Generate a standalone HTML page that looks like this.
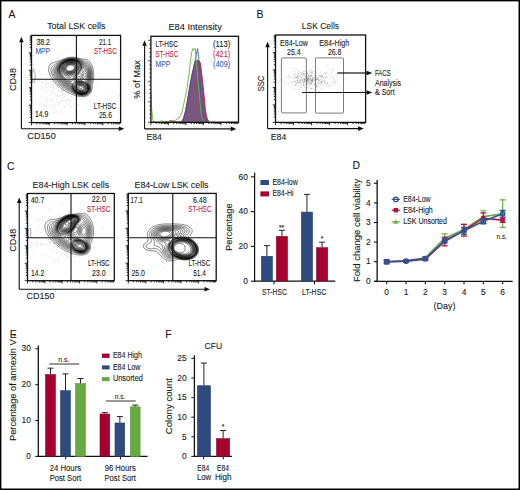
<!DOCTYPE html><html><head><meta charset="utf-8"><style>html,body{margin:0;padding:0;background:#fff;}svg{display:block;font-family:"Liberation Sans",sans-serif;}</style></head><body>
<svg width="520" height="490" viewBox="0 0 520 490" font-family="Liberation Sans, sans-serif">
<defs><clipPath id="cA"><rect x="31.5" y="35.5" width="89" height="87"/></clipPath><clipPath id="cB"><rect x="275.5" y="35.2" width="90" height="87"/></clipPath><clipPath id="cC1"><rect x="27.5" y="193.7" width="86.8" height="87"/></clipPath><clipPath id="cC2"><rect x="128.3" y="193.5" width="87.9" height="87.2"/></clipPath><clipPath id="cH"><rect x="151" y="36.5" width="87.5" height="86"/></clipPath></defs>
<rect x="0" y="0" width="520" height="490" fill="#fff"/>
<text x="8.6" y="17.7" font-size="10.4" fill="#1a1a1a" stroke="#1a1a1a" stroke-width="0.1" text-anchor="start">A</text>
<text x="256.6" y="18.0" font-size="10.4" fill="#1a1a1a" stroke="#1a1a1a" stroke-width="0.1" text-anchor="start">B</text>
<text x="7.0" y="169.6" font-size="10.4" fill="#1a1a1a" stroke="#1a1a1a" stroke-width="0.1" text-anchor="start">C</text>
<text x="352.4" y="169.4" font-size="10.4" fill="#1a1a1a" stroke="#1a1a1a" stroke-width="0.1" text-anchor="start">D</text>
<text x="165.2" y="337.6" font-size="10.4" fill="#1a1a1a" stroke="#1a1a1a" stroke-width="0.1" text-anchor="start">F</text>
<path d="M83.6,96.7 L83.1,96.7 L82.6,96.8 L82.1,96.8 L81.6,96.7 L81.1,96.7 L80.7,96.7 L80.4,96.6 L79.9,96.6 L79.4,96.5 L78.9,96.4 L78.6,96.4 L78.1,96.3 L77.7,96.2 L77.4,96.1 L76.9,96.0 L76.6,95.9 L76.1,95.8 L75.8,95.7 L75.4,95.5 L75.0,95.4 L74.6,95.3 L74.3,95.2 L73.9,95.0 L73.6,94.9 L73.1,94.8 L72.9,94.7 L72.4,94.5 L72.1,94.4 L71.6,94.2 L71.4,94.1 L71.0,93.9 L70.6,93.8 L70.4,93.6 L69.9,93.4 L69.6,93.3 L69.3,93.2 L68.9,93.0 L68.6,92.8 L68.3,92.7 L67.9,92.5 L67.6,92.3 L67.3,92.2 L66.8,91.9 L66.6,91.8 L66.3,91.6 L65.9,91.4 L65.6,91.2 L65.3,91.1 L65.1,90.9 L64.7,90.7 L64.3,90.4 L64.1,90.3 L63.8,90.1 L63.5,89.9 L63.2,89.7 L62.8,89.4 L62.6,89.3 L62.3,89.1 L62.1,88.9 L61.8,88.7 L61.4,88.4 L61.1,88.2 L60.8,87.9 L60.6,87.8 L60.3,87.6 L60.1,87.3 L59.8,87.1 L59.5,86.9 L59.2,86.6 L59.0,86.4 L58.7,86.1 L58.4,85.9 L58.1,85.6 L57.8,85.4 L57.6,85.1 L57.3,84.9 L57.1,84.7 L56.8,84.4 L56.6,84.2 L56.3,83.9 L56.1,83.6 L55.8,83.4 L55.6,83.1 L55.4,82.9 L55.1,82.6 L54.9,82.4 L54.7,82.1 L54.5,81.9 L54.3,81.6 L54.1,81.4 L53.8,81.1 L53.6,80.7 L53.3,80.4 L53.1,80.1 L52.9,79.9 L52.7,79.6 L52.6,79.4 L52.3,79.0 L52.1,78.6 L51.9,78.4 L51.7,78.1 L51.6,77.8 L51.3,77.4 L51.1,77.1 L51.0,76.9 L50.8,76.5 L50.6,76.1 L50.5,75.9 L50.3,75.6 L50.1,75.1 L50.0,74.9 L49.8,74.4 L49.7,74.1 L49.6,73.8 L49.4,73.4 L49.3,73.1 L49.2,72.6 L49.0,72.2 L49.0,71.9 L48.8,71.4 L48.8,71.1 L48.7,70.6 L48.7,70.1 L48.6,69.6 L48.6,69.1 L48.6,68.6 L48.7,68.1 L48.8,67.6 L48.8,67.3 L48.9,66.8 L49.0,66.5 L49.2,66.1 L49.4,65.8 L49.6,65.5 L49.8,65.1 L50.0,64.8 L50.2,64.6 L50.4,64.3 L50.7,64.1 L51.0,63.8 L51.3,63.6 L51.6,63.4 L51.8,63.3 L52.2,63.1 L52.6,62.9 L52.8,62.8 L53.3,62.6 L53.6,62.5 L54.1,62.4 L54.3,62.3 L54.8,62.2 L55.1,62.1 L55.6,62.0 L56.1,61.8 L56.3,61.8 L56.8,61.6 L57.1,61.5 L57.6,61.4 L57.8,61.3 L58.3,61.1 L58.6,61.0 L59.1,60.8 L59.3,60.7 L59.7,60.6 L60.1,60.4 L60.3,60.3 L60.8,60.1 L61.1,60.0 L61.4,59.8 L61.8,59.6 L62.1,59.5 L62.6,59.3 L62.8,59.2 L63.3,59.1 L63.6,58.9 L63.9,58.8 L64.3,58.7 L64.6,58.6 L65.1,58.4 L65.4,58.3 L65.8,58.2 L66.2,58.1 L66.6,58.0 L67.1,57.8 L67.4,57.8 L67.9,57.7 L68.4,57.6 L68.6,57.5 L69.1,57.4 L69.6,57.4 L70.1,57.3 L70.4,57.3 L70.9,57.3 L71.4,57.2 L71.9,57.2 L72.4,57.2 L72.9,57.2 L73.4,57.2 L73.9,57.3 L74.4,57.3 L74.6,57.3 L75.1,57.4 L75.6,57.5 L76.1,57.5 L76.4,57.6 L76.9,57.7 L77.4,57.8 L77.6,57.9 L78.1,58.0 L78.5,58.1 L78.9,58.2 L79.4,58.3 L79.6,58.4 L80.1,58.5 L80.4,58.6 L80.9,58.7 L81.4,58.8 L81.6,58.8 L82.1,58.9 L82.6,59.0 L83.1,59.1 L83.4,59.1 L83.9,59.1 L84.4,59.2 L84.9,59.2 L85.4,59.3 L85.7,59.3 L86.2,59.4 L86.6,59.6 L86.9,59.7 L87.2,59.8 L87.7,60.0 L87.9,60.2 L88.2,60.4 L88.5,60.6 L88.8,60.8 L89.1,61.1 L89.3,61.3 L89.6,61.6 L89.8,61.8 L90.0,62.1 L90.2,62.3 L90.4,62.6 L90.7,63.0 L90.9,63.3 L91.0,63.6 L91.2,63.8 L91.4,64.3 L91.6,64.6 L91.7,64.8 L91.9,65.3 L92.0,65.6 L92.2,66.0 L92.3,66.3 L92.4,66.7 L92.6,67.1 L92.7,67.5 L92.8,67.8 L92.9,68.3 L93.0,68.6 L93.1,69.1 L93.2,69.5 L93.3,69.8 L93.3,70.4 L93.4,70.9 L93.5,71.1 L93.5,71.6 L93.6,72.1 L93.6,72.6 L93.7,73.1 L93.7,73.4 L93.7,73.9 L93.7,74.4 L93.7,74.9 L93.7,75.4 L93.7,75.9 L93.7,76.4 L93.7,76.9 L93.7,77.1 L93.6,77.6 L93.6,78.1 L93.5,78.6 L93.5,79.1 L93.4,79.4 L93.4,79.9 L93.3,80.4 L93.2,80.9 L93.2,81.1 L93.1,81.6 L93.0,82.1 L92.9,82.4 L92.8,82.9 L92.7,83.4 L92.6,83.6 L92.5,84.1 L92.4,84.5 L92.3,84.9 L92.3,85.4 L92.2,85.9 L92.2,86.1 L92.1,86.6 L92.1,87.1 L92.1,87.6 L92.0,88.2 L92.0,88.7 L92.0,89.2 L91.9,89.4 L91.8,89.9 L91.7,90.4 L91.7,90.7 L91.5,91.2 L91.4,91.4 L91.2,91.9 L91.1,92.2 L90.9,92.4 L90.7,92.8 L90.4,93.2 L90.2,93.4 L90.0,93.7 L89.8,93.9 L89.6,94.2 L89.3,94.4 L89.0,94.7 L88.7,94.9 L88.4,95.1 L88.2,95.2 L87.8,95.4 L87.4,95.7 L87.2,95.8 L86.8,95.9 L86.4,96.1 L86.1,96.2 L85.7,96.3 L85.2,96.4 L84.9,96.5 L84.4,96.6 L83.9,96.7 L83.6,96.7Z M84.1,95.7 L83.6,95.8 L83.1,95.8 L82.6,95.8 L82.1,95.8 L81.6,95.8 L81.1,95.8 L80.6,95.7 L80.2,95.7 L79.9,95.6 L79.4,95.5 L78.9,95.4 L78.6,95.4 L78.1,95.3 L77.8,95.2 L77.4,95.0 L77.0,94.9 L76.6,94.8 L76.3,94.7 L75.9,94.5 L75.6,94.4 L75.1,94.2 L74.9,94.1 L74.5,93.9 L74.1,93.8 L73.9,93.6 L73.4,93.4 L73.1,93.3 L72.9,93.2 L72.4,92.9 L72.1,92.8 L71.9,92.7 L71.4,92.4 L71.1,92.3 L70.8,92.2 L70.4,91.9 L70.1,91.8 L69.8,91.7 L69.4,91.5 L69.1,91.3 L68.7,91.2 L68.4,91.0 L68.1,90.8 L67.8,90.7 L67.4,90.4 L67.1,90.3 L66.8,90.2 L66.4,89.9 L66.1,89.7 L65.8,89.6 L65.5,89.4 L65.1,89.2 L64.8,89.0 L64.6,88.8 L64.3,88.7 L64.0,88.4 L63.6,88.2 L63.3,88.0 L63.1,87.8 L62.8,87.6 L62.5,87.4 L62.2,87.1 L61.9,86.9 L61.6,86.7 L61.3,86.5 L61.1,86.3 L60.8,86.1 L60.6,85.9 L60.3,85.6 L60.0,85.4 L59.8,85.1 L59.5,84.9 L59.2,84.6 L58.9,84.4 L58.7,84.1 L58.4,83.9 L58.2,83.6 L57.9,83.4 L57.7,83.1 L57.4,82.9 L57.2,82.6 L57.0,82.4 L56.7,82.1 L56.5,81.9 L56.3,81.6 L56.1,81.3 L55.8,81.0 L55.6,80.7 L55.3,80.4 L55.1,80.1 L54.9,79.9 L54.7,79.6 L54.6,79.4 L54.3,79.0 L54.1,78.7 L53.9,78.4 L53.7,78.1 L53.6,77.9 L53.3,77.4 L53.1,77.1 L53.0,76.9 L52.8,76.5 L52.6,76.1 L52.5,75.9 L52.3,75.5 L52.2,75.1 L52.1,74.9 L51.9,74.4 L51.8,74.1 L51.6,73.6 L51.5,73.4 L51.4,72.9 L51.3,72.4 L51.2,72.1 L51.2,71.6 L51.1,71.1 L51.1,70.6 L51.1,70.1 L51.1,69.6 L51.2,69.1 L51.3,68.6 L51.4,68.3 L51.5,67.8 L51.6,67.6 L51.8,67.3 L52.1,66.8 L52.2,66.6 L52.4,66.3 L52.6,66.1 L52.9,65.8 L53.1,65.6 L53.4,65.3 L53.8,65.1 L54.1,64.9 L54.3,64.7 L54.6,64.6 L54.9,64.3 L55.3,64.1 L55.6,64.0 L55.8,63.8 L56.3,63.6 L56.6,63.4 L56.8,63.3 L57.2,63.1 L57.6,62.8 L57.8,62.7 L58.1,62.6 L58.5,62.3 L58.8,62.1 L59.1,62.0 L59.4,61.8 L59.8,61.6 L60.1,61.4 L60.3,61.3 L60.7,61.1 L61.1,60.9 L61.3,60.8 L61.7,60.6 L62.1,60.4 L62.3,60.3 L62.7,60.1 L63.1,59.9 L63.3,59.8 L63.8,59.6 L64.1,59.5 L64.5,59.3 L64.8,59.2 L65.2,59.1 L65.6,58.9 L66.0,58.8 L66.3,58.7 L66.8,58.6 L67.1,58.5 L67.6,58.4 L67.9,58.3 L68.4,58.2 L68.9,58.1 L69.3,58.1 L69.6,58.0 L70.1,58.0 L70.6,57.9 L71.1,57.9 L71.6,57.8 L72.1,57.8 L72.6,57.8 L73.1,57.9 L73.6,57.9 L74.1,57.9 L74.6,58.0 L75.1,58.1 L75.4,58.1 L75.9,58.2 L76.4,58.3 L76.6,58.3 L77.1,58.5 L77.5,58.6 L77.9,58.7 L78.3,58.8 L78.6,58.9 L79.1,59.1 L79.4,59.2 L79.8,59.3 L80.1,59.4 L80.5,59.6 L80.9,59.7 L81.2,59.8 L81.6,60.0 L81.9,60.1 L82.4,60.2 L82.7,60.3 L83.1,60.5 L83.6,60.6 L83.9,60.7 L84.4,60.8 L84.6,60.8 L85.2,61.0 L85.5,61.1 L85.9,61.2 L86.2,61.3 L86.7,61.5 L86.9,61.6 L87.2,61.8 L87.6,62.1 L87.9,62.3 L88.2,62.5 L88.4,62.7 L88.7,62.9 L88.9,63.2 L89.2,63.5 L89.4,63.8 L89.6,64.1 L89.8,64.3 L90.0,64.6 L90.2,64.9 L90.4,65.3 L90.6,65.6 L90.7,65.8 L90.9,66.3 L91.0,66.6 L91.2,66.9 L91.3,67.3 L91.4,67.6 L91.6,68.1 L91.7,68.3 L91.8,68.8 L91.9,69.2 L92.0,69.6 L92.1,70.1 L92.2,70.4 L92.3,70.9 L92.4,71.4 L92.4,71.8 L92.5,72.1 L92.5,72.6 L92.6,73.1 L92.6,73.6 L92.6,74.1 L92.6,74.6 L92.6,75.1 L92.6,75.6 L92.6,76.1 L92.6,76.6 L92.6,77.1 L92.5,77.6 L92.5,78.1 L92.4,78.4 L92.4,78.9 L92.3,79.4 L92.2,79.9 L92.2,80.1 L92.1,80.6 L92.0,81.1 L91.9,81.4 L91.8,81.9 L91.7,82.3 L91.6,82.6 L91.5,83.1 L91.4,83.4 L91.3,83.9 L91.2,84.4 L91.1,84.6 L91.1,85.1 L91.1,85.6 L91.1,86.1 L91.1,86.6 L91.1,87.1 L91.1,87.6 L91.1,88.2 L91.1,88.7 L91.1,89.2 L91.0,89.7 L90.9,90.1 L90.8,90.4 L90.7,90.9 L90.6,91.2 L90.4,91.5 L90.2,91.9 L90.1,92.2 L89.9,92.4 L89.7,92.7 L89.4,93.0 L89.2,93.3 L88.9,93.6 L88.7,93.8 L88.4,94.0 L88.1,94.2 L87.8,94.4 L87.4,94.6 L87.2,94.8 L86.8,94.9 L86.4,95.1 L86.2,95.2 L85.7,95.4 L85.4,95.4 L84.9,95.6 L84.4,95.7 L84.1,95.7Z M83.9,95.2 L83.4,95.3 L82.9,95.3 L82.4,95.3 L81.9,95.3 L81.4,95.3 L80.9,95.2 L80.4,95.2 L80.1,95.1 L79.6,95.1 L79.1,94.9 L78.9,94.9 L78.4,94.8 L78.1,94.7 L77.6,94.5 L77.3,94.4 L76.9,94.3 L76.6,94.2 L76.1,94.0 L75.9,93.8 L75.5,93.7 L75.1,93.5 L74.9,93.4 L74.5,93.2 L74.1,93.0 L73.9,92.8 L73.6,92.7 L73.2,92.4 L72.9,92.2 L72.6,92.1 L72.4,91.9 L71.9,91.7 L71.6,91.5 L71.4,91.3 L71.1,91.2 L70.7,90.9 L70.4,90.7 L70.1,90.6 L69.8,90.4 L69.4,90.2 L69.1,90.1 L68.8,89.9 L68.4,89.7 L68.1,89.6 L67.8,89.4 L67.4,89.2 L67.1,89.0 L66.8,88.9 L66.5,88.7 L66.1,88.4 L65.8,88.3 L65.6,88.1 L65.2,87.9 L64.8,87.7 L64.6,87.5 L64.3,87.3 L64.1,87.1 L63.7,86.9 L63.4,86.6 L63.1,86.5 L62.8,86.3 L62.6,86.1 L62.3,85.9 L62.0,85.6 L61.7,85.4 L61.4,85.1 L61.1,84.9 L60.8,84.6 L60.6,84.4 L60.3,84.2 L60.1,84.0 L59.8,83.7 L59.6,83.5 L59.3,83.2 L59.1,83.0 L58.8,82.7 L58.6,82.5 L58.3,82.2 L58.1,81.9 L57.8,81.7 L57.6,81.4 L57.4,81.1 L57.2,80.9 L57.0,80.6 L56.8,80.4 L56.6,80.1 L56.3,79.8 L56.1,79.5 L55.8,79.1 L55.7,78.9 L55.5,78.6 L55.3,78.3 L55.1,77.9 L54.9,77.6 L54.7,77.4 L54.6,77.0 L54.3,76.6 L54.2,76.4 L54.1,76.0 L53.9,75.6 L53.8,75.4 L53.6,74.9 L53.5,74.6 L53.3,74.1 L53.2,73.9 L53.1,73.4 L53.0,73.1 L52.9,72.6 L52.9,72.1 L52.8,71.6 L52.8,71.1 L52.8,70.6 L52.9,70.1 L53.0,69.6 L53.1,69.2 L53.2,68.8 L53.3,68.5 L53.5,68.1 L53.6,67.8 L53.8,67.6 L54.1,67.2 L54.3,66.9 L54.5,66.6 L54.8,66.3 L55.0,66.1 L55.3,65.8 L55.5,65.6 L55.8,65.3 L56.1,65.1 L56.3,64.9 L56.6,64.7 L56.8,64.5 L57.1,64.3 L57.4,64.1 L57.7,63.8 L58.1,63.6 L58.3,63.4 L58.6,63.2 L58.8,63.0 L59.1,62.8 L59.5,62.6 L59.8,62.3 L60.1,62.2 L60.3,62.0 L60.6,61.8 L61.0,61.6 L61.3,61.4 L61.6,61.3 L61.9,61.1 L62.3,60.8 L62.6,60.7 L62.9,60.6 L63.3,60.3 L63.6,60.2 L63.9,60.1 L64.3,59.9 L64.6,59.8 L65.1,59.6 L65.3,59.5 L65.8,59.3 L66.1,59.3 L66.6,59.1 L66.8,59.0 L67.4,58.9 L67.7,58.8 L68.1,58.7 L68.6,58.6 L68.9,58.6 L69.4,58.5 L69.9,58.4 L70.4,58.4 L70.9,58.3 L71.2,58.3 L71.6,58.3 L72.1,58.3 L72.6,58.3 L73.1,58.3 L73.4,58.3 L73.9,58.4 L74.4,58.4 L74.9,58.5 L75.3,58.6 L75.6,58.6 L76.1,58.7 L76.5,58.8 L76.9,58.9 L77.4,59.1 L77.6,59.1 L78.1,59.3 L78.4,59.4 L78.8,59.6 L79.1,59.7 L79.5,59.8 L79.9,60.0 L80.1,60.1 L80.6,60.3 L80.9,60.5 L81.1,60.6 L81.6,60.8 L81.9,60.9 L82.2,61.1 L82.6,61.3 L82.9,61.4 L83.4,61.6 L83.6,61.7 L84.0,61.8 L84.4,62.0 L84.7,62.1 L85.2,62.3 L85.4,62.4 L85.9,62.6 L86.2,62.7 L86.4,62.8 L86.8,63.1 L87.2,63.3 L87.4,63.5 L87.7,63.7 L87.9,63.9 L88.2,64.1 L88.4,64.4 L88.7,64.6 L88.9,64.9 L89.2,65.3 L89.4,65.6 L89.5,65.8 L89.7,66.1 L89.9,66.5 L90.1,66.8 L90.2,67.1 L90.4,67.5 L90.5,67.8 L90.7,68.2 L90.8,68.6 L90.9,68.9 L91.1,69.3 L91.2,69.8 L91.3,70.1 L91.4,70.6 L91.4,70.9 L91.5,71.4 L91.6,71.9 L91.7,72.4 L91.7,72.6 L91.7,73.1 L91.8,73.6 L91.8,74.1 L91.8,74.6 L91.8,75.1 L91.8,75.6 L91.8,76.1 L91.8,76.6 L91.7,77.1 L91.7,77.6 L91.7,77.9 L91.6,78.4 L91.5,78.9 L91.4,79.4 L91.4,79.6 L91.3,80.1 L91.2,80.6 L91.1,80.9 L91.0,81.4 L90.9,81.6 L90.8,82.1 L90.7,82.5 L90.6,82.9 L90.4,83.4 L90.4,83.6 L90.3,84.1 L90.3,84.6 L90.3,85.1 L90.3,85.6 L90.4,86.1 L90.4,86.5 L90.5,86.9 L90.5,87.4 L90.5,87.9 L90.5,88.4 L90.5,88.9 L90.5,89.4 L90.4,89.7 L90.3,90.2 L90.2,90.7 L90.1,90.9 L89.9,91.3 L89.7,91.7 L89.6,91.9 L89.4,92.2 L89.2,92.5 L88.9,92.8 L88.7,93.0 L88.4,93.3 L88.2,93.5 L87.9,93.7 L87.5,93.9 L87.2,94.1 L86.9,94.3 L86.6,94.4 L86.2,94.6 L85.9,94.7 L85.4,94.9 L85.2,94.9 L84.6,95.1 L84.1,95.2 L83.9,95.2Z M82.6,94.9 L82.1,94.9 L81.6,94.9 L81.4,94.9 L80.9,94.9 L80.4,94.8 L79.9,94.7 L79.6,94.7 L79.1,94.6 L78.6,94.4 L78.4,94.4 L77.9,94.2 L77.6,94.1 L77.1,93.9 L76.9,93.8 L76.5,93.7 L76.1,93.5 L75.9,93.4 L75.5,93.2 L75.1,93.0 L74.9,92.8 L74.6,92.7 L74.2,92.4 L73.9,92.2 L73.6,92.1 L73.4,91.9 L73.1,91.7 L72.7,91.4 L72.4,91.2 L72.1,91.0 L71.9,90.8 L71.6,90.6 L71.3,90.4 L71.0,90.2 L70.6,89.9 L70.4,89.8 L70.1,89.6 L69.8,89.4 L69.4,89.2 L69.1,89.0 L68.9,88.9 L68.4,88.7 L68.1,88.5 L67.9,88.4 L67.5,88.2 L67.1,88.0 L66.8,87.8 L66.6,87.6 L66.1,87.4 L65.8,87.2 L65.6,87.1 L65.3,86.9 L64.9,86.6 L64.6,86.4 L64.3,86.2 L64.1,86.1 L63.8,85.9 L63.5,85.6 L63.2,85.4 L62.8,85.1 L62.6,84.9 L62.3,84.7 L62.1,84.5 L61.8,84.3 L61.6,84.1 L61.3,83.9 L61.0,83.6 L60.8,83.4 L60.5,83.1 L60.2,82.9 L60.0,82.6 L59.7,82.4 L59.5,82.1 L59.3,81.9 L59.0,81.6 L58.8,81.4 L58.6,81.1 L58.3,80.8 L58.1,80.5 L57.8,80.2 L57.6,79.9 L57.4,79.6 L57.2,79.4 L57.0,79.1 L56.8,78.8 L56.6,78.4 L56.4,78.1 L56.2,77.9 L56.1,77.6 L55.8,77.1 L55.7,76.9 L55.5,76.6 L55.3,76.1 L55.2,75.9 L55.1,75.6 L54.9,75.1 L54.8,74.9 L54.6,74.4 L54.6,74.1 L54.4,73.6 L54.3,73.1 L54.3,72.9 L54.2,72.4 L54.2,71.9 L54.2,71.4 L54.2,70.9 L54.2,70.4 L54.3,70.0 L54.4,69.6 L54.6,69.1 L54.6,68.8 L54.8,68.5 L55.0,68.1 L55.1,67.8 L55.3,67.5 L55.6,67.2 L55.8,66.8 L56.0,66.6 L56.2,66.3 L56.4,66.1 L56.6,65.8 L56.9,65.6 L57.1,65.3 L57.4,65.1 L57.6,64.8 L57.9,64.6 L58.2,64.3 L58.4,64.1 L58.7,63.8 L59.0,63.6 L59.3,63.4 L59.6,63.2 L59.8,63.0 L60.1,62.8 L60.4,62.6 L60.7,62.3 L61.1,62.1 L61.3,61.9 L61.6,61.8 L61.9,61.6 L62.3,61.3 L62.6,61.2 L62.8,61.0 L63.3,60.8 L63.6,60.7 L63.8,60.5 L64.3,60.3 L64.6,60.2 L64.9,60.1 L65.3,59.9 L65.6,59.8 L66.1,59.6 L66.3,59.6 L66.8,59.4 L67.2,59.3 L67.6,59.2 L68.1,59.1 L68.4,59.0 L68.9,58.9 L69.4,58.9 L69.6,58.8 L70.1,58.8 L70.6,58.7 L71.1,58.7 L71.6,58.7 L72.1,58.6 L72.6,58.7 L73.1,58.7 L73.6,58.7 L74.1,58.8 L74.5,58.8 L74.9,58.9 L75.4,59.0 L75.9,59.1 L76.1,59.1 L76.6,59.3 L76.9,59.3 L77.4,59.5 L77.6,59.6 L78.1,59.8 L78.4,59.9 L78.9,60.1 L79.1,60.2 L79.4,60.3 L79.9,60.5 L80.1,60.7 L80.4,60.8 L80.9,61.1 L81.1,61.2 L81.4,61.4 L81.8,61.6 L82.1,61.8 L82.4,61.9 L82.6,62.1 L83.1,62.3 L83.4,62.5 L83.6,62.6 L84.1,62.8 L84.4,63.0 L84.6,63.1 L85.1,63.3 L85.4,63.5 L85.7,63.6 L86.1,63.8 L86.4,64.0 L86.7,64.2 L86.9,64.4 L87.2,64.6 L87.5,64.8 L87.8,65.1 L88.0,65.3 L88.2,65.6 L88.4,65.8 L88.7,66.1 L88.9,66.5 L89.1,66.8 L89.3,67.1 L89.4,67.3 L89.7,67.8 L89.8,68.1 L89.9,68.4 L90.1,68.8 L90.2,69.1 L90.4,69.6 L90.4,69.8 L90.6,70.4 L90.7,70.7 L90.7,71.1 L90.8,71.6 L90.9,72.1 L91.0,72.4 L91.0,72.9 L91.1,73.4 L91.1,73.9 L91.1,74.4 L91.1,74.9 L91.1,75.4 L91.1,75.9 L91.1,76.4 L91.1,76.9 L91.0,77.4 L91.0,77.9 L90.9,78.2 L90.8,78.6 L90.8,79.1 L90.7,79.5 L90.6,79.9 L90.5,80.4 L90.4,80.6 L90.3,81.1 L90.2,81.5 L90.0,81.9 L89.9,82.3 L89.8,82.6 L89.7,83.1 L89.7,83.4 L89.6,83.9 L89.6,84.4 L89.7,84.9 L89.7,85.1 L89.8,85.6 L89.9,86.1 L89.9,86.5 L90.0,86.9 L90.0,87.4 L90.1,87.9 L90.1,88.4 L90.1,88.9 L90.0,89.4 L89.9,89.9 L89.9,90.2 L89.7,90.7 L89.6,90.9 L89.4,91.3 L89.2,91.7 L89.0,91.9 L88.9,92.2 L88.7,92.4 L88.4,92.7 L88.2,92.9 L87.9,93.2 L87.5,93.4 L87.2,93.7 L86.9,93.8 L86.7,94.0 L86.2,94.2 L85.9,94.3 L85.5,94.4 L85.2,94.5 L84.7,94.7 L84.4,94.7 L83.9,94.8 L83.4,94.9 L82.9,94.9 L82.6,94.9Z M84.1,94.5 L83.6,94.5 L83.1,94.6 L82.6,94.6 L82.1,94.6 L81.6,94.6 L81.1,94.6 L80.6,94.5 L80.1,94.5 L79.9,94.4 L79.4,94.3 L78.9,94.2 L78.6,94.1 L78.1,94.0 L77.9,93.9 L77.4,93.7 L77.1,93.6 L76.7,93.4 L76.4,93.3 L76.1,93.1 L75.7,92.9 L75.4,92.7 L75.1,92.6 L74.9,92.4 L74.5,92.2 L74.1,91.9 L73.9,91.7 L73.6,91.5 L73.4,91.4 L73.1,91.2 L72.8,90.9 L72.5,90.7 L72.2,90.4 L71.9,90.2 L71.6,89.9 L71.4,89.7 L71.1,89.5 L70.9,89.3 L70.6,89.1 L70.4,88.9 L70.0,88.7 L69.6,88.4 L69.4,88.3 L69.1,88.1 L68.7,87.9 L68.4,87.7 L68.1,87.6 L67.8,87.4 L67.4,87.2 L67.1,87.0 L66.8,86.9 L66.5,86.6 L66.1,86.4 L65.8,86.3 L65.6,86.1 L65.2,85.9 L64.9,85.6 L64.6,85.5 L64.3,85.3 L64.1,85.1 L63.8,84.9 L63.5,84.6 L63.1,84.4 L62.8,84.1 L62.6,83.9 L62.3,83.7 L62.1,83.5 L61.8,83.3 L61.6,83.1 L61.3,82.8 L61.1,82.6 L60.8,82.4 L60.6,82.1 L60.3,81.8 L60.1,81.6 L59.8,81.3 L59.6,81.0 L59.3,80.7 L59.1,80.4 L58.8,80.1 L58.6,79.9 L58.4,79.6 L58.3,79.4 L58.1,79.1 L57.8,78.8 L57.6,78.4 L57.4,78.1 L57.3,77.9 L57.1,77.5 L56.8,77.1 L56.7,76.9 L56.6,76.6 L56.4,76.1 L56.2,75.9 L56.1,75.4 L55.9,75.1 L55.8,74.8 L55.7,74.4 L55.6,73.9 L55.5,73.6 L55.4,73.1 L55.3,72.6 L55.3,72.4 L55.3,71.9 L55.3,71.4 L55.3,70.9 L55.3,70.5 L55.4,70.1 L55.5,69.6 L55.6,69.3 L55.7,68.8 L55.8,68.6 L56.1,68.1 L56.2,67.8 L56.3,67.6 L56.6,67.2 L56.8,66.8 L56.9,66.6 L57.1,66.3 L57.3,66.1 L57.6,65.8 L57.8,65.5 L58.1,65.2 L58.3,64.9 L58.6,64.7 L58.8,64.4 L59.1,64.2 L59.3,64.0 L59.6,63.7 L59.8,63.5 L60.1,63.3 L60.4,63.1 L60.7,62.8 L61.0,62.6 L61.3,62.4 L61.6,62.2 L61.8,62.0 L62.2,61.8 L62.6,61.6 L62.8,61.4 L63.1,61.3 L63.5,61.1 L63.8,60.9 L64.1,60.8 L64.5,60.6 L64.8,60.4 L65.1,60.3 L65.6,60.1 L65.8,60.1 L66.3,59.9 L66.6,59.8 L67.1,59.6 L67.4,59.6 L67.9,59.4 L68.4,59.3 L68.6,59.3 L69.1,59.2 L69.6,59.1 L70.0,59.1 L70.4,59.0 L70.9,59.0 L71.4,59.0 L71.9,58.9 L72.4,58.9 L72.9,59.0 L73.4,59.0 L73.9,59.0 L74.1,59.1 L74.6,59.1 L75.1,59.2 L75.5,59.3 L75.9,59.4 L76.4,59.5 L76.6,59.6 L77.1,59.8 L77.4,59.9 L77.9,60.1 L78.1,60.2 L78.5,60.3 L78.9,60.5 L79.1,60.6 L79.5,60.8 L79.9,61.0 L80.1,61.2 L80.4,61.3 L80.8,61.6 L81.1,61.8 L81.4,62.0 L81.6,62.1 L81.9,62.3 L82.3,62.6 L82.6,62.8 L82.9,63.0 L83.1,63.2 L83.4,63.3 L83.8,63.6 L84.1,63.8 L84.4,63.9 L84.6,64.1 L85.1,64.3 L85.4,64.5 L85.7,64.7 L85.9,64.8 L86.3,65.1 L86.7,65.3 L86.9,65.5 L87.2,65.7 L87.4,66.0 L87.7,66.2 L87.9,66.5 L88.2,66.8 L88.4,67.1 L88.5,67.3 L88.7,67.6 L88.9,68.0 L89.1,68.3 L89.2,68.6 L89.4,69.0 L89.6,69.3 L89.7,69.6 L89.8,70.1 L89.9,70.4 L90.0,70.9 L90.2,71.4 L90.2,71.6 L90.3,72.1 L90.4,72.6 L90.4,72.9 L90.5,73.4 L90.5,73.9 L90.5,74.4 L90.5,74.9 L90.5,75.4 L90.5,75.9 L90.5,76.4 L90.5,76.9 L90.4,77.2 L90.4,77.6 L90.3,78.1 L90.2,78.6 L90.2,78.9 L90.0,79.4 L89.9,79.9 L89.9,80.1 L89.7,80.6 L89.6,80.9 L89.5,81.4 L89.4,81.6 L89.2,82.1 L89.2,82.4 L89.0,82.9 L89.0,83.4 L89.0,83.9 L89.1,84.4 L89.2,84.9 L89.2,85.1 L89.3,85.6 L89.4,86.0 L89.5,86.4 L89.6,86.9 L89.7,87.4 L89.7,87.6 L89.7,88.2 L89.7,88.7 L89.7,89.2 L89.7,89.4 L89.6,89.9 L89.4,90.4 L89.3,90.7 L89.2,91.0 L88.9,91.4 L88.8,91.7 L88.6,91.9 L88.4,92.2 L88.2,92.4 L87.9,92.7 L87.6,92.9 L87.3,93.2 L86.9,93.4 L86.7,93.6 L86.4,93.7 L86.0,93.9 L85.7,94.0 L85.3,94.2 L84.9,94.3 L84.4,94.4 L84.1,94.5Z M84.1,94.2 L83.6,94.3 L83.1,94.3 L82.6,94.4 L82.1,94.4 L81.6,94.4 L81.1,94.3 L80.6,94.3 L80.1,94.2 L79.9,94.2 L79.4,94.1 L78.9,93.9 L78.6,93.9 L78.1,93.7 L77.9,93.6 L77.4,93.4 L77.1,93.3 L76.8,93.2 L76.4,92.9 L76.1,92.8 L75.9,92.7 L75.4,92.4 L75.1,92.2 L74.9,92.1 L74.6,91.9 L74.3,91.7 L74.0,91.4 L73.7,91.2 L73.4,90.9 L73.1,90.7 L72.9,90.4 L72.6,90.2 L72.4,90.0 L72.1,89.7 L71.9,89.5 L71.6,89.2 L71.4,89.0 L71.1,88.7 L70.9,88.5 L70.6,88.3 L70.4,88.1 L70.1,87.9 L69.8,87.6 L69.4,87.4 L69.1,87.3 L68.9,87.1 L68.5,86.9 L68.1,86.7 L67.9,86.6 L67.5,86.4 L67.1,86.2 L66.8,86.0 L66.6,85.9 L66.2,85.6 L65.8,85.4 L65.6,85.3 L65.3,85.1 L65.0,84.9 L64.7,84.6 L64.3,84.4 L64.1,84.2 L63.8,84.0 L63.6,83.8 L63.3,83.6 L63.0,83.4 L62.7,83.1 L62.4,82.9 L62.2,82.6 L61.9,82.4 L61.6,82.1 L61.4,81.9 L61.1,81.6 L60.9,81.4 L60.7,81.1 L60.4,80.9 L60.2,80.6 L60.0,80.4 L59.8,80.1 L59.6,79.9 L59.3,79.5 L59.1,79.2 L58.8,78.9 L58.7,78.6 L58.5,78.4 L58.3,78.1 L58.1,77.7 L57.9,77.4 L57.8,77.1 L57.6,76.7 L57.4,76.4 L57.3,76.1 L57.1,75.6 L57.0,75.4 L56.8,75.0 L56.7,74.6 L56.6,74.2 L56.5,73.9 L56.4,73.4 L56.3,73.1 L56.2,72.6 L56.2,72.1 L56.2,71.6 L56.2,71.1 L56.2,70.6 L56.2,70.1 L56.3,69.7 L56.4,69.3 L56.6,68.8 L56.6,68.6 L56.8,68.1 L57.0,67.8 L57.1,67.6 L57.3,67.1 L57.5,66.8 L57.7,66.6 L57.8,66.3 L58.1,66.0 L58.3,65.7 L58.6,65.4 L58.8,65.1 L59.0,64.8 L59.3,64.6 L59.5,64.3 L59.8,64.1 L60.1,63.8 L60.3,63.6 L60.6,63.4 L60.8,63.2 L61.1,63.0 L61.3,62.8 L61.6,62.6 L62.0,62.3 L62.3,62.1 L62.6,61.9 L62.8,61.8 L63.2,61.6 L63.6,61.4 L63.8,61.2 L64.1,61.1 L64.6,60.9 L64.8,60.7 L65.3,60.6 L65.6,60.4 L65.9,60.3 L66.3,60.2 L66.6,60.1 L67.1,59.9 L67.5,59.8 L67.9,59.7 L68.4,59.6 L68.6,59.6 L69.1,59.5 L69.6,59.4 L70.1,59.3 L70.4,59.3 L70.9,59.3 L71.4,59.2 L71.9,59.2 L72.4,59.2 L72.9,59.2 L73.4,59.3 L73.8,59.3 L74.1,59.4 L74.6,59.4 L75.1,59.5 L75.4,59.6 L75.9,59.7 L76.3,59.8 L76.6,59.9 L77.1,60.1 L77.4,60.2 L77.7,60.3 L78.1,60.5 L78.4,60.6 L78.8,60.8 L79.1,61.0 L79.4,61.2 L79.7,61.3 L80.1,61.6 L80.4,61.8 L80.6,62.0 L80.9,62.1 L81.1,62.3 L81.5,62.6 L81.8,62.8 L82.1,63.1 L82.4,63.3 L82.6,63.5 L82.9,63.8 L83.1,64.0 L83.4,64.2 L83.6,64.3 L84.0,64.6 L84.3,64.8 L84.6,65.1 L84.9,65.2 L85.2,65.4 L85.5,65.6 L85.9,65.8 L86.2,66.0 L86.4,66.2 L86.7,66.4 L86.9,66.6 L87.2,66.9 L87.4,67.1 L87.7,67.4 L87.9,67.7 L88.2,68.1 L88.3,68.3 L88.5,68.6 L88.7,69.0 L88.9,69.3 L89.0,69.6 L89.2,70.1 L89.2,70.4 L89.4,70.9 L89.5,71.1 L89.6,71.6 L89.7,71.9 L89.8,72.4 L89.8,72.9 L89.9,73.4 L89.9,73.6 L90.0,74.1 L90.0,74.6 L90.0,75.1 L90.0,75.6 L89.9,76.1 L89.9,76.6 L89.9,76.9 L89.8,77.4 L89.7,77.9 L89.7,78.3 L89.6,78.6 L89.5,79.1 L89.4,79.4 L89.3,79.9 L89.2,80.3 L89.0,80.6 L88.9,81.0 L88.8,81.4 L88.7,81.7 L88.5,82.1 L88.4,82.6 L88.4,82.9 L88.4,83.4 L88.4,83.6 L88.5,84.1 L88.6,84.6 L88.7,84.9 L88.9,85.4 L88.9,85.6 L89.1,86.1 L89.2,86.5 L89.3,86.9 L89.3,87.4 L89.4,87.9 L89.4,88.3 L89.4,88.7 L89.4,88.9 L89.3,89.4 L89.2,89.9 L89.2,90.2 L89.0,90.7 L88.9,90.9 L88.7,91.3 L88.4,91.7 L88.2,91.9 L88.0,92.2 L87.8,92.4 L87.5,92.7 L87.2,92.9 L86.9,93.1 L86.7,93.3 L86.4,93.4 L85.9,93.6 L85.7,93.8 L85.2,93.9 L84.9,94.0 L84.4,94.1 L84.1,94.2Z M84.1,94.0 L83.6,94.1 L83.1,94.1 L82.6,94.2 L82.1,94.2 L81.6,94.2 L81.1,94.1 L80.6,94.1 L80.1,94.0 L79.8,93.9 L79.4,93.8 L78.9,93.7 L78.6,93.6 L78.1,93.5 L77.9,93.4 L77.4,93.2 L77.1,93.0 L76.9,92.9 L76.4,92.7 L76.1,92.5 L75.9,92.4 L75.5,92.2 L75.1,91.9 L74.9,91.7 L74.6,91.5 L74.4,91.3 L74.1,91.1 L73.9,90.9 L73.6,90.7 L73.3,90.4 L73.1,90.2 L72.8,89.9 L72.6,89.7 L72.4,89.4 L72.1,89.1 L71.9,88.9 L71.6,88.6 L71.4,88.3 L71.1,88.0 L70.9,87.8 L70.6,87.5 L70.4,87.3 L70.1,87.1 L69.8,86.9 L69.5,86.6 L69.1,86.4 L68.9,86.3 L68.6,86.1 L68.1,85.9 L67.9,85.8 L67.6,85.6 L67.2,85.4 L66.8,85.2 L66.6,85.1 L66.3,84.9 L65.9,84.6 L65.6,84.4 L65.3,84.3 L65.1,84.1 L64.8,83.9 L64.4,83.6 L64.1,83.4 L63.8,83.2 L63.6,83.0 L63.3,82.8 L63.1,82.6 L62.8,82.3 L62.6,82.1 L62.3,81.9 L62.1,81.6 L61.8,81.4 L61.6,81.1 L61.3,80.9 L61.1,80.6 L60.8,80.3 L60.6,80.0 L60.3,79.7 L60.1,79.4 L59.9,79.1 L59.7,78.9 L59.5,78.6 L59.3,78.3 L59.1,77.9 L58.9,77.6 L58.8,77.4 L58.6,77.0 L58.4,76.6 L58.2,76.4 L58.1,76.0 L57.9,75.6 L57.8,75.4 L57.6,74.9 L57.5,74.6 L57.4,74.1 L57.3,73.9 L57.2,73.4 L57.1,72.9 L57.0,72.6 L57.0,72.1 L56.9,71.6 L56.9,71.1 L56.9,70.6 L57.0,70.1 L57.0,69.6 L57.1,69.3 L57.2,68.8 L57.3,68.5 L57.5,68.1 L57.6,67.8 L57.8,67.3 L57.9,67.1 L58.1,66.8 L58.3,66.4 L58.5,66.1 L58.7,65.8 L58.9,65.6 L59.1,65.3 L59.3,65.1 L59.6,64.8 L59.8,64.5 L60.1,64.3 L60.3,64.0 L60.6,63.8 L60.8,63.6 L61.1,63.3 L61.4,63.1 L61.8,62.8 L62.1,62.6 L62.3,62.4 L62.6,62.3 L62.9,62.1 L63.3,61.8 L63.6,61.7 L63.8,61.5 L64.2,61.3 L64.6,61.1 L64.8,61.0 L65.3,60.8 L65.6,60.7 L65.9,60.6 L66.3,60.4 L66.6,60.3 L67.1,60.2 L67.5,60.1 L67.9,60.0 L68.4,59.8 L68.6,59.8 L69.1,59.7 L69.6,59.6 L70.0,59.6 L70.4,59.5 L70.9,59.5 L71.4,59.5 L71.9,59.5 L72.4,59.5 L72.9,59.5 L73.4,59.5 L73.8,59.6 L74.1,59.6 L74.6,59.7 L75.1,59.8 L75.4,59.8 L75.9,60.0 L76.2,60.1 L76.6,60.2 L76.9,60.3 L77.4,60.5 L77.6,60.6 L78.1,60.8 L78.4,61.0 L78.6,61.1 L79.1,61.3 L79.4,61.5 L79.6,61.7 L79.9,61.9 L80.2,62.1 L80.5,62.3 L80.8,62.6 L81.1,62.8 L81.4,63.1 L81.6,63.3 L81.9,63.5 L82.1,63.8 L82.4,64.0 L82.6,64.3 L82.9,64.5 L83.1,64.8 L83.4,65.0 L83.6,65.3 L83.9,65.5 L84.1,65.7 L84.4,65.9 L84.7,66.1 L85.1,66.3 L85.4,66.5 L85.7,66.7 L85.9,66.9 L86.2,67.1 L86.5,67.3 L86.8,67.6 L87.0,67.8 L87.2,68.1 L87.5,68.3 L87.7,68.6 L87.9,69.0 L88.1,69.3 L88.3,69.6 L88.4,69.9 L88.6,70.4 L88.7,70.6 L88.9,71.1 L88.9,71.4 L89.1,71.9 L89.2,72.2 L89.2,72.6 L89.3,73.1 L89.4,73.6 L89.4,74.1 L89.4,74.4 L89.4,74.9 L89.4,75.4 L89.4,75.9 L89.4,76.1 L89.4,76.6 L89.3,77.1 L89.2,77.6 L89.2,77.9 L89.1,78.4 L88.9,78.9 L88.9,79.1 L88.7,79.6 L88.6,79.9 L88.5,80.4 L88.4,80.6 L88.2,81.1 L88.1,81.4 L87.9,81.9 L87.8,82.1 L87.8,82.6 L87.8,83.1 L87.9,83.5 L88.0,83.9 L88.2,84.4 L88.3,84.6 L88.4,85.1 L88.5,85.4 L88.7,85.8 L88.8,86.1 L88.9,86.6 L89.0,86.9 L89.1,87.4 L89.1,87.9 L89.1,88.4 L89.1,88.9 L89.1,89.4 L89.0,89.9 L88.9,90.2 L88.7,90.7 L88.6,90.9 L88.4,91.2 L88.2,91.6 L87.9,91.9 L87.7,92.1 L87.4,92.4 L87.2,92.6 L86.9,92.8 L86.7,93.0 L86.3,93.2 L85.9,93.4 L85.7,93.5 L85.2,93.7 L84.9,93.8 L84.4,93.9 L84.1,94.0Z M82.9,93.9 L82.4,94.0 L81.9,94.0 L81.4,93.9 L81.1,93.9 L80.6,93.9 L80.1,93.8 L79.6,93.7 L79.4,93.6 L78.9,93.5 L78.6,93.4 L78.1,93.2 L77.9,93.1 L77.4,92.9 L77.1,92.8 L76.8,92.7 L76.4,92.4 L76.1,92.3 L75.9,92.1 L75.5,91.9 L75.2,91.7 L74.9,91.4 L74.6,91.2 L74.4,91.0 L74.1,90.8 L73.9,90.6 L73.6,90.3 L73.4,90.1 L73.1,89.8 L72.9,89.5 L72.6,89.2 L72.4,88.9 L72.2,88.7 L72.0,88.4 L71.8,88.2 L71.6,87.9 L71.4,87.6 L71.1,87.2 L70.9,87.0 L70.6,86.7 L70.4,86.5 L70.1,86.3 L69.9,86.1 L69.6,85.9 L69.1,85.6 L68.9,85.5 L68.6,85.4 L68.2,85.1 L67.9,85.0 L67.6,84.8 L67.2,84.6 L66.8,84.4 L66.6,84.3 L66.3,84.1 L65.9,83.9 L65.6,83.7 L65.3,83.5 L65.1,83.3 L64.8,83.1 L64.5,82.9 L64.2,82.6 L63.9,82.4 L63.6,82.1 L63.3,81.9 L63.1,81.7 L62.8,81.5 L62.6,81.2 L62.3,81.0 L62.1,80.7 L61.8,80.5 L61.6,80.2 L61.3,79.9 L61.1,79.6 L60.9,79.4 L60.7,79.1 L60.6,78.9 L60.3,78.6 L60.1,78.2 L59.9,77.9 L59.7,77.6 L59.6,77.4 L59.3,76.9 L59.2,76.6 L59.0,76.4 L58.8,75.9 L58.7,75.6 L58.6,75.3 L58.4,74.9 L58.3,74.6 L58.1,74.1 L58.0,73.9 L57.9,73.4 L57.8,73.1 L57.7,72.6 L57.6,72.1 L57.6,71.7 L57.5,71.4 L57.5,70.9 L57.5,70.4 L57.6,69.8 L57.6,69.6 L57.7,69.1 L57.8,68.6 L57.9,68.3 L58.1,67.9 L58.2,67.6 L58.3,67.3 L58.6,66.8 L58.7,66.6 L58.8,66.3 L59.1,66.0 L59.3,65.6 L59.6,65.3 L59.8,65.1 L60.0,64.8 L60.2,64.6 L60.5,64.3 L60.7,64.1 L61.0,63.8 L61.3,63.6 L61.6,63.3 L61.8,63.1 L62.1,62.9 L62.3,62.7 L62.6,62.6 L62.9,62.3 L63.3,62.1 L63.6,61.9 L63.8,61.8 L64.2,61.6 L64.6,61.4 L64.8,61.3 L65.3,61.1 L65.6,60.9 L65.9,60.8 L66.3,60.6 L66.6,60.6 L67.1,60.4 L67.4,60.3 L67.9,60.2 L68.3,60.1 L68.6,60.0 L69.1,59.9 L69.6,59.8 L69.9,59.8 L70.4,59.7 L70.9,59.7 L71.4,59.7 L71.9,59.7 L72.4,59.7 L72.9,59.7 L73.4,59.7 L73.9,59.8 L74.1,59.8 L74.6,59.9 L75.1,60.0 L75.4,60.1 L75.9,60.2 L76.2,60.3 L76.6,60.5 L76.9,60.6 L77.4,60.8 L77.6,60.9 L78.0,61.1 L78.4,61.3 L78.6,61.4 L78.9,61.6 L79.3,61.8 L79.6,62.1 L79.9,62.2 L80.1,62.4 L80.4,62.7 L80.6,62.9 L80.9,63.1 L81.1,63.4 L81.4,63.6 L81.6,63.9 L81.9,64.2 L82.1,64.5 L82.4,64.8 L82.6,65.1 L82.8,65.3 L83.0,65.6 L83.3,65.8 L83.5,66.1 L83.7,66.3 L84.0,66.6 L84.3,66.8 L84.6,67.1 L84.9,67.3 L85.2,67.4 L85.4,67.6 L85.8,67.8 L86.1,68.1 L86.4,68.3 L86.7,68.6 L86.9,68.8 L87.1,69.1 L87.3,69.3 L87.5,69.6 L87.7,69.9 L87.9,70.3 L88.0,70.6 L88.2,70.9 L88.3,71.4 L88.4,71.6 L88.5,72.1 L88.7,72.6 L88.7,72.9 L88.8,73.4 L88.8,73.9 L88.9,74.4 L88.9,74.9 L88.9,75.4 L88.9,75.9 L88.8,76.4 L88.8,76.9 L88.7,77.4 L88.7,77.6 L88.5,78.1 L88.4,78.6 L88.3,78.9 L88.2,79.4 L88.1,79.6 L87.9,80.0 L87.7,80.4 L87.6,80.6 L87.4,81.1 L87.3,81.4 L87.2,81.9 L87.2,82.4 L87.2,82.9 L87.4,83.4 L87.5,83.6 L87.7,84.1 L87.8,84.4 L87.9,84.7 L88.1,85.1 L88.2,85.4 L88.4,85.9 L88.5,86.1 L88.6,86.6 L88.7,86.9 L88.8,87.4 L88.9,87.9 L88.9,88.4 L88.9,88.9 L88.8,89.4 L88.7,89.9 L88.6,90.2 L88.4,90.6 L88.3,90.9 L88.1,91.2 L87.9,91.5 L87.7,91.8 L87.4,92.1 L87.2,92.3 L86.9,92.5 L86.7,92.7 L86.3,92.9 L85.9,93.1 L85.7,93.2 L85.2,93.4 L84.9,93.5 L84.5,93.7 L84.1,93.7 L83.6,93.8 L83.1,93.9 L82.9,93.9Z M83.4,93.7 L82.9,93.7 L82.4,93.8 L81.9,93.8 L81.4,93.8 L80.9,93.7 L80.6,93.7 L80.1,93.6 L79.6,93.5 L79.3,93.4 L78.9,93.3 L78.5,93.2 L78.1,93.0 L77.8,92.9 L77.4,92.7 L77.1,92.6 L76.8,92.4 L76.4,92.2 L76.1,92.1 L75.9,91.9 L75.5,91.7 L75.2,91.4 L74.9,91.2 L74.6,90.9 L74.4,90.7 L74.1,90.5 L73.9,90.2 L73.6,90.0 L73.4,89.7 L73.2,89.4 L73.0,89.2 L72.8,88.9 L72.6,88.7 L72.4,88.3 L72.1,87.9 L71.9,87.6 L71.8,87.4 L71.6,87.1 L71.4,86.8 L71.1,86.4 L70.9,86.1 L70.7,85.9 L70.4,85.6 L70.1,85.4 L69.9,85.2 L69.6,85.1 L69.2,84.9 L68.9,84.7 L68.6,84.6 L68.2,84.4 L67.9,84.2 L67.6,84.1 L67.2,83.9 L66.8,83.7 L66.6,83.5 L66.3,83.4 L66.0,83.1 L65.6,82.9 L65.3,82.7 L65.1,82.5 L64.8,82.4 L64.6,82.1 L64.2,81.9 L63.9,81.6 L63.7,81.4 L63.4,81.1 L63.1,80.9 L62.9,80.6 L62.6,80.4 L62.4,80.1 L62.2,79.9 L62.0,79.6 L61.7,79.4 L61.6,79.1 L61.3,78.8 L61.1,78.5 L60.8,78.1 L60.7,77.9 L60.5,77.6 L60.3,77.3 L60.1,76.9 L59.9,76.6 L59.8,76.4 L59.6,75.9 L59.4,75.6 L59.3,75.4 L59.1,74.9 L59.0,74.6 L58.8,74.2 L58.7,73.9 L58.6,73.5 L58.5,73.1 L58.3,72.6 L58.3,72.4 L58.2,71.9 L58.1,71.4 L58.1,71.1 L58.0,70.6 L58.1,70.1 L58.1,69.8 L58.1,69.3 L58.2,68.8 L58.3,68.5 L58.4,68.1 L58.6,67.7 L58.7,67.3 L58.8,67.1 L59.1,66.6 L59.3,66.3 L59.4,66.1 L59.6,65.8 L59.8,65.5 L60.1,65.2 L60.3,64.9 L60.6,64.6 L60.8,64.3 L61.1,64.1 L61.3,63.9 L61.6,63.6 L61.8,63.4 L62.1,63.2 L62.3,63.0 L62.6,62.8 L63.0,62.6 L63.3,62.3 L63.6,62.2 L63.8,62.0 L64.2,61.8 L64.6,61.6 L64.8,61.5 L65.2,61.3 L65.6,61.2 L65.8,61.1 L66.3,60.9 L66.6,60.8 L67.1,60.6 L67.4,60.5 L67.9,60.4 L68.2,60.3 L68.6,60.2 L69.1,60.1 L69.4,60.1 L69.9,60.0 L70.4,59.9 L70.9,59.9 L71.4,59.9 L71.9,59.9 L72.4,59.9 L72.9,59.9 L73.4,59.9 L73.9,60.0 L74.2,60.1 L74.6,60.1 L75.1,60.2 L75.4,60.3 L75.9,60.5 L76.2,60.6 L76.6,60.7 L76.9,60.8 L77.4,61.0 L77.6,61.1 L78.0,61.3 L78.4,61.6 L78.6,61.7 L78.9,61.9 L79.2,62.1 L79.5,62.3 L79.8,62.6 L80.1,62.8 L80.4,63.1 L80.6,63.3 L80.9,63.6 L81.1,63.8 L81.3,64.1 L81.5,64.3 L81.7,64.6 L81.9,64.9 L82.1,65.3 L82.3,65.6 L82.5,65.8 L82.7,66.1 L82.9,66.5 L83.1,66.8 L83.3,67.1 L83.5,67.3 L83.8,67.6 L84.1,67.8 L84.4,68.1 L84.6,68.2 L84.9,68.4 L85.2,68.6 L85.6,68.8 L85.9,69.0 L86.2,69.2 L86.4,69.5 L86.7,69.7 L86.9,70.0 L87.1,70.4 L87.3,70.6 L87.4,70.9 L87.7,71.4 L87.8,71.6 L87.9,72.0 L88.0,72.4 L88.1,72.9 L88.2,73.1 L88.3,73.6 L88.3,74.1 L88.3,74.6 L88.4,75.1 L88.3,75.6 L88.3,76.1 L88.2,76.6 L88.2,77.1 L88.1,77.4 L88.0,77.9 L87.9,78.2 L87.8,78.6 L87.7,78.9 L87.5,79.4 L87.3,79.6 L87.2,80.0 L86.9,80.4 L86.8,80.6 L86.7,80.9 L86.5,81.4 L86.4,81.9 L86.5,82.4 L86.7,82.8 L86.8,83.1 L86.9,83.4 L87.2,83.8 L87.3,84.1 L87.4,84.4 L87.7,84.8 L87.8,85.1 L87.9,85.4 L88.1,85.9 L88.2,86.1 L88.4,86.6 L88.4,86.9 L88.6,87.4 L88.6,87.9 L88.6,88.4 L88.6,88.9 L88.6,89.4 L88.4,89.9 L88.4,90.2 L88.2,90.6 L88.0,90.9 L87.9,91.2 L87.7,91.4 L87.4,91.7 L87.2,92.0 L86.9,92.2 L86.7,92.4 L86.3,92.7 L85.9,92.9 L85.7,93.0 L85.3,93.2 L84.9,93.3 L84.6,93.4 L84.1,93.5 L83.6,93.6 L83.4,93.7Z M79.7,79.9 L80.1,79.8 L80.4,79.6 L80.6,79.2 L80.7,78.9 L80.6,78.6 L80.5,78.1 L80.4,77.8 L80.2,77.4 L80.1,77.1 L79.9,76.8 L79.6,76.5 L79.1,76.4 L78.7,76.6 L78.5,76.9 L78.3,77.1 L78.1,77.4 L78.0,77.9 L77.9,78.2 L77.8,78.6 L77.9,79.0 L78.0,79.4 L78.3,79.6 L78.6,79.8 L79.1,79.9 L79.4,79.9 L79.7,79.9Z M83.6,93.5 L83.1,93.5 L82.6,93.6 L82.1,93.6 L81.6,93.6 L81.1,93.6 L80.6,93.5 L80.1,93.4 L79.9,93.4 L79.4,93.3 L79.1,93.2 L78.6,93.0 L78.3,92.9 L77.9,92.8 L77.6,92.6 L77.1,92.4 L76.9,92.3 L76.6,92.1 L76.3,91.9 L75.9,91.7 L75.6,91.5 L75.4,91.3 L75.1,91.1 L74.9,90.9 L74.6,90.7 L74.4,90.4 L74.1,90.2 L73.9,89.9 L73.6,89.6 L73.4,89.3 L73.1,88.9 L72.9,88.7 L72.8,88.4 L72.6,88.1 L72.4,87.7 L72.2,87.4 L72.1,87.1 L71.9,86.7 L71.7,86.4 L71.6,86.1 L71.4,85.8 L71.1,85.4 L70.9,85.1 L70.6,84.9 L70.4,84.7 L70.1,84.5 L69.9,84.4 L69.4,84.1 L69.1,84.0 L68.8,83.9 L68.4,83.7 L68.1,83.6 L67.7,83.4 L67.4,83.2 L67.1,83.1 L66.8,82.9 L66.4,82.6 L66.1,82.5 L65.8,82.3 L65.6,82.1 L65.3,81.9 L64.9,81.6 L64.6,81.4 L64.3,81.2 L64.1,80.9 L63.8,80.7 L63.6,80.5 L63.3,80.2 L63.1,80.0 L62.8,79.7 L62.6,79.4 L62.4,79.1 L62.2,78.9 L62.0,78.6 L61.8,78.4 L61.6,78.1 L61.3,77.7 L61.1,77.4 L61.0,77.1 L60.8,76.9 L60.6,76.5 L60.4,76.1 L60.2,75.9 L60.1,75.5 L59.9,75.1 L59.7,74.9 L59.6,74.5 L59.4,74.1 L59.3,73.9 L59.1,73.4 L59.0,73.1 L58.9,72.6 L58.8,72.4 L58.7,71.9 L58.6,71.4 L58.6,71.1 L58.5,70.6 L58.5,70.1 L58.5,69.6 L58.6,69.2 L58.6,68.8 L58.8,68.3 L58.8,68.1 L59.0,67.6 L59.1,67.3 L59.3,66.9 L59.5,66.6 L59.6,66.3 L59.8,66.0 L60.1,65.6 L60.3,65.3 L60.5,65.1 L60.7,64.8 L61.0,64.6 L61.2,64.3 L61.4,64.1 L61.7,63.8 L62.0,63.6 L62.3,63.3 L62.6,63.1 L62.8,62.9 L63.1,62.8 L63.4,62.6 L63.8,62.3 L64.1,62.1 L64.3,62.0 L64.7,61.8 L65.1,61.6 L65.3,61.5 L65.7,61.3 L66.1,61.2 L66.3,61.1 L66.8,60.9 L67.1,60.8 L67.6,60.7 L67.9,60.6 L68.4,60.5 L68.9,60.4 L69.1,60.3 L69.6,60.2 L70.1,60.2 L70.6,60.1 L71.1,60.1 L71.4,60.1 L71.9,60.1 L72.2,60.1 L72.6,60.1 L73.1,60.1 L73.6,60.2 L74.1,60.3 L74.5,60.3 L74.9,60.4 L75.4,60.5 L75.6,60.6 L76.1,60.8 L76.4,60.9 L76.9,61.1 L77.1,61.2 L77.5,61.3 L77.9,61.5 L78.1,61.7 L78.4,61.8 L78.7,62.1 L79.1,62.3 L79.4,62.6 L79.6,62.8 L79.9,63.0 L80.1,63.3 L80.4,63.5 L80.6,63.8 L80.8,64.1 L81.0,64.3 L81.2,64.6 L81.4,64.9 L81.6,65.3 L81.8,65.6 L81.9,65.8 L82.1,66.3 L82.3,66.6 L82.4,66.9 L82.6,67.3 L82.7,67.6 L82.9,68.1 L83.0,68.3 L83.2,68.6 L83.4,68.8 L83.8,69.1 L84.1,69.3 L84.4,69.4 L84.8,69.6 L85.2,69.7 L85.4,69.9 L85.7,70.1 L86.0,70.4 L86.3,70.6 L86.5,70.9 L86.7,71.1 L86.9,71.4 L87.1,71.9 L87.2,72.1 L87.4,72.6 L87.5,72.9 L87.6,73.4 L87.7,73.7 L87.7,74.1 L87.7,74.6 L87.8,75.1 L87.7,75.6 L87.7,76.1 L87.7,76.4 L87.6,76.9 L87.5,77.4 L87.4,77.6 L87.2,78.1 L87.1,78.4 L86.9,78.8 L86.7,79.1 L86.6,79.4 L86.4,79.6 L86.2,79.9 L85.9,80.2 L85.7,80.6 L85.5,80.9 L85.4,81.4 L85.6,81.9 L85.7,82.1 L85.9,82.4 L86.2,82.8 L86.3,83.1 L86.5,83.4 L86.7,83.6 L86.9,84.0 L87.1,84.4 L87.3,84.6 L87.4,84.9 L87.6,85.4 L87.8,85.6 L87.9,86.0 L88.1,86.4 L88.2,86.7 L88.3,87.1 L88.4,87.6 L88.4,88.0 L88.4,88.4 L88.4,88.9 L88.4,89.2 L88.3,89.7 L88.2,90.1 L88.0,90.4 L87.9,90.7 L87.7,91.1 L87.4,91.4 L87.2,91.7 L86.9,91.9 L86.7,92.2 L86.4,92.3 L86.2,92.5 L85.9,92.7 L85.4,92.9 L85.2,93.0 L84.8,93.2 L84.4,93.3 L83.9,93.4 L83.6,93.5Z M80.9,80.6 L81.4,80.5 L81.9,80.4 L82.1,80.2 L82.4,79.9 L82.4,79.6 L82.4,79.4 L82.3,78.9 L82.1,78.6 L82.0,78.1 L81.9,77.9 L81.7,77.4 L81.6,77.1 L81.5,76.6 L81.4,76.2 L81.3,75.9 L81.2,75.4 L81.1,75.1 L81.0,74.6 L80.9,74.3 L80.6,73.9 L80.4,73.8 L79.9,73.8 L79.6,73.9 L79.2,74.1 L78.9,74.3 L78.6,74.5 L78.4,74.8 L78.1,75.0 L77.9,75.3 L77.6,75.6 L77.5,75.9 L77.3,76.1 L77.1,76.4 L76.9,76.9 L76.8,77.1 L76.7,77.6 L76.6,77.9 L76.5,78.4 L76.4,78.9 L76.5,79.4 L76.6,79.8 L76.9,80.1 L77.1,80.3 L77.4,80.4 L77.9,80.6 L78.2,80.6 L78.6,80.7 L79.1,80.7 L79.6,80.7 L80.1,80.7 L80.6,80.7 L80.9,80.6Z M82.6,93.4 L82.1,93.4 L81.6,93.4 L81.3,93.4 L80.9,93.4 L80.4,93.3 L79.9,93.2 L79.6,93.2 L79.1,93.0 L78.8,92.9 L78.4,92.8 L78.1,92.7 L77.6,92.5 L77.4,92.3 L77.0,92.2 L76.6,91.9 L76.4,91.8 L76.1,91.6 L75.8,91.4 L75.5,91.2 L75.2,90.9 L74.9,90.7 L74.6,90.4 L74.4,90.2 L74.2,89.9 L74.0,89.7 L73.8,89.4 L73.6,89.2 L73.4,88.8 L73.1,88.4 L72.9,88.2 L72.8,87.9 L72.6,87.5 L72.5,87.1 L72.4,86.9 L72.2,86.4 L72.1,86.1 L71.9,85.6 L71.8,85.4 L71.6,85.0 L71.4,84.6 L71.3,84.4 L71.0,84.1 L70.7,83.9 L70.4,83.7 L70.1,83.6 L69.6,83.4 L69.4,83.3 L68.9,83.1 L68.6,83.0 L68.3,82.9 L67.9,82.7 L67.6,82.6 L67.3,82.4 L66.8,82.2 L66.6,82.0 L66.3,81.9 L66.0,81.6 L65.6,81.4 L65.3,81.2 L65.1,81.0 L64.8,80.8 L64.6,80.5 L64.3,80.3 L64.1,80.1 L63.8,79.8 L63.6,79.6 L63.3,79.3 L63.1,79.0 L62.8,78.7 L62.6,78.4 L62.4,78.1 L62.2,77.9 L62.0,77.6 L61.8,77.3 L61.6,76.9 L61.4,76.6 L61.2,76.4 L61.1,76.1 L60.8,75.7 L60.6,75.4 L60.5,75.1 L60.3,74.8 L60.1,74.4 L60.0,74.1 L59.8,73.8 L59.7,73.4 L59.6,73.1 L59.4,72.6 L59.3,72.4 L59.1,71.9 L59.1,71.5 L59.0,71.1 L58.9,70.6 L58.9,70.1 L58.9,69.6 L59.0,69.1 L59.1,68.6 L59.1,68.3 L59.3,67.8 L59.4,67.6 L59.6,67.1 L59.7,66.8 L59.8,66.6 L60.1,66.1 L60.3,65.8 L60.4,65.6 L60.6,65.3 L60.8,65.1 L61.1,64.8 L61.3,64.5 L61.6,64.3 L61.8,64.0 L62.1,63.8 L62.3,63.6 L62.7,63.3 L63.0,63.1 L63.3,62.8 L63.6,62.7 L63.8,62.5 L64.1,62.3 L64.6,62.1 L64.8,61.9 L65.1,61.8 L65.6,61.6 L65.8,61.5 L66.2,61.3 L66.6,61.2 L66.9,61.1 L67.4,60.9 L67.7,60.8 L68.1,60.7 L68.6,60.6 L68.9,60.5 L69.4,60.4 L69.9,60.4 L70.3,60.3 L70.6,60.3 L71.1,60.3 L71.6,60.2 L72.1,60.2 L72.6,60.3 L73.1,60.3 L73.4,60.3 L73.9,60.4 L74.4,60.5 L74.8,60.6 L75.1,60.7 L75.6,60.8 L75.9,60.9 L76.4,61.1 L76.6,61.2 L77.0,61.3 L77.4,61.5 L77.6,61.7 L77.9,61.8 L78.3,62.1 L78.6,62.3 L78.9,62.5 L79.1,62.7 L79.4,62.9 L79.6,63.1 L79.9,63.4 L80.1,63.7 L80.4,64.0 L80.6,64.3 L80.8,64.6 L81.0,64.8 L81.1,65.2 L81.3,65.6 L81.5,65.8 L81.6,66.3 L81.7,66.6 L81.9,67.1 L81.9,67.3 L82.0,67.8 L82.1,68.3 L82.1,68.8 L82.1,69.3 L82.1,69.8 L82.0,70.4 L81.9,70.6 L81.6,71.0 L81.4,71.3 L81.1,71.5 L80.9,71.7 L80.6,71.9 L80.3,72.1 L80.0,72.4 L79.7,72.6 L79.4,72.8 L79.1,73.1 L78.9,73.3 L78.6,73.5 L78.4,73.7 L78.1,74.0 L77.9,74.2 L77.6,74.5 L77.4,74.7 L77.1,75.0 L76.9,75.4 L76.7,75.6 L76.5,75.9 L76.4,76.1 L76.1,76.6 L76.0,76.9 L75.9,77.2 L75.7,77.6 L75.6,77.9 L75.5,78.4 L75.4,78.9 L75.4,79.2 L75.4,79.6 L75.4,79.9 L75.6,80.4 L75.8,80.6 L76.1,80.8 L76.4,80.9 L76.9,81.0 L77.4,81.1 L77.9,81.1 L78.1,81.1 L78.6,81.1 L79.1,81.2 L79.6,81.2 L80.1,81.2 L80.6,81.2 L81.1,81.2 L81.6,81.1 L82.1,81.1 L82.6,81.2 L83.1,81.2 L83.6,81.3 L83.9,81.4 L84.3,81.6 L84.6,81.9 L84.9,82.1 L85.2,82.3 L85.4,82.6 L85.7,82.9 L85.9,83.1 L86.1,83.4 L86.3,83.6 L86.5,83.9 L86.7,84.1 L86.9,84.5 L87.1,84.9 L87.3,85.1 L87.4,85.4 L87.6,85.9 L87.7,86.1 L87.9,86.6 L88.0,86.9 L88.1,87.4 L88.2,87.7 L88.2,88.2 L88.2,88.7 L88.2,89.2 L88.1,89.4 L88.0,89.9 L87.9,90.2 L87.7,90.7 L87.5,90.9 L87.3,91.2 L87.1,91.4 L86.9,91.7 L86.6,91.9 L86.3,92.2 L86.0,92.4 L85.7,92.6 L85.4,92.7 L85.0,92.9 L84.6,93.0 L84.2,93.2 L83.9,93.2 L83.4,93.3 L82.9,93.4 L82.6,93.4Z M84.9,79.1 L84.5,79.1 L84.1,79.0 L83.9,78.8 L83.6,78.6 L83.4,78.3 L83.2,77.9 L83.0,77.6 L82.9,77.3 L82.7,76.9 L82.6,76.6 L82.5,76.1 L82.4,75.6 L82.4,75.3 L82.4,74.9 L82.3,74.4 L82.3,73.9 L82.4,73.4 L82.4,72.9 L82.4,72.6 L82.5,72.1 L82.6,71.8 L82.9,71.4 L83.1,71.2 L83.4,71.1 L83.9,71.0 L84.4,70.9 L84.9,71.0 L85.2,71.1 L85.6,71.4 L85.9,71.6 L86.1,71.9 L86.3,72.1 L86.4,72.4 L86.7,72.8 L86.8,73.1 L86.9,73.6 L87.0,73.9 L87.0,74.4 L87.1,74.9 L87.1,75.4 L87.0,75.9 L86.9,76.4 L86.9,76.6 L86.7,77.1 L86.6,77.4 L86.4,77.9 L86.3,78.1 L86.1,78.4 L85.8,78.6 L85.5,78.9 L85.2,79.1 L84.9,79.1Z M83.4,93.2 L82.9,93.2 L82.4,93.3 L81.9,93.3 L81.4,93.3 L80.9,93.2 L80.5,93.2 L80.1,93.1 L79.6,93.0 L79.3,92.9 L78.9,92.8 L78.5,92.7 L78.1,92.5 L77.9,92.4 L77.4,92.2 L77.1,92.0 L76.9,91.9 L76.5,91.7 L76.1,91.4 L75.9,91.2 L75.6,91.0 L75.4,90.8 L75.1,90.6 L74.9,90.4 L74.6,90.1 L74.4,89.8 L74.1,89.5 L73.9,89.2 L73.7,88.9 L73.5,88.7 L73.4,88.4 L73.1,87.9 L73.0,87.6 L72.9,87.3 L72.7,86.9 L72.6,86.6 L72.5,86.1 L72.4,85.6 L72.3,85.4 L72.3,84.9 L72.2,84.4 L72.1,84.1 L72.0,83.6 L71.8,83.4 L71.6,83.1 L71.1,82.9 L70.9,82.8 L70.4,82.7 L70.1,82.6 L69.6,82.5 L69.2,82.4 L68.9,82.3 L68.5,82.1 L68.1,82.0 L67.8,81.9 L67.4,81.6 L67.1,81.5 L66.8,81.4 L66.5,81.1 L66.1,80.9 L65.8,80.7 L65.6,80.5 L65.3,80.3 L65.1,80.1 L64.8,79.9 L64.5,79.6 L64.3,79.4 L64.1,79.1 L63.8,78.9 L63.6,78.6 L63.3,78.3 L63.1,78.0 L62.8,77.7 L62.6,77.4 L62.4,77.1 L62.3,76.9 L62.1,76.6 L61.8,76.2 L61.6,75.9 L61.4,75.6 L61.3,75.4 L61.1,75.1 L60.8,74.6 L60.7,74.4 L60.5,74.1 L60.3,73.7 L60.2,73.4 L60.0,73.1 L59.8,72.6 L59.7,72.4 L59.6,71.9 L59.5,71.6 L59.4,71.1 L59.3,70.6 L59.3,70.4 L59.3,69.8 L59.3,69.3 L59.3,69.0 L59.4,68.6 L59.5,68.1 L59.6,67.8 L59.8,67.3 L59.9,67.1 L60.1,66.7 L60.3,66.3 L60.4,66.1 L60.6,65.8 L60.8,65.5 L61.1,65.2 L61.3,64.9 L61.6,64.6 L61.8,64.3 L62.1,64.1 L62.3,63.9 L62.6,63.6 L62.8,63.4 L63.1,63.3 L63.3,63.1 L63.7,62.8 L64.1,62.6 L64.3,62.4 L64.6,62.3 L65.0,62.1 L65.3,61.9 L65.6,61.8 L66.0,61.6 L66.3,61.5 L66.7,61.3 L67.1,61.2 L67.4,61.1 L67.9,60.9 L68.4,60.8 L68.6,60.8 L69.1,60.7 L69.6,60.6 L69.9,60.5 L70.4,60.5 L70.9,60.4 L71.4,60.4 L71.9,60.4 L72.4,60.4 L72.9,60.5 L73.4,60.5 L73.8,60.6 L74.1,60.6 L74.6,60.7 L75.0,60.8 L75.4,60.9 L75.8,61.1 L76.1,61.2 L76.5,61.3 L76.9,61.5 L77.1,61.6 L77.5,61.8 L77.9,62.1 L78.1,62.2 L78.4,62.4 L78.6,62.6 L78.9,62.8 L79.2,63.1 L79.5,63.3 L79.7,63.6 L79.9,63.8 L80.1,64.1 L80.4,64.5 L80.6,64.8 L80.7,65.1 L80.9,65.4 L81.1,65.8 L81.1,66.1 L81.3,66.6 L81.4,67.1 L81.4,67.3 L81.4,67.8 L81.4,68.3 L81.4,68.7 L81.3,69.1 L81.2,69.6 L81.1,69.8 L80.9,70.2 L80.6,70.6 L80.5,70.9 L80.3,71.1 L80.0,71.4 L79.8,71.6 L79.6,71.9 L79.3,72.1 L79.1,72.4 L78.8,72.6 L78.5,72.9 L78.3,73.1 L78.0,73.4 L77.8,73.6 L77.5,73.9 L77.2,74.1 L77.0,74.4 L76.8,74.6 L76.6,74.9 L76.3,75.1 L76.1,75.4 L75.9,75.7 L75.6,76.1 L75.5,76.4 L75.3,76.6 L75.1,77.0 L75.0,77.4 L74.9,77.6 L74.7,78.1 L74.6,78.4 L74.5,78.9 L74.4,79.3 L74.3,79.6 L74.2,80.1 L74.2,80.6 L74.4,80.9 L74.6,81.2 L75.1,81.4 L75.4,81.4 L75.9,81.5 L76.4,81.5 L76.9,81.5 L77.4,81.5 L77.9,81.5 L78.4,81.5 L78.9,81.5 L79.4,81.5 L79.9,81.5 L80.4,81.5 L80.9,81.5 L81.4,81.5 L81.9,81.6 L82.4,81.6 L82.6,81.7 L83.1,81.8 L83.5,81.9 L83.9,82.0 L84.1,82.2 L84.5,82.4 L84.9,82.6 L85.2,82.9 L85.4,83.1 L85.7,83.3 L85.9,83.6 L86.1,83.9 L86.3,84.1 L86.5,84.4 L86.7,84.6 L86.9,85.0 L87.2,85.4 L87.3,85.6 L87.4,85.9 L87.6,86.4 L87.7,86.6 L87.9,87.1 L87.9,87.4 L88.0,87.9 L88.0,88.4 L88.0,88.9 L87.9,89.4 L87.9,89.7 L87.7,90.2 L87.6,90.4 L87.4,90.7 L87.2,91.1 L86.9,91.4 L86.7,91.6 L86.4,91.9 L86.2,92.1 L85.9,92.2 L85.6,92.4 L85.2,92.6 L84.9,92.8 L84.5,92.9 L84.1,93.0 L83.6,93.1 L83.4,93.2Z M84.9,77.1 L84.6,77.1 L84.3,76.9 L84.1,76.6 L83.9,76.2 L83.8,75.9 L83.7,75.4 L83.7,74.9 L83.7,74.4 L83.8,73.9 L83.9,73.6 L84.1,73.2 L84.4,73.0 L84.9,72.9 L85.3,73.1 L85.6,73.4 L85.7,73.6 L85.9,74.0 L86.0,74.4 L86.1,74.9 L86.1,75.4 L86.0,75.9 L85.9,76.1 L85.7,76.6 L85.5,76.9 L85.2,77.1 L84.9,77.1Z M71.6,81.5 L71.1,81.6 L70.6,81.6 L70.1,81.6 L69.6,81.6 L69.1,81.5 L68.8,81.4 L68.4,81.2 L68.1,81.1 L67.6,80.9 L67.4,80.8 L67.0,80.6 L66.6,80.4 L66.3,80.2 L66.1,80.0 L65.8,79.8 L65.6,79.6 L65.3,79.4 L65.0,79.1 L64.7,78.9 L64.5,78.6 L64.2,78.4 L64.0,78.1 L63.8,77.9 L63.6,77.6 L63.3,77.3 L63.1,77.0 L62.8,76.7 L62.6,76.4 L62.4,76.1 L62.3,75.9 L62.1,75.6 L61.8,75.3 L61.6,74.9 L61.4,74.6 L61.2,74.4 L61.1,74.1 L60.8,73.7 L60.6,73.4 L60.5,73.1 L60.3,72.7 L60.2,72.4 L60.1,72.1 L59.9,71.6 L59.8,71.3 L59.7,70.9 L59.6,70.4 L59.6,69.8 L59.6,69.3 L59.7,68.8 L59.8,68.3 L59.8,68.1 L60.0,67.6 L60.1,67.3 L60.3,66.8 L60.4,66.6 L60.6,66.3 L60.8,65.9 L61.0,65.6 L61.2,65.3 L61.4,65.1 L61.6,64.8 L61.9,64.6 L62.1,64.3 L62.4,64.1 L62.7,63.8 L63.0,63.6 L63.3,63.3 L63.6,63.1 L63.8,62.9 L64.1,62.8 L64.4,62.6 L64.8,62.3 L65.1,62.2 L65.4,62.1 L65.8,61.8 L66.1,61.7 L66.5,61.6 L66.8,61.4 L67.2,61.3 L67.6,61.2 L68.0,61.1 L68.4,61.0 L68.9,60.9 L69.1,60.8 L69.6,60.7 L70.1,60.7 L70.6,60.6 L71.1,60.6 L71.6,60.6 L72.1,60.6 L72.6,60.6 L73.1,60.7 L73.6,60.7 L74.1,60.8 L74.4,60.9 L74.9,61.0 L75.2,61.1 L75.6,61.2 L76.0,61.3 L76.4,61.5 L76.6,61.6 L77.1,61.8 L77.4,62.0 L77.6,62.1 L77.9,62.3 L78.3,62.6 L78.6,62.8 L78.9,63.1 L79.1,63.3 L79.4,63.6 L79.6,63.8 L79.8,64.1 L79.9,64.3 L80.1,64.6 L80.4,65.1 L80.5,65.3 L80.6,65.7 L80.8,66.1 L80.9,66.5 L80.9,66.8 L81.0,67.3 L81.0,67.8 L80.9,68.3 L80.9,68.6 L80.8,69.1 L80.6,69.4 L80.5,69.8 L80.3,70.1 L80.1,70.4 L79.9,70.7 L79.6,71.1 L79.4,71.4 L79.2,71.6 L78.9,71.9 L78.7,72.1 L78.5,72.4 L78.2,72.6 L77.9,72.9 L77.7,73.1 L77.4,73.4 L77.2,73.6 L76.9,73.9 L76.7,74.1 L76.4,74.4 L76.2,74.6 L75.9,74.9 L75.7,75.1 L75.5,75.4 L75.3,75.6 L75.1,75.9 L74.9,76.2 L74.6,76.6 L74.4,76.9 L74.3,77.1 L74.1,77.5 L73.9,77.9 L73.8,78.1 L73.6,78.6 L73.5,78.9 L73.4,79.2 L73.2,79.6 L73.1,79.9 L72.9,80.3 L72.7,80.6 L72.5,80.9 L72.2,81.1 L71.9,81.4 L71.6,81.5Z M83.6,93.0 L83.1,93.1 L82.6,93.1 L82.1,93.1 L81.6,93.1 L81.1,93.1 L80.6,93.0 L80.1,93.0 L79.9,92.9 L79.4,92.8 L79.0,92.7 L78.6,92.5 L78.3,92.4 L77.9,92.2 L77.6,92.1 L77.2,91.9 L76.9,91.7 L76.6,91.6 L76.4,91.4 L76.0,91.2 L75.7,90.9 L75.4,90.7 L75.2,90.4 L74.9,90.2 L74.7,89.9 L74.5,89.7 L74.3,89.4 L74.1,89.2 L73.9,88.8 L73.6,88.4 L73.5,88.2 L73.4,87.9 L73.2,87.4 L73.1,87.1 L73.0,86.6 L72.9,86.2 L72.8,85.9 L72.8,85.4 L72.8,84.9 L72.8,84.4 L72.9,84.1 L73.0,83.6 L73.1,83.4 L73.4,83.0 L73.6,82.7 L73.9,82.5 L74.2,82.4 L74.6,82.2 L75.1,82.1 L75.4,82.1 L75.9,82.0 L76.4,81.9 L76.9,81.9 L77.1,81.9 L77.6,81.8 L78.1,81.8 L78.6,81.8 L79.1,81.8 L79.6,81.8 L80.1,81.8 L80.6,81.8 L81.1,81.8 L81.6,81.9 L81.9,81.9 L82.4,82.0 L82.9,82.1 L83.1,82.1 L83.6,82.3 L83.9,82.4 L84.3,82.6 L84.6,82.9 L84.9,83.0 L85.2,83.2 L85.4,83.5 L85.7,83.7 L85.9,84.0 L86.2,84.3 L86.4,84.6 L86.6,84.9 L86.8,85.1 L86.9,85.4 L87.2,85.8 L87.3,86.1 L87.4,86.4 L87.6,86.9 L87.7,87.1 L87.8,87.6 L87.8,88.2 L87.8,88.7 L87.8,89.2 L87.7,89.7 L87.6,89.9 L87.4,90.3 L87.2,90.7 L87.1,90.9 L86.9,91.2 L86.6,91.4 L86.4,91.7 L86.1,91.9 L85.7,92.2 L85.4,92.3 L85.2,92.5 L84.7,92.7 L84.4,92.8 L83.9,92.9 L83.6,93.0Z M70.6,80.4 L70.1,80.5 L69.6,80.6 L69.1,80.5 L68.6,80.4 L68.4,80.3 L67.9,80.1 L67.6,80.0 L67.3,79.9 L66.8,79.6 L66.6,79.5 L66.3,79.3 L66.1,79.1 L65.8,78.9 L65.5,78.6 L65.2,78.4 L64.9,78.1 L64.7,77.9 L64.5,77.6 L64.2,77.4 L64.0,77.1 L63.8,76.9 L63.5,76.6 L63.3,76.4 L63.1,76.1 L62.8,75.8 L62.6,75.5 L62.3,75.2 L62.1,74.9 L61.9,74.6 L61.7,74.4 L61.6,74.1 L61.3,73.8 L61.1,73.4 L60.9,73.1 L60.8,72.9 L60.6,72.4 L60.5,72.1 L60.3,71.8 L60.2,71.4 L60.1,70.9 L60.0,70.6 L59.9,70.1 L59.9,69.6 L59.9,69.1 L60.0,68.6 L60.1,68.2 L60.2,67.8 L60.3,67.4 L60.4,67.1 L60.6,66.8 L60.8,66.3 L61.0,66.1 L61.1,65.8 L61.3,65.6 L61.6,65.2 L61.8,64.9 L62.1,64.7 L62.3,64.4 L62.6,64.2 L62.8,63.9 L63.1,63.7 L63.3,63.5 L63.6,63.3 L64.0,63.1 L64.3,62.8 L64.6,62.7 L64.8,62.5 L65.2,62.3 L65.6,62.1 L65.8,62.0 L66.3,61.8 L66.6,61.7 L66.9,61.6 L67.4,61.4 L67.7,61.3 L68.1,61.2 L68.6,61.1 L68.9,61.0 L69.4,60.9 L69.9,60.9 L70.2,60.8 L70.6,60.8 L71.1,60.8 L71.6,60.7 L72.1,60.7 L72.6,60.8 L73.1,60.8 L73.4,60.8 L73.9,60.9 L74.4,61.0 L74.6,61.1 L75.1,61.2 L75.4,61.3 L75.9,61.5 L76.1,61.6 L76.6,61.8 L76.9,61.9 L77.1,62.1 L77.5,62.3 L77.9,62.6 L78.1,62.7 L78.4,62.9 L78.6,63.2 L78.9,63.4 L79.1,63.7 L79.4,64.0 L79.6,64.3 L79.8,64.6 L79.9,64.8 L80.1,65.2 L80.3,65.6 L80.4,65.9 L80.5,66.3 L80.6,66.8 L80.6,67.3 L80.6,67.8 L80.5,68.3 L80.4,68.8 L80.3,69.1 L80.1,69.5 L80.0,69.8 L79.8,70.1 L79.6,70.4 L79.4,70.8 L79.1,71.1 L78.9,71.4 L78.7,71.6 L78.5,71.9 L78.2,72.1 L78.0,72.4 L77.7,72.6 L77.5,72.9 L77.2,73.1 L76.9,73.4 L76.7,73.6 L76.4,73.9 L76.1,74.1 L75.9,74.4 L75.6,74.6 L75.4,74.9 L75.1,75.1 L74.9,75.4 L74.7,75.6 L74.4,75.9 L74.2,76.1 L74.0,76.4 L73.9,76.6 L73.6,77.0 L73.4,77.4 L73.2,77.6 L73.1,77.9 L72.9,78.2 L72.6,78.6 L72.5,78.9 L72.3,79.1 L72.1,79.4 L71.9,79.7 L71.6,79.9 L71.3,80.1 L70.9,80.4 L70.6,80.4Z M82.9,92.9 L82.4,93.0 L81.9,93.0 L81.4,93.0 L80.9,92.9 L80.6,92.9 L80.1,92.8 L79.6,92.7 L79.4,92.6 L78.9,92.5 L78.6,92.4 L78.1,92.2 L77.9,92.1 L77.5,91.9 L77.1,91.7 L76.9,91.5 L76.6,91.4 L76.3,91.2 L76.0,90.9 L75.7,90.7 L75.4,90.4 L75.1,90.2 L74.9,89.9 L74.7,89.7 L74.5,89.4 L74.3,89.2 L74.1,88.8 L73.9,88.4 L73.7,88.2 L73.6,87.9 L73.4,87.4 L73.4,87.1 L73.2,86.6 L73.2,86.1 L73.2,85.6 L73.2,85.1 L73.3,84.6 L73.4,84.3 L73.6,83.9 L73.7,83.6 L74.0,83.4 L74.2,83.1 L74.6,82.9 L74.9,82.7 L75.1,82.6 L75.6,82.5 L75.9,82.4 L76.4,82.3 L76.9,82.2 L77.4,82.1 L77.6,82.1 L78.1,82.1 L78.6,82.0 L79.1,82.0 L79.6,82.0 L80.1,82.0 L80.6,82.0 L81.1,82.1 L81.6,82.1 L81.9,82.2 L82.4,82.2 L82.9,82.4 L83.1,82.4 L83.6,82.6 L83.9,82.7 L84.2,82.9 L84.6,83.1 L84.9,83.4 L85.2,83.6 L85.4,83.8 L85.7,84.0 L85.9,84.3 L86.2,84.6 L86.4,84.9 L86.5,85.1 L86.7,85.4 L86.9,85.7 L87.1,86.1 L87.2,86.4 L87.4,86.9 L87.5,87.1 L87.6,87.6 L87.6,88.2 L87.6,88.7 L87.6,89.2 L87.5,89.7 L87.4,89.9 L87.2,90.4 L87.0,90.7 L86.8,90.9 L86.6,91.2 L86.4,91.4 L86.1,91.7 L85.8,91.9 L85.4,92.1 L85.2,92.3 L84.9,92.4 L84.4,92.6 L84.1,92.7 L83.6,92.8 L83.1,92.9 L82.9,92.9Z M69.4,77.9 L68.9,77.9 L68.4,77.9 L68.1,77.8 L67.6,77.7 L67.4,77.6 L66.8,77.4 L66.6,77.2 L66.3,77.1 L66.0,76.9 L65.6,76.6 L65.3,76.4 L65.1,76.3 L64.8,76.1 L64.6,75.9 L64.3,75.6 L64.0,75.4 L63.7,75.1 L63.5,74.9 L63.2,74.6 L63.0,74.4 L62.7,74.1 L62.5,73.9 L62.3,73.6 L62.1,73.3 L61.8,73.0 L61.6,72.6 L61.4,72.4 L61.3,72.1 L61.1,71.6 L61.0,71.4 L60.8,70.9 L60.7,70.6 L60.7,70.1 L60.6,69.6 L60.6,69.1 L60.6,68.6 L60.7,68.1 L60.8,67.7 L61.0,67.3 L61.1,67.0 L61.3,66.6 L61.4,66.3 L61.6,66.1 L61.8,65.7 L62.1,65.4 L62.3,65.1 L62.5,64.8 L62.8,64.6 L63.0,64.3 L63.3,64.1 L63.6,63.9 L63.8,63.7 L64.1,63.5 L64.3,63.3 L64.7,63.1 L65.1,62.8 L65.3,62.7 L65.6,62.6 L66.1,62.3 L66.3,62.2 L66.7,62.1 L67.1,61.9 L67.4,61.8 L67.9,61.7 L68.1,61.6 L68.6,61.5 L69.1,61.4 L69.4,61.3 L69.9,61.2 L70.4,61.2 L70.9,61.1 L71.4,61.1 L71.9,61.1 L72.4,61.1 L72.9,61.2 L73.4,61.2 L73.9,61.3 L74.1,61.4 L74.6,61.5 L74.9,61.6 L75.4,61.7 L75.6,61.8 L76.1,62.0 L76.4,62.2 L76.7,62.3 L77.1,62.6 L77.4,62.8 L77.6,63.0 L77.9,63.2 L78.1,63.4 L78.4,63.6 L78.6,63.9 L78.9,64.2 L79.1,64.6 L79.3,64.8 L79.4,65.1 L79.6,65.6 L79.7,65.8 L79.8,66.3 L79.9,66.8 L79.9,67.1 L79.9,67.4 L79.8,67.8 L79.7,68.3 L79.6,68.7 L79.5,69.1 L79.4,69.3 L79.1,69.8 L79.0,70.1 L78.8,70.4 L78.6,70.6 L78.4,70.9 L78.1,71.2 L77.9,71.5 L77.6,71.7 L77.4,72.0 L77.1,72.3 L76.9,72.5 L76.6,72.7 L76.4,73.0 L76.1,73.2 L75.9,73.4 L75.6,73.6 L75.3,73.9 L75.0,74.1 L74.7,74.4 L74.4,74.6 L74.1,74.8 L73.9,75.1 L73.6,75.3 L73.4,75.5 L73.1,75.7 L72.8,75.9 L72.5,76.1 L72.2,76.4 L71.9,76.6 L71.6,76.8 L71.4,77.0 L71.1,77.2 L70.8,77.4 L70.4,77.6 L70.1,77.7 L69.6,77.9 L69.4,77.9Z M83.6,92.4 L83.1,92.6 L82.6,92.6 L82.1,92.7 L81.6,92.7 L81.1,92.6 L80.6,92.6 L80.1,92.5 L79.8,92.4 L79.4,92.3 L79.0,92.2 L78.6,92.0 L78.3,91.9 L77.9,91.7 L77.6,91.6 L77.3,91.4 L76.9,91.2 L76.6,91.0 L76.4,90.8 L76.1,90.6 L75.9,90.3 L75.6,90.1 L75.4,89.8 L75.1,89.5 L74.9,89.2 L74.7,88.9 L74.5,88.7 L74.4,88.4 L74.2,87.9 L74.1,87.6 L73.9,87.1 L73.9,86.7 L73.8,86.4 L73.8,85.9 L73.9,85.6 L74.0,85.1 L74.1,84.8 L74.4,84.4 L74.6,84.1 L74.8,83.9 L75.1,83.6 L75.4,83.4 L75.6,83.3 L76.0,83.1 L76.4,83.0 L76.7,82.9 L77.1,82.8 L77.6,82.7 L77.9,82.6 L78.4,82.6 L78.9,82.5 L79.4,82.5 L79.9,82.5 L80.4,82.5 L80.9,82.5 L81.4,82.6 L81.7,82.6 L82.1,82.7 L82.6,82.8 L82.9,82.9 L83.4,83.1 L83.6,83.2 L84.0,83.4 L84.4,83.6 L84.6,83.8 L84.9,84.0 L85.2,84.2 L85.4,84.4 L85.7,84.7 L85.9,85.0 L86.2,85.3 L86.4,85.6 L86.5,85.9 L86.7,86.2 L86.9,86.6 L87.0,86.9 L87.1,87.4 L87.2,87.7 L87.2,88.2 L87.2,88.7 L87.2,89.1 L87.1,89.4 L86.9,89.9 L86.8,90.2 L86.7,90.4 L86.4,90.8 L86.2,91.1 L85.9,91.3 L85.7,91.5 L85.4,91.7 L85.0,91.9 L84.6,92.1 L84.4,92.2 L83.9,92.4 L83.6,92.4Z M69.4,76.1 L68.9,76.2 L68.4,76.1 L68.1,76.1 L67.6,76.0 L67.1,75.9 L66.8,75.8 L66.4,75.6 L66.1,75.5 L65.8,75.4 L65.4,75.1 L65.1,75.0 L64.8,74.8 L64.6,74.6 L64.2,74.4 L63.9,74.1 L63.6,73.9 L63.4,73.6 L63.1,73.4 L62.9,73.1 L62.7,72.9 L62.5,72.6 L62.3,72.4 L62.1,72.0 L61.8,71.6 L61.7,71.4 L61.6,71.0 L61.4,70.6 L61.3,70.2 L61.3,69.8 L61.2,69.3 L61.2,68.8 L61.3,68.3 L61.3,68.0 L61.4,67.6 L61.6,67.2 L61.7,66.8 L61.9,66.6 L62.1,66.2 L62.3,65.8 L62.5,65.6 L62.7,65.3 L62.9,65.1 L63.1,64.8 L63.4,64.6 L63.7,64.3 L64.0,64.1 L64.3,63.8 L64.6,63.6 L64.8,63.4 L65.1,63.3 L65.4,63.1 L65.8,62.9 L66.1,62.7 L66.4,62.6 L66.8,62.4 L67.1,62.3 L67.6,62.1 L67.9,62.0 L68.4,61.9 L68.6,61.8 L69.1,61.7 L69.6,61.6 L69.9,61.6 L70.4,61.5 L70.9,61.5 L71.4,61.5 L71.9,61.5 L72.4,61.5 L72.9,61.5 L73.1,61.6 L73.6,61.7 L74.1,61.8 L74.4,61.8 L74.9,62.0 L75.1,62.1 L75.6,62.3 L75.9,62.4 L76.2,62.6 L76.6,62.8 L76.9,63.0 L77.1,63.2 L77.4,63.4 L77.6,63.6 L77.9,63.8 L78.1,64.1 L78.4,64.4 L78.6,64.8 L78.8,65.1 L78.9,65.3 L79.1,65.8 L79.1,66.1 L79.2,66.6 L79.2,67.1 L79.2,67.6 L79.1,68.1 L79.1,68.3 L78.9,68.8 L78.8,69.1 L78.6,69.4 L78.4,69.8 L78.2,70.1 L78.1,70.4 L77.9,70.6 L77.6,70.9 L77.4,71.2 L77.1,71.5 L76.9,71.7 L76.6,72.0 L76.4,72.2 L76.1,72.4 L75.9,72.6 L75.6,72.9 L75.3,73.1 L75.0,73.4 L74.6,73.6 L74.4,73.8 L74.1,74.0 L73.9,74.1 L73.5,74.4 L73.1,74.6 L72.9,74.8 L72.6,74.9 L72.3,75.1 L71.9,75.3 L71.6,75.4 L71.2,75.6 L70.9,75.8 L70.5,75.9 L70.1,76.0 L69.6,76.1 L69.4,76.1Z M83.1,92.2 L82.6,92.3 L82.1,92.3 L81.6,92.3 L81.1,92.3 L80.6,92.2 L80.2,92.2 L79.9,92.1 L79.4,92.0 L79.1,91.9 L78.6,91.7 L78.4,91.6 L78.0,91.4 L77.6,91.2 L77.4,91.0 L77.1,90.9 L76.8,90.7 L76.5,90.4 L76.2,90.2 L76.0,89.9 L75.7,89.7 L75.5,89.4 L75.3,89.2 L75.1,88.8 L74.9,88.4 L74.8,88.2 L74.6,87.7 L74.5,87.4 L74.4,86.9 L74.4,86.4 L74.5,85.9 L74.6,85.4 L74.7,85.1 L74.9,84.9 L75.1,84.5 L75.4,84.3 L75.6,84.1 L75.9,83.9 L76.3,83.6 L76.6,83.5 L76.9,83.4 L77.4,83.2 L77.8,83.1 L78.1,83.1 L78.6,83.0 L79.1,83.0 L79.6,82.9 L80.1,82.9 L80.6,83.0 L81.1,83.0 L81.6,83.1 L81.9,83.1 L82.4,83.2 L82.8,83.4 L83.1,83.5 L83.5,83.6 L83.9,83.9 L84.1,84.0 L84.4,84.2 L84.7,84.4 L85.0,84.6 L85.2,84.9 L85.5,85.1 L85.7,85.4 L85.9,85.7 L86.2,86.1 L86.3,86.4 L86.4,86.6 L86.6,87.1 L86.7,87.4 L86.8,87.9 L86.8,88.4 L86.8,88.9 L86.7,89.3 L86.6,89.7 L86.4,90.0 L86.2,90.4 L86.0,90.7 L85.7,90.9 L85.4,91.2 L85.2,91.4 L84.9,91.5 L84.6,91.7 L84.1,91.9 L83.9,92.0 L83.4,92.1 L83.1,92.2Z M69.4,75.1 L68.9,75.2 L68.4,75.1 L68.1,75.1 L67.6,75.0 L67.1,74.9 L66.8,74.8 L66.3,74.7 L66.1,74.6 L65.7,74.4 L65.3,74.2 L65.1,74.0 L64.8,73.9 L64.4,73.6 L64.1,73.4 L63.8,73.1 L63.6,72.9 L63.3,72.6 L63.1,72.4 L62.9,72.1 L62.7,71.9 L62.6,71.6 L62.3,71.2 L62.2,70.9 L62.1,70.6 L61.9,70.1 L61.8,69.6 L61.8,69.3 L61.8,68.8 L61.8,68.3 L61.9,68.1 L62.0,67.6 L62.1,67.3 L62.3,66.8 L62.4,66.6 L62.6,66.3 L62.8,65.9 L63.0,65.6 L63.3,65.3 L63.5,65.1 L63.7,64.8 L64.0,64.6 L64.3,64.3 L64.6,64.1 L64.8,63.9 L65.1,63.7 L65.3,63.6 L65.7,63.3 L66.1,63.1 L66.3,63.0 L66.7,62.8 L67.1,62.7 L67.4,62.6 L67.9,62.4 L68.1,62.3 L68.6,62.2 L69.0,62.1 L69.4,62.0 L69.9,61.9 L70.4,61.9 L70.9,61.8 L71.1,61.8 L71.6,61.8 L72.0,61.8 L72.4,61.8 L72.9,61.9 L73.4,62.0 L73.8,62.1 L74.1,62.1 L74.6,62.3 L74.9,62.4 L75.3,62.6 L75.6,62.7 L75.9,62.8 L76.3,63.1 L76.6,63.3 L76.9,63.5 L77.1,63.7 L77.4,64.0 L77.6,64.3 L77.9,64.6 L78.0,64.8 L78.2,65.1 L78.4,65.5 L78.5,65.8 L78.6,66.3 L78.6,66.6 L78.7,67.1 L78.6,67.6 L78.6,67.8 L78.5,68.3 L78.4,68.6 L78.2,69.1 L78.1,69.3 L77.9,69.7 L77.6,70.0 L77.4,70.4 L77.2,70.6 L77.0,70.9 L76.8,71.1 L76.5,71.4 L76.3,71.6 L76.0,71.9 L75.7,72.1 L75.4,72.4 L75.1,72.6 L74.9,72.8 L74.6,73.0 L74.4,73.1 L74.0,73.4 L73.6,73.6 L73.4,73.8 L73.1,73.9 L72.7,74.1 L72.4,74.3 L72.1,74.4 L71.6,74.6 L71.4,74.7 L70.9,74.9 L70.6,74.9 L70.1,75.0 L69.6,75.1 L69.4,75.1Z M82.6,91.9 L82.1,92.0 L81.6,92.0 L81.1,92.0 L80.7,91.9 L80.4,91.9 L79.9,91.8 L79.5,91.7 L79.1,91.5 L78.8,91.4 L78.4,91.2 L78.1,91.1 L77.8,90.9 L77.4,90.7 L77.1,90.5 L76.9,90.3 L76.6,90.0 L76.4,89.8 L76.1,89.5 L75.9,89.2 L75.7,88.9 L75.5,88.7 L75.4,88.4 L75.2,87.9 L75.1,87.6 L75.0,87.1 L74.9,86.6 L75.0,86.1 L75.1,85.7 L75.3,85.4 L75.4,85.1 L75.6,84.8 L75.9,84.6 L76.1,84.4 L76.5,84.1 L76.9,83.9 L77.1,83.8 L77.6,83.6 L77.9,83.6 L78.4,83.5 L78.9,83.4 L79.1,83.4 L79.6,83.3 L80.1,83.3 L80.6,83.4 L81.0,83.4 L81.4,83.4 L81.9,83.5 L82.3,83.6 L82.6,83.7 L83.0,83.9 L83.4,84.1 L83.6,84.2 L84.0,84.4 L84.3,84.6 L84.6,84.9 L84.9,85.1 L85.2,85.4 L85.4,85.6 L85.6,85.9 L85.7,86.1 L85.9,86.5 L86.1,86.9 L86.2,87.1 L86.3,87.6 L86.4,88.2 L86.4,88.7 L86.3,89.2 L86.2,89.5 L86.0,89.9 L85.8,90.2 L85.6,90.4 L85.4,90.7 L85.1,90.9 L84.8,91.2 L84.4,91.4 L84.1,91.5 L83.8,91.7 L83.4,91.8 L82.9,91.9 L82.6,91.9Z M69.9,74.4 L69.4,74.4 L68.9,74.4 L68.4,74.4 L67.9,74.4 L67.6,74.3 L67.1,74.2 L66.8,74.1 L66.3,73.9 L66.1,73.8 L65.6,73.6 L65.3,73.5 L65.1,73.3 L64.8,73.1 L64.5,72.9 L64.2,72.6 L63.9,72.4 L63.7,72.1 L63.4,71.9 L63.3,71.6 L63.1,71.4 L62.8,70.9 L62.7,70.6 L62.6,70.4 L62.4,69.8 L62.4,69.3 L62.3,69.1 L62.3,68.6 L62.4,68.3 L62.4,67.8 L62.6,67.3 L62.7,67.1 L62.8,66.8 L63.1,66.3 L63.2,66.1 L63.4,65.8 L63.6,65.6 L63.8,65.3 L64.1,65.0 L64.3,64.8 L64.6,64.6 L64.9,64.3 L65.2,64.1 L65.6,63.8 L65.8,63.7 L66.1,63.5 L66.5,63.3 L66.8,63.1 L67.1,63.0 L67.6,62.8 L67.9,62.7 L68.4,62.6 L68.6,62.5 L69.1,62.4 L69.5,62.3 L69.9,62.3 L70.4,62.2 L70.9,62.2 L71.4,62.2 L71.9,62.2 L72.4,62.2 L72.9,62.3 L73.3,62.3 L73.6,62.4 L74.1,62.5 L74.4,62.6 L74.9,62.8 L75.1,62.9 L75.4,63.1 L75.9,63.3 L76.1,63.5 L76.4,63.7 L76.6,63.9 L76.9,64.1 L77.1,64.4 L77.4,64.7 L77.6,65.1 L77.7,65.3 L77.9,65.7 L78.0,66.1 L78.1,66.6 L78.1,66.9 L78.1,67.2 L78.1,67.6 L78.0,68.1 L77.9,68.5 L77.7,68.8 L77.6,69.1 L77.4,69.5 L77.2,69.8 L77.0,70.1 L76.8,70.4 L76.6,70.6 L76.4,70.9 L76.1,71.1 L75.9,71.4 L75.6,71.6 L75.3,71.9 L75.0,72.1 L74.7,72.4 L74.4,72.6 L74.1,72.7 L73.9,72.9 L73.5,73.1 L73.1,73.3 L72.9,73.4 L72.5,73.6 L72.1,73.8 L71.9,73.9 L71.4,74.1 L71.1,74.1 L70.6,74.3 L70.1,74.4 L69.9,74.4Z M83.1,91.5 L82.6,91.6 L82.1,91.6 L81.6,91.7 L81.1,91.6 L80.6,91.6 L80.1,91.5 L79.9,91.4 L79.4,91.3 L79.1,91.2 L78.6,91.0 L78.4,90.8 L78.1,90.7 L77.7,90.4 L77.4,90.2 L77.1,90.0 L76.9,89.8 L76.6,89.5 L76.4,89.2 L76.1,88.9 L76.0,88.7 L75.8,88.4 L75.6,87.9 L75.6,87.6 L75.5,87.1 L75.5,86.6 L75.5,86.1 L75.6,85.9 L75.9,85.4 L76.1,85.1 L76.3,84.9 L76.6,84.6 L76.9,84.5 L77.1,84.3 L77.5,84.1 L77.9,84.0 L78.3,83.9 L78.6,83.8 L79.1,83.8 L79.6,83.7 L80.1,83.7 L80.6,83.7 L81.1,83.8 L81.6,83.9 L81.9,83.9 L82.4,84.1 L82.6,84.2 L83.1,84.4 L83.4,84.5 L83.7,84.6 L84.0,84.9 L84.3,85.1 L84.6,85.4 L84.9,85.6 L85.1,85.9 L85.2,86.1 L85.4,86.4 L85.6,86.9 L85.7,87.1 L85.9,87.6 L85.9,87.9 L85.9,88.4 L85.9,88.7 L85.8,89.2 L85.7,89.5 L85.5,89.9 L85.3,90.2 L85.0,90.4 L84.8,90.7 L84.4,90.9 L84.1,91.1 L83.9,91.2 L83.4,91.4 L83.1,91.5Z M70.9,73.7 L70.4,73.8 L69.9,73.8 L69.4,73.9 L68.9,73.9 L68.4,73.8 L67.9,73.8 L67.4,73.6 L67.1,73.6 L66.6,73.4 L66.3,73.3 L65.9,73.1 L65.6,72.9 L65.3,72.8 L65.1,72.6 L64.7,72.4 L64.4,72.1 L64.2,71.9 L63.9,71.6 L63.7,71.4 L63.6,71.1 L63.3,70.7 L63.2,70.4 L63.1,70.1 L62.9,69.6 L62.9,69.1 L62.8,68.6 L62.9,68.1 L63.0,67.6 L63.1,67.3 L63.3,66.8 L63.4,66.6 L63.6,66.3 L63.8,65.9 L64.1,65.6 L64.3,65.3 L64.6,65.1 L64.8,64.9 L65.1,64.6 L65.3,64.4 L65.6,64.3 L65.9,64.1 L66.3,63.8 L66.6,63.7 L66.8,63.5 L67.3,63.3 L67.6,63.2 L67.9,63.1 L68.4,62.9 L68.8,62.8 L69.1,62.7 L69.6,62.6 L70.1,62.6 L70.4,62.5 L70.9,62.5 L71.4,62.5 L71.9,62.5 L72.4,62.6 L72.6,62.6 L73.1,62.7 L73.6,62.8 L73.9,62.9 L74.4,63.0 L74.6,63.1 L75.1,63.3 L75.4,63.5 L75.6,63.7 L75.9,63.8 L76.2,64.1 L76.4,64.3 L76.7,64.6 L76.9,64.8 L77.1,65.2 L77.3,65.6 L77.4,65.8 L77.5,66.3 L77.6,66.8 L77.6,67.3 L77.5,67.8 L77.4,68.3 L77.3,68.6 L77.1,69.0 L77.0,69.3 L76.8,69.6 L76.6,69.9 L76.4,70.2 L76.1,70.5 L75.9,70.8 L75.6,71.0 L75.4,71.2 L75.1,71.5 L74.9,71.7 L74.6,71.9 L74.3,72.1 L73.9,72.4 L73.6,72.5 L73.4,72.7 L73.0,72.9 L72.6,73.0 L72.4,73.2 L71.9,73.4 L71.6,73.4 L71.1,73.6 L70.9,73.7Z M82.6,91.2 L82.1,91.3 L81.6,91.3 L81.1,91.3 L80.6,91.2 L80.3,91.2 L79.9,91.1 L79.4,90.9 L79.1,90.8 L78.8,90.7 L78.4,90.4 L78.1,90.3 L77.9,90.1 L77.6,89.9 L77.3,89.7 L77.1,89.4 L76.8,89.2 L76.6,88.9 L76.4,88.5 L76.2,88.2 L76.1,87.9 L76.0,87.4 L76.0,86.9 L76.0,86.4 L76.1,86.1 L76.3,85.6 L76.5,85.4 L76.8,85.1 L77.1,84.9 L77.4,84.7 L77.6,84.6 L78.1,84.4 L78.4,84.3 L78.9,84.2 L79.2,84.1 L79.6,84.1 L80.1,84.1 L80.6,84.1 L81.0,84.1 L81.4,84.2 L81.9,84.3 L82.2,84.4 L82.6,84.6 L82.9,84.7 L83.3,84.9 L83.6,85.1 L83.9,85.3 L84.1,85.5 L84.4,85.7 L84.6,86.0 L84.9,86.4 L85.1,86.6 L85.2,86.9 L85.4,87.4 L85.4,87.6 L85.5,88.2 L85.4,88.7 L85.4,88.9 L85.2,89.4 L85.1,89.7 L84.9,89.9 L84.6,90.2 L84.4,90.4 L84.0,90.7 L83.6,90.9 L83.4,91.0 L82.9,91.1 L82.6,91.2Z M70.9,73.2 L70.4,73.3 L69.9,73.3 L69.4,73.4 L68.9,73.3 L68.4,73.3 L67.9,73.2 L67.4,73.1 L67.1,73.0 L66.6,72.9 L66.3,72.7 L66.1,72.6 L65.6,72.4 L65.3,72.2 L65.1,72.0 L64.8,71.8 L64.6,71.5 L64.3,71.3 L64.1,70.9 L63.9,70.6 L63.7,70.4 L63.6,70.0 L63.5,69.6 L63.4,69.1 L63.4,68.6 L63.4,68.1 L63.5,67.6 L63.6,67.3 L63.8,66.8 L63.9,66.6 L64.1,66.3 L64.3,66.0 L64.6,65.7 L64.8,65.4 L65.1,65.2 L65.3,64.9 L65.6,64.7 L65.8,64.5 L66.2,64.3 L66.6,64.1 L66.8,63.9 L67.1,63.8 L67.6,63.6 L67.9,63.5 L68.3,63.3 L68.6,63.2 L69.1,63.1 L69.4,63.0 L69.9,63.0 L70.4,62.9 L70.9,62.9 L71.4,62.8 L71.9,62.9 L72.4,62.9 L72.9,63.0 L73.3,63.1 L73.6,63.2 L74.1,63.3 L74.4,63.5 L74.7,63.6 L75.1,63.8 L75.4,64.0 L75.6,64.2 L75.9,64.4 L76.1,64.7 L76.4,65.0 L76.6,65.3 L76.8,65.6 L76.9,65.9 L77.0,66.3 L77.1,66.8 L77.1,67.3 L77.0,67.8 L76.9,68.3 L76.8,68.6 L76.6,69.0 L76.4,69.3 L76.3,69.6 L76.1,69.8 L75.9,70.1 L75.6,70.4 L75.4,70.7 L75.1,70.9 L74.9,71.1 L74.6,71.4 L74.3,71.6 L73.9,71.9 L73.6,72.0 L73.4,72.2 L73.1,72.4 L72.6,72.6 L72.4,72.7 L71.9,72.9 L71.6,73.0 L71.1,73.1 L70.9,73.2Z M82.9,90.7 L82.4,90.8 L81.9,90.9 L81.4,90.9 L80.9,90.9 L80.4,90.8 L79.9,90.7 L79.6,90.6 L79.2,90.4 L78.9,90.3 L78.6,90.1 L78.3,89.9 L77.9,89.7 L77.6,89.4 L77.4,89.2 L77.2,88.9 L77.0,88.7 L76.9,88.4 L76.6,87.9 L76.6,87.6 L76.5,87.1 L76.5,86.6 L76.6,86.3 L76.8,85.9 L77.0,85.6 L77.3,85.4 L77.6,85.1 L77.9,85.0 L78.1,84.9 L78.6,84.7 L78.9,84.6 L79.4,84.5 L79.9,84.5 L80.4,84.5 L80.9,84.5 L81.4,84.6 L81.6,84.7 L82.1,84.8 L82.4,84.9 L82.9,85.1 L83.1,85.3 L83.4,85.4 L83.7,85.6 L83.9,85.9 L84.2,86.1 L84.4,86.4 L84.6,86.8 L84.8,87.1 L84.9,87.5 L85.0,87.9 L85.0,88.4 L84.9,88.8 L84.8,89.2 L84.6,89.4 L84.4,89.7 L84.1,90.0 L83.9,90.2 L83.5,90.4 L83.1,90.6 L82.9,90.7Z M69.9,72.9 L69.4,72.9 L68.9,72.9 L68.6,72.9 L68.1,72.8 L67.6,72.7 L67.4,72.6 L66.8,72.4 L66.6,72.3 L66.2,72.1 L65.8,71.9 L65.6,71.7 L65.3,71.5 L65.1,71.3 L64.8,71.1 L64.6,70.7 L64.3,70.4 L64.2,70.1 L64.1,69.8 L64.0,69.3 L63.9,68.8 L63.9,68.3 L64.0,67.8 L64.1,67.4 L64.2,67.1 L64.3,66.8 L64.6,66.4 L64.8,66.1 L65.0,65.8 L65.2,65.6 L65.5,65.3 L65.8,65.1 L66.1,64.8 L66.3,64.7 L66.6,64.5 L66.9,64.3 L67.4,64.1 L67.6,64.0 L67.9,63.8 L68.4,63.7 L68.7,63.6 L69.1,63.5 L69.6,63.4 L69.9,63.3 L70.4,63.3 L70.9,63.2 L71.4,63.2 L71.9,63.2 L72.4,63.3 L72.6,63.3 L73.1,63.4 L73.6,63.6 L73.9,63.7 L74.2,63.8 L74.6,64.0 L74.9,64.2 L75.1,64.4 L75.4,64.6 L75.6,64.8 L75.9,65.1 L76.1,65.5 L76.3,65.8 L76.4,66.1 L76.5,66.6 L76.6,67.1 L76.6,67.6 L76.5,68.1 L76.4,68.4 L76.2,68.8 L76.1,69.1 L75.9,69.4 L75.6,69.8 L75.4,70.1 L75.1,70.3 L74.9,70.6 L74.6,70.8 L74.4,71.0 L74.1,71.2 L73.9,71.4 L73.6,71.6 L73.1,71.9 L72.9,72.0 L72.6,72.1 L72.1,72.3 L71.9,72.4 L71.4,72.6 L71.1,72.7 L70.6,72.8 L70.1,72.8 L69.9,72.9Z M81.6,90.4 L81.1,90.4 L80.9,90.4 L80.4,90.3 L79.9,90.2 L79.6,90.1 L79.2,89.9 L78.9,89.7 L78.6,89.6 L78.4,89.4 L78.1,89.2 L77.8,88.9 L77.6,88.7 L77.4,88.3 L77.2,87.9 L77.1,87.6 L77.1,87.1 L77.1,86.8 L77.3,86.4 L77.4,86.1 L77.6,85.9 L77.9,85.6 L78.2,85.4 L78.6,85.2 L78.9,85.1 L79.4,85.0 L79.9,84.9 L80.4,84.9 L80.9,85.0 L81.4,85.1 L81.8,85.1 L82.1,85.3 L82.4,85.4 L82.9,85.6 L83.1,85.8 L83.4,86.0 L83.6,86.3 L83.9,86.6 L84.1,86.9 L84.2,87.1 L84.4,87.6 L84.4,88.2 L84.3,88.7 L84.1,89.0 L83.9,89.4 L83.7,89.7 L83.4,89.9 L83.1,90.0 L82.8,90.2 L82.4,90.3 L81.9,90.4 L81.6,90.4Z M70.4,72.4 L69.9,72.4 L69.4,72.4 L68.9,72.4 L68.4,72.4 L68.1,72.3 L67.6,72.2 L67.3,72.1 L66.8,71.9 L66.6,71.8 L66.3,71.6 L65.9,71.4 L65.6,71.1 L65.4,70.9 L65.1,70.6 L65.0,70.4 L64.8,70.1 L64.6,69.6 L64.5,69.3 L64.4,68.8 L64.4,68.3 L64.5,67.8 L64.6,67.5 L64.7,67.1 L64.9,66.8 L65.1,66.5 L65.3,66.1 L65.6,65.8 L65.8,65.6 L66.1,65.4 L66.3,65.2 L66.6,65.0 L66.8,64.8 L67.2,64.6 L67.6,64.4 L67.9,64.3 L68.4,64.1 L68.6,64.0 L69.1,63.9 L69.4,63.8 L69.9,63.7 L70.4,63.6 L70.9,63.6 L71.4,63.6 L71.9,63.6 L72.4,63.7 L72.9,63.8 L73.1,63.9 L73.6,64.1 L73.9,64.2 L74.2,64.3 L74.6,64.6 L74.9,64.8 L75.1,65.0 L75.4,65.3 L75.6,65.6 L75.7,65.8 L75.9,66.2 L76.0,66.6 L76.1,67.1 L76.1,67.6 L76.0,68.1 L75.9,68.3 L75.7,68.8 L75.5,69.1 L75.4,69.3 L75.1,69.7 L74.9,70.0 L74.6,70.3 L74.4,70.5 L74.1,70.7 L73.9,70.9 L73.6,71.1 L73.2,71.4 L72.9,71.5 L72.6,71.7 L72.2,71.9 L71.9,72.0 L71.5,72.1 L71.1,72.2 L70.6,72.3 L70.4,72.4Z M82.1,89.7 L81.6,89.8 L81.1,89.8 L80.6,89.8 L80.1,89.7 L79.9,89.6 L79.5,89.4 L79.1,89.2 L78.9,89.0 L78.6,88.8 L78.4,88.6 L78.1,88.2 L78.0,87.9 L77.9,87.6 L77.8,87.1 L77.9,86.9 L78.1,86.4 L78.3,86.1 L78.6,85.9 L78.9,85.8 L79.2,85.6 L79.6,85.5 L80.1,85.5 L80.6,85.5 L81.1,85.5 L81.6,85.6 L81.9,85.8 L82.2,85.9 L82.6,86.1 L82.9,86.4 L83.1,86.6 L83.3,86.9 L83.5,87.1 L83.6,87.6 L83.6,87.9 L83.6,88.2 L83.5,88.7 L83.3,88.9 L83.1,89.2 L82.8,89.4 L82.4,89.6 L82.1,89.7Z M70.6,71.9 L70.1,72.0 L69.6,72.0 L69.1,72.0 L68.6,71.9 L68.2,71.9 L67.9,71.8 L67.4,71.6 L67.1,71.5 L66.8,71.4 L66.4,71.1 L66.1,70.9 L65.8,70.6 L65.6,70.4 L65.4,70.1 L65.3,69.8 L65.1,69.4 L65.0,69.1 L65.0,68.6 L65.0,68.1 L65.1,67.6 L65.2,67.3 L65.3,67.0 L65.6,66.6 L65.8,66.3 L66.0,66.1 L66.2,65.8 L66.5,65.6 L66.8,65.3 L67.1,65.2 L67.4,65.0 L67.7,64.8 L68.1,64.6 L68.4,64.5 L68.9,64.4 L69.1,64.3 L69.6,64.2 L70.1,64.1 L70.4,64.1 L70.9,64.0 L71.4,64.0 L71.9,64.1 L72.1,64.1 L72.6,64.2 L73.0,64.3 L73.4,64.5 L73.6,64.6 L74.1,64.8 L74.4,65.1 L74.6,65.3 L74.9,65.5 L75.1,65.8 L75.2,66.1 L75.4,66.4 L75.5,66.8 L75.5,67.3 L75.5,67.8 L75.4,68.2 L75.2,68.6 L75.1,68.8 L74.9,69.2 L74.6,69.6 L74.4,69.8 L74.2,70.1 L73.9,70.4 L73.6,70.6 L73.4,70.7 L73.1,70.9 L72.8,71.1 L72.4,71.3 L72.1,71.4 L71.7,71.6 L71.4,71.7 L70.9,71.8 L70.6,71.9Z M81.6,88.4 L81.1,88.6 L80.6,88.6 L80.1,88.5 L79.9,88.4 L79.5,88.2 L79.3,87.9 L79.1,87.6 L79.1,87.1 L79.2,86.9 L79.4,86.6 L79.9,86.4 L80.1,86.4 L80.6,86.4 L81.0,86.4 L81.4,86.5 L81.6,86.7 L81.9,86.9 L82.1,87.1 L82.3,87.6 L82.1,88.0 L81.9,88.3 L81.6,88.4Z M70.9,71.4 L70.4,71.5 L69.9,71.5 L69.4,71.5 L68.9,71.5 L68.4,71.4 L68.1,71.3 L67.6,71.2 L67.4,71.0 L67.0,70.9 L66.7,70.6 L66.4,70.4 L66.2,70.1 L66.0,69.8 L65.8,69.6 L65.6,69.1 L65.6,68.8 L65.6,68.3 L65.6,68.1 L65.7,67.6 L65.8,67.3 L66.1,66.8 L66.3,66.6 L66.5,66.3 L66.7,66.1 L67.0,65.8 L67.3,65.6 L67.6,65.4 L67.9,65.3 L68.2,65.1 L68.6,64.9 L68.9,64.8 L69.4,64.7 L69.9,64.6 L70.1,64.6 L70.6,64.5 L71.1,64.5 L71.6,64.5 L71.9,64.6 L72.4,64.7 L72.9,64.8 L73.1,64.9 L73.4,65.1 L73.8,65.3 L74.1,65.6 L74.3,65.8 L74.5,66.1 L74.7,66.3 L74.8,66.8 L74.9,67.1 L74.9,67.6 L74.9,67.8 L74.7,68.3 L74.6,68.6 L74.4,69.1 L74.2,69.3 L74.0,69.6 L73.7,69.8 L73.5,70.1 L73.2,70.4 L72.9,70.5 L72.6,70.7 L72.3,70.9 L71.9,71.1 L71.6,71.2 L71.1,71.3 L70.9,71.4Z M70.9,70.9 L70.4,71.0 L69.9,71.0 L69.4,71.0 L68.9,71.0 L68.4,70.9 L68.1,70.8 L67.7,70.6 L67.4,70.4 L67.1,70.2 L66.8,69.9 L66.6,69.6 L66.5,69.3 L66.3,69.1 L66.3,68.6 L66.3,68.1 L66.3,67.8 L66.5,67.3 L66.7,67.1 L66.8,66.8 L67.1,66.6 L67.4,66.3 L67.6,66.1 L68.0,65.8 L68.4,65.7 L68.6,65.5 L69.1,65.4 L69.4,65.3 L69.9,65.2 L70.4,65.1 L70.7,65.1 L70.9,65.1 L71.4,65.1 L71.9,65.2 L72.4,65.3 L72.6,65.4 L72.9,65.6 L73.3,65.8 L73.6,66.1 L73.8,66.3 L74.0,66.6 L74.1,67.0 L74.2,67.3 L74.2,67.8 L74.1,68.2 L74.0,68.6 L73.8,68.8 L73.6,69.2 L73.4,69.5 L73.1,69.7 L72.9,69.9 L72.6,70.1 L72.2,70.4 L71.9,70.5 L71.6,70.7 L71.1,70.8 L70.9,70.9Z" fill="none" stroke="#000" stroke-width="0.5" clip-path="url(#cA)"/>
<g fill="#444" opacity="0.6" clip-path="url(#cA)"><circle cx="98.7" cy="102.9" r="0.35"/><circle cx="25.1" cy="83.8" r="0.35"/><circle cx="72.7" cy="82.7" r="0.35"/><circle cx="56.9" cy="76.1" r="0.35"/><circle cx="58.8" cy="57.5" r="0.35"/><circle cx="62.6" cy="90.6" r="0.35"/><circle cx="33.7" cy="55.4" r="0.35"/><circle cx="62.3" cy="89.1" r="0.35"/><circle cx="52.2" cy="79.8" r="0.35"/><circle cx="119.2" cy="95.8" r="0.35"/><circle cx="69.6" cy="79.1" r="0.35"/><circle cx="60.4" cy="68.5" r="0.35"/><circle cx="61.5" cy="85.0" r="0.35"/><circle cx="55.3" cy="72.2" r="0.35"/><circle cx="49.1" cy="77.5" r="0.35"/><circle cx="59.7" cy="80.6" r="0.35"/><circle cx="73.7" cy="78.1" r="0.35"/><circle cx="62.2" cy="77.4" r="0.35"/><circle cx="81.3" cy="68.3" r="0.35"/><circle cx="62.8" cy="77.4" r="0.35"/><circle cx="66.4" cy="50.1" r="0.35"/><circle cx="90.7" cy="77.8" r="0.35"/><circle cx="74.7" cy="63.2" r="0.35"/><circle cx="57.9" cy="95.7" r="0.35"/><circle cx="63.1" cy="97.8" r="0.35"/><circle cx="74.6" cy="52.7" r="0.35"/><circle cx="97.0" cy="82.0" r="0.35"/><circle cx="61.7" cy="78.2" r="0.35"/><circle cx="62.1" cy="65.3" r="0.35"/><circle cx="82.0" cy="87.4" r="0.35"/><circle cx="51.8" cy="73.5" r="0.35"/><circle cx="61.3" cy="55.3" r="0.35"/><circle cx="80.1" cy="76.3" r="0.35"/><circle cx="75.3" cy="77.9" r="0.35"/><circle cx="67.5" cy="81.5" r="0.35"/><circle cx="76.7" cy="62.8" r="0.35"/><circle cx="20.7" cy="88.6" r="0.35"/><circle cx="82.3" cy="90.3" r="0.35"/><circle cx="50.6" cy="64.0" r="0.35"/><circle cx="39.3" cy="70.8" r="0.35"/><circle cx="70.4" cy="78.9" r="0.35"/><circle cx="77.2" cy="72.1" r="0.35"/><circle cx="58.9" cy="104.4" r="0.35"/><circle cx="48.8" cy="82.9" r="0.35"/><circle cx="66.4" cy="65.9" r="0.35"/><circle cx="65.2" cy="69.0" r="0.35"/><circle cx="88.5" cy="79.2" r="0.35"/><circle cx="78.0" cy="112.1" r="0.35"/><circle cx="69.1" cy="77.5" r="0.35"/><circle cx="83.8" cy="81.8" r="0.35"/><circle cx="62.7" cy="87.2" r="0.35"/><circle cx="51.2" cy="79.4" r="0.35"/><circle cx="75.3" cy="111.9" r="0.35"/><circle cx="75.3" cy="72.6" r="0.35"/><circle cx="62.6" cy="90.4" r="0.35"/><circle cx="53.5" cy="82.2" r="0.35"/><circle cx="69.7" cy="88.7" r="0.35"/><circle cx="26.1" cy="63.5" r="0.35"/><circle cx="77.0" cy="104.8" r="0.35"/><circle cx="73.9" cy="78.3" r="0.35"/><circle cx="39.8" cy="80.5" r="0.35"/><circle cx="67.0" cy="66.9" r="0.35"/><circle cx="50.6" cy="69.8" r="0.35"/><circle cx="78.1" cy="87.9" r="0.35"/><circle cx="33.5" cy="93.8" r="0.35"/><circle cx="51.4" cy="90.5" r="0.35"/><circle cx="77.4" cy="96.9" r="0.35"/><circle cx="84.5" cy="90.0" r="0.35"/><circle cx="31.5" cy="80.4" r="0.35"/><circle cx="58.0" cy="91.7" r="0.35"/><circle cx="71.2" cy="88.3" r="0.35"/><circle cx="56.3" cy="78.6" r="0.35"/><circle cx="91.5" cy="90.2" r="0.35"/><circle cx="46.9" cy="98.0" r="0.35"/><circle cx="71.7" cy="83.3" r="0.35"/><circle cx="49.2" cy="75.0" r="0.35"/><circle cx="88.5" cy="90.1" r="0.35"/><circle cx="65.7" cy="106.6" r="0.35"/><circle cx="60.0" cy="77.1" r="0.35"/><circle cx="38.5" cy="78.7" r="0.35"/><circle cx="92.9" cy="78.1" r="0.35"/><circle cx="78.0" cy="97.1" r="0.35"/><circle cx="78.1" cy="54.3" r="0.35"/><circle cx="84.2" cy="85.1" r="0.35"/><circle cx="71.6" cy="96.7" r="0.35"/><circle cx="55.8" cy="68.6" r="0.35"/><circle cx="53.2" cy="100.8" r="0.35"/><circle cx="53.2" cy="87.5" r="0.35"/><circle cx="87.9" cy="72.3" r="0.35"/><circle cx="42.6" cy="82.9" r="0.35"/><circle cx="56.5" cy="58.5" r="0.35"/><circle cx="60.9" cy="72.1" r="0.35"/><circle cx="69.6" cy="105.6" r="0.35"/><circle cx="75.2" cy="67.5" r="0.35"/><circle cx="46.0" cy="105.8" r="0.35"/><circle cx="38.3" cy="78.9" r="0.35"/><circle cx="65.9" cy="93.9" r="0.35"/><circle cx="85.4" cy="80.6" r="0.35"/><circle cx="78.1" cy="48.6" r="0.35"/><circle cx="69.5" cy="72.0" r="0.35"/><circle cx="60.9" cy="82.7" r="0.35"/><circle cx="70.7" cy="63.9" r="0.35"/><circle cx="62.1" cy="61.1" r="0.35"/><circle cx="79.1" cy="85.1" r="0.35"/><circle cx="53.3" cy="70.9" r="0.35"/><circle cx="68.1" cy="56.3" r="0.35"/><circle cx="64.2" cy="70.4" r="0.35"/><circle cx="74.7" cy="92.1" r="0.35"/><circle cx="69.6" cy="73.4" r="0.35"/><circle cx="106.8" cy="93.1" r="0.35"/><circle cx="90.0" cy="101.4" r="0.35"/><circle cx="89.9" cy="80.5" r="0.35"/><circle cx="33.4" cy="64.2" r="0.35"/><circle cx="60.6" cy="61.8" r="0.35"/><circle cx="56.3" cy="79.6" r="0.35"/><circle cx="74.5" cy="92.3" r="0.35"/><circle cx="29.5" cy="83.8" r="0.35"/><circle cx="84.8" cy="87.7" r="0.35"/><circle cx="83.1" cy="73.8" r="0.35"/><circle cx="45.2" cy="84.2" r="0.35"/><circle cx="50.3" cy="73.4" r="0.35"/><circle cx="53.2" cy="75.4" r="0.35"/><circle cx="66.7" cy="61.9" r="0.35"/><circle cx="76.3" cy="58.0" r="0.35"/><circle cx="98.8" cy="73.3" r="0.35"/><circle cx="62.8" cy="64.5" r="0.35"/><circle cx="78.3" cy="66.6" r="0.35"/><circle cx="68.5" cy="89.4" r="0.35"/><circle cx="94.2" cy="78.5" r="0.35"/><circle cx="77.9" cy="120.8" r="0.35"/><circle cx="87.9" cy="93.0" r="0.35"/><circle cx="48.8" cy="71.1" r="0.35"/><circle cx="62.9" cy="90.9" r="0.35"/><circle cx="53.0" cy="85.0" r="0.35"/><circle cx="90.1" cy="70.4" r="0.35"/><circle cx="76.5" cy="95.4" r="0.35"/><circle cx="61.1" cy="69.1" r="0.35"/><circle cx="58.8" cy="37.2" r="0.35"/><circle cx="73.8" cy="91.1" r="0.35"/><circle cx="54.8" cy="71.4" r="0.35"/><circle cx="51.1" cy="100.8" r="0.35"/><circle cx="73.7" cy="70.9" r="0.35"/><circle cx="105.4" cy="63.5" r="0.35"/><circle cx="62.1" cy="101.7" r="0.35"/><circle cx="57.1" cy="64.9" r="0.35"/><circle cx="47.3" cy="82.8" r="0.35"/><circle cx="44.6" cy="100.3" r="0.35"/><circle cx="74.4" cy="81.6" r="0.35"/><circle cx="79.6" cy="78.9" r="0.35"/><circle cx="66.1" cy="81.4" r="0.35"/><circle cx="71.3" cy="91.7" r="0.35"/><circle cx="67.9" cy="68.7" r="0.35"/><circle cx="68.2" cy="88.5" r="0.35"/><circle cx="41.6" cy="88.1" r="0.35"/><circle cx="58.7" cy="112.7" r="0.35"/><circle cx="67.8" cy="75.3" r="0.35"/><circle cx="53.5" cy="67.2" r="0.35"/><circle cx="58.4" cy="90.3" r="0.35"/><circle cx="52.9" cy="74.4" r="0.35"/><circle cx="60.7" cy="84.0" r="0.35"/><circle cx="79.6" cy="81.9" r="0.35"/><circle cx="59.5" cy="96.4" r="0.35"/><circle cx="63.5" cy="70.8" r="0.35"/><circle cx="79.0" cy="78.7" r="0.35"/><circle cx="76.3" cy="44.3" r="0.35"/><circle cx="93.1" cy="67.5" r="0.35"/><circle cx="32.6" cy="101.5" r="0.35"/><circle cx="79.7" cy="70.5" r="0.35"/><circle cx="58.3" cy="70.2" r="0.35"/><circle cx="68.2" cy="62.9" r="0.35"/><circle cx="79.4" cy="88.1" r="0.35"/><circle cx="83.3" cy="82.5" r="0.35"/><circle cx="82.6" cy="63.4" r="0.35"/><circle cx="68.5" cy="89.3" r="0.35"/><circle cx="91.8" cy="83.6" r="0.35"/><circle cx="61.5" cy="90.6" r="0.35"/><circle cx="63.7" cy="71.0" r="0.35"/><circle cx="78.8" cy="104.3" r="0.35"/><circle cx="57.2" cy="85.7" r="0.35"/><circle cx="100.6" cy="78.4" r="0.35"/><circle cx="82.3" cy="72.7" r="0.35"/><circle cx="100.8" cy="76.6" r="0.35"/><circle cx="65.6" cy="92.0" r="0.35"/><circle cx="59.9" cy="76.2" r="0.35"/><circle cx="68.7" cy="95.1" r="0.35"/><circle cx="77.8" cy="88.1" r="0.35"/><circle cx="56.6" cy="98.9" r="0.35"/><circle cx="72.1" cy="91.4" r="0.35"/><circle cx="65.7" cy="79.1" r="0.35"/><circle cx="91.9" cy="53.3" r="0.35"/><circle cx="55.4" cy="84.2" r="0.35"/><circle cx="82.7" cy="91.0" r="0.35"/><circle cx="55.7" cy="82.3" r="0.35"/><circle cx="50.6" cy="87.8" r="0.35"/><circle cx="54.6" cy="73.4" r="0.35"/><circle cx="47.0" cy="74.7" r="0.35"/><circle cx="68.3" cy="66.8" r="0.35"/><circle cx="82.5" cy="99.1" r="0.35"/><circle cx="68.6" cy="82.2" r="0.35"/><circle cx="76.0" cy="73.1" r="0.35"/></g>
<g fill="#555" opacity="0.55" clip-path="url(#cA)"><circle cx="58.9" cy="77.5" r="0.35"/><circle cx="71.6" cy="106.4" r="0.35"/><circle cx="35.4" cy="92.1" r="0.35"/><circle cx="73.6" cy="86.7" r="0.35"/><circle cx="54.5" cy="105.8" r="0.35"/><circle cx="46.2" cy="99.7" r="0.35"/><circle cx="46.2" cy="80.4" r="0.35"/><circle cx="43.1" cy="94.9" r="0.35"/><circle cx="52.5" cy="93.0" r="0.35"/><circle cx="64.2" cy="106.9" r="0.35"/><circle cx="61.4" cy="75.2" r="0.35"/><circle cx="62.0" cy="91.8" r="0.35"/><circle cx="36.4" cy="94.5" r="0.35"/><circle cx="37.7" cy="111.6" r="0.35"/><circle cx="72.1" cy="84.1" r="0.35"/><circle cx="65.7" cy="63.7" r="0.35"/><circle cx="79.0" cy="80.8" r="0.35"/><circle cx="68.3" cy="98.9" r="0.35"/><circle cx="43.7" cy="104.9" r="0.35"/><circle cx="69.1" cy="115.1" r="0.35"/><circle cx="61.9" cy="100.4" r="0.35"/><circle cx="57.4" cy="87.2" r="0.35"/><circle cx="46.0" cy="105.7" r="0.35"/><circle cx="55.0" cy="95.9" r="0.35"/><circle cx="53.4" cy="93.8" r="0.35"/><circle cx="64.8" cy="96.2" r="0.35"/><circle cx="56.4" cy="110.0" r="0.35"/><circle cx="72.4" cy="86.1" r="0.35"/><circle cx="46.5" cy="84.7" r="0.35"/><circle cx="60.2" cy="95.3" r="0.35"/><circle cx="60.5" cy="95.3" r="0.35"/><circle cx="45.5" cy="87.0" r="0.35"/><circle cx="42.0" cy="86.3" r="0.35"/><circle cx="66.1" cy="100.2" r="0.35"/><circle cx="60.7" cy="110.7" r="0.35"/><circle cx="53.2" cy="103.8" r="0.35"/><circle cx="59.3" cy="103.5" r="0.35"/><circle cx="47.6" cy="109.7" r="0.35"/><circle cx="57.6" cy="74.1" r="0.35"/><circle cx="48.3" cy="79.4" r="0.35"/><circle cx="57.1" cy="88.2" r="0.35"/><circle cx="65.8" cy="82.9" r="0.35"/><circle cx="51.3" cy="85.1" r="0.35"/><circle cx="64.3" cy="96.8" r="0.35"/><circle cx="43.6" cy="81.9" r="0.35"/><circle cx="51.8" cy="91.1" r="0.35"/><circle cx="40.0" cy="73.5" r="0.35"/><circle cx="53.9" cy="85.3" r="0.35"/><circle cx="55.9" cy="110.8" r="0.35"/><circle cx="52.8" cy="90.0" r="0.35"/><circle cx="52.1" cy="99.6" r="0.35"/><circle cx="69.7" cy="103.8" r="0.35"/><circle cx="70.7" cy="90.6" r="0.35"/><circle cx="41.6" cy="102.4" r="0.35"/><circle cx="67.9" cy="98.4" r="0.35"/><circle cx="36.0" cy="103.7" r="0.35"/><circle cx="46.9" cy="89.0" r="0.35"/><circle cx="53.1" cy="80.2" r="0.35"/><circle cx="56.2" cy="84.8" r="0.35"/><circle cx="43.5" cy="89.9" r="0.35"/><circle cx="47.1" cy="101.9" r="0.35"/><circle cx="55.8" cy="93.8" r="0.35"/><circle cx="47.4" cy="91.6" r="0.35"/><circle cx="47.9" cy="94.0" r="0.35"/><circle cx="62.3" cy="108.1" r="0.35"/><circle cx="65.2" cy="89.7" r="0.35"/><circle cx="54.3" cy="112.6" r="0.35"/><circle cx="55.2" cy="82.5" r="0.35"/><circle cx="54.8" cy="89.5" r="0.35"/><circle cx="50.0" cy="105.4" r="0.35"/><circle cx="49.4" cy="101.7" r="0.35"/><circle cx="43.6" cy="86.6" r="0.35"/><circle cx="62.1" cy="94.8" r="0.35"/><circle cx="54.1" cy="88.2" r="0.35"/><circle cx="53.5" cy="105.4" r="0.35"/><circle cx="57.2" cy="101.9" r="0.35"/><circle cx="60.8" cy="88.2" r="0.35"/><circle cx="70.6" cy="100.4" r="0.35"/><circle cx="52.0" cy="92.0" r="0.35"/><circle cx="50.6" cy="95.2" r="0.35"/><circle cx="57.2" cy="96.7" r="0.35"/><circle cx="45.7" cy="89.8" r="0.35"/><circle cx="69.0" cy="100.7" r="0.35"/><circle cx="65.2" cy="101.1" r="0.35"/><circle cx="62.6" cy="100.7" r="0.35"/><circle cx="53.7" cy="108.2" r="0.35"/><circle cx="63.1" cy="93.0" r="0.35"/><circle cx="66.6" cy="79.7" r="0.35"/><circle cx="60.5" cy="90.6" r="0.35"/><circle cx="51.9" cy="98.2" r="0.35"/></g>
<ellipse cx="33.5" cy="76" rx="1.6" ry="7" fill="none" stroke="#555" stroke-width="0.5"/>
<rect x="31.5" y="35.4" width="89.1" height="87.2" fill="none" stroke="#111" stroke-width="1.3"/>
<line x1="76.4" y1="35.4" x2="76.4" y2="122.6" stroke="#111" stroke-width="1.1"/>
<line x1="31.5" y1="79.3" x2="120.6" y2="79.3" stroke="#111" stroke-width="1.1"/>
<line x1="31.50" y1="122.6" x2="31.50" y2="125.39999999999999" stroke="#111" stroke-width="0.85"/>
<line x1="36.86" y1="122.6" x2="36.86" y2="124.3" stroke="#111" stroke-width="0.85"/>
<line x1="40.00" y1="122.6" x2="40.00" y2="124.3" stroke="#111" stroke-width="0.85"/>
<line x1="42.23" y1="122.6" x2="42.23" y2="124.3" stroke="#111" stroke-width="0.85"/>
<line x1="43.96" y1="122.6" x2="43.96" y2="124.3" stroke="#111" stroke-width="0.85"/>
<line x1="45.37" y1="122.6" x2="45.37" y2="124.3" stroke="#111" stroke-width="0.85"/>
<line x1="46.56" y1="122.6" x2="46.56" y2="124.3" stroke="#111" stroke-width="0.85"/>
<line x1="47.59" y1="122.6" x2="47.59" y2="124.3" stroke="#111" stroke-width="0.85"/>
<line x1="48.50" y1="122.6" x2="48.50" y2="124.3" stroke="#111" stroke-width="0.85"/>
<line x1="49.32" y1="122.6" x2="49.32" y2="125.39999999999999" stroke="#111" stroke-width="0.85"/>
<line x1="54.68" y1="122.6" x2="54.68" y2="124.3" stroke="#111" stroke-width="0.85"/>
<line x1="57.82" y1="122.6" x2="57.82" y2="124.3" stroke="#111" stroke-width="0.85"/>
<line x1="60.05" y1="122.6" x2="60.05" y2="124.3" stroke="#111" stroke-width="0.85"/>
<line x1="61.78" y1="122.6" x2="61.78" y2="124.3" stroke="#111" stroke-width="0.85"/>
<line x1="63.19" y1="122.6" x2="63.19" y2="124.3" stroke="#111" stroke-width="0.85"/>
<line x1="64.38" y1="122.6" x2="64.38" y2="124.3" stroke="#111" stroke-width="0.85"/>
<line x1="65.41" y1="122.6" x2="65.41" y2="124.3" stroke="#111" stroke-width="0.85"/>
<line x1="66.32" y1="122.6" x2="66.32" y2="124.3" stroke="#111" stroke-width="0.85"/>
<line x1="67.14" y1="122.6" x2="67.14" y2="125.39999999999999" stroke="#111" stroke-width="0.85"/>
<line x1="72.50" y1="122.6" x2="72.50" y2="124.3" stroke="#111" stroke-width="0.85"/>
<line x1="75.64" y1="122.6" x2="75.64" y2="124.3" stroke="#111" stroke-width="0.85"/>
<line x1="77.87" y1="122.6" x2="77.87" y2="124.3" stroke="#111" stroke-width="0.85"/>
<line x1="79.60" y1="122.6" x2="79.60" y2="124.3" stroke="#111" stroke-width="0.85"/>
<line x1="81.01" y1="122.6" x2="81.01" y2="124.3" stroke="#111" stroke-width="0.85"/>
<line x1="82.20" y1="122.6" x2="82.20" y2="124.3" stroke="#111" stroke-width="0.85"/>
<line x1="83.23" y1="122.6" x2="83.23" y2="124.3" stroke="#111" stroke-width="0.85"/>
<line x1="84.14" y1="122.6" x2="84.14" y2="124.3" stroke="#111" stroke-width="0.85"/>
<line x1="84.96" y1="122.6" x2="84.96" y2="125.39999999999999" stroke="#111" stroke-width="0.85"/>
<line x1="90.32" y1="122.6" x2="90.32" y2="124.3" stroke="#111" stroke-width="0.85"/>
<line x1="93.46" y1="122.6" x2="93.46" y2="124.3" stroke="#111" stroke-width="0.85"/>
<line x1="95.69" y1="122.6" x2="95.69" y2="124.3" stroke="#111" stroke-width="0.85"/>
<line x1="97.42" y1="122.6" x2="97.42" y2="124.3" stroke="#111" stroke-width="0.85"/>
<line x1="98.83" y1="122.6" x2="98.83" y2="124.3" stroke="#111" stroke-width="0.85"/>
<line x1="100.02" y1="122.6" x2="100.02" y2="124.3" stroke="#111" stroke-width="0.85"/>
<line x1="101.05" y1="122.6" x2="101.05" y2="124.3" stroke="#111" stroke-width="0.85"/>
<line x1="101.96" y1="122.6" x2="101.96" y2="124.3" stroke="#111" stroke-width="0.85"/>
<line x1="102.78" y1="122.6" x2="102.78" y2="125.39999999999999" stroke="#111" stroke-width="0.85"/>
<line x1="108.14" y1="122.6" x2="108.14" y2="124.3" stroke="#111" stroke-width="0.85"/>
<line x1="111.28" y1="122.6" x2="111.28" y2="124.3" stroke="#111" stroke-width="0.85"/>
<line x1="113.51" y1="122.6" x2="113.51" y2="124.3" stroke="#111" stroke-width="0.85"/>
<line x1="115.24" y1="122.6" x2="115.24" y2="124.3" stroke="#111" stroke-width="0.85"/>
<line x1="116.65" y1="122.6" x2="116.65" y2="124.3" stroke="#111" stroke-width="0.85"/>
<line x1="117.84" y1="122.6" x2="117.84" y2="124.3" stroke="#111" stroke-width="0.85"/>
<line x1="118.87" y1="122.6" x2="118.87" y2="124.3" stroke="#111" stroke-width="0.85"/>
<line x1="119.78" y1="122.6" x2="119.78" y2="124.3" stroke="#111" stroke-width="0.85"/>
<line x1="28.7" y1="122.60" x2="31.5" y2="122.60" stroke="#111" stroke-width="0.85"/>
<line x1="29.8" y1="117.35" x2="31.5" y2="117.35" stroke="#111" stroke-width="0.85"/>
<line x1="29.8" y1="114.28" x2="31.5" y2="114.28" stroke="#111" stroke-width="0.85"/>
<line x1="29.8" y1="112.10" x2="31.5" y2="112.10" stroke="#111" stroke-width="0.85"/>
<line x1="29.8" y1="110.41" x2="31.5" y2="110.41" stroke="#111" stroke-width="0.85"/>
<line x1="29.8" y1="109.03" x2="31.5" y2="109.03" stroke="#111" stroke-width="0.85"/>
<line x1="29.8" y1="107.86" x2="31.5" y2="107.86" stroke="#111" stroke-width="0.85"/>
<line x1="29.8" y1="106.85" x2="31.5" y2="106.85" stroke="#111" stroke-width="0.85"/>
<line x1="29.8" y1="105.96" x2="31.5" y2="105.96" stroke="#111" stroke-width="0.85"/>
<line x1="28.7" y1="105.16" x2="31.5" y2="105.16" stroke="#111" stroke-width="0.85"/>
<line x1="29.8" y1="99.91" x2="31.5" y2="99.91" stroke="#111" stroke-width="0.85"/>
<line x1="29.8" y1="96.84" x2="31.5" y2="96.84" stroke="#111" stroke-width="0.85"/>
<line x1="29.8" y1="94.66" x2="31.5" y2="94.66" stroke="#111" stroke-width="0.85"/>
<line x1="29.8" y1="92.97" x2="31.5" y2="92.97" stroke="#111" stroke-width="0.85"/>
<line x1="29.8" y1="91.59" x2="31.5" y2="91.59" stroke="#111" stroke-width="0.85"/>
<line x1="29.8" y1="90.42" x2="31.5" y2="90.42" stroke="#111" stroke-width="0.85"/>
<line x1="29.8" y1="89.41" x2="31.5" y2="89.41" stroke="#111" stroke-width="0.85"/>
<line x1="29.8" y1="88.52" x2="31.5" y2="88.52" stroke="#111" stroke-width="0.85"/>
<line x1="28.7" y1="87.72" x2="31.5" y2="87.72" stroke="#111" stroke-width="0.85"/>
<line x1="29.8" y1="82.47" x2="31.5" y2="82.47" stroke="#111" stroke-width="0.85"/>
<line x1="29.8" y1="79.40" x2="31.5" y2="79.40" stroke="#111" stroke-width="0.85"/>
<line x1="29.8" y1="77.22" x2="31.5" y2="77.22" stroke="#111" stroke-width="0.85"/>
<line x1="29.8" y1="75.53" x2="31.5" y2="75.53" stroke="#111" stroke-width="0.85"/>
<line x1="29.8" y1="74.15" x2="31.5" y2="74.15" stroke="#111" stroke-width="0.85"/>
<line x1="29.8" y1="72.98" x2="31.5" y2="72.98" stroke="#111" stroke-width="0.85"/>
<line x1="29.8" y1="71.97" x2="31.5" y2="71.97" stroke="#111" stroke-width="0.85"/>
<line x1="29.8" y1="71.08" x2="31.5" y2="71.08" stroke="#111" stroke-width="0.85"/>
<line x1="28.7" y1="70.28" x2="31.5" y2="70.28" stroke="#111" stroke-width="0.85"/>
<line x1="29.8" y1="65.03" x2="31.5" y2="65.03" stroke="#111" stroke-width="0.85"/>
<line x1="29.8" y1="61.96" x2="31.5" y2="61.96" stroke="#111" stroke-width="0.85"/>
<line x1="29.8" y1="59.78" x2="31.5" y2="59.78" stroke="#111" stroke-width="0.85"/>
<line x1="29.8" y1="58.09" x2="31.5" y2="58.09" stroke="#111" stroke-width="0.85"/>
<line x1="29.8" y1="56.71" x2="31.5" y2="56.71" stroke="#111" stroke-width="0.85"/>
<line x1="29.8" y1="55.54" x2="31.5" y2="55.54" stroke="#111" stroke-width="0.85"/>
<line x1="29.8" y1="54.53" x2="31.5" y2="54.53" stroke="#111" stroke-width="0.85"/>
<line x1="29.8" y1="53.64" x2="31.5" y2="53.64" stroke="#111" stroke-width="0.85"/>
<line x1="28.7" y1="52.84" x2="31.5" y2="52.84" stroke="#111" stroke-width="0.85"/>
<line x1="29.8" y1="47.59" x2="31.5" y2="47.59" stroke="#111" stroke-width="0.85"/>
<line x1="29.8" y1="44.52" x2="31.5" y2="44.52" stroke="#111" stroke-width="0.85"/>
<line x1="29.8" y1="42.34" x2="31.5" y2="42.34" stroke="#111" stroke-width="0.85"/>
<line x1="29.8" y1="40.65" x2="31.5" y2="40.65" stroke="#111" stroke-width="0.85"/>
<line x1="29.8" y1="39.27" x2="31.5" y2="39.27" stroke="#111" stroke-width="0.85"/>
<line x1="29.8" y1="38.10" x2="31.5" y2="38.10" stroke="#111" stroke-width="0.85"/>
<line x1="29.8" y1="37.09" x2="31.5" y2="37.09" stroke="#111" stroke-width="0.85"/>
<line x1="29.8" y1="36.20" x2="31.5" y2="36.20" stroke="#111" stroke-width="0.85"/>
<line x1="21.4" y1="128.7" x2="21.4" y2="40.5" stroke="#111" stroke-width="1.1"/>
<line x1="21.4" y1="128.7" x2="120.5" y2="128.7" stroke="#111" stroke-width="1.1"/>
<polygon points="19.099999999999998,42.3 21.4,36.8 23.7,42.3" fill="#111"/>
<polygon points="118.8,126.39999999999999 124.3,128.7 118.8,131.0" fill="#111"/>
<text x="47.2" y="28.95" font-size="9.9" fill="#1a1a1a" stroke="#1a1a1a" stroke-width="0.1" text-anchor="start" textLength="58.2" lengthAdjust="spacingAndGlyphs">Total LSK cells</text>
<text x="16.0" y="91.0" font-size="9.9" fill="#1a1a1a" stroke="#1a1a1a" stroke-width="0.1" text-anchor="start" textLength="23.0" lengthAdjust="spacingAndGlyphs" transform="rotate(-90 16.0 91.0)">CD48</text>
<text x="27.3" y="139.4" font-size="9.9" fill="#1a1a1a" stroke="#1a1a1a" stroke-width="0.1" text-anchor="start" textLength="28.5" lengthAdjust="spacingAndGlyphs">CD150</text>
<text x="36.4" y="44.6" font-size="8.7" fill="#1a1a1a" stroke="#1a1a1a" stroke-width="0.1" text-anchor="start" textLength="13.6" lengthAdjust="spacingAndGlyphs">38.2</text>
<text x="35.5" y="53.6" font-size="8.7" fill="#3a5ca6" stroke="#3a5ca6" stroke-width="0.1" text-anchor="start" textLength="14.6" lengthAdjust="spacingAndGlyphs">MPP</text>
<text x="99.0" y="44.7" font-size="8.7" fill="#1a1a1a" stroke="#1a1a1a" stroke-width="0.1" text-anchor="start" textLength="12.2" lengthAdjust="spacingAndGlyphs">21.1</text>
<text x="93.9" y="54.2" font-size="8.7" fill="#bd1f48" stroke="#bd1f48" stroke-width="0.1" text-anchor="start" textLength="22.9" lengthAdjust="spacingAndGlyphs">ST-HSC</text>
<text x="93.8" y="108.5" font-size="8.7" fill="#1a1a1a" stroke="#1a1a1a" stroke-width="0.1" text-anchor="start" textLength="22.4" lengthAdjust="spacingAndGlyphs">LT-HSC</text>
<text x="98.9" y="118.2" font-size="8.7" fill="#1a1a1a" stroke="#1a1a1a" stroke-width="0.1" text-anchor="start" textLength="13.0" lengthAdjust="spacingAndGlyphs">25.6</text>
<text x="35.0" y="117.1" font-size="8.7" fill="#1a1a1a" stroke="#1a1a1a" stroke-width="0.1" text-anchor="start" textLength="13.3" lengthAdjust="spacingAndGlyphs">14.9</text>
<text x="168.4" y="30.2" font-size="9.9" fill="#1a1a1a" stroke="#1a1a1a" stroke-width="0.1" text-anchor="start" textLength="53.4" lengthAdjust="spacingAndGlyphs">E84 Intensity</text>
<text x="139.6" y="98.7" font-size="9.9" fill="#1a1a1a" stroke="#1a1a1a" stroke-width="0.1" text-anchor="start" textLength="38.5" lengthAdjust="spacingAndGlyphs" transform="rotate(-90 139.6 98.7)">% of Max</text>
<text x="146.4" y="139.8" font-size="9.9" fill="#1a1a1a" stroke="#1a1a1a" stroke-width="0.1" text-anchor="start" textLength="15.4" lengthAdjust="spacingAndGlyphs">E84</text>
<text x="155.6" y="46.6" font-size="8.6" fill="#1a1a1a" stroke="#1a1a1a" stroke-width="0.1" text-anchor="start" textLength="22.3" lengthAdjust="spacingAndGlyphs">LT-HSC</text>
<text x="155.6" y="56.8" font-size="8.6" fill="#bd1f48" stroke="#bd1f48" stroke-width="0.1" text-anchor="start" textLength="22.5" lengthAdjust="spacingAndGlyphs">ST-HSC</text>
<text x="155.6" y="66.6" font-size="8.6" fill="#3a5ca6" stroke="#3a5ca6" stroke-width="0.1" text-anchor="start" textLength="14.6" lengthAdjust="spacingAndGlyphs">MPP</text>
<text x="213.0" y="46.9" font-size="8.6" fill="#1a1a1a" stroke="#1a1a1a" stroke-width="0.1" text-anchor="start" textLength="17.2" lengthAdjust="spacingAndGlyphs">(113)</text>
<text x="213.0" y="56.9" font-size="8.6" fill="#bd1f48" stroke="#bd1f48" stroke-width="0.1" text-anchor="start" textLength="17.2" lengthAdjust="spacingAndGlyphs">(421)</text>
<text x="213.0" y="66.9" font-size="8.6" fill="#3a5ca6" stroke="#3a5ca6" stroke-width="0.1" text-anchor="start" textLength="17.2" lengthAdjust="spacingAndGlyphs">(409)</text>
<g clip-path="url(#cH)">
<polygon points="151,122.3 165,122.3 168,121.6 171,120.6 174,121.8 181,122 183,120 185,113 187.5,100 190,85 192,75 193.5,68 195,61.5 197,60.3 199,60.8 200.3,63 201.5,72 203,85 204.2,97 205.2,108 206.2,115 207.5,119.5 209.5,122.3 238,122.3" fill="#7b577f" stroke="none"/>
<polyline points="151,122.3 165,122.3 168,121.6 171,120.6 174,121.8 181,122 183,120 185,113 187.5,100 190,85 192,75 193.5,68 195,61.5 197,60.3 199,60.8 200.3,63 201.5,72 203,85 204.2,97 205.2,108 206.2,115 207.5,119.5 209.5,122.3 238,122.3" fill="none" stroke="#c2113f" stroke-width="0.9" stroke-linejoin="round"/>
<polyline points="151,122.3 180,122.3 182,121 184,117 186,110 188,98 190,86 192,75 194,66 196,56 197.5,48.7 198.6,56 199.5,70 200.5,88 201.5,100 202.5,110 204,118 206,121.5 209,122.3 238,122.3" fill="none" stroke="#3b5a9a" stroke-width="0.9" stroke-linejoin="round"/>
<polyline points="150.8,92 151.5,106 152.5,118 153.6,121.7 158,121.9 161.5,120.8 165,121.8 170,121.5 175.2,120.4 179,118 181.5,114 183,107.5 185.1,98 186.5,91 187.7,84 189,74 190,65.2 191,57 191.7,52.3 192.9,48.5 193.8,50 195.2,48.3 195.9,57 196.7,66 197.6,77 198.8,89 199.9,100.5 200.7,109 201.5,115.7 203.4,120.6 205,122.3 238,122.3" fill="none" stroke="#6bb33f" stroke-width="0.9" stroke-linejoin="round"/>
</g>
<rect x="150.9" y="36.3" width="87.6" height="86.1" fill="none" stroke="#111" stroke-width="1.3"/>
<line x1="147.9" y1="122.3" x2="150.9" y2="122.3" stroke="#111" stroke-width="0.7"/>
<line x1="149.3" y1="118.2" x2="150.9" y2="118.2" stroke="#111" stroke-width="0.7"/>
<line x1="149.3" y1="114.1" x2="150.9" y2="114.1" stroke="#111" stroke-width="0.7"/>
<line x1="149.3" y1="110.0" x2="150.9" y2="110.0" stroke="#111" stroke-width="0.7"/>
<line x1="149.3" y1="105.9" x2="150.9" y2="105.9" stroke="#111" stroke-width="0.7"/>
<line x1="147.9" y1="101.8" x2="150.9" y2="101.8" stroke="#111" stroke-width="0.7"/>
<line x1="149.3" y1="97.7" x2="150.9" y2="97.7" stroke="#111" stroke-width="0.7"/>
<line x1="149.3" y1="93.6" x2="150.9" y2="93.6" stroke="#111" stroke-width="0.7"/>
<line x1="149.3" y1="89.5" x2="150.9" y2="89.5" stroke="#111" stroke-width="0.7"/>
<line x1="149.3" y1="85.4" x2="150.9" y2="85.4" stroke="#111" stroke-width="0.7"/>
<line x1="147.9" y1="81.3" x2="150.9" y2="81.3" stroke="#111" stroke-width="0.7"/>
<line x1="149.3" y1="77.2" x2="150.9" y2="77.2" stroke="#111" stroke-width="0.7"/>
<line x1="149.3" y1="73.1" x2="150.9" y2="73.1" stroke="#111" stroke-width="0.7"/>
<line x1="149.3" y1="69.0" x2="150.9" y2="69.0" stroke="#111" stroke-width="0.7"/>
<line x1="149.3" y1="64.9" x2="150.9" y2="64.9" stroke="#111" stroke-width="0.7"/>
<line x1="147.9" y1="60.8" x2="150.9" y2="60.8" stroke="#111" stroke-width="0.7"/>
<line x1="149.3" y1="56.7" x2="150.9" y2="56.7" stroke="#111" stroke-width="0.7"/>
<line x1="149.3" y1="52.6" x2="150.9" y2="52.6" stroke="#111" stroke-width="0.7"/>
<line x1="149.3" y1="48.5" x2="150.9" y2="48.5" stroke="#111" stroke-width="0.7"/>
<line x1="149.3" y1="44.4" x2="150.9" y2="44.4" stroke="#111" stroke-width="0.7"/>
<line x1="147.9" y1="40.3" x2="150.9" y2="40.3" stroke="#111" stroke-width="0.7"/>
<line x1="150.90" y1="122.4" x2="150.90" y2="125.2" stroke="#111" stroke-width="0.85"/>
<line x1="156.17" y1="122.4" x2="156.17" y2="124.10000000000001" stroke="#111" stroke-width="0.85"/>
<line x1="159.26" y1="122.4" x2="159.26" y2="124.10000000000001" stroke="#111" stroke-width="0.85"/>
<line x1="161.45" y1="122.4" x2="161.45" y2="124.10000000000001" stroke="#111" stroke-width="0.85"/>
<line x1="163.15" y1="122.4" x2="163.15" y2="124.10000000000001" stroke="#111" stroke-width="0.85"/>
<line x1="164.53" y1="122.4" x2="164.53" y2="124.10000000000001" stroke="#111" stroke-width="0.85"/>
<line x1="165.71" y1="122.4" x2="165.71" y2="124.10000000000001" stroke="#111" stroke-width="0.85"/>
<line x1="166.72" y1="122.4" x2="166.72" y2="124.10000000000001" stroke="#111" stroke-width="0.85"/>
<line x1="167.62" y1="122.4" x2="167.62" y2="124.10000000000001" stroke="#111" stroke-width="0.85"/>
<line x1="168.42" y1="122.4" x2="168.42" y2="125.2" stroke="#111" stroke-width="0.85"/>
<line x1="173.69" y1="122.4" x2="173.69" y2="124.10000000000001" stroke="#111" stroke-width="0.85"/>
<line x1="176.78" y1="122.4" x2="176.78" y2="124.10000000000001" stroke="#111" stroke-width="0.85"/>
<line x1="178.97" y1="122.4" x2="178.97" y2="124.10000000000001" stroke="#111" stroke-width="0.85"/>
<line x1="180.67" y1="122.4" x2="180.67" y2="124.10000000000001" stroke="#111" stroke-width="0.85"/>
<line x1="182.05" y1="122.4" x2="182.05" y2="124.10000000000001" stroke="#111" stroke-width="0.85"/>
<line x1="183.23" y1="122.4" x2="183.23" y2="124.10000000000001" stroke="#111" stroke-width="0.85"/>
<line x1="184.24" y1="122.4" x2="184.24" y2="124.10000000000001" stroke="#111" stroke-width="0.85"/>
<line x1="185.14" y1="122.4" x2="185.14" y2="124.10000000000001" stroke="#111" stroke-width="0.85"/>
<line x1="185.94" y1="122.4" x2="185.94" y2="125.2" stroke="#111" stroke-width="0.85"/>
<line x1="191.21" y1="122.4" x2="191.21" y2="124.10000000000001" stroke="#111" stroke-width="0.85"/>
<line x1="194.30" y1="122.4" x2="194.30" y2="124.10000000000001" stroke="#111" stroke-width="0.85"/>
<line x1="196.49" y1="122.4" x2="196.49" y2="124.10000000000001" stroke="#111" stroke-width="0.85"/>
<line x1="198.19" y1="122.4" x2="198.19" y2="124.10000000000001" stroke="#111" stroke-width="0.85"/>
<line x1="199.57" y1="122.4" x2="199.57" y2="124.10000000000001" stroke="#111" stroke-width="0.85"/>
<line x1="200.75" y1="122.4" x2="200.75" y2="124.10000000000001" stroke="#111" stroke-width="0.85"/>
<line x1="201.76" y1="122.4" x2="201.76" y2="124.10000000000001" stroke="#111" stroke-width="0.85"/>
<line x1="202.66" y1="122.4" x2="202.66" y2="124.10000000000001" stroke="#111" stroke-width="0.85"/>
<line x1="203.46" y1="122.4" x2="203.46" y2="125.2" stroke="#111" stroke-width="0.85"/>
<line x1="208.73" y1="122.4" x2="208.73" y2="124.10000000000001" stroke="#111" stroke-width="0.85"/>
<line x1="211.82" y1="122.4" x2="211.82" y2="124.10000000000001" stroke="#111" stroke-width="0.85"/>
<line x1="214.01" y1="122.4" x2="214.01" y2="124.10000000000001" stroke="#111" stroke-width="0.85"/>
<line x1="215.71" y1="122.4" x2="215.71" y2="124.10000000000001" stroke="#111" stroke-width="0.85"/>
<line x1="217.09" y1="122.4" x2="217.09" y2="124.10000000000001" stroke="#111" stroke-width="0.85"/>
<line x1="218.27" y1="122.4" x2="218.27" y2="124.10000000000001" stroke="#111" stroke-width="0.85"/>
<line x1="219.28" y1="122.4" x2="219.28" y2="124.10000000000001" stroke="#111" stroke-width="0.85"/>
<line x1="220.18" y1="122.4" x2="220.18" y2="124.10000000000001" stroke="#111" stroke-width="0.85"/>
<line x1="220.98" y1="122.4" x2="220.98" y2="125.2" stroke="#111" stroke-width="0.85"/>
<line x1="226.25" y1="122.4" x2="226.25" y2="124.10000000000001" stroke="#111" stroke-width="0.85"/>
<line x1="229.34" y1="122.4" x2="229.34" y2="124.10000000000001" stroke="#111" stroke-width="0.85"/>
<line x1="231.53" y1="122.4" x2="231.53" y2="124.10000000000001" stroke="#111" stroke-width="0.85"/>
<line x1="233.23" y1="122.4" x2="233.23" y2="124.10000000000001" stroke="#111" stroke-width="0.85"/>
<line x1="234.61" y1="122.4" x2="234.61" y2="124.10000000000001" stroke="#111" stroke-width="0.85"/>
<line x1="235.79" y1="122.4" x2="235.79" y2="124.10000000000001" stroke="#111" stroke-width="0.85"/>
<line x1="236.80" y1="122.4" x2="236.80" y2="124.10000000000001" stroke="#111" stroke-width="0.85"/>
<line x1="237.70" y1="122.4" x2="237.70" y2="124.10000000000001" stroke="#111" stroke-width="0.85"/>
<line x1="144.6" y1="128.9" x2="144.6" y2="44.5" stroke="#111" stroke-width="1.1"/>
<line x1="144.6" y1="128.9" x2="232" y2="128.9" stroke="#111" stroke-width="1.1"/>
<polygon points="142.29999999999998,45.8 144.6,40.3 146.9,45.8" fill="#111"/>
<polygon points="230.8,126.60000000000001 236.3,128.9 230.8,131.20000000000002" fill="#111"/>
<text x="301.8" y="28.7" font-size="9.9" fill="#1a1a1a" stroke="#1a1a1a" stroke-width="0.1" text-anchor="start" textLength="37.3" lengthAdjust="spacingAndGlyphs">LSK Cells</text>
<text x="264.5" y="91.3" font-size="9.9" fill="#1a1a1a" stroke="#1a1a1a" stroke-width="0.1" text-anchor="start" textLength="15.6" lengthAdjust="spacingAndGlyphs" transform="rotate(-90 264.5 91.3)">SSC</text>
<text x="270.7" y="139.6" font-size="9.9" fill="#1a1a1a" stroke="#1a1a1a" stroke-width="0.1" text-anchor="start" textLength="15.6" lengthAdjust="spacingAndGlyphs">E84</text>
<g fill="#333" opacity="0.65" clip-path="url(#cB)"><circle cx="301.0" cy="75.8" r="0.35"/><circle cx="294.4" cy="75.7" r="0.35"/><circle cx="307.9" cy="78.8" r="0.35"/><circle cx="316.3" cy="77.5" r="0.35"/><circle cx="325.2" cy="83.0" r="0.35"/><circle cx="312.4" cy="72.9" r="0.35"/><circle cx="304.1" cy="78.2" r="0.35"/><circle cx="301.2" cy="87.6" r="0.35"/><circle cx="320.4" cy="79.2" r="0.35"/><circle cx="331.4" cy="84.5" r="0.35"/><circle cx="314.4" cy="84.2" r="0.35"/><circle cx="295.6" cy="85.1" r="0.35"/><circle cx="299.0" cy="82.4" r="0.35"/><circle cx="331.0" cy="72.6" r="0.35"/><circle cx="313.5" cy="77.8" r="0.35"/><circle cx="289.3" cy="77.3" r="0.35"/><circle cx="310.0" cy="71.9" r="0.35"/><circle cx="296.5" cy="76.9" r="0.35"/><circle cx="303.1" cy="73.2" r="0.35"/><circle cx="304.9" cy="71.3" r="0.35"/><circle cx="302.1" cy="80.0" r="0.35"/><circle cx="317.9" cy="78.8" r="0.35"/><circle cx="310.2" cy="75.8" r="0.35"/><circle cx="303.6" cy="74.6" r="0.35"/><circle cx="316.1" cy="76.5" r="0.35"/><circle cx="321.4" cy="77.2" r="0.35"/><circle cx="290.5" cy="77.1" r="0.35"/><circle cx="307.8" cy="78.8" r="0.35"/><circle cx="298.7" cy="77.0" r="0.35"/><circle cx="308.8" cy="80.8" r="0.35"/><circle cx="294.9" cy="81.4" r="0.35"/><circle cx="311.3" cy="80.6" r="0.35"/><circle cx="310.5" cy="75.9" r="0.35"/><circle cx="307.2" cy="76.2" r="0.35"/><circle cx="297.9" cy="81.0" r="0.35"/><circle cx="306.0" cy="78.1" r="0.35"/><circle cx="297.4" cy="78.8" r="0.35"/><circle cx="294.1" cy="67.5" r="0.35"/><circle cx="313.8" cy="66.6" r="0.35"/><circle cx="297.1" cy="80.6" r="0.35"/><circle cx="325.6" cy="80.5" r="0.35"/><circle cx="320.0" cy="85.4" r="0.35"/><circle cx="286.0" cy="82.3" r="0.35"/><circle cx="314.4" cy="80.0" r="0.35"/><circle cx="297.2" cy="79.1" r="0.35"/><circle cx="311.4" cy="72.4" r="0.35"/><circle cx="311.5" cy="83.1" r="0.35"/><circle cx="286.1" cy="76.2" r="0.35"/><circle cx="308.1" cy="81.3" r="0.35"/><circle cx="307.8" cy="79.9" r="0.35"/><circle cx="323.0" cy="80.3" r="0.35"/><circle cx="296.2" cy="83.1" r="0.35"/><circle cx="320.2" cy="76.7" r="0.35"/><circle cx="297.3" cy="77.2" r="0.35"/><circle cx="306.9" cy="75.1" r="0.35"/><circle cx="300.5" cy="77.3" r="0.35"/><circle cx="329.1" cy="86.7" r="0.35"/><circle cx="318.1" cy="77.3" r="0.35"/><circle cx="341.4" cy="84.5" r="0.35"/><circle cx="319.0" cy="82.8" r="0.35"/><circle cx="321.6" cy="82.4" r="0.35"/><circle cx="321.5" cy="82.7" r="0.35"/><circle cx="303.4" cy="74.3" r="0.35"/><circle cx="310.1" cy="80.7" r="0.35"/><circle cx="327.9" cy="86.3" r="0.35"/><circle cx="306.0" cy="75.8" r="0.35"/><circle cx="313.4" cy="78.8" r="0.35"/><circle cx="310.7" cy="75.8" r="0.35"/><circle cx="318.6" cy="80.5" r="0.35"/><circle cx="306.4" cy="74.0" r="0.35"/><circle cx="309.1" cy="86.4" r="0.35"/><circle cx="314.0" cy="77.3" r="0.35"/><circle cx="312.3" cy="71.9" r="0.35"/><circle cx="300.2" cy="87.2" r="0.35"/><circle cx="322.2" cy="83.5" r="0.35"/><circle cx="294.8" cy="81.4" r="0.35"/><circle cx="296.0" cy="81.4" r="0.35"/><circle cx="295.0" cy="77.4" r="0.35"/><circle cx="323.1" cy="78.0" r="0.35"/><circle cx="306.5" cy="82.3" r="0.35"/><circle cx="298.9" cy="83.2" r="0.35"/><circle cx="296.8" cy="83.3" r="0.35"/><circle cx="316.3" cy="80.0" r="0.35"/><circle cx="297.8" cy="76.9" r="0.35"/><circle cx="295.1" cy="78.1" r="0.35"/><circle cx="318.7" cy="84.1" r="0.35"/><circle cx="296.0" cy="85.6" r="0.35"/><circle cx="307.0" cy="77.4" r="0.35"/><circle cx="310.9" cy="76.8" r="0.35"/><circle cx="305.4" cy="84.7" r="0.35"/><circle cx="310.3" cy="82.3" r="0.35"/><circle cx="327.7" cy="82.2" r="0.35"/><circle cx="304.5" cy="73.0" r="0.35"/><circle cx="295.3" cy="77.3" r="0.35"/><circle cx="288.0" cy="76.6" r="0.35"/><circle cx="308.4" cy="80.0" r="0.35"/><circle cx="306.6" cy="71.2" r="0.35"/><circle cx="314.3" cy="84.9" r="0.35"/><circle cx="305.2" cy="80.4" r="0.35"/><circle cx="305.0" cy="81.0" r="0.35"/><circle cx="302.0" cy="73.6" r="0.35"/><circle cx="304.5" cy="78.9" r="0.35"/><circle cx="313.0" cy="85.1" r="0.35"/><circle cx="306.2" cy="71.8" r="0.35"/><circle cx="312.3" cy="80.4" r="0.35"/><circle cx="334.8" cy="82.2" r="0.35"/><circle cx="317.0" cy="75.8" r="0.35"/><circle cx="291.3" cy="82.7" r="0.35"/><circle cx="332.7" cy="77.5" r="0.35"/><circle cx="315.3" cy="84.7" r="0.35"/><circle cx="299.2" cy="81.4" r="0.35"/><circle cx="322.3" cy="80.0" r="0.35"/><circle cx="311.2" cy="88.2" r="0.35"/><circle cx="303.3" cy="82.8" r="0.35"/><circle cx="303.1" cy="85.0" r="0.35"/><circle cx="298.6" cy="73.5" r="0.35"/><circle cx="311.6" cy="76.0" r="0.35"/><circle cx="324.4" cy="82.8" r="0.35"/><circle cx="306.9" cy="83.2" r="0.35"/><circle cx="316.3" cy="78.7" r="0.35"/><circle cx="334.4" cy="82.6" r="0.35"/><circle cx="295.8" cy="74.1" r="0.35"/><circle cx="314.2" cy="80.0" r="0.35"/><circle cx="307.2" cy="73.7" r="0.35"/><circle cx="297.8" cy="80.6" r="0.35"/><circle cx="298.2" cy="76.8" r="0.35"/><circle cx="310.8" cy="76.1" r="0.35"/><circle cx="316.4" cy="79.3" r="0.35"/><circle cx="304.4" cy="87.4" r="0.35"/><circle cx="311.7" cy="74.3" r="0.35"/><circle cx="320.0" cy="76.2" r="0.35"/><circle cx="314.7" cy="83.9" r="0.35"/><circle cx="321.9" cy="77.1" r="0.35"/><circle cx="316.8" cy="87.1" r="0.35"/><circle cx="317.1" cy="80.0" r="0.35"/><circle cx="333.8" cy="79.4" r="0.35"/><circle cx="318.8" cy="80.6" r="0.35"/><circle cx="312.6" cy="87.0" r="0.35"/><circle cx="319.9" cy="82.0" r="0.35"/><circle cx="299.5" cy="81.4" r="0.35"/><circle cx="306.8" cy="80.2" r="0.35"/><circle cx="320.9" cy="71.8" r="0.35"/><circle cx="318.9" cy="74.9" r="0.35"/><circle cx="330.4" cy="85.8" r="0.35"/><circle cx="311.1" cy="82.8" r="0.35"/><circle cx="292.7" cy="81.3" r="0.35"/><circle cx="335.3" cy="81.9" r="0.35"/><circle cx="324.7" cy="76.5" r="0.35"/><circle cx="297.8" cy="80.6" r="0.35"/><circle cx="328.2" cy="74.9" r="0.35"/><circle cx="311.4" cy="80.8" r="0.35"/><circle cx="288.3" cy="75.7" r="0.35"/><circle cx="305.7" cy="78.0" r="0.35"/><circle cx="304.6" cy="81.1" r="0.35"/><circle cx="330.9" cy="77.5" r="0.35"/><circle cx="301.1" cy="82.0" r="0.35"/><circle cx="307.8" cy="81.1" r="0.35"/><circle cx="307.5" cy="80.7" r="0.35"/><circle cx="306.3" cy="85.1" r="0.35"/><circle cx="299.6" cy="72.2" r="0.35"/><circle cx="313.7" cy="71.7" r="0.35"/><circle cx="324.5" cy="81.8" r="0.35"/><circle cx="318.8" cy="83.3" r="0.35"/><circle cx="299.4" cy="88.3" r="0.35"/><circle cx="296.6" cy="82.5" r="0.35"/><circle cx="312.5" cy="82.8" r="0.35"/><circle cx="302.2" cy="74.9" r="0.35"/><circle cx="303.1" cy="82.5" r="0.35"/><circle cx="290.0" cy="82.1" r="0.35"/><circle cx="335.4" cy="74.1" r="0.35"/><circle cx="322.5" cy="74.9" r="0.35"/><circle cx="298.8" cy="78.5" r="0.35"/><circle cx="322.4" cy="80.3" r="0.35"/><circle cx="327.8" cy="65.5" r="0.35"/><circle cx="281.1" cy="79.3" r="0.35"/><circle cx="304.1" cy="80.1" r="0.35"/><circle cx="306.2" cy="78.2" r="0.35"/><circle cx="319.1" cy="80.2" r="0.35"/><circle cx="309.5" cy="81.1" r="0.35"/><circle cx="308.1" cy="74.3" r="0.35"/><circle cx="310.3" cy="80.9" r="0.35"/><circle cx="334.2" cy="77.8" r="0.35"/><circle cx="338.0" cy="74.6" r="0.35"/><circle cx="304.4" cy="80.0" r="0.35"/><circle cx="299.4" cy="85.8" r="0.35"/><circle cx="344.7" cy="72.3" r="0.35"/><circle cx="298.8" cy="71.4" r="0.35"/><circle cx="303.8" cy="71.4" r="0.35"/><circle cx="311.5" cy="88.1" r="0.35"/><circle cx="317.0" cy="77.8" r="0.35"/><circle cx="323.9" cy="78.7" r="0.35"/><circle cx="315.9" cy="75.4" r="0.35"/><circle cx="300.1" cy="74.7" r="0.35"/><circle cx="317.3" cy="69.7" r="0.35"/><circle cx="314.1" cy="79.8" r="0.35"/><circle cx="334.5" cy="80.2" r="0.35"/><circle cx="310.8" cy="69.9" r="0.35"/><circle cx="294.3" cy="74.2" r="0.35"/><circle cx="297.9" cy="75.6" r="0.35"/><circle cx="329.1" cy="78.9" r="0.35"/><circle cx="304.2" cy="80.1" r="0.35"/><circle cx="284.7" cy="84.2" r="0.35"/><circle cx="303.7" cy="85.3" r="0.35"/><circle cx="311.0" cy="83.9" r="0.35"/><circle cx="325.9" cy="85.2" r="0.35"/><circle cx="298.3" cy="73.6" r="0.35"/><circle cx="319.3" cy="76.4" r="0.35"/><circle cx="320.9" cy="84.3" r="0.35"/><circle cx="302.3" cy="80.3" r="0.35"/><circle cx="308.7" cy="79.1" r="0.35"/><circle cx="333.1" cy="69.9" r="0.35"/><circle cx="332.5" cy="70.4" r="0.35"/><circle cx="321.7" cy="82.4" r="0.35"/><circle cx="315.1" cy="80.6" r="0.35"/><circle cx="325.2" cy="77.6" r="0.35"/><circle cx="309.2" cy="77.1" r="0.35"/><circle cx="309.8" cy="71.1" r="0.35"/><circle cx="300.2" cy="80.7" r="0.35"/><circle cx="311.1" cy="83.8" r="0.35"/><circle cx="310.0" cy="86.6" r="0.35"/><circle cx="345.7" cy="79.2" r="0.35"/><circle cx="308.6" cy="78.1" r="0.35"/><circle cx="326.9" cy="74.0" r="0.35"/><circle cx="327.5" cy="84.6" r="0.35"/><circle cx="308.7" cy="86.9" r="0.35"/><circle cx="325.6" cy="76.2" r="0.35"/><circle cx="283.8" cy="80.3" r="0.35"/><circle cx="312.2" cy="79.4" r="0.35"/><circle cx="321.7" cy="76.4" r="0.35"/><circle cx="281.0" cy="67.5" r="0.35"/><circle cx="296.5" cy="77.3" r="0.35"/><circle cx="324.2" cy="81.8" r="0.35"/><circle cx="307.8" cy="72.4" r="0.35"/><circle cx="297.3" cy="75.1" r="0.35"/><circle cx="306.3" cy="63.9" r="0.35"/><circle cx="304.2" cy="84.9" r="0.35"/><circle cx="320.1" cy="81.3" r="0.35"/><circle cx="316.7" cy="79.2" r="0.35"/><circle cx="307.5" cy="77.8" r="0.35"/><circle cx="302.7" cy="76.1" r="0.35"/><circle cx="310.3" cy="78.6" r="0.35"/><circle cx="327.6" cy="77.6" r="0.35"/><circle cx="315.4" cy="77.9" r="0.35"/><circle cx="319.0" cy="78.8" r="0.35"/><circle cx="309.1" cy="79.6" r="0.35"/><circle cx="294.9" cy="86.1" r="0.35"/><circle cx="302.1" cy="72.3" r="0.35"/><circle cx="319.1" cy="80.2" r="0.35"/><circle cx="312.3" cy="76.1" r="0.35"/><circle cx="299.7" cy="73.8" r="0.35"/><circle cx="290.8" cy="68.1" r="0.35"/><circle cx="312.4" cy="81.8" r="0.35"/><circle cx="306.8" cy="74.4" r="0.35"/><circle cx="306.6" cy="75.5" r="0.35"/><circle cx="306.9" cy="81.1" r="0.35"/><circle cx="314.5" cy="74.0" r="0.35"/><circle cx="314.7" cy="79.1" r="0.35"/><circle cx="323.0" cy="78.6" r="0.35"/><circle cx="322.6" cy="82.6" r="0.35"/><circle cx="327.7" cy="83.6" r="0.35"/><circle cx="321.1" cy="75.0" r="0.35"/><circle cx="306.8" cy="83.2" r="0.35"/><circle cx="310.3" cy="78.5" r="0.35"/><circle cx="317.2" cy="79.5" r="0.35"/><circle cx="307.1" cy="78.0" r="0.35"/><circle cx="317.9" cy="82.5" r="0.35"/><circle cx="325.4" cy="73.4" r="0.35"/><circle cx="301.0" cy="80.2" r="0.35"/><circle cx="288.9" cy="84.4" r="0.35"/><circle cx="325.9" cy="77.6" r="0.35"/><circle cx="311.2" cy="88.3" r="0.35"/><circle cx="319.9" cy="75.6" r="0.35"/><circle cx="294.3" cy="79.9" r="0.35"/><circle cx="332.7" cy="76.7" r="0.35"/><circle cx="320.2" cy="76.1" r="0.35"/><circle cx="309.4" cy="73.8" r="0.35"/><circle cx="306.6" cy="76.5" r="0.35"/><circle cx="312.4" cy="78.7" r="0.35"/><circle cx="308.9" cy="75.3" r="0.35"/><circle cx="307.5" cy="83.0" r="0.35"/><circle cx="297.0" cy="85.9" r="0.35"/><circle cx="326.8" cy="71.9" r="0.35"/><circle cx="310.5" cy="82.8" r="0.35"/><circle cx="311.9" cy="79.8" r="0.35"/><circle cx="312.2" cy="80.1" r="0.35"/><circle cx="281.5" cy="90.3" r="0.35"/><circle cx="317.6" cy="84.5" r="0.35"/><circle cx="306.9" cy="80.5" r="0.35"/><circle cx="307.4" cy="79.8" r="0.35"/><circle cx="311.9" cy="69.0" r="0.35"/><circle cx="298.8" cy="82.6" r="0.35"/><circle cx="321.5" cy="75.6" r="0.35"/><circle cx="302.3" cy="79.8" r="0.35"/><circle cx="299.7" cy="79.4" r="0.35"/><circle cx="300.2" cy="83.4" r="0.35"/><circle cx="313.0" cy="88.3" r="0.35"/><circle cx="320.3" cy="83.5" r="0.35"/><circle cx="303.6" cy="84.9" r="0.35"/><circle cx="292.1" cy="77.9" r="0.35"/><circle cx="324.3" cy="81.1" r="0.35"/><circle cx="297.7" cy="82.5" r="0.35"/><circle cx="325.9" cy="72.4" r="0.35"/><circle cx="310.3" cy="88.4" r="0.35"/><circle cx="302.3" cy="75.7" r="0.35"/><circle cx="303.0" cy="73.1" r="0.35"/><circle cx="316.8" cy="86.5" r="0.35"/><circle cx="322.1" cy="88.7" r="0.35"/><circle cx="308.5" cy="75.8" r="0.35"/><circle cx="322.8" cy="76.2" r="0.35"/><circle cx="337.1" cy="93.3" r="0.35"/><circle cx="308.4" cy="79.5" r="0.35"/><circle cx="296.6" cy="69.9" r="0.35"/><circle cx="297.8" cy="76.2" r="0.35"/><circle cx="293.6" cy="88.2" r="0.35"/><circle cx="303.0" cy="82.0" r="0.35"/><circle cx="302.0" cy="82.5" r="0.35"/><circle cx="294.4" cy="84.6" r="0.35"/><circle cx="317.6" cy="82.1" r="0.35"/><circle cx="278.4" cy="77.5" r="0.35"/><circle cx="294.5" cy="71.7" r="0.35"/><circle cx="336.2" cy="81.1" r="0.35"/><circle cx="324.0" cy="73.9" r="0.35"/><circle cx="317.5" cy="78.7" r="0.35"/><circle cx="316.7" cy="87.1" r="0.35"/><circle cx="333.1" cy="81.5" r="0.35"/><circle cx="317.7" cy="79.3" r="0.35"/><circle cx="312.0" cy="79.3" r="0.35"/><circle cx="295.6" cy="82.4" r="0.35"/><circle cx="310.1" cy="83.2" r="0.35"/><circle cx="301.8" cy="72.9" r="0.35"/></g>
<g fill="#222" opacity="0.6" clip-path="url(#cB)"><circle cx="305.0" cy="81.7" r="0.35"/><circle cx="310.2" cy="75.7" r="0.35"/><circle cx="300.7" cy="80.7" r="0.35"/><circle cx="312.3" cy="80.0" r="0.35"/><circle cx="314.7" cy="77.7" r="0.35"/><circle cx="306.7" cy="84.9" r="0.35"/><circle cx="311.2" cy="75.6" r="0.35"/><circle cx="310.3" cy="78.2" r="0.35"/><circle cx="307.0" cy="80.4" r="0.35"/><circle cx="304.7" cy="79.7" r="0.35"/><circle cx="298.8" cy="78.5" r="0.35"/><circle cx="316.1" cy="83.1" r="0.35"/><circle cx="308.8" cy="83.3" r="0.35"/><circle cx="321.6" cy="81.7" r="0.35"/><circle cx="313.1" cy="82.0" r="0.35"/><circle cx="310.4" cy="78.8" r="0.35"/><circle cx="305.7" cy="75.5" r="0.35"/><circle cx="316.0" cy="85.6" r="0.35"/><circle cx="306.5" cy="76.1" r="0.35"/><circle cx="316.8" cy="85.7" r="0.35"/><circle cx="307.0" cy="78.6" r="0.35"/><circle cx="309.9" cy="79.7" r="0.35"/><circle cx="301.4" cy="78.5" r="0.35"/><circle cx="320.7" cy="81.9" r="0.35"/><circle cx="308.5" cy="77.5" r="0.35"/><circle cx="307.1" cy="84.5" r="0.35"/><circle cx="313.1" cy="80.6" r="0.35"/><circle cx="304.5" cy="79.5" r="0.35"/><circle cx="312.8" cy="77.3" r="0.35"/><circle cx="303.1" cy="79.8" r="0.35"/><circle cx="311.7" cy="79.0" r="0.35"/><circle cx="303.8" cy="84.7" r="0.35"/><circle cx="299.8" cy="81.8" r="0.35"/><circle cx="306.0" cy="74.3" r="0.35"/><circle cx="301.7" cy="83.6" r="0.35"/><circle cx="311.8" cy="71.9" r="0.35"/><circle cx="309.1" cy="83.6" r="0.35"/><circle cx="311.5" cy="73.3" r="0.35"/><circle cx="309.5" cy="79.0" r="0.35"/><circle cx="307.2" cy="81.4" r="0.35"/><circle cx="309.1" cy="79.0" r="0.35"/><circle cx="314.3" cy="75.7" r="0.35"/><circle cx="308.1" cy="82.7" r="0.35"/><circle cx="305.2" cy="73.7" r="0.35"/><circle cx="304.2" cy="74.6" r="0.35"/><circle cx="307.9" cy="83.2" r="0.35"/><circle cx="305.3" cy="76.4" r="0.35"/><circle cx="318.4" cy="79.7" r="0.35"/><circle cx="303.1" cy="81.4" r="0.35"/><circle cx="303.6" cy="78.7" r="0.35"/><circle cx="307.5" cy="79.8" r="0.35"/><circle cx="312.3" cy="79.4" r="0.35"/><circle cx="307.7" cy="79.6" r="0.35"/><circle cx="304.2" cy="82.6" r="0.35"/><circle cx="305.0" cy="81.8" r="0.35"/><circle cx="307.2" cy="80.0" r="0.35"/><circle cx="313.9" cy="81.8" r="0.35"/><circle cx="304.1" cy="77.4" r="0.35"/><circle cx="308.5" cy="76.7" r="0.35"/><circle cx="305.9" cy="76.0" r="0.35"/><circle cx="310.6" cy="81.4" r="0.35"/><circle cx="311.0" cy="83.9" r="0.35"/><circle cx="301.7" cy="79.3" r="0.35"/><circle cx="320.9" cy="73.1" r="0.35"/><circle cx="309.9" cy="77.5" r="0.35"/><circle cx="306.5" cy="80.4" r="0.35"/><circle cx="304.5" cy="79.9" r="0.35"/><circle cx="307.7" cy="79.3" r="0.35"/><circle cx="309.2" cy="82.0" r="0.35"/><circle cx="312.0" cy="81.8" r="0.35"/><circle cx="309.0" cy="75.0" r="0.35"/><circle cx="311.4" cy="80.3" r="0.35"/><circle cx="301.0" cy="76.8" r="0.35"/><circle cx="305.2" cy="79.7" r="0.35"/><circle cx="304.0" cy="82.7" r="0.35"/><circle cx="309.8" cy="84.5" r="0.35"/><circle cx="311.3" cy="81.1" r="0.35"/><circle cx="301.7" cy="77.5" r="0.35"/><circle cx="308.2" cy="77.9" r="0.35"/><circle cx="312.6" cy="80.6" r="0.35"/></g>
<rect x="275.5" y="35.0" width="90.1" height="87.4" fill="none" stroke="#111" stroke-width="1.3"/>
<line x1="272.7" y1="122.40" x2="275.5" y2="122.40" stroke="#111" stroke-width="0.85"/>
<line x1="273.8" y1="117.14" x2="275.5" y2="117.14" stroke="#111" stroke-width="0.85"/>
<line x1="273.8" y1="114.06" x2="275.5" y2="114.06" stroke="#111" stroke-width="0.85"/>
<line x1="273.8" y1="111.88" x2="275.5" y2="111.88" stroke="#111" stroke-width="0.85"/>
<line x1="273.8" y1="110.18" x2="275.5" y2="110.18" stroke="#111" stroke-width="0.85"/>
<line x1="273.8" y1="108.80" x2="275.5" y2="108.80" stroke="#111" stroke-width="0.85"/>
<line x1="273.8" y1="107.63" x2="275.5" y2="107.63" stroke="#111" stroke-width="0.85"/>
<line x1="273.8" y1="106.61" x2="275.5" y2="106.61" stroke="#111" stroke-width="0.85"/>
<line x1="273.8" y1="105.72" x2="275.5" y2="105.72" stroke="#111" stroke-width="0.85"/>
<line x1="272.7" y1="104.92" x2="275.5" y2="104.92" stroke="#111" stroke-width="0.85"/>
<line x1="273.8" y1="99.66" x2="275.5" y2="99.66" stroke="#111" stroke-width="0.85"/>
<line x1="273.8" y1="96.58" x2="275.5" y2="96.58" stroke="#111" stroke-width="0.85"/>
<line x1="273.8" y1="94.40" x2="275.5" y2="94.40" stroke="#111" stroke-width="0.85"/>
<line x1="273.8" y1="92.70" x2="275.5" y2="92.70" stroke="#111" stroke-width="0.85"/>
<line x1="273.8" y1="91.32" x2="275.5" y2="91.32" stroke="#111" stroke-width="0.85"/>
<line x1="273.8" y1="90.15" x2="275.5" y2="90.15" stroke="#111" stroke-width="0.85"/>
<line x1="273.8" y1="89.13" x2="275.5" y2="89.13" stroke="#111" stroke-width="0.85"/>
<line x1="273.8" y1="88.24" x2="275.5" y2="88.24" stroke="#111" stroke-width="0.85"/>
<line x1="272.7" y1="87.44" x2="275.5" y2="87.44" stroke="#111" stroke-width="0.85"/>
<line x1="273.8" y1="82.18" x2="275.5" y2="82.18" stroke="#111" stroke-width="0.85"/>
<line x1="273.8" y1="79.10" x2="275.5" y2="79.10" stroke="#111" stroke-width="0.85"/>
<line x1="273.8" y1="76.92" x2="275.5" y2="76.92" stroke="#111" stroke-width="0.85"/>
<line x1="273.8" y1="75.22" x2="275.5" y2="75.22" stroke="#111" stroke-width="0.85"/>
<line x1="273.8" y1="73.84" x2="275.5" y2="73.84" stroke="#111" stroke-width="0.85"/>
<line x1="273.8" y1="72.67" x2="275.5" y2="72.67" stroke="#111" stroke-width="0.85"/>
<line x1="273.8" y1="71.65" x2="275.5" y2="71.65" stroke="#111" stroke-width="0.85"/>
<line x1="273.8" y1="70.76" x2="275.5" y2="70.76" stroke="#111" stroke-width="0.85"/>
<line x1="272.7" y1="69.96" x2="275.5" y2="69.96" stroke="#111" stroke-width="0.85"/>
<line x1="273.8" y1="64.70" x2="275.5" y2="64.70" stroke="#111" stroke-width="0.85"/>
<line x1="273.8" y1="61.62" x2="275.5" y2="61.62" stroke="#111" stroke-width="0.85"/>
<line x1="273.8" y1="59.44" x2="275.5" y2="59.44" stroke="#111" stroke-width="0.85"/>
<line x1="273.8" y1="57.74" x2="275.5" y2="57.74" stroke="#111" stroke-width="0.85"/>
<line x1="273.8" y1="56.36" x2="275.5" y2="56.36" stroke="#111" stroke-width="0.85"/>
<line x1="273.8" y1="55.19" x2="275.5" y2="55.19" stroke="#111" stroke-width="0.85"/>
<line x1="273.8" y1="54.17" x2="275.5" y2="54.17" stroke="#111" stroke-width="0.85"/>
<line x1="273.8" y1="53.28" x2="275.5" y2="53.28" stroke="#111" stroke-width="0.85"/>
<line x1="272.7" y1="52.48" x2="275.5" y2="52.48" stroke="#111" stroke-width="0.85"/>
<line x1="273.8" y1="47.22" x2="275.5" y2="47.22" stroke="#111" stroke-width="0.85"/>
<line x1="273.8" y1="44.14" x2="275.5" y2="44.14" stroke="#111" stroke-width="0.85"/>
<line x1="273.8" y1="41.96" x2="275.5" y2="41.96" stroke="#111" stroke-width="0.85"/>
<line x1="273.8" y1="40.26" x2="275.5" y2="40.26" stroke="#111" stroke-width="0.85"/>
<line x1="273.8" y1="38.88" x2="275.5" y2="38.88" stroke="#111" stroke-width="0.85"/>
<line x1="273.8" y1="37.71" x2="275.5" y2="37.71" stroke="#111" stroke-width="0.85"/>
<line x1="273.8" y1="36.69" x2="275.5" y2="36.69" stroke="#111" stroke-width="0.85"/>
<line x1="273.8" y1="35.80" x2="275.5" y2="35.80" stroke="#111" stroke-width="0.85"/>
<line x1="275.50" y1="122.4" x2="275.50" y2="125.2" stroke="#111" stroke-width="0.85"/>
<line x1="280.92" y1="122.4" x2="280.92" y2="124.10000000000001" stroke="#111" stroke-width="0.85"/>
<line x1="284.10" y1="122.4" x2="284.10" y2="124.10000000000001" stroke="#111" stroke-width="0.85"/>
<line x1="286.35" y1="122.4" x2="286.35" y2="124.10000000000001" stroke="#111" stroke-width="0.85"/>
<line x1="288.10" y1="122.4" x2="288.10" y2="124.10000000000001" stroke="#111" stroke-width="0.85"/>
<line x1="289.52" y1="122.4" x2="289.52" y2="124.10000000000001" stroke="#111" stroke-width="0.85"/>
<line x1="290.73" y1="122.4" x2="290.73" y2="124.10000000000001" stroke="#111" stroke-width="0.85"/>
<line x1="291.77" y1="122.4" x2="291.77" y2="124.10000000000001" stroke="#111" stroke-width="0.85"/>
<line x1="292.70" y1="122.4" x2="292.70" y2="124.10000000000001" stroke="#111" stroke-width="0.85"/>
<line x1="293.52" y1="122.4" x2="293.52" y2="125.2" stroke="#111" stroke-width="0.85"/>
<line x1="298.94" y1="122.4" x2="298.94" y2="124.10000000000001" stroke="#111" stroke-width="0.85"/>
<line x1="302.12" y1="122.4" x2="302.12" y2="124.10000000000001" stroke="#111" stroke-width="0.85"/>
<line x1="304.37" y1="122.4" x2="304.37" y2="124.10000000000001" stroke="#111" stroke-width="0.85"/>
<line x1="306.12" y1="122.4" x2="306.12" y2="124.10000000000001" stroke="#111" stroke-width="0.85"/>
<line x1="307.54" y1="122.4" x2="307.54" y2="124.10000000000001" stroke="#111" stroke-width="0.85"/>
<line x1="308.75" y1="122.4" x2="308.75" y2="124.10000000000001" stroke="#111" stroke-width="0.85"/>
<line x1="309.79" y1="122.4" x2="309.79" y2="124.10000000000001" stroke="#111" stroke-width="0.85"/>
<line x1="310.72" y1="122.4" x2="310.72" y2="124.10000000000001" stroke="#111" stroke-width="0.85"/>
<line x1="311.54" y1="122.4" x2="311.54" y2="125.2" stroke="#111" stroke-width="0.85"/>
<line x1="316.96" y1="122.4" x2="316.96" y2="124.10000000000001" stroke="#111" stroke-width="0.85"/>
<line x1="320.14" y1="122.4" x2="320.14" y2="124.10000000000001" stroke="#111" stroke-width="0.85"/>
<line x1="322.39" y1="122.4" x2="322.39" y2="124.10000000000001" stroke="#111" stroke-width="0.85"/>
<line x1="324.14" y1="122.4" x2="324.14" y2="124.10000000000001" stroke="#111" stroke-width="0.85"/>
<line x1="325.56" y1="122.4" x2="325.56" y2="124.10000000000001" stroke="#111" stroke-width="0.85"/>
<line x1="326.77" y1="122.4" x2="326.77" y2="124.10000000000001" stroke="#111" stroke-width="0.85"/>
<line x1="327.81" y1="122.4" x2="327.81" y2="124.10000000000001" stroke="#111" stroke-width="0.85"/>
<line x1="328.74" y1="122.4" x2="328.74" y2="124.10000000000001" stroke="#111" stroke-width="0.85"/>
<line x1="329.56" y1="122.4" x2="329.56" y2="125.2" stroke="#111" stroke-width="0.85"/>
<line x1="334.98" y1="122.4" x2="334.98" y2="124.10000000000001" stroke="#111" stroke-width="0.85"/>
<line x1="338.16" y1="122.4" x2="338.16" y2="124.10000000000001" stroke="#111" stroke-width="0.85"/>
<line x1="340.41" y1="122.4" x2="340.41" y2="124.10000000000001" stroke="#111" stroke-width="0.85"/>
<line x1="342.16" y1="122.4" x2="342.16" y2="124.10000000000001" stroke="#111" stroke-width="0.85"/>
<line x1="343.58" y1="122.4" x2="343.58" y2="124.10000000000001" stroke="#111" stroke-width="0.85"/>
<line x1="344.79" y1="122.4" x2="344.79" y2="124.10000000000001" stroke="#111" stroke-width="0.85"/>
<line x1="345.83" y1="122.4" x2="345.83" y2="124.10000000000001" stroke="#111" stroke-width="0.85"/>
<line x1="346.76" y1="122.4" x2="346.76" y2="124.10000000000001" stroke="#111" stroke-width="0.85"/>
<line x1="347.58" y1="122.4" x2="347.58" y2="125.2" stroke="#111" stroke-width="0.85"/>
<line x1="353.00" y1="122.4" x2="353.00" y2="124.10000000000001" stroke="#111" stroke-width="0.85"/>
<line x1="356.18" y1="122.4" x2="356.18" y2="124.10000000000001" stroke="#111" stroke-width="0.85"/>
<line x1="358.43" y1="122.4" x2="358.43" y2="124.10000000000001" stroke="#111" stroke-width="0.85"/>
<line x1="360.18" y1="122.4" x2="360.18" y2="124.10000000000001" stroke="#111" stroke-width="0.85"/>
<line x1="361.60" y1="122.4" x2="361.60" y2="124.10000000000001" stroke="#111" stroke-width="0.85"/>
<line x1="362.81" y1="122.4" x2="362.81" y2="124.10000000000001" stroke="#111" stroke-width="0.85"/>
<line x1="363.85" y1="122.4" x2="363.85" y2="124.10000000000001" stroke="#111" stroke-width="0.85"/>
<line x1="364.78" y1="122.4" x2="364.78" y2="124.10000000000001" stroke="#111" stroke-width="0.85"/>
<rect x="281.4" y="57.9" width="25.0" height="55.0" rx="0.8" fill="none" stroke="#666" stroke-width="0.85"/>
<rect x="315.5" y="57.9" width="28.0" height="55.2" rx="0.8" fill="none" stroke="#666" stroke-width="0.85"/>
<text x="280.0" y="46.0" font-size="8.6" fill="#1a1a1a" stroke="#1a1a1a" stroke-width="0.1" text-anchor="start" textLength="27.9" lengthAdjust="spacingAndGlyphs">E84-Low</text>
<text x="287.1" y="55.0" font-size="8.6" fill="#1a1a1a" stroke="#1a1a1a" stroke-width="0.1" text-anchor="start" textLength="13.6" lengthAdjust="spacingAndGlyphs">25.4</text>
<text x="319.3" y="46.0" font-size="8.6" fill="#1a1a1a" stroke="#1a1a1a" stroke-width="0.1" text-anchor="start" textLength="30.0" lengthAdjust="spacingAndGlyphs">E84-High</text>
<text x="327.9" y="55.0" font-size="8.6" fill="#1a1a1a" stroke="#1a1a1a" stroke-width="0.1" text-anchor="start" textLength="13.5" lengthAdjust="spacingAndGlyphs">26.8</text>
<line x1="337.4" y1="73.0" x2="368" y2="73.0" stroke="#111" stroke-width="1.2"/>
<line x1="301.9" y1="92.5" x2="368" y2="92.5" stroke="#111" stroke-width="1.2"/>
<polygon points="366.7,70.7 372.2,73.0 366.7,75.3" fill="#111"/>
<polygon points="366.7,90.2 372.2,92.5 366.7,94.8" fill="#111"/>
<text x="375.0" y="76.2" font-size="8.6" fill="#1a1a1a" stroke="#1a1a1a" stroke-width="0.1" text-anchor="start" textLength="15.7" lengthAdjust="spacingAndGlyphs">FACS</text>
<text x="375.0" y="85.7" font-size="8.6" fill="#1a1a1a" stroke="#1a1a1a" stroke-width="0.1" text-anchor="start" textLength="26.1" lengthAdjust="spacingAndGlyphs">Analysis</text>
<text x="375.0" y="95.3" font-size="8.6" fill="#1a1a1a" stroke="#1a1a1a" stroke-width="0.1" text-anchor="start" textLength="19.6" lengthAdjust="spacingAndGlyphs">&amp; Sort</text>
<line x1="267.6" y1="128.6" x2="267.6" y2="46" stroke="#111" stroke-width="1.1"/>
<line x1="267.6" y1="128.6" x2="360" y2="128.6" stroke="#111" stroke-width="1.1"/>
<polygon points="265.3,47.3 267.6,41.8 269.90000000000003,47.3" fill="#111"/>
<polygon points="358.2,126.3 363.7,128.6 358.2,130.9" fill="#111"/>
<text x="32.5" y="187.7" font-size="9.9" fill="#1a1a1a" stroke="#1a1a1a" stroke-width="0.1" text-anchor="start" textLength="76.7" lengthAdjust="spacingAndGlyphs">E84-High LSK cells</text>
<text x="134.5" y="187.6" font-size="9.9" fill="#1a1a1a" stroke="#1a1a1a" stroke-width="0.1" text-anchor="start" textLength="74.0" lengthAdjust="spacingAndGlyphs">E84-Low LSK cells</text>
<text x="16.5" y="251.7" font-size="9.9" fill="#1a1a1a" stroke="#1a1a1a" stroke-width="0.1" text-anchor="start" textLength="23.0" lengthAdjust="spacingAndGlyphs" transform="rotate(-90 16.5 251.7)">CD48</text>
<text x="26.6" y="299.1" font-size="9.9" fill="#1a1a1a" stroke="#1a1a1a" stroke-width="0.1" text-anchor="start" textLength="28.0" lengthAdjust="spacingAndGlyphs">CD150</text>
<path d="M82.9,254.9 L82.4,255.0 L81.9,255.0 L81.4,255.1 L80.9,255.1 L80.4,255.1 L79.9,255.0 L79.4,255.0 L78.9,255.0 L78.4,254.9 L78.2,254.9 L77.7,254.8 L77.2,254.7 L76.7,254.6 L76.4,254.6 L75.9,254.5 L75.4,254.4 L75.2,254.3 L74.7,254.2 L74.4,254.1 L73.9,254.0 L73.4,253.9 L73.2,253.8 L72.7,253.7 L72.4,253.6 L71.9,253.4 L71.7,253.4 L71.2,253.2 L70.9,253.1 L70.4,252.9 L70.1,252.8 L69.6,252.7 L69.4,252.6 L68.9,252.4 L68.6,252.3 L68.3,252.1 L67.9,252.0 L67.6,251.8 L67.1,251.6 L66.9,251.5 L66.6,251.4 L66.1,251.1 L65.9,251.0 L65.6,250.9 L65.1,250.6 L64.9,250.5 L64.6,250.4 L64.2,250.1 L63.9,249.9 L63.6,249.8 L63.3,249.6 L62.9,249.4 L62.6,249.2 L62.4,249.1 L62.1,248.9 L61.7,248.6 L61.4,248.4 L61.1,248.3 L60.9,248.1 L60.5,247.9 L60.2,247.6 L59.9,247.4 L59.6,247.2 L59.4,247.0 L59.1,246.8 L58.8,246.6 L58.4,246.4 L58.1,246.1 L57.9,245.9 L57.6,245.7 L57.4,245.5 L57.1,245.3 L56.9,245.1 L56.6,244.8 L56.3,244.6 L56.0,244.3 L55.7,244.1 L55.4,243.8 L55.1,243.6 L54.9,243.3 L54.6,243.1 L54.3,242.9 L54.1,242.6 L53.8,242.4 L53.6,242.1 L53.3,241.9 L53.1,241.6 L52.8,241.4 L52.6,241.1 L52.4,240.8 L52.1,240.6 L51.9,240.3 L51.7,240.1 L51.4,239.8 L51.2,239.6 L51.0,239.3 L50.8,239.1 L50.6,238.8 L50.3,238.5 L50.1,238.2 L49.8,237.8 L49.6,237.6 L49.4,237.3 L49.3,237.1 L49.1,236.8 L48.8,236.5 L48.6,236.1 L48.4,235.8 L48.2,235.6 L48.1,235.3 L47.8,234.9 L47.6,234.6 L47.5,234.3 L47.3,234.1 L47.1,233.6 L46.9,233.3 L46.8,233.1 L46.6,232.6 L46.4,232.3 L46.3,232.1 L46.1,231.6 L46.0,231.3 L45.8,230.9 L45.7,230.6 L45.6,230.1 L45.5,229.8 L45.3,229.3 L45.2,229.1 L45.1,228.6 L45.1,228.1 L45.0,227.8 L44.9,227.3 L44.9,226.8 L44.9,226.3 L44.9,225.8 L45.0,225.3 L45.1,224.8 L45.1,224.5 L45.3,224.0 L45.3,223.8 L45.6,223.3 L45.7,223.0 L45.8,222.8 L46.1,222.4 L46.3,222.1 L46.6,221.8 L46.8,221.6 L47.1,221.4 L47.3,221.2 L47.6,221.0 L48.0,220.8 L48.3,220.6 L48.6,220.5 L49.0,220.3 L49.3,220.2 L49.8,220.0 L50.1,219.9 L50.6,219.8 L50.8,219.8 L51.3,219.7 L51.8,219.6 L52.3,219.5 L52.6,219.5 L53.1,219.5 L53.6,219.4 L54.1,219.4 L54.6,219.3 L55.1,219.3 L55.3,219.2 L55.8,219.2 L56.3,219.1 L56.7,219.0 L57.1,218.9 L57.6,218.8 L57.9,218.7 L58.4,218.6 L58.6,218.5 L59.1,218.3 L59.4,218.2 L59.9,218.0 L60.1,217.9 L60.5,217.8 L60.9,217.6 L61.1,217.5 L61.6,217.3 L61.9,217.1 L62.2,217.0 L62.6,216.8 L62.9,216.7 L63.3,216.5 L63.6,216.4 L63.9,216.3 L64.4,216.0 L64.6,215.9 L65.1,215.8 L65.4,215.6 L65.7,215.5 L66.1,215.3 L66.4,215.3 L66.9,215.1 L67.2,215.0 L67.6,214.9 L68.1,214.8 L68.4,214.7 L68.9,214.6 L69.2,214.5 L69.6,214.4 L70.1,214.3 L70.6,214.3 L70.9,214.2 L71.4,214.2 L71.9,214.1 L72.4,214.1 L72.9,214.0 L73.4,214.0 L73.7,214.0 L74.2,214.0 L74.7,213.9 L75.2,213.9 L75.7,213.9 L76.2,213.8 L76.7,213.8 L77.0,213.8 L77.4,213.7 L77.9,213.7 L78.4,213.6 L78.9,213.6 L79.4,213.5 L79.7,213.5 L80.2,213.5 L80.7,213.4 L81.2,213.4 L81.7,213.4 L82.2,213.4 L82.7,213.5 L83.1,213.5 L83.4,213.5 L83.9,213.6 L84.4,213.7 L84.7,213.8 L85.2,214.0 L85.5,214.1 L85.9,214.3 L86.2,214.4 L86.5,214.5 L86.8,214.8 L87.2,215.0 L87.5,215.2 L87.7,215.4 L88.0,215.6 L88.2,215.9 L88.5,216.1 L88.7,216.4 L89.0,216.7 L89.2,217.0 L89.4,217.3 L89.5,217.5 L89.7,217.8 L90.0,218.2 L90.2,218.5 L90.3,218.8 L90.5,219.0 L90.7,219.5 L90.9,219.8 L91.0,220.0 L91.2,220.5 L91.3,220.8 L91.5,221.1 L91.7,221.5 L91.8,221.8 L92.0,222.3 L92.1,222.5 L92.2,223.0 L92.3,223.3 L92.5,223.7 L92.6,224.0 L92.7,224.5 L92.8,224.8 L92.9,225.3 L93.0,225.7 L93.0,226.0 L93.1,226.5 L93.2,227.0 L93.3,227.3 L93.3,227.8 L93.4,228.3 L93.4,228.8 L93.5,229.3 L93.5,229.6 L93.5,230.1 L93.5,230.6 L93.5,231.1 L93.5,231.6 L93.5,232.1 L93.5,232.6 L93.5,232.8 L93.4,233.3 L93.4,233.8 L93.3,234.3 L93.3,234.8 L93.2,235.1 L93.1,235.6 L93.0,236.1 L93.0,236.4 L92.9,236.8 L92.8,237.3 L92.7,237.6 L92.6,238.1 L92.5,238.4 L92.4,238.8 L92.2,239.2 L92.1,239.6 L92.0,240.0 L91.8,240.3 L91.7,240.7 L91.6,241.1 L91.5,241.3 L91.3,241.8 L91.2,242.1 L91.0,242.6 L90.9,242.8 L90.8,243.3 L90.7,243.6 L90.6,244.1 L90.6,244.6 L90.5,245.1 L90.5,245.6 L90.5,246.1 L90.5,246.6 L90.5,247.1 L90.5,247.6 L90.5,247.9 L90.4,248.4 L90.3,248.9 L90.2,249.2 L90.1,249.6 L90.0,250.0 L89.8,250.4 L89.7,250.6 L89.5,251.0 L89.2,251.4 L89.1,251.6 L88.9,251.9 L88.6,252.1 L88.4,252.4 L88.1,252.6 L87.9,252.9 L87.5,253.1 L87.2,253.4 L87.0,253.5 L86.7,253.7 L86.3,253.9 L86.0,254.1 L85.7,254.2 L85.2,254.4 L84.9,254.4 L84.4,254.6 L84.2,254.7 L83.7,254.8 L83.2,254.9 L82.9,254.9Z M83.2,253.9 L82.7,254.0 L82.2,254.0 L81.7,254.0 L81.2,254.0 L80.7,254.0 L80.2,254.0 L79.7,254.0 L79.2,253.9 L78.9,253.9 L78.4,253.8 L77.9,253.7 L77.7,253.6 L77.2,253.5 L76.7,253.4 L76.4,253.3 L75.9,253.1 L75.7,253.1 L75.2,252.9 L74.9,252.8 L74.4,252.6 L74.2,252.6 L73.7,252.4 L73.4,252.3 L73.0,252.1 L72.7,252.0 L72.3,251.9 L71.9,251.7 L71.6,251.6 L71.2,251.4 L70.9,251.3 L70.4,251.2 L70.1,251.1 L69.6,250.9 L69.4,250.8 L69.0,250.6 L68.6,250.5 L68.4,250.4 L67.9,250.2 L67.6,250.1 L67.2,249.9 L66.9,249.7 L66.6,249.6 L66.1,249.4 L65.9,249.2 L65.6,249.1 L65.1,248.9 L64.9,248.7 L64.6,248.6 L64.2,248.4 L63.9,248.2 L63.6,248.0 L63.3,247.9 L62.9,247.6 L62.6,247.4 L62.4,247.3 L62.1,247.1 L61.7,246.9 L61.4,246.6 L61.1,246.4 L60.9,246.3 L60.6,246.1 L60.3,245.8 L59.9,245.6 L59.6,245.4 L59.4,245.2 L59.1,245.0 L58.9,244.8 L58.6,244.6 L58.3,244.3 L58.0,244.1 L57.7,243.8 L57.4,243.6 L57.1,243.3 L56.9,243.1 L56.6,242.9 L56.3,242.7 L56.1,242.4 L55.8,242.2 L55.6,242.0 L55.3,241.7 L55.1,241.5 L54.8,241.2 L54.6,241.0 L54.3,240.7 L54.1,240.4 L53.8,240.2 L53.6,239.9 L53.3,239.6 L53.1,239.3 L52.9,239.1 L52.7,238.8 L52.5,238.6 L52.3,238.3 L52.1,238.1 L51.8,237.8 L51.6,237.4 L51.3,237.1 L51.1,236.8 L51.0,236.6 L50.8,236.3 L50.6,236.0 L50.3,235.6 L50.1,235.3 L50.0,235.1 L49.8,234.8 L49.6,234.3 L49.4,234.1 L49.3,233.8 L49.1,233.4 L48.9,233.1 L48.8,232.8 L48.6,232.3 L48.5,232.1 L48.3,231.7 L48.2,231.3 L48.1,231.0 L47.9,230.6 L47.8,230.1 L47.8,229.8 L47.6,229.3 L47.6,228.8 L47.5,228.6 L47.5,228.0 L47.5,227.5 L47.5,227.0 L47.6,226.5 L47.6,226.3 L47.7,225.8 L47.8,225.5 L48.0,225.0 L48.1,224.8 L48.3,224.5 L48.6,224.1 L48.8,223.8 L49.1,223.5 L49.3,223.3 L49.6,223.1 L49.8,222.9 L50.1,222.7 L50.4,222.5 L50.8,222.3 L51.1,222.2 L51.5,222.0 L51.8,221.9 L52.2,221.8 L52.6,221.7 L53.0,221.5 L53.3,221.4 L53.8,221.3 L54.1,221.2 L54.6,221.1 L54.9,221.0 L55.3,220.9 L55.8,220.8 L56.1,220.7 L56.6,220.5 L56.9,220.4 L57.2,220.3 L57.6,220.1 L57.9,220.0 L58.3,219.8 L58.6,219.6 L58.9,219.5 L59.3,219.3 L59.6,219.1 L59.9,219.0 L60.3,218.8 L60.6,218.6 L60.9,218.4 L61.2,218.3 L61.6,218.1 L61.9,217.9 L62.2,217.8 L62.6,217.5 L62.9,217.4 L63.2,217.3 L63.6,217.0 L63.9,216.9 L64.2,216.8 L64.6,216.5 L64.9,216.4 L65.2,216.3 L65.6,216.1 L65.9,216.0 L66.4,215.8 L66.6,215.7 L67.1,215.5 L67.4,215.4 L67.9,215.3 L68.1,215.2 L68.6,215.1 L69.1,215.0 L69.4,214.9 L69.9,214.8 L70.4,214.8 L70.6,214.7 L71.2,214.7 L71.7,214.6 L72.2,214.6 L72.7,214.6 L73.2,214.6 L73.7,214.6 L74.2,214.6 L74.7,214.6 L75.2,214.6 L75.7,214.7 L76.2,214.7 L76.7,214.7 L77.2,214.7 L77.7,214.7 L78.0,214.8 L78.4,214.8 L78.9,214.8 L79.4,214.8 L79.9,214.8 L80.4,214.8 L80.9,214.9 L81.4,214.9 L81.9,215.0 L82.3,215.0 L82.7,215.1 L83.2,215.2 L83.5,215.3 L83.9,215.4 L84.2,215.5 L84.7,215.7 L84.9,215.8 L85.3,216.0 L85.7,216.3 L86.0,216.5 L86.2,216.6 L86.5,216.9 L86.7,217.1 L87.0,217.3 L87.2,217.6 L87.5,217.9 L87.7,218.1 L88.0,218.5 L88.2,218.8 L88.4,219.0 L88.6,219.3 L88.7,219.5 L89.0,219.9 L89.2,220.3 L89.4,220.5 L89.5,220.8 L89.7,221.2 L89.9,221.5 L90.0,221.8 L90.2,222.1 L90.4,222.5 L90.5,222.8 L90.7,223.3 L90.8,223.5 L91.0,223.9 L91.1,224.3 L91.2,224.7 L91.3,225.0 L91.5,225.5 L91.5,225.8 L91.6,226.3 L91.7,226.6 L91.8,227.0 L91.9,227.5 L92.0,228.0 L92.0,228.3 L92.0,228.8 L92.1,229.3 L92.1,229.8 L92.1,230.3 L92.2,230.8 L92.2,231.3 L92.1,231.8 L92.1,232.3 L92.1,232.8 L92.0,233.3 L92.0,233.8 L92.0,234.1 L91.9,234.6 L91.8,235.1 L91.7,235.4 L91.6,235.8 L91.5,236.3 L91.5,236.6 L91.3,237.1 L91.2,237.5 L91.1,237.8 L91.0,238.2 L90.9,238.6 L90.7,238.9 L90.6,239.3 L90.5,239.6 L90.3,240.1 L90.1,240.3 L90.0,240.7 L89.8,241.1 L89.7,241.3 L89.5,241.8 L89.4,242.1 L89.3,242.6 L89.3,243.1 L89.3,243.6 L89.3,244.1 L89.3,244.6 L89.4,245.1 L89.5,245.6 L89.5,245.8 L89.5,246.4 L89.6,246.9 L89.6,247.4 L89.5,247.9 L89.5,248.3 L89.4,248.6 L89.3,249.1 L89.2,249.4 L89.0,249.9 L88.9,250.1 L88.7,250.5 L88.5,250.9 L88.3,251.1 L88.1,251.4 L87.8,251.6 L87.6,251.9 L87.3,252.1 L87.0,252.4 L86.7,252.6 L86.5,252.7 L86.2,252.9 L85.7,253.1 L85.5,253.2 L85.1,253.4 L84.7,253.5 L84.4,253.6 L83.9,253.7 L83.4,253.8 L83.2,253.9Z M82.4,253.4 L81.9,253.4 L81.4,253.5 L80.9,253.4 L80.4,253.4 L79.9,253.4 L79.7,253.3 L79.2,253.3 L78.7,253.2 L78.4,253.1 L77.9,253.0 L77.4,252.9 L77.2,252.8 L76.7,252.7 L76.4,252.6 L75.9,252.4 L75.7,252.3 L75.2,252.1 L74.9,252.0 L74.6,251.9 L74.2,251.7 L73.9,251.6 L73.5,251.4 L73.2,251.2 L72.9,251.1 L72.5,250.9 L72.2,250.7 L71.9,250.6 L71.4,250.4 L71.2,250.2 L70.9,250.1 L70.4,249.9 L70.1,249.8 L69.7,249.6 L69.4,249.5 L69.1,249.4 L68.6,249.2 L68.4,249.1 L67.9,248.9 L67.6,248.7 L67.4,248.6 L66.9,248.4 L66.6,248.3 L66.3,248.1 L65.9,247.9 L65.6,247.8 L65.3,247.6 L64.9,247.4 L64.6,247.3 L64.3,247.1 L63.9,246.9 L63.6,246.7 L63.4,246.5 L63.0,246.4 L62.6,246.1 L62.4,245.9 L62.1,245.8 L61.9,245.6 L61.5,245.3 L61.1,245.1 L60.9,244.9 L60.6,244.7 L60.4,244.5 L60.1,244.3 L59.8,244.1 L59.5,243.8 L59.1,243.6 L58.9,243.4 L58.6,243.2 L58.4,242.9 L58.1,242.7 L57.9,242.5 L57.6,242.3 L57.4,242.1 L57.1,241.8 L56.8,241.6 L56.6,241.3 L56.3,241.1 L56.1,240.8 L55.8,240.6 L55.6,240.3 L55.3,240.1 L55.1,239.8 L54.8,239.5 L54.6,239.2 L54.3,239.0 L54.1,238.7 L53.8,238.4 L53.6,238.1 L53.4,237.8 L53.2,237.6 L53.0,237.3 L52.8,237.0 L52.6,236.7 L52.3,236.3 L52.2,236.1 L52.0,235.8 L51.8,235.6 L51.6,235.1 L51.4,234.8 L51.3,234.6 L51.1,234.2 L50.9,233.8 L50.7,233.6 L50.6,233.2 L50.4,232.8 L50.3,232.6 L50.1,232.1 L50.0,231.8 L49.9,231.3 L49.8,231.1 L49.7,230.6 L49.6,230.2 L49.5,229.8 L49.4,229.3 L49.4,228.8 L49.4,228.3 L49.4,227.8 L49.5,227.3 L49.6,227.0 L49.7,226.5 L49.8,226.2 L50.0,225.8 L50.2,225.5 L50.4,225.3 L50.6,225.0 L50.8,224.7 L51.1,224.5 L51.3,224.3 L51.6,224.0 L52.0,223.8 L52.3,223.6 L52.6,223.5 L52.9,223.3 L53.3,223.1 L53.6,223.0 L54.1,222.8 L54.3,222.7 L54.7,222.5 L55.1,222.3 L55.3,222.2 L55.8,222.0 L56.1,221.9 L56.3,221.8 L56.8,221.5 L57.1,221.3 L57.4,221.2 L57.6,221.0 L58.0,220.8 L58.4,220.6 L58.6,220.4 L58.9,220.3 L59.2,220.0 L59.6,219.8 L59.9,219.6 L60.1,219.5 L60.5,219.3 L60.9,219.0 L61.1,218.9 L61.4,218.7 L61.8,218.5 L62.1,218.3 L62.4,218.2 L62.7,218.0 L63.1,217.8 L63.4,217.6 L63.6,217.5 L64.0,217.3 L64.4,217.1 L64.6,217.0 L65.0,216.8 L65.4,216.6 L65.6,216.5 L66.1,216.3 L66.4,216.1 L66.7,216.0 L67.1,215.9 L67.4,215.8 L67.9,215.6 L68.3,215.5 L68.6,215.4 L69.1,215.3 L69.4,215.2 L69.9,215.2 L70.4,215.1 L70.9,215.0 L71.2,215.0 L71.7,215.0 L72.2,214.9 L72.7,214.9 L73.2,214.9 L73.7,215.0 L74.2,215.0 L74.5,215.0 L74.9,215.0 L75.4,215.1 L75.9,215.2 L76.4,215.2 L76.7,215.3 L77.2,215.3 L77.7,215.4 L78.1,215.5 L78.4,215.6 L78.9,215.6 L79.4,215.7 L79.7,215.8 L80.2,215.9 L80.7,215.9 L81.0,216.0 L81.4,216.1 L81.9,216.2 L82.2,216.3 L82.7,216.5 L82.9,216.6 L83.4,216.8 L83.7,216.9 L84.0,217.0 L84.4,217.3 L84.7,217.5 L84.9,217.7 L85.2,217.8 L85.5,218.1 L85.7,218.3 L86.0,218.5 L86.2,218.8 L86.5,219.0 L86.7,219.3 L87.0,219.6 L87.2,219.9 L87.5,220.2 L87.7,220.5 L87.9,220.8 L88.1,221.0 L88.3,221.3 L88.5,221.6 L88.7,222.0 L88.9,222.3 L89.0,222.5 L89.2,222.9 L89.4,223.3 L89.5,223.5 L89.7,223.9 L89.9,224.3 L90.0,224.5 L90.2,225.0 L90.2,225.3 L90.4,225.8 L90.5,226.0 L90.6,226.5 L90.7,227.0 L90.8,227.3 L90.9,227.8 L90.9,228.3 L91.0,228.6 L91.0,229.1 L91.1,229.6 L91.1,230.1 L91.1,230.6 L91.1,231.1 L91.1,231.6 L91.1,232.1 L91.1,232.6 L91.0,233.1 L91.0,233.5 L90.9,233.8 L90.8,234.3 L90.8,234.8 L90.7,235.1 L90.6,235.6 L90.5,236.1 L90.4,236.3 L90.3,236.8 L90.2,237.1 L90.0,237.6 L89.9,237.8 L89.7,238.3 L89.6,238.6 L89.5,238.9 L89.3,239.3 L89.1,239.6 L89.0,240.0 L88.8,240.3 L88.7,240.6 L88.5,241.1 L88.4,241.3 L88.3,241.8 L88.2,242.3 L88.2,242.8 L88.3,243.3 L88.4,243.8 L88.5,244.1 L88.6,244.6 L88.7,245.1 L88.7,245.3 L88.8,245.8 L88.9,246.4 L88.9,246.9 L88.9,247.4 L88.9,247.9 L88.8,248.4 L88.7,248.9 L88.6,249.1 L88.5,249.6 L88.3,249.9 L88.2,250.1 L88.0,250.5 L87.7,250.8 L87.5,251.1 L87.2,251.4 L87.0,251.6 L86.7,251.8 L86.5,252.0 L86.2,252.2 L85.9,252.4 L85.5,252.6 L85.2,252.7 L84.8,252.9 L84.4,253.0 L84.0,253.1 L83.7,253.2 L83.2,253.3 L82.7,253.4 L82.4,253.4Z M82.9,252.9 L82.4,253.0 L81.9,253.0 L81.4,253.0 L80.9,253.0 L80.4,253.0 L79.9,252.9 L79.4,252.9 L79.2,252.8 L78.7,252.7 L78.2,252.6 L77.9,252.6 L77.4,252.4 L77.2,252.3 L76.7,252.2 L76.4,252.1 L75.9,251.9 L75.7,251.8 L75.3,251.6 L74.9,251.4 L74.7,251.3 L74.3,251.1 L73.9,250.9 L73.7,250.8 L73.4,250.6 L72.9,250.4 L72.7,250.2 L72.4,250.0 L72.1,249.9 L71.7,249.6 L71.4,249.5 L71.2,249.3 L70.8,249.1 L70.4,248.9 L70.1,248.8 L69.8,248.6 L69.4,248.4 L69.1,248.3 L68.7,248.1 L68.4,248.0 L68.1,247.8 L67.6,247.6 L67.4,247.5 L67.0,247.4 L66.6,247.2 L66.4,247.1 L65.9,246.9 L65.6,246.7 L65.4,246.6 L65.0,246.4 L64.6,246.2 L64.4,246.0 L64.1,245.8 L63.6,245.6 L63.4,245.4 L63.1,245.3 L62.8,245.1 L62.4,244.8 L62.1,244.6 L61.9,244.5 L61.6,244.3 L61.3,244.1 L61.0,243.8 L60.6,243.6 L60.4,243.4 L60.1,243.2 L59.9,243.0 L59.6,242.8 L59.4,242.6 L59.1,242.3 L58.8,242.1 L58.5,241.8 L58.2,241.6 L57.9,241.3 L57.7,241.1 L57.4,240.8 L57.2,240.6 L56.9,240.3 L56.7,240.1 L56.4,239.8 L56.2,239.6 L56.0,239.3 L55.7,239.1 L55.5,238.8 L55.3,238.6 L55.1,238.3 L54.8,238.0 L54.6,237.7 L54.3,237.4 L54.1,237.1 L54.0,236.8 L53.8,236.6 L53.6,236.3 L53.3,235.9 L53.1,235.6 L53.0,235.3 L52.8,235.1 L52.6,234.6 L52.4,234.3 L52.3,234.1 L52.1,233.6 L52.0,233.3 L51.8,233.0 L51.7,232.6 L51.6,232.3 L51.4,231.8 L51.3,231.5 L51.2,231.1 L51.1,230.6 L51.1,230.2 L51.0,229.8 L51.0,229.3 L51.0,228.8 L51.1,228.3 L51.1,228.0 L51.3,227.5 L51.3,227.3 L51.6,226.8 L51.7,226.5 L51.8,226.3 L52.1,226.0 L52.3,225.7 L52.6,225.4 L52.8,225.2 L53.1,225.0 L53.3,224.8 L53.7,224.5 L54.0,224.3 L54.3,224.1 L54.6,223.9 L54.8,223.8 L55.2,223.5 L55.5,223.3 L55.8,223.1 L56.1,222.9 L56.3,222.7 L56.6,222.5 L57.0,222.3 L57.3,222.0 L57.6,221.8 L57.9,221.6 L58.1,221.4 L58.4,221.2 L58.6,221.0 L59.0,220.8 L59.3,220.5 L59.6,220.3 L59.9,220.1 L60.1,220.0 L60.4,219.8 L60.8,219.5 L61.1,219.3 L61.4,219.2 L61.6,219.0 L62.0,218.8 L62.4,218.6 L62.6,218.4 L62.9,218.3 L63.3,218.0 L63.6,217.8 L63.9,217.7 L64.2,217.5 L64.6,217.3 L64.9,217.1 L65.1,217.0 L65.6,216.8 L65.9,216.6 L66.2,216.5 L66.6,216.3 L66.9,216.2 L67.4,216.0 L67.6,215.9 L68.1,215.8 L68.4,215.7 L68.9,215.6 L69.3,215.5 L69.6,215.4 L70.1,215.4 L70.6,215.3 L70.9,215.3 L71.4,215.2 L71.9,215.2 L72.4,215.2 L72.9,215.2 L73.4,215.2 L73.9,215.2 L74.2,215.3 L74.7,215.3 L75.2,215.4 L75.7,215.5 L75.9,215.5 L76.4,215.6 L76.9,215.7 L77.2,215.8 L77.7,215.9 L78.0,216.0 L78.4,216.1 L78.8,216.3 L79.2,216.4 L79.5,216.5 L79.9,216.7 L80.2,216.8 L80.7,217.0 L80.9,217.1 L81.4,217.3 L81.7,217.4 L81.9,217.5 L82.4,217.8 L82.7,217.9 L82.9,218.1 L83.2,218.3 L83.6,218.5 L83.9,218.8 L84.2,219.0 L84.4,219.2 L84.7,219.4 L84.9,219.6 L85.2,219.8 L85.5,220.0 L85.7,220.3 L86.0,220.5 L86.2,220.8 L86.5,221.0 L86.7,221.3 L87.0,221.6 L87.2,221.9 L87.5,222.2 L87.7,222.5 L87.9,222.8 L88.1,223.0 L88.2,223.3 L88.5,223.7 L88.7,224.0 L88.8,224.3 L89.0,224.7 L89.1,225.0 L89.2,225.3 L89.4,225.8 L89.5,226.0 L89.6,226.5 L89.7,226.8 L89.8,227.3 L89.9,227.8 L90.0,228.0 L90.1,228.6 L90.1,229.1 L90.2,229.6 L90.2,230.1 L90.2,230.3 L90.2,230.8 L90.2,231.3 L90.2,231.8 L90.2,232.1 L90.2,232.6 L90.1,233.1 L90.1,233.6 L90.0,234.1 L89.9,234.3 L89.8,234.8 L89.7,235.3 L89.6,235.6 L89.5,236.1 L89.4,236.3 L89.2,236.8 L89.1,237.1 L89.0,237.5 L88.8,237.8 L88.7,238.1 L88.5,238.6 L88.3,238.8 L88.2,239.1 L88.0,239.5 L87.8,239.8 L87.7,240.1 L87.5,240.6 L87.4,240.8 L87.3,241.3 L87.3,241.8 L87.4,242.3 L87.5,242.8 L87.5,243.1 L87.7,243.6 L87.8,243.8 L87.9,244.3 L88.0,244.6 L88.2,245.1 L88.2,245.3 L88.3,245.8 L88.4,246.4 L88.4,246.9 L88.5,247.4 L88.4,247.9 L88.3,248.4 L88.2,248.9 L88.1,249.1 L88.0,249.5 L87.8,249.9 L87.6,250.1 L87.5,250.4 L87.2,250.7 L87.0,251.0 L86.7,251.2 L86.5,251.4 L86.2,251.6 L85.8,251.9 L85.5,252.1 L85.2,252.2 L84.9,252.4 L84.4,252.5 L84.2,252.6 L83.7,252.8 L83.2,252.9 L82.9,252.9Z M75.2,233.1 L75.7,232.9 L75.9,232.7 L76.2,232.4 L76.4,232.1 L76.5,231.8 L76.7,231.5 L76.8,231.1 L76.9,230.8 L77.1,230.3 L77.2,229.9 L77.2,229.6 L77.3,229.1 L77.4,228.6 L77.5,228.3 L77.5,227.8 L77.5,227.3 L77.4,227.0 L77.2,226.7 L76.7,226.8 L76.4,227.0 L76.2,227.2 L75.9,227.4 L75.7,227.7 L75.4,227.9 L75.2,228.2 L74.9,228.5 L74.7,228.8 L74.5,229.1 L74.3,229.3 L74.1,229.6 L73.9,229.8 L73.7,230.1 L73.4,230.5 L73.3,230.8 L73.1,231.1 L73.0,231.6 L73.1,232.1 L73.2,232.3 L73.4,232.6 L73.7,232.8 L74.2,233.0 L74.4,233.1 L74.9,233.1 L75.2,233.1Z M82.2,252.6 L81.7,252.7 L81.2,252.7 L80.7,252.7 L80.2,252.6 L79.9,252.6 L79.4,252.5 L78.9,252.4 L78.6,252.4 L78.2,252.3 L77.7,252.1 L77.4,252.0 L76.9,251.9 L76.7,251.8 L76.3,251.6 L75.9,251.5 L75.7,251.3 L75.2,251.1 L74.9,251.0 L74.7,250.8 L74.3,250.6 L73.9,250.4 L73.7,250.2 L73.4,250.1 L73.1,249.9 L72.7,249.6 L72.4,249.4 L72.2,249.2 L71.9,249.1 L71.6,248.9 L71.3,248.6 L70.9,248.4 L70.6,248.2 L70.4,248.0 L70.1,247.9 L69.6,247.6 L69.4,247.5 L69.1,247.3 L68.6,247.1 L68.4,247.0 L68.1,246.9 L67.6,246.6 L67.4,246.5 L67.0,246.4 L66.6,246.2 L66.4,246.1 L65.9,245.8 L65.6,245.7 L65.4,245.6 L64.9,245.3 L64.6,245.2 L64.4,245.1 L64.0,244.8 L63.6,244.6 L63.4,244.5 L63.1,244.3 L62.8,244.1 L62.4,243.8 L62.1,243.6 L61.9,243.5 L61.6,243.3 L61.4,243.1 L61.0,242.8 L60.7,242.6 L60.4,242.3 L60.1,242.1 L59.9,241.9 L59.6,241.7 L59.4,241.5 L59.1,241.3 L58.9,241.0 L58.6,240.8 L58.4,240.6 L58.1,240.3 L57.9,240.1 L57.6,239.8 L57.4,239.6 L57.1,239.3 L56.9,239.0 L56.6,238.7 L56.3,238.4 L56.1,238.1 L55.8,237.8 L55.6,237.6 L55.5,237.3 L55.3,237.1 L55.1,236.8 L54.8,236.5 L54.6,236.1 L54.4,235.8 L54.3,235.6 L54.1,235.3 L53.9,234.8 L53.7,234.6 L53.6,234.3 L53.4,233.8 L53.3,233.6 L53.1,233.1 L53.0,232.8 L52.8,232.4 L52.7,232.1 L52.6,231.6 L52.6,231.3 L52.5,230.8 L52.4,230.3 L52.4,229.8 L52.5,229.3 L52.5,228.8 L52.6,228.6 L52.7,228.0 L52.8,227.8 L53.1,227.3 L53.2,227.0 L53.4,226.8 L53.6,226.5 L53.8,226.1 L54.1,225.9 L54.3,225.6 L54.6,225.3 L54.8,225.1 L55.1,224.8 L55.3,224.6 L55.6,224.3 L55.8,224.1 L56.1,223.9 L56.3,223.6 L56.6,223.4 L56.9,223.1 L57.1,222.9 L57.4,222.7 L57.6,222.4 L57.9,222.2 L58.1,222.0 L58.4,221.8 L58.7,221.5 L59.0,221.3 L59.3,221.0 L59.6,220.8 L59.9,220.6 L60.1,220.4 L60.4,220.2 L60.6,220.0 L61.0,219.8 L61.4,219.5 L61.6,219.4 L61.9,219.2 L62.2,219.0 L62.6,218.8 L62.9,218.6 L63.1,218.4 L63.4,218.3 L63.8,218.0 L64.1,217.9 L64.4,217.7 L64.7,217.5 L65.1,217.3 L65.4,217.1 L65.6,217.0 L66.1,216.8 L66.4,216.7 L66.7,216.5 L67.1,216.3 L67.4,216.2 L67.9,216.1 L68.1,216.0 L68.6,215.9 L69.0,215.8 L69.4,215.7 L69.9,215.6 L70.4,215.5 L70.6,215.5 L71.2,215.4 L71.7,215.4 L72.2,215.4 L72.7,215.4 L73.2,215.4 L73.7,215.4 L74.2,215.5 L74.4,215.5 L74.9,215.6 L75.4,215.7 L75.8,215.8 L76.2,215.8 L76.7,216.0 L76.9,216.1 L77.4,216.2 L77.7,216.3 L78.2,216.5 L78.4,216.6 L78.8,216.8 L79.2,217.0 L79.4,217.1 L79.7,217.3 L80.0,217.5 L80.4,217.8 L80.7,218.0 L80.9,218.2 L81.2,218.5 L81.4,218.7 L81.7,219.0 L81.9,219.3 L82.2,219.5 L82.4,219.8 L82.7,220.0 L82.9,220.2 L83.2,220.4 L83.4,220.5 L83.8,220.8 L84.2,221.0 L84.4,221.2 L84.7,221.3 L85.0,221.5 L85.4,221.8 L85.7,222.0 L86.0,222.3 L86.2,222.5 L86.5,222.7 L86.7,223.0 L87.0,223.3 L87.2,223.5 L87.3,223.8 L87.5,224.0 L87.7,224.3 L88.0,224.8 L88.1,225.0 L88.2,225.3 L88.5,225.8 L88.6,226.0 L88.7,226.5 L88.8,226.8 L89.0,227.3 L89.0,227.5 L89.1,228.0 L89.2,228.4 L89.3,228.8 L89.3,229.3 L89.4,229.8 L89.4,230.3 L89.4,230.8 L89.4,231.3 L89.4,231.8 L89.4,232.3 L89.3,232.8 L89.3,233.3 L89.2,233.7 L89.1,234.1 L89.0,234.6 L89.0,234.8 L88.8,235.3 L88.7,235.7 L88.6,236.1 L88.5,236.4 L88.3,236.8 L88.2,237.1 L88.0,237.5 L87.8,237.8 L87.6,238.1 L87.5,238.4 L87.2,238.8 L87.0,239.1 L86.9,239.3 L86.7,239.6 L86.5,240.1 L86.4,240.3 L86.3,240.8 L86.4,241.3 L86.5,241.7 L86.6,242.1 L86.7,242.4 L86.9,242.8 L87.0,243.1 L87.2,243.6 L87.3,243.8 L87.5,244.3 L87.6,244.6 L87.7,245.1 L87.8,245.3 L87.9,245.8 L88.0,246.1 L88.0,246.6 L88.1,247.1 L88.0,247.6 L88.0,248.1 L87.9,248.4 L87.8,248.9 L87.7,249.1 L87.5,249.6 L87.3,249.9 L87.2,250.1 L87.0,250.4 L86.7,250.7 L86.5,250.9 L86.2,251.1 L85.9,251.4 L85.5,251.6 L85.2,251.8 L84.9,251.9 L84.5,252.1 L84.2,252.2 L83.7,252.4 L83.4,252.4 L82.9,252.5 L82.4,252.6 L82.2,252.6Z M76.4,234.8 L76.7,234.6 L76.9,234.3 L77.1,234.1 L77.2,233.8 L77.4,233.3 L77.5,233.1 L77.6,232.6 L77.7,232.3 L77.8,231.8 L77.9,231.3 L78.0,231.1 L78.1,230.6 L78.2,230.1 L78.2,229.8 L78.3,229.3 L78.4,228.8 L78.5,228.6 L78.6,228.0 L78.7,227.6 L78.7,227.3 L78.8,226.8 L78.9,226.3 L79.0,226.0 L79.0,225.5 L79.1,225.0 L79.0,224.5 L78.8,224.3 L78.4,224.1 L77.9,224.3 L77.7,224.4 L77.4,224.6 L77.2,224.8 L76.9,225.1 L76.7,225.4 L76.4,225.7 L76.2,226.0 L76.0,226.3 L75.8,226.5 L75.6,226.8 L75.4,227.0 L75.2,227.4 L74.9,227.7 L74.7,228.0 L74.4,228.3 L74.2,228.6 L74.1,228.8 L73.9,229.1 L73.7,229.3 L73.4,229.6 L73.2,229.9 L72.9,230.3 L72.7,230.6 L72.5,230.8 L72.4,231.1 L72.2,231.5 L72.0,231.8 L71.9,232.3 L72.0,232.8 L72.2,233.1 L72.4,233.4 L72.7,233.6 L72.9,233.8 L73.2,234.1 L73.6,234.3 L73.9,234.5 L74.2,234.6 L74.6,234.8 L74.9,234.9 L75.4,235.0 L75.9,235.0 L76.4,234.8Z M81.7,252.4 L81.2,252.4 L80.7,252.4 L80.4,252.4 L79.9,252.3 L79.4,252.2 L78.9,252.1 L78.7,252.1 L78.2,252.0 L77.9,251.9 L77.4,251.7 L77.1,251.6 L76.7,251.4 L76.4,251.3 L76.0,251.1 L75.7,251.0 L75.4,250.8 L75.0,250.6 L74.7,250.4 L74.4,250.3 L74.2,250.1 L73.8,249.9 L73.4,249.6 L73.2,249.4 L72.9,249.2 L72.7,249.0 L72.4,248.8 L72.1,248.6 L71.8,248.4 L71.5,248.1 L71.2,247.9 L70.9,247.6 L70.6,247.4 L70.4,247.3 L70.1,247.1 L69.8,246.9 L69.4,246.6 L69.1,246.5 L68.9,246.3 L68.4,246.1 L68.1,246.0 L67.9,245.8 L67.4,245.6 L67.1,245.5 L66.8,245.3 L66.4,245.2 L66.1,245.1 L65.7,244.8 L65.4,244.7 L65.1,244.6 L64.7,244.3 L64.4,244.1 L64.1,244.0 L63.9,243.8 L63.5,243.6 L63.1,243.4 L62.9,243.2 L62.6,243.0 L62.3,242.8 L62.0,242.6 L61.6,242.3 L61.4,242.1 L61.1,242.0 L60.9,241.8 L60.6,241.6 L60.4,241.3 L60.1,241.1 L59.8,240.8 L59.5,240.6 L59.2,240.3 L59.0,240.1 L58.7,239.8 L58.5,239.6 L58.2,239.3 L58.0,239.1 L57.8,238.8 L57.5,238.6 L57.3,238.3 L57.1,238.1 L56.9,237.8 L56.6,237.4 L56.3,237.1 L56.1,236.8 L56.0,236.6 L55.8,236.3 L55.6,236.0 L55.3,235.6 L55.2,235.3 L55.0,235.1 L54.8,234.7 L54.7,234.3 L54.6,234.1 L54.3,233.6 L54.2,233.3 L54.1,232.9 L54.0,232.6 L53.9,232.1 L53.8,231.8 L53.7,231.3 L53.7,230.8 L53.7,230.3 L53.7,229.8 L53.8,229.3 L53.8,228.9 L53.9,228.6 L54.1,228.1 L54.2,227.8 L54.3,227.5 L54.6,227.0 L54.7,226.8 L54.9,226.5 L55.1,226.2 L55.3,225.8 L55.5,225.5 L55.7,225.3 L55.9,225.0 L56.1,224.8 L56.3,224.5 L56.6,224.2 L56.9,223.9 L57.1,223.6 L57.4,223.3 L57.6,223.0 L57.8,222.8 L58.1,222.5 L58.3,222.3 L58.6,222.0 L58.9,221.8 L59.1,221.6 L59.4,221.4 L59.6,221.1 L59.9,220.9 L60.1,220.7 L60.4,220.5 L60.7,220.3 L61.1,220.0 L61.4,219.8 L61.6,219.7 L61.9,219.5 L62.2,219.3 L62.6,219.0 L62.9,218.9 L63.1,218.7 L63.5,218.5 L63.9,218.3 L64.1,218.1 L64.4,218.0 L64.7,217.8 L65.1,217.5 L65.4,217.4 L65.6,217.2 L66.1,217.0 L66.4,216.9 L66.6,216.7 L67.1,216.5 L67.4,216.4 L67.9,216.3 L68.1,216.2 L68.6,216.0 L68.9,216.0 L69.4,215.8 L69.9,215.8 L70.1,215.7 L70.6,215.6 L71.2,215.6 L71.7,215.6 L72.2,215.6 L72.7,215.6 L73.2,215.6 L73.7,215.6 L74.2,215.7 L74.7,215.7 L74.9,215.8 L75.4,215.9 L75.9,216.0 L76.2,216.1 L76.7,216.2 L76.9,216.3 L77.4,216.5 L77.7,216.6 L77.9,216.8 L78.4,217.0 L78.7,217.2 L78.9,217.3 L79.2,217.5 L79.5,217.8 L79.7,218.0 L79.9,218.3 L80.2,218.6 L80.4,219.0 L80.5,219.3 L80.6,219.8 L80.7,220.3 L80.6,220.8 L80.4,221.2 L80.2,221.5 L80.0,221.8 L79.7,222.0 L79.4,222.2 L79.2,222.4 L78.9,222.6 L78.6,222.8 L78.2,223.0 L77.9,223.3 L77.7,223.4 L77.4,223.7 L77.2,223.9 L76.9,224.2 L76.7,224.4 L76.4,224.8 L76.2,225.0 L76.1,225.3 L75.9,225.5 L75.7,225.9 L75.4,226.3 L75.3,226.5 L75.1,226.8 L74.9,227.0 L74.7,227.4 L74.4,227.7 L74.2,228.0 L74.0,228.3 L73.8,228.6 L73.6,228.8 L73.4,229.1 L73.2,229.4 L72.9,229.7 L72.7,230.0 L72.4,230.3 L72.2,230.6 L72.0,230.8 L71.8,231.1 L71.7,231.3 L71.4,231.8 L71.3,232.1 L71.2,232.4 L71.1,232.8 L71.2,233.2 L71.3,233.6 L71.5,233.8 L71.7,234.1 L71.9,234.3 L72.2,234.6 L72.5,234.8 L72.8,235.1 L73.1,235.3 L73.4,235.6 L73.7,235.7 L73.9,235.9 L74.2,236.1 L74.5,236.3 L74.9,236.6 L75.2,236.7 L75.5,236.8 L75.9,237.0 L76.4,237.1 L76.9,237.1 L77.4,236.9 L77.7,236.8 L77.9,236.5 L78.2,236.1 L78.2,235.8 L78.4,235.3 L78.4,234.9 L78.5,234.6 L78.5,234.1 L78.6,233.6 L78.7,233.1 L78.7,232.8 L78.7,232.3 L78.8,231.8 L78.9,231.3 L78.9,230.9 L79.0,230.6 L79.1,230.1 L79.2,229.6 L79.2,229.3 L79.3,228.8 L79.4,228.3 L79.5,228.0 L79.6,227.5 L79.7,227.3 L79.9,226.8 L79.9,226.5 L80.1,226.0 L80.2,225.8 L80.4,225.3 L80.5,225.0 L80.7,224.6 L80.9,224.3 L81.0,224.0 L81.2,223.7 L81.4,223.4 L81.7,223.1 L81.9,222.9 L82.2,222.8 L82.7,222.7 L83.2,222.6 L83.7,222.7 L84.2,222.8 L84.4,222.9 L84.8,223.0 L85.2,223.3 L85.5,223.4 L85.7,223.6 L86.0,223.8 L86.2,224.1 L86.5,224.3 L86.7,224.6 L87.0,224.9 L87.2,225.3 L87.3,225.5 L87.5,225.8 L87.7,226.3 L87.8,226.5 L88.0,226.9 L88.1,227.3 L88.2,227.6 L88.3,228.0 L88.4,228.6 L88.5,228.8 L88.6,229.3 L88.6,229.8 L88.7,230.3 L88.7,230.8 L88.7,231.3 L88.7,231.8 L88.6,232.3 L88.6,232.8 L88.5,233.3 L88.4,233.6 L88.3,234.1 L88.2,234.5 L88.1,234.8 L88.0,235.3 L87.9,235.6 L87.7,235.9 L87.5,236.3 L87.4,236.6 L87.2,237.0 L87.0,237.3 L86.8,237.6 L86.6,237.8 L86.5,238.1 L86.2,238.4 L86.0,238.7 L85.7,239.1 L85.5,239.3 L85.4,239.6 L85.3,240.1 L85.3,240.6 L85.5,241.0 L85.6,241.3 L85.7,241.6 L85.9,242.1 L86.1,242.3 L86.2,242.6 L86.5,243.0 L86.6,243.3 L86.7,243.6 L87.0,244.1 L87.1,244.3 L87.2,244.7 L87.3,245.1 L87.5,245.5 L87.6,245.8 L87.6,246.4 L87.7,246.9 L87.7,247.4 L87.7,247.9 L87.6,248.4 L87.5,248.7 L87.3,249.1 L87.2,249.4 L87.0,249.8 L86.7,250.1 L86.5,250.4 L86.3,250.6 L86.0,250.9 L85.7,251.1 L85.5,251.3 L85.2,251.4 L84.9,251.6 L84.4,251.8 L84.2,251.9 L83.7,252.1 L83.4,252.1 L82.9,252.2 L82.4,252.3 L81.9,252.4 L81.7,252.4Z M81.7,252.1 L81.2,252.1 L80.7,252.1 L80.4,252.1 L79.9,252.0 L79.4,252.0 L78.9,251.9 L78.7,251.8 L78.2,251.7 L77.9,251.6 L77.4,251.4 L77.2,251.3 L76.7,251.1 L76.4,251.0 L76.1,250.9 L75.7,250.7 L75.4,250.5 L75.1,250.4 L74.7,250.1 L74.4,249.9 L74.2,249.7 L73.9,249.6 L73.7,249.4 L73.3,249.1 L73.0,248.9 L72.7,248.6 L72.4,248.4 L72.2,248.1 L71.9,247.9 L71.7,247.6 L71.4,247.4 L71.2,247.1 L70.9,246.9 L70.6,246.7 L70.4,246.5 L70.1,246.3 L69.9,246.1 L69.6,245.8 L69.2,245.6 L68.9,245.4 L68.6,245.3 L68.2,245.1 L67.9,244.9 L67.6,244.8 L67.1,244.6 L66.9,244.5 L66.5,244.3 L66.1,244.2 L65.9,244.1 L65.5,243.8 L65.1,243.7 L64.9,243.5 L64.5,243.3 L64.1,243.1 L63.9,243.0 L63.6,242.8 L63.3,242.6 L62.9,242.3 L62.6,242.2 L62.4,242.0 L62.1,241.8 L61.8,241.6 L61.5,241.3 L61.2,241.1 L60.9,240.8 L60.6,240.6 L60.4,240.4 L60.1,240.1 L59.9,239.9 L59.6,239.7 L59.4,239.4 L59.1,239.2 L58.9,238.9 L58.6,238.6 L58.4,238.3 L58.1,238.1 L57.9,237.8 L57.7,237.6 L57.5,237.3 L57.3,237.1 L57.1,236.7 L56.9,236.4 L56.7,236.1 L56.5,235.8 L56.3,235.6 L56.1,235.1 L55.9,234.8 L55.8,234.6 L55.6,234.2 L55.4,233.8 L55.3,233.6 L55.2,233.1 L55.1,232.8 L54.9,232.3 L54.8,231.9 L54.8,231.6 L54.7,231.1 L54.7,230.6 L54.7,230.1 L54.7,229.6 L54.8,229.1 L54.9,228.8 L55.0,228.3 L55.1,228.0 L55.2,227.5 L55.3,227.3 L55.6,226.8 L55.7,226.5 L55.8,226.2 L56.1,225.8 L56.2,225.5 L56.4,225.3 L56.6,224.9 L56.9,224.6 L57.1,224.3 L57.2,224.0 L57.4,223.8 L57.6,223.5 L57.9,223.3 L58.1,223.0 L58.4,222.7 L58.6,222.5 L58.9,222.2 L59.1,222.0 L59.4,221.7 L59.6,221.5 L59.9,221.3 L60.2,221.0 L60.5,220.8 L60.8,220.5 L61.1,220.3 L61.4,220.1 L61.6,219.9 L61.9,219.8 L62.2,219.5 L62.6,219.3 L62.9,219.1 L63.1,219.0 L63.4,218.8 L63.8,218.5 L64.1,218.3 L64.4,218.2 L64.6,218.0 L65.1,217.8 L65.4,217.6 L65.6,217.4 L65.9,217.3 L66.4,217.0 L66.6,216.9 L67.0,216.8 L67.4,216.6 L67.6,216.5 L68.1,216.3 L68.4,216.3 L68.9,216.1 L69.3,216.0 L69.6,215.9 L70.1,215.9 L70.6,215.8 L71.0,215.8 L71.4,215.7 L71.9,215.7 L72.4,215.7 L72.9,215.7 L73.4,215.8 L73.7,215.8 L74.2,215.8 L74.7,215.9 L75.1,216.0 L75.4,216.1 L75.9,216.2 L76.2,216.3 L76.7,216.5 L76.9,216.6 L77.3,216.8 L77.7,216.9 L77.9,217.1 L78.2,217.3 L78.6,217.5 L78.9,217.8 L79.1,218.0 L79.3,218.3 L79.5,218.5 L79.7,218.9 L79.8,219.3 L79.9,219.8 L79.8,220.3 L79.7,220.7 L79.5,221.0 L79.4,221.3 L79.2,221.5 L78.9,221.8 L78.7,222.0 L78.4,222.3 L78.1,222.5 L77.8,222.8 L77.5,223.0 L77.2,223.3 L76.9,223.5 L76.7,223.8 L76.5,224.0 L76.3,224.3 L76.1,224.5 L75.9,224.8 L75.7,225.3 L75.5,225.5 L75.3,225.8 L75.2,226.1 L74.9,226.5 L74.7,226.8 L74.6,227.0 L74.4,227.3 L74.2,227.6 L73.9,227.9 L73.7,228.3 L73.5,228.6 L73.3,228.8 L73.1,229.1 L72.8,229.3 L72.6,229.6 L72.4,229.8 L72.2,230.1 L71.9,230.4 L71.7,230.7 L71.4,231.0 L71.2,231.3 L71.0,231.6 L70.8,231.8 L70.6,232.1 L70.4,232.6 L70.4,232.8 L70.3,233.3 L70.4,233.7 L70.6,234.1 L70.7,234.3 L71.0,234.6 L71.2,234.8 L71.4,235.1 L71.7,235.3 L72.0,235.6 L72.2,235.8 L72.5,236.1 L72.7,236.3 L73.0,236.6 L73.3,236.8 L73.6,237.1 L73.9,237.3 L74.2,237.5 L74.4,237.7 L74.7,237.8 L75.2,238.1 L75.4,238.1 L75.9,238.3 L76.3,238.3 L76.7,238.4 L77.2,238.4 L77.7,238.4 L78.2,238.4 L78.5,238.3 L78.9,238.2 L79.4,238.1 L79.7,238.0 L79.9,237.8 L80.1,237.3 L80.1,236.8 L80.0,236.3 L79.9,236.1 L79.8,235.6 L79.8,235.1 L79.7,234.6 L79.7,234.1 L79.7,233.8 L79.7,233.3 L79.7,232.8 L79.7,232.4 L79.7,232.1 L79.7,231.6 L79.8,231.1 L79.8,230.6 L79.9,230.1 L80.0,229.8 L80.1,229.3 L80.2,228.8 L80.3,228.6 L80.4,228.0 L80.5,227.8 L80.7,227.3 L80.8,227.0 L80.9,226.7 L81.1,226.3 L81.3,226.0 L81.4,225.8 L81.7,225.5 L81.9,225.2 L82.2,224.9 L82.4,224.7 L82.8,224.5 L83.2,224.4 L83.7,224.3 L84.2,224.3 L84.7,224.5 L84.9,224.6 L85.3,224.8 L85.6,225.0 L85.9,225.3 L86.1,225.5 L86.3,225.8 L86.5,226.0 L86.7,226.3 L87.0,226.8 L87.1,227.0 L87.2,227.3 L87.4,227.8 L87.5,228.0 L87.6,228.6 L87.7,229.0 L87.8,229.3 L87.8,229.8 L87.9,230.3 L87.9,230.8 L87.9,231.3 L87.9,231.8 L87.8,232.3 L87.8,232.8 L87.7,233.1 L87.6,233.6 L87.5,234.1 L87.4,234.3 L87.2,234.8 L87.1,235.1 L87.0,235.5 L86.8,235.8 L86.6,236.1 L86.5,236.4 L86.2,236.7 L86.0,237.0 L85.7,237.3 L85.5,237.6 L85.2,237.8 L84.9,238.0 L84.7,238.2 L84.4,238.5 L84.2,238.7 L83.9,239.1 L83.9,239.3 L83.9,239.7 L84.1,240.1 L84.2,240.3 L84.4,240.7 L84.7,241.1 L84.9,241.3 L85.1,241.6 L85.2,241.8 L85.5,242.2 L85.7,242.5 L85.9,242.8 L86.1,243.1 L86.2,243.4 L86.5,243.8 L86.6,244.1 L86.7,244.3 L86.9,244.8 L87.0,245.1 L87.2,245.6 L87.2,245.8 L87.3,246.4 L87.4,246.9 L87.4,247.4 L87.3,247.9 L87.2,248.4 L87.2,248.6 L87.0,249.1 L86.8,249.4 L86.7,249.6 L86.5,250.0 L86.2,250.3 L86.0,250.5 L85.7,250.7 L85.5,250.9 L85.2,251.1 L84.7,251.4 L84.4,251.5 L84.2,251.6 L83.7,251.8 L83.4,251.9 L82.9,252.0 L82.4,252.1 L81.9,252.1 L81.7,252.1Z M81.7,251.9 L81.2,251.9 L80.7,251.9 L80.4,251.9 L79.9,251.8 L79.4,251.7 L78.9,251.6 L78.7,251.6 L78.2,251.4 L77.9,251.4 L77.4,251.2 L77.2,251.1 L76.7,250.9 L76.4,250.8 L76.1,250.6 L75.7,250.4 L75.4,250.2 L75.2,250.1 L74.8,249.9 L74.5,249.6 L74.2,249.4 L73.9,249.2 L73.7,249.0 L73.4,248.8 L73.2,248.5 L72.9,248.3 L72.7,248.1 L72.4,247.8 L72.2,247.6 L71.9,247.3 L71.7,247.0 L71.4,246.7 L71.2,246.4 L70.9,246.2 L70.6,245.9 L70.4,245.6 L70.1,245.4 L69.9,245.2 L69.6,245.0 L69.4,244.8 L69.1,244.6 L68.6,244.4 L68.4,244.3 L68.0,244.1 L67.6,243.9 L67.4,243.8 L66.9,243.6 L66.6,243.5 L66.2,243.3 L65.9,243.2 L65.6,243.1 L65.2,242.8 L64.9,242.7 L64.6,242.5 L64.3,242.3 L63.9,242.1 L63.6,241.9 L63.4,241.8 L63.1,241.6 L62.7,241.3 L62.4,241.1 L62.1,240.9 L61.9,240.7 L61.6,240.5 L61.4,240.3 L61.1,240.0 L60.9,239.8 L60.6,239.6 L60.3,239.3 L60.1,239.1 L59.8,238.8 L59.6,238.6 L59.4,238.3 L59.1,238.0 L58.9,237.7 L58.6,237.4 L58.4,237.1 L58.2,236.8 L58.0,236.6 L57.8,236.3 L57.6,236.0 L57.4,235.6 L57.2,235.3 L57.0,235.1 L56.9,234.7 L56.6,234.3 L56.5,234.1 L56.3,233.7 L56.2,233.3 L56.1,233.1 L55.9,232.6 L55.8,232.3 L55.7,231.8 L55.6,231.3 L55.6,231.1 L55.5,230.6 L55.5,230.1 L55.5,229.6 L55.6,229.1 L55.6,228.8 L55.7,228.3 L55.8,227.8 L55.9,227.5 L56.1,227.0 L56.1,226.8 L56.3,226.3 L56.5,226.0 L56.6,225.8 L56.9,225.3 L57.0,225.0 L57.2,224.8 L57.4,224.5 L57.6,224.1 L57.8,223.8 L58.0,223.5 L58.2,223.3 L58.4,223.0 L58.7,222.8 L58.9,222.5 L59.1,222.3 L59.4,222.0 L59.6,221.8 L59.9,221.5 L60.2,221.3 L60.5,221.0 L60.8,220.8 L61.1,220.6 L61.4,220.4 L61.6,220.2 L61.9,220.0 L62.2,219.8 L62.6,219.5 L62.9,219.4 L63.1,219.2 L63.4,219.0 L63.8,218.8 L64.1,218.5 L64.4,218.4 L64.6,218.2 L65.0,218.0 L65.4,217.8 L65.6,217.6 L65.9,217.5 L66.3,217.3 L66.6,217.1 L66.9,217.0 L67.4,216.8 L67.6,216.7 L68.0,216.5 L68.4,216.4 L68.9,216.3 L69.1,216.2 L69.6,216.1 L70.1,216.0 L70.4,216.0 L70.9,215.9 L71.4,215.9 L71.9,215.8 L72.4,215.8 L72.9,215.9 L73.4,215.9 L73.9,216.0 L74.3,216.0 L74.7,216.1 L75.2,216.2 L75.4,216.3 L75.9,216.4 L76.2,216.5 L76.7,216.7 L76.9,216.8 L77.3,217.0 L77.7,217.2 L77.9,217.4 L78.2,217.6 L78.4,217.8 L78.7,218.1 L78.9,218.4 L79.2,218.8 L79.3,219.0 L79.4,219.5 L79.3,220.0 L79.2,220.5 L79.1,220.8 L78.9,221.1 L78.7,221.4 L78.4,221.7 L78.2,222.0 L77.9,222.2 L77.7,222.4 L77.4,222.6 L77.2,222.9 L76.9,223.1 L76.7,223.4 L76.4,223.6 L76.2,223.9 L75.9,224.3 L75.7,224.5 L75.6,224.8 L75.4,225.1 L75.2,225.5 L75.0,225.8 L74.9,226.0 L74.7,226.4 L74.4,226.8 L74.2,227.0 L74.1,227.3 L73.9,227.5 L73.7,227.9 L73.4,228.2 L73.2,228.5 L72.9,228.8 L72.7,229.1 L72.5,229.3 L72.3,229.6 L72.1,229.8 L71.9,230.1 L71.7,230.3 L71.4,230.6 L71.2,230.9 L70.9,231.2 L70.6,231.5 L70.4,231.8 L70.2,232.1 L70.0,232.3 L69.9,232.6 L69.6,233.0 L69.6,233.3 L69.6,233.8 L69.6,234.1 L69.9,234.6 L70.1,234.8 L70.3,235.1 L70.5,235.3 L70.7,235.6 L71.0,235.8 L71.2,236.1 L71.5,236.3 L71.7,236.6 L71.9,236.8 L72.2,237.1 L72.4,237.4 L72.7,237.6 L72.9,237.9 L73.2,238.1 L73.5,238.3 L73.9,238.6 L74.2,238.7 L74.6,238.8 L74.9,238.9 L75.4,239.0 L75.9,239.0 L76.4,239.1 L76.7,239.1 L77.2,239.1 L77.7,239.1 L78.2,239.1 L78.7,239.1 L79.2,239.1 L79.7,239.1 L80.2,239.2 L80.7,239.2 L81.2,239.3 L81.4,239.4 L81.9,239.5 L82.2,239.7 L82.5,239.8 L82.9,240.1 L83.2,240.3 L83.4,240.6 L83.7,240.8 L83.9,241.0 L84.2,241.3 L84.4,241.5 L84.7,241.8 L84.9,242.1 L85.1,242.3 L85.3,242.6 L85.5,242.8 L85.7,243.1 L86.0,243.5 L86.1,243.8 L86.3,244.1 L86.5,244.5 L86.6,244.8 L86.7,245.1 L86.9,245.6 L87.0,245.9 L87.0,246.4 L87.1,246.9 L87.1,247.4 L87.0,247.9 L87.0,248.3 L86.9,248.6 L86.7,249.0 L86.5,249.4 L86.4,249.6 L86.2,249.9 L85.9,250.1 L85.7,250.4 L85.4,250.6 L85.0,250.9 L84.7,251.1 L84.4,251.2 L84.1,251.4 L83.7,251.5 L83.3,251.6 L82.9,251.7 L82.4,251.8 L81.9,251.9 L81.7,251.9Z M83.9,236.9 L83.4,237.0 L82.9,237.0 L82.6,236.8 L82.2,236.6 L81.9,236.4 L81.7,236.1 L81.5,235.8 L81.3,235.6 L81.2,235.2 L81.0,234.8 L80.9,234.5 L80.8,234.1 L80.7,233.6 L80.7,233.2 L80.7,232.8 L80.6,232.3 L80.6,231.8 L80.7,231.3 L80.7,231.0 L80.7,230.6 L80.8,230.1 L80.9,229.6 L81.0,229.3 L81.1,228.8 L81.2,228.6 L81.4,228.0 L81.5,227.8 L81.7,227.5 L81.9,227.1 L82.2,226.8 L82.4,226.5 L82.7,226.3 L82.9,226.1 L83.2,226.0 L83.7,225.8 L84.2,225.8 L84.7,226.0 L84.9,226.1 L85.2,226.3 L85.5,226.5 L85.7,226.8 L86.0,227.1 L86.2,227.5 L86.4,227.8 L86.5,228.0 L86.7,228.6 L86.8,228.8 L86.9,229.3 L87.0,229.7 L87.0,230.1 L87.1,230.6 L87.1,231.1 L87.1,231.6 L87.0,232.1 L87.0,232.5 L86.9,232.8 L86.8,233.3 L86.7,233.6 L86.5,234.1 L86.4,234.3 L86.2,234.8 L86.1,235.1 L85.9,235.3 L85.7,235.6 L85.5,235.9 L85.2,236.1 L84.9,236.4 L84.6,236.6 L84.2,236.8 L83.9,236.9Z M81.9,251.6 L81.4,251.7 L80.9,251.7 L80.4,251.6 L80.1,251.6 L79.7,251.6 L79.2,251.5 L78.7,251.4 L78.4,251.3 L77.9,251.1 L77.7,251.0 L77.2,250.9 L76.9,250.7 L76.6,250.6 L76.2,250.4 L75.9,250.2 L75.7,250.1 L75.3,249.9 L74.9,249.6 L74.7,249.4 L74.4,249.2 L74.2,249.0 L73.9,248.8 L73.7,248.6 L73.4,248.4 L73.1,248.1 L72.9,247.9 L72.7,247.6 L72.4,247.3 L72.2,247.0 L71.9,246.7 L71.7,246.4 L71.5,246.1 L71.3,245.8 L71.1,245.6 L70.9,245.3 L70.6,245.0 L70.4,244.7 L70.1,244.4 L69.9,244.1 L69.6,243.9 L69.4,243.8 L69.1,243.6 L68.6,243.4 L68.4,243.2 L68.0,243.1 L67.6,243.0 L67.3,242.8 L66.9,242.7 L66.6,242.6 L66.1,242.4 L65.9,242.3 L65.5,242.1 L65.1,241.9 L64.9,241.8 L64.6,241.6 L64.1,241.3 L63.9,241.2 L63.6,241.0 L63.4,240.8 L63.0,240.6 L62.7,240.3 L62.4,240.1 L62.1,239.9 L61.9,239.7 L61.6,239.5 L61.4,239.2 L61.1,239.0 L60.9,238.8 L60.6,238.5 L60.4,238.2 L60.1,237.9 L59.9,237.7 L59.6,237.3 L59.4,237.1 L59.2,236.8 L59.0,236.6 L58.8,236.3 L58.6,236.0 L58.4,235.6 L58.2,235.3 L58.0,235.1 L57.9,234.8 L57.6,234.4 L57.4,234.1 L57.3,233.8 L57.1,233.5 L56.9,233.1 L56.8,232.8 L56.6,232.3 L56.5,232.1 L56.4,231.6 L56.3,231.3 L56.2,230.8 L56.1,230.3 L56.1,229.8 L56.1,229.3 L56.2,228.8 L56.2,228.3 L56.3,227.8 L56.4,227.5 L56.5,227.0 L56.6,226.8 L56.8,226.3 L56.9,226.0 L57.1,225.6 L57.2,225.3 L57.4,225.0 L57.6,224.7 L57.8,224.3 L58.0,224.0 L58.2,223.8 L58.4,223.5 L58.6,223.2 L58.9,222.9 L59.1,222.7 L59.4,222.4 L59.6,222.1 L59.9,221.9 L60.1,221.6 L60.4,221.4 L60.6,221.2 L60.9,221.0 L61.1,220.8 L61.5,220.5 L61.8,220.3 L62.1,220.1 L62.4,219.9 L62.6,219.7 L62.9,219.5 L63.3,219.3 L63.6,219.1 L63.9,218.9 L64.1,218.7 L64.5,218.5 L64.9,218.3 L65.1,218.1 L65.4,217.9 L65.7,217.8 L66.1,217.5 L66.4,217.4 L66.6,217.2 L67.1,217.0 L67.4,216.9 L67.7,216.8 L68.1,216.6 L68.5,216.5 L68.9,216.4 L69.4,216.3 L69.6,216.2 L70.1,216.1 L70.6,216.1 L71.1,216.0 L71.4,216.0 L71.9,216.0 L72.4,216.0 L72.9,216.0 L73.2,216.0 L73.7,216.1 L74.2,216.1 L74.7,216.2 L74.9,216.3 L75.4,216.4 L75.7,216.5 L76.2,216.7 L76.4,216.8 L76.9,217.0 L77.2,217.2 L77.4,217.3 L77.7,217.5 L78.0,217.8 L78.3,218.0 L78.5,218.3 L78.7,218.6 L78.9,219.0 L78.9,219.3 L79.0,219.8 L78.9,220.1 L78.8,220.5 L78.7,220.8 L78.4,221.2 L78.2,221.5 L77.9,221.8 L77.7,222.0 L77.4,222.3 L77.2,222.5 L76.9,222.8 L76.7,223.0 L76.4,223.2 L76.2,223.5 L75.9,223.8 L75.8,224.0 L75.6,224.3 L75.4,224.6 L75.2,225.0 L75.0,225.3 L74.9,225.5 L74.7,225.9 L74.5,226.3 L74.3,226.5 L74.1,226.8 L73.9,227.1 L73.7,227.5 L73.5,227.8 L73.3,228.0 L73.1,228.3 L72.9,228.6 L72.7,228.8 L72.4,229.1 L72.2,229.4 L71.9,229.7 L71.7,230.0 L71.4,230.2 L71.2,230.5 L70.9,230.8 L70.6,231.1 L70.4,231.3 L70.2,231.6 L70.0,231.8 L69.7,232.1 L69.5,232.3 L69.3,232.6 L69.1,232.9 L68.9,233.3 L68.8,233.6 L68.8,234.1 L68.9,234.5 L69.0,234.8 L69.2,235.1 L69.4,235.3 L69.6,235.6 L69.9,235.9 L70.1,236.2 L70.4,236.5 L70.6,236.8 L70.9,237.1 L71.1,237.3 L71.3,237.6 L71.5,237.8 L71.7,238.1 L71.9,238.3 L72.2,238.6 L72.4,238.8 L72.8,239.1 L73.2,239.3 L73.4,239.3 L73.9,239.5 L74.4,239.5 L74.9,239.6 L75.2,239.6 L75.7,239.6 L76.2,239.6 L76.7,239.6 L77.2,239.6 L77.7,239.6 L78.2,239.6 L78.7,239.6 L79.2,239.6 L79.7,239.7 L80.2,239.7 L80.6,239.8 L80.9,239.9 L81.4,240.1 L81.7,240.1 L82.1,240.3 L82.4,240.5 L82.7,240.6 L83.0,240.8 L83.3,241.1 L83.7,241.3 L83.9,241.6 L84.2,241.8 L84.4,242.1 L84.7,242.3 L84.9,242.6 L85.1,242.8 L85.3,243.1 L85.5,243.3 L85.7,243.7 L86.0,244.1 L86.1,244.3 L86.2,244.6 L86.4,245.1 L86.5,245.3 L86.7,245.8 L86.7,246.1 L86.8,246.6 L86.8,247.1 L86.8,247.6 L86.7,248.1 L86.6,248.4 L86.5,248.9 L86.3,249.1 L86.2,249.4 L86.0,249.7 L85.7,250.0 L85.5,250.2 L85.2,250.4 L84.9,250.6 L84.6,250.9 L84.2,251.1 L83.9,251.2 L83.4,251.3 L83.2,251.4 L82.7,251.5 L82.2,251.6 L81.9,251.6Z M84.4,234.8 L83.9,235.0 L83.4,235.0 L82.9,234.8 L82.7,234.6 L82.4,234.4 L82.2,234.1 L82.1,233.8 L81.9,233.3 L81.9,233.1 L81.8,232.6 L81.7,232.1 L81.7,231.6 L81.7,231.1 L81.8,230.6 L81.9,230.1 L81.9,229.8 L82.1,229.3 L82.2,229.1 L82.4,228.6 L82.6,228.3 L82.9,228.0 L83.2,227.8 L83.4,227.6 L83.9,227.5 L84.0,227.5 L84.4,227.6 L84.8,227.8 L85.1,228.0 L85.3,228.3 L85.5,228.6 L85.7,229.1 L85.8,229.3 L85.9,229.8 L86.0,230.1 L86.1,230.6 L86.1,231.1 L86.1,231.6 L86.0,232.1 L86.0,232.4 L85.8,232.8 L85.7,233.2 L85.5,233.6 L85.4,233.8 L85.2,234.1 L84.9,234.4 L84.7,234.7 L84.4,234.8Z M82.2,251.4 L81.7,251.5 L81.2,251.5 L80.7,251.5 L80.2,251.4 L79.7,251.4 L79.4,251.3 L78.9,251.2 L78.6,251.1 L78.2,251.0 L77.8,250.9 L77.4,250.7 L77.1,250.6 L76.7,250.4 L76.4,250.3 L76.1,250.1 L75.7,249.9 L75.4,249.7 L75.2,249.5 L74.9,249.3 L74.6,249.1 L74.3,248.9 L74.0,248.6 L73.8,248.4 L73.5,248.1 L73.3,247.9 L73.1,247.6 L72.8,247.4 L72.7,247.1 L72.4,246.8 L72.2,246.4 L72.0,246.1 L71.8,245.8 L71.7,245.6 L71.4,245.1 L71.3,244.8 L71.1,244.6 L70.9,244.1 L70.7,243.8 L70.6,243.6 L70.4,243.3 L70.1,242.9 L69.9,242.7 L69.6,242.5 L69.3,242.3 L68.9,242.2 L68.5,242.1 L68.1,242.0 L67.6,241.9 L67.4,241.8 L66.9,241.6 L66.6,241.6 L66.1,241.4 L65.9,241.3 L65.5,241.1 L65.1,240.9 L64.9,240.8 L64.6,240.6 L64.1,240.3 L63.9,240.2 L63.6,240.0 L63.4,239.8 L63.1,239.6 L62.8,239.3 L62.5,239.1 L62.2,238.8 L61.9,238.6 L61.7,238.3 L61.4,238.1 L61.2,237.8 L61.0,237.6 L60.7,237.3 L60.5,237.1 L60.3,236.8 L60.1,236.5 L59.9,236.2 L59.6,235.9 L59.4,235.6 L59.2,235.3 L59.0,235.1 L58.8,234.8 L58.6,234.5 L58.4,234.1 L58.1,233.8 L58.0,233.6 L57.8,233.3 L57.6,232.9 L57.4,232.6 L57.3,232.3 L57.1,231.9 L57.0,231.6 L56.9,231.1 L56.8,230.8 L56.7,230.3 L56.6,229.8 L56.6,229.6 L56.6,229.1 L56.6,228.8 L56.6,228.3 L56.7,227.8 L56.8,227.3 L56.9,227.0 L57.0,226.5 L57.1,226.3 L57.3,225.8 L57.5,225.5 L57.6,225.2 L57.8,224.8 L58.0,224.5 L58.1,224.3 L58.4,224.0 L58.6,223.6 L58.9,223.3 L59.1,223.0 L59.3,222.8 L59.5,222.5 L59.7,222.3 L60.0,222.0 L60.2,221.8 L60.5,221.5 L60.8,221.3 L61.1,221.0 L61.4,220.8 L61.6,220.6 L61.9,220.4 L62.1,220.3 L62.5,220.0 L62.8,219.8 L63.1,219.6 L63.4,219.4 L63.6,219.3 L64.0,219.0 L64.4,218.8 L64.6,218.6 L64.9,218.4 L65.1,218.3 L65.5,218.0 L65.9,217.8 L66.1,217.7 L66.4,217.5 L66.9,217.3 L67.1,217.1 L67.4,217.0 L67.9,216.8 L68.1,216.8 L68.6,216.6 L68.9,216.5 L69.4,216.4 L69.9,216.3 L70.1,216.2 L70.6,216.2 L71.2,216.1 L71.7,216.1 L72.2,216.1 L72.7,216.1 L73.2,216.1 L73.7,216.2 L74.1,216.3 L74.4,216.3 L74.9,216.4 L75.2,216.5 L75.7,216.7 L75.9,216.8 L76.4,217.0 L76.7,217.1 L77.0,217.3 L77.4,217.5 L77.7,217.8 L77.9,218.0 L78.2,218.3 L78.3,218.5 L78.5,218.8 L78.6,219.3 L78.7,219.8 L78.6,220.3 L78.4,220.6 L78.2,221.0 L78.0,221.3 L77.8,221.5 L77.6,221.8 L77.4,222.0 L77.1,222.3 L76.8,222.5 L76.6,222.8 L76.3,223.0 L76.1,223.3 L75.9,223.5 L75.7,223.8 L75.4,224.1 L75.2,224.5 L75.0,224.8 L74.9,225.0 L74.7,225.5 L74.5,225.8 L74.4,226.0 L74.2,226.4 L73.9,226.8 L73.7,227.0 L73.6,227.3 L73.4,227.5 L73.2,227.9 L72.9,228.2 L72.7,228.5 L72.4,228.8 L72.2,229.1 L72.0,229.3 L71.8,229.6 L71.5,229.8 L71.3,230.1 L71.1,230.3 L70.8,230.6 L70.6,230.8 L70.3,231.1 L70.1,231.3 L69.8,231.6 L69.6,231.8 L69.3,232.1 L69.1,232.3 L68.9,232.6 L68.6,232.8 L68.4,233.2 L68.1,233.5 L68.0,233.8 L67.9,234.3 L68.0,234.8 L68.1,235.1 L68.4,235.5 L68.6,235.8 L68.8,236.1 L69.0,236.3 L69.2,236.6 L69.4,236.8 L69.6,237.1 L69.9,237.4 L70.1,237.8 L70.3,238.1 L70.5,238.3 L70.6,238.6 L70.9,239.0 L71.1,239.3 L71.4,239.6 L71.7,239.8 L71.9,240.0 L72.2,240.1 L72.7,240.2 L73.2,240.2 L73.7,240.2 L74.2,240.2 L74.7,240.1 L75.2,240.1 L75.4,240.1 L75.9,240.0 L76.4,240.0 L76.9,240.0 L77.4,240.0 L77.9,240.0 L78.4,240.0 L78.9,240.0 L79.4,240.1 L79.7,240.1 L80.2,240.2 L80.7,240.3 L80.9,240.3 L81.4,240.5 L81.7,240.6 L82.2,240.8 L82.4,240.9 L82.7,241.1 L83.1,241.3 L83.4,241.6 L83.7,241.8 L83.9,242.0 L84.2,242.2 L84.4,242.5 L84.7,242.8 L84.9,243.1 L85.2,243.3 L85.3,243.6 L85.5,243.8 L85.7,244.2 L85.9,244.6 L86.1,244.8 L86.2,245.2 L86.3,245.6 L86.5,246.1 L86.5,246.4 L86.6,246.9 L86.6,247.4 L86.5,247.9 L86.4,248.1 L86.3,248.6 L86.2,248.9 L86.0,249.3 L85.7,249.6 L85.5,249.9 L85.2,250.1 L84.9,250.3 L84.7,250.5 L84.4,250.7 L84.0,250.9 L83.7,251.0 L83.4,251.1 L82.9,251.3 L82.4,251.4 L82.2,251.4Z M68.1,240.3 L67.6,240.4 L67.1,240.4 L66.9,240.3 L66.4,240.2 L66.0,240.1 L65.6,239.9 L65.4,239.8 L64.9,239.6 L64.6,239.4 L64.4,239.3 L64.1,239.1 L63.8,238.8 L63.4,238.6 L63.1,238.3 L62.9,238.1 L62.6,237.8 L62.4,237.6 L62.1,237.3 L61.9,237.1 L61.7,236.8 L61.5,236.6 L61.3,236.3 L61.1,236.1 L60.8,235.8 L60.6,235.6 L60.4,235.3 L60.1,235.0 L59.9,234.8 L59.6,234.5 L59.4,234.2 L59.1,234.0 L58.9,233.7 L58.6,233.3 L58.4,233.1 L58.2,232.8 L58.1,232.6 L57.9,232.2 L57.6,231.8 L57.5,231.6 L57.4,231.1 L57.3,230.8 L57.1,230.3 L57.1,230.1 L57.0,229.6 L57.0,229.1 L57.0,228.6 L57.0,228.0 L57.1,227.6 L57.2,227.3 L57.3,226.8 L57.4,226.5 L57.5,226.0 L57.6,225.8 L57.9,225.3 L58.0,225.0 L58.1,224.8 L58.4,224.4 L58.6,224.0 L58.7,223.8 L58.9,223.5 L59.1,223.3 L59.4,223.0 L59.6,222.7 L59.9,222.4 L60.1,222.2 L60.4,221.9 L60.6,221.7 L60.9,221.5 L61.1,221.2 L61.4,221.0 L61.7,220.8 L62.0,220.5 L62.4,220.3 L62.6,220.1 L62.9,219.9 L63.1,219.8 L63.5,219.5 L63.9,219.3 L64.1,219.1 L64.4,218.9 L64.6,218.8 L65.0,218.5 L65.4,218.3 L65.6,218.1 L65.9,218.0 L66.2,217.8 L66.6,217.5 L66.9,217.4 L67.2,217.3 L67.6,217.1 L67.9,217.0 L68.4,216.8 L68.6,216.7 L69.1,216.6 L69.4,216.5 L69.9,216.4 L70.4,216.3 L70.9,216.3 L71.2,216.2 L71.7,216.2 L72.2,216.2 L72.7,216.2 L73.2,216.3 L73.4,216.3 L73.9,216.4 L74.4,216.5 L74.7,216.5 L75.2,216.6 L75.5,216.8 L75.9,216.9 L76.2,217.0 L76.6,217.3 L76.9,217.4 L77.2,217.6 L77.4,217.8 L77.7,218.1 L77.9,218.4 L78.2,218.8 L78.3,219.0 L78.4,219.5 L78.3,220.0 L78.2,220.5 L78.1,220.8 L77.9,221.0 L77.7,221.4 L77.4,221.7 L77.2,221.9 L76.9,222.2 L76.7,222.4 L76.4,222.7 L76.2,222.9 L75.9,223.2 L75.7,223.5 L75.4,223.8 L75.2,224.0 L75.1,224.3 L74.9,224.6 L74.7,225.0 L74.5,225.3 L74.4,225.5 L74.2,226.0 L74.0,226.3 L73.8,226.5 L73.7,226.8 L73.4,227.2 L73.2,227.5 L73.0,227.8 L72.8,228.0 L72.6,228.3 L72.4,228.6 L72.2,228.8 L71.9,229.1 L71.7,229.4 L71.4,229.7 L71.2,229.9 L70.9,230.2 L70.6,230.4 L70.4,230.7 L70.1,230.9 L69.9,231.2 L69.6,231.4 L69.4,231.6 L69.1,231.9 L68.9,232.1 L68.6,232.3 L68.4,232.6 L68.1,232.8 L67.9,233.1 L67.6,233.3 L67.4,233.7 L67.1,234.0 L67.0,234.3 L66.9,234.8 L67.0,235.3 L67.1,235.6 L67.4,236.0 L67.6,236.3 L67.8,236.6 L68.0,236.8 L68.2,237.1 L68.4,237.4 L68.6,237.8 L68.8,238.1 L68.9,238.4 L69.0,238.8 L69.1,239.3 L68.9,239.8 L68.7,240.1 L68.4,240.3 L68.1,240.3Z M82.4,251.2 L81.9,251.2 L81.4,251.3 L80.9,251.3 L80.4,251.3 L79.9,251.2 L79.4,251.1 L79.2,251.1 L78.7,250.9 L78.4,250.9 L77.9,250.7 L77.7,250.6 L77.2,250.4 L76.9,250.3 L76.5,250.1 L76.2,249.9 L75.9,249.8 L75.7,249.6 L75.3,249.4 L75.0,249.1 L74.7,248.9 L74.4,248.6 L74.2,248.4 L73.9,248.2 L73.7,247.9 L73.4,247.6 L73.2,247.4 L73.0,247.1 L72.8,246.9 L72.7,246.6 L72.4,246.2 L72.2,245.8 L72.1,245.6 L71.9,245.1 L71.8,244.8 L71.7,244.4 L71.6,244.1 L71.5,243.6 L71.4,243.1 L71.4,242.8 L71.4,242.6 L71.5,242.1 L71.7,241.8 L71.9,241.6 L72.3,241.3 L72.7,241.2 L72.9,241.1 L73.4,240.9 L73.7,240.8 L74.2,240.7 L74.7,240.6 L74.9,240.5 L75.4,240.5 L75.9,240.4 L76.4,240.4 L76.7,240.3 L77.2,240.3 L77.7,240.3 L78.2,240.3 L78.7,240.3 L79.0,240.3 L79.4,240.4 L79.9,240.4 L80.4,240.5 L80.7,240.6 L81.2,240.8 L81.4,240.8 L81.9,241.0 L82.2,241.2 L82.5,241.3 L82.9,241.6 L83.2,241.8 L83.4,242.0 L83.7,242.2 L83.9,242.4 L84.2,242.6 L84.4,242.9 L84.7,243.2 L84.9,243.5 L85.2,243.8 L85.4,244.1 L85.5,244.3 L85.7,244.7 L85.9,245.1 L86.0,245.3 L86.2,245.8 L86.2,246.1 L86.3,246.6 L86.3,247.1 L86.3,247.6 L86.2,248.1 L86.1,248.4 L86.0,248.7 L85.8,249.1 L85.6,249.4 L85.4,249.6 L85.1,249.9 L84.8,250.1 L84.5,250.4 L84.2,250.5 L83.9,250.7 L83.5,250.9 L83.2,251.0 L82.7,251.1 L82.4,251.2Z M65.1,237.0 L64.6,236.9 L64.4,236.8 L64.0,236.6 L63.7,236.3 L63.4,236.1 L63.1,236.0 L62.9,235.8 L62.5,235.6 L62.1,235.4 L61.9,235.2 L61.6,235.1 L61.2,234.8 L60.9,234.6 L60.6,234.4 L60.4,234.2 L60.1,234.0 L59.9,233.8 L59.6,233.6 L59.3,233.3 L59.1,233.1 L58.9,232.8 L58.6,232.5 L58.4,232.1 L58.1,231.8 L58.0,231.6 L57.9,231.2 L57.7,230.8 L57.6,230.6 L57.5,230.1 L57.4,229.6 L57.3,229.3 L57.3,228.8 L57.3,228.3 L57.4,228.0 L57.4,227.5 L57.5,227.0 L57.6,226.7 L57.7,226.3 L57.9,225.9 L58.0,225.5 L58.1,225.3 L58.4,224.8 L58.5,224.5 L58.7,224.3 L58.9,224.0 L59.1,223.6 L59.4,223.3 L59.6,223.0 L59.8,222.8 L60.0,222.5 L60.2,222.3 L60.5,222.0 L60.7,221.8 L61.0,221.5 L61.3,221.3 L61.6,221.0 L61.9,220.8 L62.1,220.7 L62.4,220.5 L62.6,220.3 L63.0,220.0 L63.4,219.8 L63.6,219.6 L63.9,219.4 L64.1,219.3 L64.5,219.0 L64.8,218.8 L65.1,218.6 L65.4,218.4 L65.6,218.3 L66.0,218.0 L66.4,217.8 L66.6,217.7 L66.9,217.5 L67.4,217.3 L67.6,217.2 L68.1,217.0 L68.4,216.9 L68.8,216.8 L69.1,216.7 L69.6,216.6 L69.9,216.5 L70.4,216.4 L70.9,216.4 L71.4,216.3 L71.9,216.3 L72.4,216.3 L72.9,216.4 L73.4,216.4 L73.9,216.5 L74.2,216.5 L74.7,216.6 L75.1,216.8 L75.4,216.9 L75.8,217.0 L76.2,217.2 L76.4,217.3 L76.7,217.5 L77.1,217.8 L77.4,218.0 L77.6,218.3 L77.8,218.5 L77.9,218.8 L78.1,219.3 L78.1,219.8 L78.0,220.3 L77.9,220.5 L77.7,221.0 L77.5,221.3 L77.3,221.5 L77.1,221.8 L76.8,222.0 L76.6,222.3 L76.3,222.5 L76.1,222.8 L75.8,223.0 L75.6,223.3 L75.4,223.5 L75.2,223.8 L74.9,224.2 L74.7,224.5 L74.6,224.8 L74.4,225.1 L74.2,225.5 L74.1,225.8 L73.9,226.1 L73.7,226.5 L73.5,226.8 L73.3,227.0 L73.1,227.3 L72.9,227.6 L72.7,227.9 L72.4,228.3 L72.2,228.6 L72.0,228.8 L71.7,229.1 L71.5,229.3 L71.3,229.6 L71.0,229.8 L70.8,230.1 L70.5,230.3 L70.3,230.6 L70.0,230.8 L69.7,231.1 L69.4,231.3 L69.1,231.5 L68.9,231.8 L68.6,232.0 L68.4,232.2 L68.1,232.4 L67.9,232.6 L67.6,232.8 L67.3,233.1 L67.0,233.3 L66.7,233.6 L66.5,233.8 L66.2,234.1 L66.0,234.3 L65.7,234.6 L65.6,234.8 L65.4,235.1 L65.2,235.6 L65.1,236.1 L65.2,236.6 L65.1,237.0Z M82.7,250.9 L82.2,251.0 L81.7,251.1 L81.2,251.1 L80.7,251.1 L80.2,251.0 L79.7,251.0 L79.2,250.9 L78.9,250.8 L78.4,250.7 L78.2,250.6 L77.7,250.4 L77.4,250.3 L77.0,250.1 L76.7,250.0 L76.4,249.8 L76.1,249.6 L75.7,249.4 L75.4,249.2 L75.2,249.0 L74.9,248.8 L74.7,248.6 L74.4,248.3 L74.2,248.1 L73.9,247.8 L73.7,247.5 L73.4,247.2 L73.2,246.9 L73.0,246.6 L72.9,246.4 L72.7,245.9 L72.5,245.6 L72.4,245.3 L72.2,244.8 L72.2,244.5 L72.1,244.1 L72.1,243.6 L72.1,243.1 L72.2,242.8 L72.4,242.4 L72.7,242.1 L72.9,241.9 L73.2,241.7 L73.4,241.5 L73.8,241.3 L74.2,241.2 L74.4,241.1 L74.9,240.9 L75.4,240.8 L75.7,240.8 L76.2,240.7 L76.7,240.6 L77.2,240.6 L77.5,240.6 L77.9,240.6 L78.4,240.6 L78.7,240.6 L79.2,240.6 L79.7,240.7 L80.2,240.8 L80.4,240.8 L80.9,241.0 L81.3,241.1 L81.7,241.2 L81.9,241.4 L82.4,241.6 L82.7,241.8 L82.9,241.9 L83.2,242.1 L83.5,242.3 L83.8,242.6 L84.1,242.8 L84.3,243.1 L84.6,243.3 L84.8,243.6 L84.9,243.8 L85.2,244.2 L85.4,244.6 L85.5,244.8 L85.7,245.2 L85.9,245.6 L86.0,246.0 L86.0,246.4 L86.1,246.9 L86.1,247.4 L86.0,247.9 L85.9,248.1 L85.7,248.6 L85.6,248.9 L85.5,249.1 L85.2,249.5 L84.9,249.7 L84.7,249.9 L84.4,250.1 L84.1,250.4 L83.7,250.5 L83.4,250.7 L82.9,250.8 L82.7,250.9Z M64.4,234.4 L63.9,234.5 L63.4,234.5 L62.9,234.5 L62.4,234.4 L62.0,234.3 L61.6,234.2 L61.4,234.1 L60.9,233.8 L60.6,233.7 L60.4,233.5 L60.1,233.3 L59.8,233.1 L59.5,232.8 L59.2,232.6 L59.0,232.3 L58.8,232.1 L58.6,231.8 L58.4,231.4 L58.2,231.1 L58.1,230.8 L57.9,230.3 L57.8,230.1 L57.7,229.6 L57.6,229.1 L57.6,228.6 L57.6,228.0 L57.7,227.5 L57.8,227.0 L57.9,226.7 L58.0,226.3 L58.1,225.9 L58.2,225.5 L58.4,225.3 L58.6,224.8 L58.7,224.5 L58.9,224.3 L59.1,223.9 L59.4,223.6 L59.6,223.3 L59.8,223.0 L60.0,222.8 L60.2,222.5 L60.5,222.3 L60.7,222.0 L61.0,221.8 L61.3,221.5 L61.6,221.3 L61.9,221.0 L62.1,220.8 L62.4,220.6 L62.6,220.5 L62.9,220.3 L63.3,220.0 L63.6,219.8 L63.9,219.6 L64.1,219.4 L64.4,219.3 L64.7,219.0 L65.1,218.8 L65.4,218.6 L65.6,218.4 L65.9,218.2 L66.2,218.0 L66.6,217.8 L66.9,217.7 L67.2,217.5 L67.6,217.3 L67.9,217.2 L68.4,217.0 L68.6,216.9 L69.1,216.8 L69.4,216.7 L69.9,216.6 L70.4,216.5 L70.6,216.5 L71.2,216.5 L71.7,216.4 L72.2,216.4 L72.7,216.4 L73.2,216.5 L73.4,216.5 L73.9,216.6 L74.4,216.7 L74.7,216.8 L75.2,216.9 L75.4,217.0 L75.9,217.2 L76.2,217.4 L76.4,217.5 L76.8,217.8 L77.1,218.0 L77.3,218.3 L77.5,218.5 L77.7,218.8 L77.8,219.3 L77.9,219.8 L77.8,220.3 L77.7,220.6 L77.4,221.0 L77.2,221.3 L77.0,221.5 L76.8,221.8 L76.6,222.0 L76.3,222.3 L76.1,222.5 L75.8,222.8 L75.6,223.0 L75.4,223.3 L75.2,223.5 L74.9,223.9 L74.7,224.3 L74.5,224.5 L74.4,224.8 L74.2,225.2 L74.0,225.5 L73.9,225.8 L73.7,226.1 L73.4,226.5 L73.3,226.8 L73.1,227.0 L72.9,227.3 L72.7,227.7 L72.4,228.0 L72.2,228.3 L72.0,228.6 L71.7,228.8 L71.5,229.1 L71.3,229.3 L71.0,229.6 L70.8,229.8 L70.5,230.1 L70.3,230.3 L70.0,230.6 L69.7,230.8 L69.4,231.1 L69.1,231.3 L68.9,231.5 L68.6,231.7 L68.4,231.9 L68.1,232.1 L67.8,232.3 L67.5,232.6 L67.1,232.8 L66.9,233.0 L66.6,233.1 L66.4,233.3 L66.0,233.6 L65.6,233.8 L65.4,233.9 L65.1,234.1 L64.6,234.3 L64.4,234.4Z M81.7,250.9 L81.2,250.9 L80.7,250.9 L80.2,250.9 L79.9,250.8 L79.4,250.8 L78.9,250.6 L78.7,250.6 L78.2,250.4 L77.9,250.3 L77.4,250.1 L77.2,250.0 L76.9,249.9 L76.4,249.6 L76.2,249.5 L75.9,249.3 L75.7,249.1 L75.3,248.9 L75.0,248.6 L74.7,248.4 L74.5,248.1 L74.3,247.9 L74.0,247.6 L73.8,247.4 L73.6,247.1 L73.4,246.7 L73.2,246.4 L73.1,246.1 L72.9,245.7 L72.8,245.3 L72.7,245.0 L72.6,244.6 L72.5,244.1 L72.6,243.6 L72.7,243.3 L72.8,242.8 L73.0,242.6 L73.2,242.3 L73.5,242.1 L73.8,241.8 L74.2,241.6 L74.4,241.5 L74.9,241.3 L75.2,241.2 L75.7,241.1 L75.9,241.0 L76.4,241.0 L76.9,240.9 L77.4,240.8 L77.7,240.8 L78.2,240.8 L78.5,240.8 L78.9,240.9 L79.4,240.9 L79.9,241.0 L80.4,241.1 L80.7,241.2 L81.2,241.3 L81.4,241.4 L81.9,241.6 L82.2,241.7 L82.4,241.9 L82.8,242.1 L83.1,242.3 L83.4,242.6 L83.7,242.8 L83.9,243.0 L84.2,243.3 L84.4,243.6 L84.7,243.8 L84.9,244.1 L85.0,244.3 L85.2,244.6 L85.4,245.1 L85.5,245.3 L85.7,245.8 L85.8,246.1 L85.8,246.6 L85.9,247.1 L85.8,247.6 L85.7,248.1 L85.6,248.4 L85.5,248.7 L85.2,249.1 L85.0,249.4 L84.7,249.6 L84.4,249.9 L84.2,250.0 L83.9,250.2 L83.6,250.4 L83.2,250.5 L82.9,250.6 L82.4,250.8 L81.9,250.8 L81.7,250.9Z M63.9,233.8 L63.4,233.9 L62.9,233.9 L62.4,233.8 L62.1,233.8 L61.6,233.6 L61.4,233.5 L60.9,233.3 L60.6,233.1 L60.4,233.0 L60.1,232.8 L59.8,232.6 L59.5,232.3 L59.3,232.1 L59.1,231.8 L58.9,231.5 L58.6,231.1 L58.4,230.8 L58.3,230.6 L58.1,230.1 L58.1,229.8 L58.0,229.3 L57.9,228.8 L57.9,228.3 L57.9,227.8 L58.0,227.3 L58.1,226.8 L58.1,226.5 L58.3,226.0 L58.4,225.8 L58.6,225.3 L58.7,225.0 L58.9,224.7 L59.1,224.3 L59.3,224.0 L59.4,223.8 L59.6,223.5 L59.9,223.2 L60.1,222.9 L60.4,222.6 L60.6,222.3 L60.9,222.1 L61.1,221.9 L61.4,221.6 L61.6,221.4 L61.9,221.2 L62.1,221.0 L62.4,220.8 L62.8,220.5 L63.1,220.3 L63.4,220.1 L63.6,219.9 L63.9,219.8 L64.2,219.5 L64.6,219.3 L64.9,219.1 L65.1,218.9 L65.4,218.7 L65.7,218.5 L66.0,218.3 L66.4,218.1 L66.6,217.9 L66.9,217.8 L67.4,217.5 L67.6,217.4 L68.0,217.3 L68.4,217.1 L68.7,217.0 L69.1,216.9 L69.6,216.8 L69.9,216.7 L70.4,216.6 L70.9,216.6 L71.4,216.5 L71.9,216.5 L72.4,216.5 L72.9,216.6 L73.4,216.6 L73.9,216.7 L74.2,216.8 L74.7,216.9 L75.0,217.0 L75.4,217.2 L75.7,217.3 L76.1,217.5 L76.4,217.7 L76.7,217.9 L76.9,218.1 L77.2,218.4 L77.4,218.8 L77.5,219.0 L77.7,219.5 L77.6,220.0 L77.5,220.5 L77.3,220.8 L77.2,221.1 L76.9,221.4 L76.7,221.7 L76.4,222.0 L76.2,222.2 L75.9,222.5 L75.7,222.7 L75.4,223.0 L75.2,223.3 L75.0,223.5 L74.8,223.8 L74.6,224.0 L74.4,224.4 L74.2,224.8 L74.1,225.0 L73.9,225.3 L73.7,225.8 L73.5,226.0 L73.4,226.3 L73.2,226.7 L72.9,227.0 L72.7,227.3 L72.6,227.5 L72.4,227.8 L72.2,228.1 L71.9,228.4 L71.7,228.7 L71.4,229.0 L71.2,229.2 L70.9,229.5 L70.6,229.7 L70.4,230.0 L70.1,230.2 L69.9,230.4 L69.6,230.6 L69.4,230.8 L69.1,231.1 L68.8,231.3 L68.5,231.6 L68.1,231.8 L67.9,232.0 L67.6,232.1 L67.4,232.3 L67.0,232.6 L66.6,232.8 L66.4,232.9 L66.1,233.1 L65.6,233.3 L65.4,233.4 L65.0,233.6 L64.6,233.7 L64.1,233.8 L63.9,233.8Z M81.9,250.6 L81.4,250.7 L80.9,250.7 L80.4,250.7 L79.9,250.7 L79.7,250.6 L79.2,250.5 L78.7,250.4 L78.4,250.3 L77.9,250.1 L77.7,250.0 L77.3,249.9 L76.9,249.7 L76.7,249.5 L76.4,249.4 L76.0,249.1 L75.7,248.9 L75.4,248.7 L75.2,248.5 L74.9,248.2 L74.7,248.0 L74.4,247.7 L74.2,247.4 L73.9,247.1 L73.8,246.9 L73.6,246.6 L73.4,246.2 L73.3,245.8 L73.2,245.6 L73.0,245.1 L73.0,244.6 L73.0,244.1 L73.0,243.6 L73.2,243.2 L73.4,242.8 L73.6,242.6 L73.8,242.3 L74.1,242.1 L74.4,241.9 L74.7,241.8 L75.1,241.6 L75.4,241.5 L75.9,241.3 L76.2,241.3 L76.7,241.2 L77.2,241.1 L77.6,241.1 L77.9,241.1 L78.4,241.1 L78.8,241.1 L79.2,241.1 L79.7,241.2 L80.2,241.3 L80.5,241.3 L80.9,241.5 L81.3,241.6 L81.7,241.8 L81.9,241.9 L82.3,242.1 L82.7,242.3 L82.9,242.5 L83.2,242.6 L83.4,242.9 L83.7,243.1 L84.0,243.3 L84.2,243.6 L84.4,243.9 L84.7,244.2 L84.9,244.6 L85.1,244.8 L85.2,245.1 L85.4,245.6 L85.5,245.8 L85.6,246.4 L85.6,246.9 L85.6,247.4 L85.5,247.9 L85.4,248.1 L85.2,248.6 L85.1,248.9 L84.9,249.1 L84.7,249.4 L84.4,249.6 L84.1,249.9 L83.7,250.1 L83.4,250.2 L83.1,250.4 L82.7,250.5 L82.2,250.6 L81.9,250.6Z M63.9,232.8 L63.4,232.8 L62.9,232.8 L62.6,232.8 L62.1,232.7 L61.8,232.6 L61.4,232.4 L61.1,232.3 L60.7,232.1 L60.4,231.8 L60.1,231.6 L59.9,231.4 L59.6,231.1 L59.4,230.8 L59.2,230.6 L59.1,230.3 L58.9,229.8 L58.8,229.6 L58.7,229.1 L58.6,228.8 L58.6,228.3 L58.6,227.8 L58.6,227.3 L58.6,227.0 L58.7,226.5 L58.9,226.1 L58.9,225.8 L59.1,225.4 L59.3,225.0 L59.4,224.8 L59.6,224.4 L59.8,224.0 L60.0,223.8 L60.2,223.5 L60.4,223.3 L60.6,223.0 L60.9,222.7 L61.1,222.4 L61.4,222.2 L61.6,221.9 L61.9,221.7 L62.1,221.5 L62.4,221.3 L62.7,221.0 L63.1,220.8 L63.4,220.6 L63.6,220.4 L63.9,220.2 L64.1,220.0 L64.5,219.8 L64.8,219.5 L65.1,219.3 L65.4,219.1 L65.6,218.9 L65.9,218.7 L66.2,218.5 L66.6,218.3 L66.9,218.1 L67.1,218.0 L67.6,217.8 L67.9,217.6 L68.2,217.5 L68.6,217.3 L68.9,217.3 L69.4,217.1 L69.9,217.0 L70.1,217.0 L70.6,216.9 L71.2,216.8 L71.7,216.8 L72.2,216.8 L72.7,216.9 L73.2,216.9 L73.7,217.0 L73.9,217.0 L74.4,217.2 L74.7,217.3 L75.2,217.5 L75.4,217.6 L75.8,217.8 L76.1,218.0 L76.4,218.3 L76.6,218.5 L76.8,218.8 L76.9,219.0 L77.1,219.5 L77.0,220.0 L76.9,220.4 L76.8,220.8 L76.6,221.0 L76.4,221.3 L76.2,221.6 L75.9,221.9 L75.7,222.2 L75.4,222.4 L75.2,222.7 L74.9,223.0 L74.7,223.2 L74.4,223.5 L74.2,223.8 L74.1,224.0 L73.9,224.3 L73.7,224.8 L73.5,225.0 L73.4,225.3 L73.2,225.8 L73.0,226.0 L72.9,226.3 L72.7,226.7 L72.4,227.0 L72.2,227.3 L72.0,227.5 L71.8,227.8 L71.6,228.0 L71.4,228.3 L71.2,228.6 L70.9,228.9 L70.6,229.1 L70.4,229.4 L70.1,229.6 L69.9,229.8 L69.6,230.1 L69.3,230.3 L69.0,230.6 L68.7,230.8 L68.4,231.0 L68.1,231.2 L67.9,231.3 L67.5,231.6 L67.1,231.8 L66.9,231.9 L66.5,232.1 L66.1,232.2 L65.9,232.3 L65.4,232.5 L65.1,232.6 L64.6,232.7 L64.1,232.8 L63.9,232.8Z M81.7,250.1 L81.2,250.2 L80.7,250.2 L80.2,250.2 L79.7,250.1 L79.4,250.1 L78.9,250.0 L78.6,249.9 L78.2,249.7 L77.9,249.6 L77.4,249.4 L77.2,249.3 L76.9,249.1 L76.5,248.9 L76.2,248.6 L75.9,248.4 L75.7,248.2 L75.4,247.9 L75.2,247.7 L74.9,247.4 L74.7,247.1 L74.5,246.9 L74.4,246.6 L74.2,246.1 L74.1,245.8 L73.9,245.3 L73.9,245.1 L73.9,244.6 L73.9,244.3 L74.0,243.8 L74.2,243.6 L74.4,243.2 L74.7,242.9 L74.9,242.7 L75.2,242.5 L75.4,242.3 L75.9,242.1 L76.2,242.0 L76.7,241.9 L76.9,241.8 L77.4,241.7 L77.9,241.7 L78.4,241.7 L78.9,241.7 L79.4,241.8 L79.9,241.8 L80.2,241.9 L80.7,242.0 L80.9,242.1 L81.4,242.3 L81.7,242.4 L82.0,242.6 L82.4,242.8 L82.7,243.0 L82.9,243.2 L83.2,243.4 L83.4,243.6 L83.7,243.9 L83.9,244.2 L84.2,244.5 L84.4,244.8 L84.5,245.1 L84.7,245.5 L84.8,245.8 L84.9,246.3 L85.0,246.6 L85.0,247.1 L84.9,247.4 L84.8,247.9 L84.7,248.2 L84.5,248.6 L84.3,248.9 L84.0,249.1 L83.7,249.4 L83.4,249.5 L83.2,249.7 L82.8,249.9 L82.4,250.0 L81.9,250.1 L81.7,250.1Z M64.6,232.1 L64.1,232.1 L63.6,232.2 L63.1,232.1 L62.6,232.1 L62.4,232.0 L61.9,231.9 L61.6,231.7 L61.2,231.6 L60.9,231.3 L60.6,231.1 L60.4,230.9 L60.1,230.6 L59.9,230.3 L59.7,230.1 L59.6,229.8 L59.4,229.3 L59.3,229.1 L59.2,228.6 L59.1,228.0 L59.1,227.5 L59.2,227.0 L59.2,226.5 L59.4,226.1 L59.4,225.8 L59.6,225.4 L59.7,225.0 L59.9,224.8 L60.1,224.3 L60.3,224.0 L60.5,223.8 L60.6,223.5 L60.9,223.3 L61.1,223.0 L61.4,222.7 L61.6,222.4 L61.9,222.2 L62.1,221.9 L62.4,221.7 L62.6,221.5 L62.9,221.3 L63.3,221.0 L63.6,220.8 L63.9,220.6 L64.1,220.4 L64.4,220.2 L64.6,220.0 L65.0,219.8 L65.3,219.5 L65.6,219.3 L65.9,219.1 L66.1,218.9 L66.4,218.7 L66.7,218.5 L67.1,218.3 L67.4,218.2 L67.7,218.0 L68.1,217.8 L68.4,217.7 L68.9,217.5 L69.1,217.5 L69.6,217.3 L70.0,217.3 L70.4,217.2 L70.9,217.1 L71.4,217.1 L71.9,217.1 L72.4,217.1 L72.9,217.2 L73.4,217.2 L73.7,217.3 L74.2,217.4 L74.4,217.5 L74.9,217.7 L75.2,217.9 L75.4,218.0 L75.8,218.3 L76.0,218.5 L76.2,218.8 L76.4,219.1 L76.5,219.5 L76.5,220.0 L76.4,220.4 L76.3,220.8 L76.1,221.0 L75.9,221.3 L75.7,221.6 L75.4,221.9 L75.2,222.2 L74.9,222.5 L74.7,222.7 L74.4,223.0 L74.2,223.3 L74.0,223.5 L73.8,223.8 L73.6,224.0 L73.4,224.4 L73.2,224.8 L73.1,225.0 L72.9,225.4 L72.7,225.8 L72.6,226.0 L72.4,226.3 L72.2,226.7 L71.9,227.0 L71.7,227.3 L71.6,227.5 L71.4,227.8 L71.1,228.0 L70.9,228.3 L70.6,228.6 L70.4,228.8 L70.1,229.1 L69.9,229.3 L69.6,229.6 L69.3,229.8 L69.0,230.1 L68.6,230.3 L68.4,230.5 L68.1,230.6 L67.9,230.8 L67.5,231.1 L67.1,231.2 L66.9,231.4 L66.4,231.6 L66.1,231.7 L65.7,231.8 L65.4,231.9 L64.9,232.0 L64.6,232.1Z M81.7,249.6 L81.2,249.7 L80.7,249.7 L80.2,249.7 L79.7,249.6 L79.4,249.6 L78.9,249.5 L78.6,249.4 L78.2,249.2 L77.9,249.1 L77.4,248.9 L77.2,248.7 L76.9,248.5 L76.7,248.4 L76.4,248.1 L76.1,247.9 L75.8,247.6 L75.6,247.4 L75.4,247.1 L75.2,246.7 L75.0,246.4 L74.9,246.1 L74.7,245.6 L74.7,245.3 L74.6,244.8 L74.7,244.6 L74.8,244.1 L74.9,243.8 L75.2,243.5 L75.4,243.3 L75.7,243.1 L76.0,242.8 L76.4,242.6 L76.7,242.5 L77.2,242.4 L77.5,242.3 L77.9,242.3 L78.4,242.2 L78.9,242.3 L79.4,242.3 L79.7,242.3 L80.2,242.4 L80.7,242.6 L80.9,242.7 L81.4,242.8 L81.7,243.0 L81.9,243.1 L82.3,243.3 L82.6,243.6 L82.9,243.8 L83.2,244.1 L83.4,244.3 L83.6,244.6 L83.7,244.8 L83.9,245.2 L84.1,245.6 L84.2,245.8 L84.3,246.4 L84.4,246.9 L84.3,247.4 L84.2,247.7 L84.0,248.1 L83.9,248.4 L83.6,248.6 L83.4,248.9 L83.0,249.1 L82.7,249.3 L82.4,249.4 L81.9,249.6 L81.7,249.6Z M64.4,231.6 L63.9,231.6 L63.4,231.6 L63.1,231.6 L62.6,231.5 L62.2,231.3 L61.9,231.2 L61.6,231.1 L61.2,230.8 L60.9,230.6 L60.6,230.3 L60.4,230.1 L60.3,229.8 L60.1,229.6 L59.9,229.1 L59.8,228.8 L59.7,228.3 L59.6,227.8 L59.6,227.3 L59.7,226.8 L59.8,226.3 L59.9,226.0 L60.0,225.5 L60.1,225.3 L60.3,224.8 L60.5,224.5 L60.6,224.3 L60.9,223.9 L61.1,223.5 L61.3,223.3 L61.5,223.0 L61.7,222.8 L62.0,222.5 L62.2,222.3 L62.5,222.0 L62.8,221.8 L63.1,221.5 L63.4,221.3 L63.6,221.2 L63.9,221.0 L64.1,220.8 L64.5,220.5 L64.8,220.3 L65.1,220.0 L65.4,219.8 L65.6,219.6 L65.9,219.4 L66.1,219.3 L66.5,219.0 L66.8,218.8 L67.1,218.6 L67.4,218.5 L67.7,218.3 L68.1,218.1 L68.4,218.0 L68.9,217.8 L69.1,217.7 L69.6,217.6 L70.0,217.5 L70.4,217.5 L70.9,217.4 L71.4,217.4 L71.9,217.4 L72.4,217.4 L72.9,217.5 L73.2,217.5 L73.7,217.6 L74.1,217.8 L74.4,217.9 L74.7,218.0 L75.1,218.3 L75.4,218.5 L75.6,218.8 L75.8,219.0 L75.9,219.3 L76.0,219.8 L76.0,220.3 L75.9,220.5 L75.7,221.0 L75.5,221.3 L75.3,221.5 L75.1,221.8 L74.9,222.0 L74.7,222.3 L74.4,222.5 L74.2,222.8 L73.9,223.1 L73.7,223.4 L73.4,223.7 L73.2,224.0 L73.0,224.3 L72.9,224.5 L72.7,225.0 L72.5,225.3 L72.4,225.5 L72.2,226.0 L72.0,226.3 L71.8,226.5 L71.6,226.8 L71.4,227.1 L71.2,227.5 L70.9,227.8 L70.6,228.0 L70.4,228.3 L70.2,228.6 L69.9,228.8 L69.6,229.0 L69.4,229.2 L69.1,229.5 L68.9,229.6 L68.6,229.8 L68.3,230.1 L67.9,230.3 L67.6,230.5 L67.4,230.6 L67.0,230.8 L66.6,231.0 L66.4,231.1 L65.9,231.3 L65.6,231.3 L65.1,231.5 L64.6,231.6 L64.4,231.6Z M81.2,249.1 L80.7,249.2 L80.2,249.2 L79.7,249.1 L79.4,249.1 L78.9,248.9 L78.7,248.9 L78.2,248.7 L77.9,248.5 L77.6,248.4 L77.2,248.1 L76.9,247.9 L76.7,247.7 L76.4,247.4 L76.2,247.1 L76.0,246.9 L75.8,246.6 L75.7,246.3 L75.5,245.8 L75.4,245.4 L75.4,245.1 L75.4,244.8 L75.6,244.3 L75.7,244.1 L75.9,243.8 L76.2,243.6 L76.5,243.3 L76.9,243.1 L77.2,243.1 L77.7,242.9 L78.1,242.8 L78.4,242.8 L78.9,242.8 L79.4,242.8 L79.7,242.9 L80.2,243.0 L80.5,243.1 L80.9,243.2 L81.2,243.4 L81.6,243.6 L81.9,243.8 L82.2,244.0 L82.4,244.2 L82.7,244.4 L82.9,244.7 L83.2,245.1 L83.3,245.3 L83.5,245.6 L83.6,246.1 L83.7,246.6 L83.6,247.1 L83.5,247.6 L83.4,247.9 L83.2,248.1 L82.9,248.4 L82.6,248.6 L82.2,248.8 L81.9,248.9 L81.4,249.1 L81.2,249.1Z M64.6,231.1 L64.1,231.1 L63.6,231.1 L63.4,231.0 L62.9,230.9 L62.4,230.8 L62.1,230.7 L61.9,230.5 L61.5,230.3 L61.2,230.1 L61.0,229.8 L60.8,229.6 L60.6,229.3 L60.4,228.8 L60.3,228.6 L60.2,228.0 L60.1,227.5 L60.1,227.0 L60.2,226.5 L60.3,226.0 L60.4,225.8 L60.5,225.3 L60.7,225.0 L60.9,224.6 L61.0,224.3 L61.2,224.0 L61.4,223.8 L61.6,223.5 L61.9,223.2 L62.1,222.9 L62.4,222.6 L62.6,222.4 L62.9,222.2 L63.1,222.0 L63.4,221.8 L63.7,221.5 L64.0,221.3 L64.3,221.0 L64.6,220.8 L64.9,220.6 L65.1,220.4 L65.4,220.2 L65.6,220.0 L65.9,219.8 L66.2,219.5 L66.6,219.3 L66.9,219.1 L67.1,218.9 L67.4,218.7 L67.8,218.5 L68.1,218.4 L68.4,218.3 L68.9,218.1 L69.1,218.0 L69.6,217.9 L70.1,217.8 L70.4,217.7 L70.9,217.7 L71.4,217.7 L71.9,217.7 L72.4,217.7 L72.8,217.8 L73.2,217.9 L73.7,218.0 L73.9,218.1 L74.3,218.3 L74.7,218.5 L74.9,218.7 L75.2,219.0 L75.4,219.3 L75.5,219.5 L75.5,220.0 L75.4,220.5 L75.3,220.8 L75.2,221.1 L74.9,221.5 L74.7,221.8 L74.5,222.0 L74.2,222.3 L74.0,222.5 L73.8,222.8 L73.5,223.0 L73.3,223.3 L73.1,223.5 L72.9,223.8 L72.7,224.2 L72.5,224.5 L72.3,224.8 L72.2,225.2 L72.0,225.5 L71.8,225.8 L71.7,226.1 L71.4,226.5 L71.2,226.8 L71.0,227.0 L70.8,227.3 L70.6,227.5 L70.4,227.8 L70.1,228.0 L69.9,228.3 L69.6,228.6 L69.3,228.8 L69.0,229.1 L68.7,229.3 L68.4,229.5 L68.1,229.7 L67.9,229.9 L67.6,230.1 L67.1,230.3 L66.9,230.4 L66.5,230.6 L66.1,230.7 L65.8,230.8 L65.4,230.9 L64.9,231.0 L64.6,231.1Z M81.4,248.4 L80.9,248.5 L80.4,248.5 L79.9,248.5 L79.4,248.4 L79.1,248.4 L78.7,248.2 L78.4,248.1 L77.9,247.9 L77.7,247.7 L77.4,247.5 L77.2,247.3 L76.9,247.0 L76.7,246.7 L76.5,246.4 L76.4,246.1 L76.3,245.6 L76.3,245.1 L76.4,244.6 L76.6,244.3 L76.8,244.1 L77.2,243.9 L77.4,243.7 L77.8,243.6 L78.2,243.5 L78.7,243.4 L79.2,243.4 L79.7,243.5 L80.1,243.6 L80.4,243.7 L80.8,243.8 L81.2,244.0 L81.4,244.2 L81.7,244.4 L81.9,244.6 L82.2,244.9 L82.4,245.2 L82.7,245.6 L82.8,245.8 L82.9,246.4 L82.8,246.9 L82.7,247.3 L82.5,247.6 L82.3,247.9 L82.0,248.1 L81.7,248.3 L81.4,248.4Z M64.6,230.6 L64.1,230.6 L63.7,230.6 L63.4,230.5 L62.9,230.4 L62.6,230.3 L62.2,230.1 L61.9,229.8 L61.6,229.6 L61.4,229.4 L61.1,229.1 L61.0,228.8 L60.9,228.5 L60.7,228.0 L60.6,227.5 L60.6,227.0 L60.7,226.5 L60.8,226.0 L60.9,225.7 L61.0,225.3 L61.1,225.0 L61.4,224.5 L61.5,224.3 L61.7,224.0 L61.9,223.7 L62.1,223.4 L62.4,223.1 L62.6,222.9 L62.9,222.6 L63.1,222.4 L63.4,222.2 L63.6,222.0 L63.9,221.8 L64.2,221.5 L64.5,221.3 L64.8,221.0 L65.1,220.8 L65.4,220.6 L65.6,220.4 L65.9,220.2 L66.1,219.9 L66.4,219.7 L66.7,219.5 L67.0,219.3 L67.4,219.0 L67.6,218.9 L67.9,218.8 L68.4,218.5 L68.6,218.4 L69.1,218.3 L69.4,218.2 L69.9,218.1 L70.4,218.0 L70.6,218.0 L71.2,218.0 L71.7,218.0 L72.2,218.0 L72.4,218.1 L72.9,218.2 L73.3,218.3 L73.7,218.4 L73.9,218.5 L74.3,218.8 L74.5,219.0 L74.7,219.3 L74.9,219.6 L75.0,220.0 L74.9,220.5 L74.9,220.8 L74.7,221.2 L74.4,221.5 L74.3,221.8 L74.0,222.0 L73.8,222.3 L73.6,222.5 L73.3,222.8 L73.1,223.0 L72.9,223.3 L72.7,223.6 L72.4,223.9 L72.2,224.3 L72.0,224.5 L71.9,224.8 L71.7,225.2 L71.5,225.5 L71.4,225.8 L71.2,226.1 L70.9,226.5 L70.7,226.8 L70.5,227.0 L70.3,227.3 L70.1,227.5 L69.8,227.8 L69.6,228.0 L69.3,228.3 L69.0,228.6 L68.7,228.8 L68.4,229.1 L68.1,229.2 L67.9,229.4 L67.6,229.6 L67.2,229.8 L66.9,229.9 L66.6,230.1 L66.1,230.2 L65.9,230.3 L65.4,230.5 L64.9,230.5 L64.6,230.6Z M80.9,247.4 L80.4,247.5 L79.9,247.6 L79.4,247.5 L78.9,247.4 L78.7,247.3 L78.4,247.1 L78.0,246.9 L77.8,246.6 L77.6,246.4 L77.4,245.9 L77.4,245.6 L77.4,245.2 L77.6,244.8 L77.9,244.6 L78.2,244.5 L78.6,244.3 L78.9,244.3 L79.4,244.3 L79.7,244.4 L80.2,244.5 L80.4,244.6 L80.8,244.8 L81.1,245.1 L81.3,245.3 L81.5,245.6 L81.6,246.1 L81.6,246.6 L81.4,246.9 L81.2,247.2 L80.9,247.4Z M64.6,230.1 L64.1,230.1 L63.9,230.0 L63.4,229.9 L63.0,229.8 L62.6,229.6 L62.4,229.5 L62.1,229.3 L61.9,229.0 L61.6,228.7 L61.4,228.3 L61.3,228.0 L61.2,227.5 L61.2,227.0 L61.2,226.5 L61.3,226.0 L61.4,225.6 L61.5,225.3 L61.6,225.0 L61.8,224.5 L62.0,224.3 L62.1,224.0 L62.4,223.7 L62.6,223.4 L62.9,223.1 L63.1,222.9 L63.4,222.6 L63.6,222.4 L63.9,222.2 L64.1,222.0 L64.4,221.8 L64.7,221.5 L65.0,221.3 L65.3,221.0 L65.6,220.8 L65.9,220.5 L66.1,220.3 L66.4,220.1 L66.6,219.9 L66.9,219.7 L67.1,219.5 L67.5,219.3 L67.9,219.1 L68.1,218.9 L68.5,218.8 L68.9,218.6 L69.3,218.5 L69.6,218.4 L70.1,218.3 L70.6,218.3 L71.2,218.3 L71.7,218.3 L72.2,218.4 L72.7,218.5 L72.9,218.6 L73.3,218.8 L73.7,219.0 L73.9,219.2 L74.2,219.4 L74.4,219.8 L74.4,220.0 L74.5,220.5 L74.4,220.8 L74.2,221.3 L74.0,221.5 L73.8,221.8 L73.6,222.0 L73.4,222.3 L73.2,222.5 L72.9,222.8 L72.7,223.1 L72.4,223.3 L72.2,223.6 L71.9,224.0 L71.7,224.3 L71.5,224.5 L71.4,224.8 L71.2,225.3 L71.0,225.5 L70.9,225.8 L70.6,226.1 L70.4,226.5 L70.1,226.8 L69.9,227.0 L69.7,227.3 L69.5,227.5 L69.2,227.8 L69.0,228.0 L68.7,228.3 L68.4,228.5 L68.1,228.7 L67.9,228.9 L67.6,229.1 L67.2,229.3 L66.9,229.5 L66.6,229.6 L66.1,229.8 L65.9,229.8 L65.4,230.0 L64.9,230.0 L64.6,230.1Z M65.6,229.4 L65.1,229.5 L64.6,229.5 L64.1,229.5 L63.6,229.4 L63.4,229.3 L62.9,229.1 L62.6,228.8 L62.4,228.6 L62.2,228.3 L62.0,228.0 L61.9,227.7 L61.8,227.3 L61.7,226.8 L61.8,226.3 L61.8,225.8 L61.9,225.5 L62.1,225.0 L62.2,224.8 L62.4,224.5 L62.6,224.1 L62.8,223.8 L63.0,223.5 L63.3,223.3 L63.5,223.0 L63.8,222.8 L64.1,222.5 L64.4,222.3 L64.6,222.1 L64.9,221.9 L65.1,221.6 L65.4,221.4 L65.6,221.2 L65.9,221.0 L66.1,220.7 L66.4,220.5 L66.6,220.3 L66.9,220.0 L67.3,219.8 L67.6,219.5 L67.9,219.4 L68.1,219.2 L68.6,219.0 L68.9,218.9 L69.4,218.8 L69.6,218.7 L70.1,218.7 L70.6,218.6 L71.2,218.6 L71.7,218.7 L72.0,218.8 L72.4,218.9 L72.7,219.0 L73.2,219.3 L73.4,219.5 L73.7,219.7 L73.8,220.0 L73.9,220.3 L73.9,220.8 L73.8,221.0 L73.7,221.4 L73.4,221.8 L73.2,222.0 L73.0,222.3 L72.7,222.5 L72.5,222.8 L72.2,223.0 L72.0,223.3 L71.7,223.5 L71.5,223.8 L71.3,224.0 L71.2,224.3 L70.9,224.8 L70.7,225.0 L70.6,225.3 L70.4,225.6 L70.1,226.0 L69.9,226.3 L69.7,226.5 L69.5,226.8 L69.3,227.0 L69.1,227.3 L68.8,227.5 L68.5,227.8 L68.2,228.0 L67.9,228.3 L67.6,228.5 L67.4,228.6 L67.1,228.8 L66.6,229.0 L66.4,229.1 L65.9,229.3 L65.6,229.4Z M65.9,228.6 L65.4,228.7 L64.9,228.8 L64.4,228.8 L63.9,228.7 L63.6,228.6 L63.2,228.3 L63.0,228.0 L62.8,227.8 L62.6,227.5 L62.5,227.0 L62.4,226.5 L62.4,226.0 L62.5,225.5 L62.6,225.3 L62.8,224.8 L62.9,224.5 L63.1,224.2 L63.4,223.9 L63.6,223.6 L63.9,223.3 L64.1,223.0 L64.4,222.8 L64.6,222.6 L64.9,222.4 L65.1,222.2 L65.4,221.9 L65.6,221.7 L65.9,221.5 L66.1,221.2 L66.4,221.0 L66.6,220.7 L66.9,220.5 L67.1,220.3 L67.4,220.0 L67.8,219.8 L68.1,219.6 L68.4,219.4 L68.8,219.3 L69.1,219.2 L69.6,219.0 L69.9,219.0 L70.4,219.0 L70.9,219.0 L71.2,219.0 L71.7,219.1 L72.0,219.3 L72.4,219.4 L72.7,219.6 L72.9,219.8 L73.2,220.0 L73.4,220.5 L73.4,221.0 L73.2,221.5 L73.0,221.8 L72.8,222.0 L72.5,222.3 L72.3,222.5 L72.0,222.8 L71.7,223.0 L71.5,223.3 L71.2,223.5 L71.0,223.8 L70.8,224.0 L70.6,224.3 L70.4,224.6 L70.1,225.0 L69.9,225.3 L69.8,225.5 L69.6,225.8 L69.4,226.0 L69.1,226.3 L68.9,226.6 L68.6,226.9 L68.4,227.1 L68.1,227.3 L67.9,227.5 L67.5,227.8 L67.1,228.0 L66.9,228.2 L66.6,228.3 L66.1,228.5 L65.9,228.6Z M65.9,227.6 L65.4,227.7 L64.9,227.8 L64.4,227.7 L64.1,227.5 L63.8,227.3 L63.6,227.0 L63.4,226.5 L63.3,226.3 L63.3,225.8 L63.4,225.5 L63.5,225.0 L63.6,224.7 L63.8,224.3 L64.0,224.0 L64.2,223.8 L64.4,223.5 L64.7,223.3 L64.9,223.0 L65.2,222.8 L65.5,222.5 L65.7,222.3 L66.0,222.0 L66.2,221.8 L66.4,221.5 L66.6,221.3 L66.9,221.0 L67.1,220.7 L67.4,220.5 L67.6,220.3 L68.0,220.0 L68.4,219.8 L68.6,219.7 L69.0,219.5 L69.4,219.4 L69.9,219.4 L70.4,219.3 L70.9,219.4 L71.4,219.5 L71.7,219.6 L72.0,219.8 L72.4,220.0 L72.6,220.3 L72.8,220.5 L72.8,221.0 L72.7,221.5 L72.5,221.8 L72.3,222.0 L72.0,222.3 L71.7,222.5 L71.4,222.8 L71.2,223.0 L70.9,223.2 L70.6,223.4 L70.4,223.7 L70.1,223.9 L69.9,224.2 L69.6,224.5 L69.4,224.8 L69.2,225.0 L69.0,225.3 L68.8,225.5 L68.5,225.8 L68.3,226.0 L68.0,226.3 L67.7,226.5 L67.4,226.8 L67.1,226.9 L66.9,227.1 L66.6,227.3 L66.1,227.5 L65.9,227.6Z M66.6,225.1 L66.1,225.2 L65.6,225.2 L65.2,225.0 L65.1,224.8 L65.1,224.4 L65.3,224.0 L65.4,223.8 L65.6,223.5 L65.9,223.2 L66.1,222.9 L66.4,222.6 L66.6,222.3 L66.7,222.0 L66.9,221.8 L67.1,221.4 L67.4,221.1 L67.6,220.8 L67.9,220.5 L68.1,220.4 L68.4,220.2 L68.7,220.0 L69.1,219.9 L69.6,219.8 L69.9,219.7 L70.4,219.7 L70.6,219.8 L71.2,219.9 L71.4,220.0 L71.8,220.3 L72.1,220.5 L72.2,220.8 L72.2,221.3 L72.1,221.5 L71.9,221.8 L71.7,222.1 L71.4,222.3 L71.1,222.5 L70.7,222.8 L70.4,223.0 L70.1,223.2 L69.9,223.3 L69.5,223.5 L69.1,223.8 L68.9,224.0 L68.6,224.1 L68.4,224.3 L68.0,224.5 L67.6,224.7 L67.4,224.8 L66.9,225.0 L66.6,225.1Z M69.4,222.8 L68.9,222.9 L68.4,222.9 L68.0,222.8 L67.8,222.5 L67.7,222.0 L67.8,221.5 L67.9,221.3 L68.1,221.0 L68.4,220.7 L68.7,220.5 L69.1,220.3 L69.4,220.2 L69.9,220.2 L70.4,220.2 L70.7,220.3 L71.2,220.5 L71.4,220.7 L71.5,221.0 L71.4,221.5 L71.3,221.8 L71.0,222.0 L70.6,222.3 L70.4,222.4 L70.1,222.5 L69.6,222.7 L69.4,222.8Z" fill="none" stroke="#000" stroke-width="0.5" clip-path="url(#cC1)"/>
<g fill="#444" opacity="0.6" clip-path="url(#cC1)"><circle cx="62.5" cy="247.1" r="0.35"/><circle cx="83.8" cy="221.1" r="0.35"/><circle cx="81.6" cy="243.9" r="0.35"/><circle cx="53.8" cy="253.0" r="0.35"/><circle cx="57.2" cy="246.1" r="0.35"/><circle cx="53.6" cy="243.4" r="0.35"/><circle cx="71.1" cy="252.3" r="0.35"/><circle cx="61.1" cy="242.1" r="0.35"/><circle cx="74.0" cy="244.4" r="0.35"/><circle cx="32.4" cy="238.4" r="0.35"/><circle cx="87.1" cy="248.2" r="0.35"/><circle cx="60.5" cy="227.8" r="0.35"/><circle cx="72.9" cy="250.3" r="0.35"/><circle cx="59.8" cy="233.4" r="0.35"/><circle cx="55.9" cy="225.8" r="0.35"/><circle cx="69.4" cy="244.7" r="0.35"/><circle cx="75.2" cy="262.0" r="0.35"/><circle cx="58.8" cy="252.5" r="0.35"/><circle cx="59.6" cy="233.3" r="0.35"/><circle cx="73.0" cy="249.1" r="0.35"/><circle cx="48.1" cy="234.1" r="0.35"/><circle cx="37.8" cy="238.4" r="0.35"/><circle cx="68.3" cy="241.2" r="0.35"/><circle cx="51.3" cy="209.9" r="0.35"/><circle cx="31.3" cy="242.5" r="0.35"/><circle cx="49.0" cy="226.6" r="0.35"/><circle cx="54.5" cy="230.9" r="0.35"/><circle cx="42.9" cy="220.8" r="0.35"/><circle cx="38.1" cy="220.3" r="0.35"/><circle cx="62.6" cy="227.7" r="0.35"/><circle cx="76.4" cy="250.7" r="0.35"/><circle cx="58.3" cy="261.7" r="0.35"/><circle cx="50.1" cy="239.7" r="0.35"/><circle cx="68.2" cy="254.2" r="0.35"/><circle cx="73.5" cy="236.6" r="0.35"/><circle cx="57.2" cy="215.1" r="0.35"/><circle cx="70.7" cy="241.9" r="0.35"/><circle cx="78.7" cy="245.8" r="0.35"/><circle cx="58.7" cy="234.4" r="0.35"/><circle cx="49.0" cy="243.9" r="0.35"/><circle cx="67.6" cy="247.4" r="0.35"/><circle cx="66.0" cy="228.8" r="0.35"/><circle cx="79.6" cy="220.8" r="0.35"/><circle cx="41.4" cy="237.1" r="0.35"/><circle cx="51.4" cy="237.3" r="0.35"/><circle cx="48.6" cy="235.4" r="0.35"/><circle cx="34.3" cy="252.8" r="0.35"/><circle cx="64.0" cy="262.4" r="0.35"/><circle cx="70.4" cy="234.6" r="0.35"/><circle cx="50.2" cy="249.1" r="0.35"/><circle cx="84.2" cy="252.2" r="0.35"/><circle cx="75.2" cy="249.3" r="0.35"/><circle cx="72.0" cy="253.6" r="0.35"/><circle cx="68.4" cy="234.9" r="0.35"/><circle cx="77.3" cy="249.6" r="0.35"/><circle cx="40.7" cy="266.3" r="0.35"/><circle cx="71.8" cy="250.4" r="0.35"/><circle cx="71.6" cy="231.9" r="0.35"/><circle cx="33.7" cy="247.9" r="0.35"/><circle cx="67.6" cy="256.4" r="0.35"/><circle cx="58.0" cy="244.8" r="0.35"/><circle cx="74.5" cy="232.7" r="0.35"/><circle cx="55.0" cy="260.1" r="0.35"/><circle cx="61.7" cy="223.8" r="0.35"/><circle cx="67.5" cy="246.5" r="0.35"/><circle cx="48.0" cy="239.8" r="0.35"/><circle cx="71.6" cy="224.5" r="0.35"/><circle cx="60.3" cy="255.9" r="0.35"/><circle cx="69.9" cy="244.5" r="0.35"/><circle cx="53.7" cy="224.8" r="0.35"/><circle cx="79.4" cy="247.8" r="0.35"/><circle cx="71.7" cy="234.4" r="0.35"/><circle cx="59.2" cy="215.3" r="0.35"/><circle cx="72.1" cy="231.0" r="0.35"/><circle cx="82.2" cy="243.4" r="0.35"/><circle cx="90.7" cy="248.3" r="0.35"/><circle cx="36.8" cy="242.2" r="0.35"/><circle cx="76.1" cy="240.6" r="0.35"/><circle cx="69.4" cy="246.1" r="0.35"/><circle cx="60.5" cy="237.3" r="0.35"/><circle cx="45.9" cy="255.3" r="0.35"/><circle cx="82.1" cy="241.9" r="0.35"/><circle cx="41.8" cy="243.8" r="0.35"/><circle cx="71.1" cy="247.0" r="0.35"/><circle cx="82.8" cy="226.3" r="0.35"/><circle cx="36.4" cy="230.8" r="0.35"/><circle cx="57.2" cy="259.9" r="0.35"/><circle cx="41.1" cy="244.4" r="0.35"/><circle cx="65.9" cy="236.3" r="0.35"/><circle cx="86.2" cy="244.4" r="0.35"/><circle cx="94.4" cy="233.7" r="0.35"/><circle cx="33.6" cy="243.6" r="0.35"/><circle cx="52.8" cy="231.3" r="0.35"/><circle cx="73.3" cy="243.6" r="0.35"/><circle cx="87.3" cy="219.5" r="0.35"/><circle cx="68.7" cy="257.3" r="0.35"/><circle cx="50.1" cy="233.3" r="0.35"/><circle cx="66.8" cy="219.4" r="0.35"/><circle cx="61.7" cy="237.1" r="0.35"/><circle cx="58.7" cy="235.2" r="0.35"/><circle cx="50.2" cy="242.0" r="0.35"/><circle cx="68.2" cy="225.1" r="0.35"/><circle cx="66.9" cy="245.2" r="0.35"/><circle cx="60.5" cy="287.1" r="0.35"/><circle cx="58.5" cy="223.4" r="0.35"/><circle cx="41.4" cy="244.4" r="0.35"/><circle cx="54.2" cy="236.0" r="0.35"/><circle cx="81.3" cy="242.5" r="0.35"/><circle cx="59.0" cy="216.4" r="0.35"/><circle cx="39.0" cy="225.0" r="0.35"/><circle cx="83.4" cy="246.0" r="0.35"/><circle cx="70.5" cy="239.5" r="0.35"/><circle cx="95.7" cy="261.3" r="0.35"/><circle cx="63.0" cy="230.8" r="0.35"/><circle cx="54.6" cy="242.3" r="0.35"/><circle cx="38.8" cy="277.9" r="0.35"/><circle cx="83.2" cy="230.0" r="0.35"/><circle cx="103.1" cy="228.3" r="0.35"/><circle cx="48.9" cy="239.5" r="0.35"/><circle cx="51.6" cy="239.4" r="0.35"/><circle cx="71.5" cy="251.0" r="0.35"/><circle cx="48.7" cy="241.7" r="0.35"/><circle cx="57.7" cy="230.2" r="0.35"/><circle cx="56.4" cy="242.7" r="0.35"/><circle cx="65.1" cy="274.3" r="0.35"/><circle cx="79.5" cy="256.5" r="0.35"/><circle cx="62.4" cy="203.8" r="0.35"/><circle cx="76.7" cy="238.2" r="0.35"/><circle cx="55.3" cy="228.6" r="0.35"/><circle cx="67.2" cy="248.1" r="0.35"/><circle cx="27.8" cy="237.7" r="0.35"/><circle cx="38.8" cy="265.1" r="0.35"/><circle cx="74.7" cy="252.1" r="0.35"/><circle cx="52.6" cy="251.6" r="0.35"/><circle cx="71.3" cy="242.4" r="0.35"/><circle cx="70.7" cy="239.5" r="0.35"/><circle cx="83.2" cy="244.4" r="0.35"/><circle cx="75.0" cy="256.8" r="0.35"/><circle cx="78.3" cy="246.9" r="0.35"/><circle cx="60.2" cy="235.4" r="0.35"/><circle cx="50.8" cy="256.6" r="0.35"/><circle cx="50.3" cy="242.5" r="0.35"/><circle cx="54.2" cy="239.0" r="0.35"/><circle cx="43.9" cy="229.7" r="0.35"/><circle cx="53.2" cy="232.6" r="0.35"/><circle cx="60.5" cy="231.7" r="0.35"/><circle cx="66.0" cy="203.7" r="0.35"/><circle cx="56.6" cy="253.2" r="0.35"/><circle cx="31.2" cy="247.4" r="0.35"/><circle cx="60.8" cy="237.2" r="0.35"/><circle cx="65.6" cy="253.6" r="0.35"/><circle cx="79.4" cy="245.7" r="0.35"/><circle cx="71.2" cy="244.8" r="0.35"/><circle cx="51.7" cy="207.8" r="0.35"/><circle cx="50.4" cy="237.0" r="0.35"/><circle cx="94.2" cy="246.9" r="0.35"/><circle cx="74.1" cy="260.9" r="0.35"/><circle cx="91.3" cy="263.9" r="0.35"/><circle cx="96.1" cy="258.5" r="0.35"/><circle cx="48.9" cy="224.9" r="0.35"/><circle cx="68.2" cy="211.4" r="0.35"/><circle cx="69.3" cy="247.4" r="0.35"/><circle cx="71.0" cy="240.4" r="0.35"/><circle cx="70.7" cy="252.5" r="0.35"/><circle cx="65.2" cy="238.4" r="0.35"/><circle cx="64.8" cy="242.9" r="0.35"/><circle cx="38.0" cy="220.5" r="0.35"/><circle cx="59.4" cy="245.8" r="0.35"/><circle cx="50.0" cy="234.2" r="0.35"/><circle cx="64.0" cy="244.5" r="0.35"/><circle cx="54.5" cy="246.0" r="0.35"/><circle cx="71.9" cy="238.5" r="0.35"/><circle cx="75.1" cy="244.1" r="0.35"/><circle cx="66.9" cy="239.8" r="0.35"/><circle cx="67.1" cy="249.9" r="0.35"/><circle cx="63.5" cy="246.5" r="0.35"/><circle cx="54.8" cy="232.9" r="0.35"/><circle cx="59.4" cy="232.4" r="0.35"/><circle cx="54.1" cy="262.7" r="0.35"/><circle cx="68.2" cy="238.7" r="0.35"/><circle cx="62.2" cy="252.9" r="0.35"/><circle cx="71.3" cy="245.1" r="0.35"/><circle cx="40.7" cy="232.7" r="0.35"/><circle cx="76.2" cy="230.3" r="0.35"/><circle cx="49.8" cy="241.6" r="0.35"/><circle cx="50.3" cy="243.3" r="0.35"/><circle cx="58.8" cy="248.0" r="0.35"/><circle cx="53.0" cy="223.5" r="0.35"/><circle cx="66.7" cy="232.3" r="0.35"/><circle cx="52.8" cy="238.8" r="0.35"/><circle cx="44.9" cy="260.8" r="0.35"/><circle cx="48.5" cy="209.3" r="0.35"/><circle cx="83.0" cy="245.7" r="0.35"/><circle cx="62.7" cy="233.0" r="0.35"/><circle cx="43.3" cy="245.6" r="0.35"/><circle cx="62.1" cy="233.6" r="0.35"/><circle cx="37.1" cy="244.7" r="0.35"/><circle cx="90.6" cy="260.3" r="0.35"/><circle cx="37.6" cy="244.6" r="0.35"/><circle cx="69.7" cy="245.6" r="0.35"/></g>
<ellipse cx="29.5" cy="233" rx="1.4" ry="5" fill="none" stroke="#555" stroke-width="0.5"/>
<rect x="27.5" y="193.5" width="86.8" height="87.2" fill="none" stroke="#111" stroke-width="1.3"/>
<line x1="71.0" y1="193.5" x2="71.0" y2="280.7" stroke="#111" stroke-width="1.1"/>
<line x1="27.5" y1="237.7" x2="114.3" y2="237.7" stroke="#111" stroke-width="1.1"/>
<line x1="27.50" y1="280.7" x2="27.50" y2="283.5" stroke="#111" stroke-width="0.85"/>
<line x1="32.73" y1="280.7" x2="32.73" y2="282.4" stroke="#111" stroke-width="0.85"/>
<line x1="35.78" y1="280.7" x2="35.78" y2="282.4" stroke="#111" stroke-width="0.85"/>
<line x1="37.95" y1="280.7" x2="37.95" y2="282.4" stroke="#111" stroke-width="0.85"/>
<line x1="39.63" y1="280.7" x2="39.63" y2="282.4" stroke="#111" stroke-width="0.85"/>
<line x1="41.01" y1="280.7" x2="41.01" y2="282.4" stroke="#111" stroke-width="0.85"/>
<line x1="42.17" y1="280.7" x2="42.17" y2="282.4" stroke="#111" stroke-width="0.85"/>
<line x1="43.18" y1="280.7" x2="43.18" y2="282.4" stroke="#111" stroke-width="0.85"/>
<line x1="44.07" y1="280.7" x2="44.07" y2="282.4" stroke="#111" stroke-width="0.85"/>
<line x1="44.86" y1="280.7" x2="44.86" y2="283.5" stroke="#111" stroke-width="0.85"/>
<line x1="50.09" y1="280.7" x2="50.09" y2="282.4" stroke="#111" stroke-width="0.85"/>
<line x1="53.14" y1="280.7" x2="53.14" y2="282.4" stroke="#111" stroke-width="0.85"/>
<line x1="55.31" y1="280.7" x2="55.31" y2="282.4" stroke="#111" stroke-width="0.85"/>
<line x1="56.99" y1="280.7" x2="56.99" y2="282.4" stroke="#111" stroke-width="0.85"/>
<line x1="58.37" y1="280.7" x2="58.37" y2="282.4" stroke="#111" stroke-width="0.85"/>
<line x1="59.53" y1="280.7" x2="59.53" y2="282.4" stroke="#111" stroke-width="0.85"/>
<line x1="60.54" y1="280.7" x2="60.54" y2="282.4" stroke="#111" stroke-width="0.85"/>
<line x1="61.43" y1="280.7" x2="61.43" y2="282.4" stroke="#111" stroke-width="0.85"/>
<line x1="62.22" y1="280.7" x2="62.22" y2="283.5" stroke="#111" stroke-width="0.85"/>
<line x1="67.45" y1="280.7" x2="67.45" y2="282.4" stroke="#111" stroke-width="0.85"/>
<line x1="70.50" y1="280.7" x2="70.50" y2="282.4" stroke="#111" stroke-width="0.85"/>
<line x1="72.67" y1="280.7" x2="72.67" y2="282.4" stroke="#111" stroke-width="0.85"/>
<line x1="74.35" y1="280.7" x2="74.35" y2="282.4" stroke="#111" stroke-width="0.85"/>
<line x1="75.73" y1="280.7" x2="75.73" y2="282.4" stroke="#111" stroke-width="0.85"/>
<line x1="76.89" y1="280.7" x2="76.89" y2="282.4" stroke="#111" stroke-width="0.85"/>
<line x1="77.90" y1="280.7" x2="77.90" y2="282.4" stroke="#111" stroke-width="0.85"/>
<line x1="78.79" y1="280.7" x2="78.79" y2="282.4" stroke="#111" stroke-width="0.85"/>
<line x1="79.58" y1="280.7" x2="79.58" y2="283.5" stroke="#111" stroke-width="0.85"/>
<line x1="84.81" y1="280.7" x2="84.81" y2="282.4" stroke="#111" stroke-width="0.85"/>
<line x1="87.86" y1="280.7" x2="87.86" y2="282.4" stroke="#111" stroke-width="0.85"/>
<line x1="90.03" y1="280.7" x2="90.03" y2="282.4" stroke="#111" stroke-width="0.85"/>
<line x1="91.71" y1="280.7" x2="91.71" y2="282.4" stroke="#111" stroke-width="0.85"/>
<line x1="93.09" y1="280.7" x2="93.09" y2="282.4" stroke="#111" stroke-width="0.85"/>
<line x1="94.25" y1="280.7" x2="94.25" y2="282.4" stroke="#111" stroke-width="0.85"/>
<line x1="95.26" y1="280.7" x2="95.26" y2="282.4" stroke="#111" stroke-width="0.85"/>
<line x1="96.15" y1="280.7" x2="96.15" y2="282.4" stroke="#111" stroke-width="0.85"/>
<line x1="96.94" y1="280.7" x2="96.94" y2="283.5" stroke="#111" stroke-width="0.85"/>
<line x1="102.17" y1="280.7" x2="102.17" y2="282.4" stroke="#111" stroke-width="0.85"/>
<line x1="105.22" y1="280.7" x2="105.22" y2="282.4" stroke="#111" stroke-width="0.85"/>
<line x1="107.39" y1="280.7" x2="107.39" y2="282.4" stroke="#111" stroke-width="0.85"/>
<line x1="109.07" y1="280.7" x2="109.07" y2="282.4" stroke="#111" stroke-width="0.85"/>
<line x1="110.45" y1="280.7" x2="110.45" y2="282.4" stroke="#111" stroke-width="0.85"/>
<line x1="111.61" y1="280.7" x2="111.61" y2="282.4" stroke="#111" stroke-width="0.85"/>
<line x1="112.62" y1="280.7" x2="112.62" y2="282.4" stroke="#111" stroke-width="0.85"/>
<line x1="113.51" y1="280.7" x2="113.51" y2="282.4" stroke="#111" stroke-width="0.85"/>
<line x1="24.7" y1="280.70" x2="27.5" y2="280.70" stroke="#111" stroke-width="0.85"/>
<line x1="25.8" y1="275.45" x2="27.5" y2="275.45" stroke="#111" stroke-width="0.85"/>
<line x1="25.8" y1="272.38" x2="27.5" y2="272.38" stroke="#111" stroke-width="0.85"/>
<line x1="25.8" y1="270.20" x2="27.5" y2="270.20" stroke="#111" stroke-width="0.85"/>
<line x1="25.8" y1="268.51" x2="27.5" y2="268.51" stroke="#111" stroke-width="0.85"/>
<line x1="25.8" y1="267.13" x2="27.5" y2="267.13" stroke="#111" stroke-width="0.85"/>
<line x1="25.8" y1="265.96" x2="27.5" y2="265.96" stroke="#111" stroke-width="0.85"/>
<line x1="25.8" y1="264.95" x2="27.5" y2="264.95" stroke="#111" stroke-width="0.85"/>
<line x1="25.8" y1="264.06" x2="27.5" y2="264.06" stroke="#111" stroke-width="0.85"/>
<line x1="24.7" y1="263.26" x2="27.5" y2="263.26" stroke="#111" stroke-width="0.85"/>
<line x1="25.8" y1="258.01" x2="27.5" y2="258.01" stroke="#111" stroke-width="0.85"/>
<line x1="25.8" y1="254.94" x2="27.5" y2="254.94" stroke="#111" stroke-width="0.85"/>
<line x1="25.8" y1="252.76" x2="27.5" y2="252.76" stroke="#111" stroke-width="0.85"/>
<line x1="25.8" y1="251.07" x2="27.5" y2="251.07" stroke="#111" stroke-width="0.85"/>
<line x1="25.8" y1="249.69" x2="27.5" y2="249.69" stroke="#111" stroke-width="0.85"/>
<line x1="25.8" y1="248.52" x2="27.5" y2="248.52" stroke="#111" stroke-width="0.85"/>
<line x1="25.8" y1="247.51" x2="27.5" y2="247.51" stroke="#111" stroke-width="0.85"/>
<line x1="25.8" y1="246.62" x2="27.5" y2="246.62" stroke="#111" stroke-width="0.85"/>
<line x1="24.7" y1="245.82" x2="27.5" y2="245.82" stroke="#111" stroke-width="0.85"/>
<line x1="25.8" y1="240.57" x2="27.5" y2="240.57" stroke="#111" stroke-width="0.85"/>
<line x1="25.8" y1="237.50" x2="27.5" y2="237.50" stroke="#111" stroke-width="0.85"/>
<line x1="25.8" y1="235.32" x2="27.5" y2="235.32" stroke="#111" stroke-width="0.85"/>
<line x1="25.8" y1="233.63" x2="27.5" y2="233.63" stroke="#111" stroke-width="0.85"/>
<line x1="25.8" y1="232.25" x2="27.5" y2="232.25" stroke="#111" stroke-width="0.85"/>
<line x1="25.8" y1="231.08" x2="27.5" y2="231.08" stroke="#111" stroke-width="0.85"/>
<line x1="25.8" y1="230.07" x2="27.5" y2="230.07" stroke="#111" stroke-width="0.85"/>
<line x1="25.8" y1="229.18" x2="27.5" y2="229.18" stroke="#111" stroke-width="0.85"/>
<line x1="24.7" y1="228.38" x2="27.5" y2="228.38" stroke="#111" stroke-width="0.85"/>
<line x1="25.8" y1="223.13" x2="27.5" y2="223.13" stroke="#111" stroke-width="0.85"/>
<line x1="25.8" y1="220.06" x2="27.5" y2="220.06" stroke="#111" stroke-width="0.85"/>
<line x1="25.8" y1="217.88" x2="27.5" y2="217.88" stroke="#111" stroke-width="0.85"/>
<line x1="25.8" y1="216.19" x2="27.5" y2="216.19" stroke="#111" stroke-width="0.85"/>
<line x1="25.8" y1="214.81" x2="27.5" y2="214.81" stroke="#111" stroke-width="0.85"/>
<line x1="25.8" y1="213.64" x2="27.5" y2="213.64" stroke="#111" stroke-width="0.85"/>
<line x1="25.8" y1="212.63" x2="27.5" y2="212.63" stroke="#111" stroke-width="0.85"/>
<line x1="25.8" y1="211.74" x2="27.5" y2="211.74" stroke="#111" stroke-width="0.85"/>
<line x1="24.7" y1="210.94" x2="27.5" y2="210.94" stroke="#111" stroke-width="0.85"/>
<line x1="25.8" y1="205.69" x2="27.5" y2="205.69" stroke="#111" stroke-width="0.85"/>
<line x1="25.8" y1="202.62" x2="27.5" y2="202.62" stroke="#111" stroke-width="0.85"/>
<line x1="25.8" y1="200.44" x2="27.5" y2="200.44" stroke="#111" stroke-width="0.85"/>
<line x1="25.8" y1="198.75" x2="27.5" y2="198.75" stroke="#111" stroke-width="0.85"/>
<line x1="25.8" y1="197.37" x2="27.5" y2="197.37" stroke="#111" stroke-width="0.85"/>
<line x1="25.8" y1="196.20" x2="27.5" y2="196.20" stroke="#111" stroke-width="0.85"/>
<line x1="25.8" y1="195.19" x2="27.5" y2="195.19" stroke="#111" stroke-width="0.85"/>
<line x1="25.8" y1="194.30" x2="27.5" y2="194.30" stroke="#111" stroke-width="0.85"/>
<text x="30.7" y="202.6" font-size="8.7" fill="#1a1a1a" stroke="#1a1a1a" stroke-width="0.1" text-anchor="start" textLength="13.6" lengthAdjust="spacingAndGlyphs">40.7</text>
<text x="91.7" y="202.1" font-size="8.7" fill="#1a1a1a" stroke="#1a1a1a" stroke-width="0.1" text-anchor="start" textLength="14.3" lengthAdjust="spacingAndGlyphs">22.0</text>
<text x="86.9" y="211.7" font-size="8.7" fill="#bd1f48" stroke="#bd1f48" stroke-width="0.1" text-anchor="start" textLength="23.4" lengthAdjust="spacingAndGlyphs">ST-HSC</text>
<text x="87.9" y="266.4" font-size="8.7" fill="#1a1a1a" stroke="#1a1a1a" stroke-width="0.1" text-anchor="start" textLength="21.7" lengthAdjust="spacingAndGlyphs">LT-HSC</text>
<text x="92.1" y="275.7" font-size="8.7" fill="#1a1a1a" stroke="#1a1a1a" stroke-width="0.1" text-anchor="start" textLength="13.6" lengthAdjust="spacingAndGlyphs">23.0</text>
<text x="31.0" y="276.4" font-size="8.7" fill="#1a1a1a" stroke="#1a1a1a" stroke-width="0.1" text-anchor="start" textLength="13.3" lengthAdjust="spacingAndGlyphs">14.2</text>
<path d="M172.0,260.9 L171.5,260.9 L171.0,260.9 L170.5,260.9 L170.0,260.9 L169.5,260.9 L169.2,260.8 L168.7,260.8 L168.2,260.7 L168.0,260.6 L167.5,260.5 L167.1,260.3 L166.7,260.2 L166.4,260.1 L166.0,259.9 L165.7,259.8 L165.3,259.6 L165.0,259.4 L164.7,259.3 L164.5,259.1 L164.1,258.8 L163.7,258.6 L163.5,258.4 L163.2,258.2 L163.0,258.0 L162.7,257.8 L162.5,257.6 L162.2,257.3 L162.0,257.1 L161.7,256.8 L161.5,256.6 L161.2,256.3 L160.9,256.0 L160.7,255.7 L160.4,255.4 L160.2,255.1 L160.0,254.8 L159.8,254.6 L159.6,254.3 L159.4,254.1 L159.2,253.8 L158.9,253.6 L158.7,253.3 L158.4,253.0 L158.2,252.8 L157.9,252.6 L157.6,252.3 L157.2,252.1 L156.9,251.9 L156.7,251.7 L156.3,251.5 L155.9,251.4 L155.7,251.3 L155.2,251.1 L154.8,251.0 L154.4,251.0 L153.9,250.9 L153.4,250.8 L153.0,250.8 L152.7,250.8 L152.2,250.7 L151.7,250.7 L151.2,250.7 L150.7,250.7 L150.1,250.6 L149.6,250.6 L149.3,250.5 L148.9,250.5 L148.4,250.4 L147.9,250.3 L147.6,250.2 L147.1,250.1 L146.9,250.0 L146.4,249.8 L146.1,249.7 L145.8,249.5 L145.4,249.3 L145.1,249.1 L144.9,248.9 L144.6,248.7 L144.4,248.4 L144.1,248.1 L143.9,247.8 L143.8,247.5 L143.6,247.1 L143.5,246.8 L143.5,246.3 L143.6,245.8 L143.6,245.5 L143.8,245.0 L143.9,244.8 L144.1,244.5 L144.4,244.1 L144.6,243.8 L144.9,243.6 L145.1,243.3 L145.4,243.1 L145.6,242.9 L145.9,242.7 L146.1,242.5 L146.5,242.3 L146.8,242.0 L147.1,241.7 L147.4,241.5 L147.6,241.2 L147.8,241.0 L148.0,240.7 L148.1,240.3 L148.2,240.0 L148.2,239.5 L148.1,239.0 L148.1,238.7 L148.0,238.2 L147.9,237.9 L147.8,237.5 L147.6,237.0 L147.6,236.7 L147.5,236.2 L147.4,235.7 L147.4,235.5 L147.3,235.0 L147.3,234.5 L147.4,234.0 L147.4,233.7 L147.5,233.2 L147.6,232.7 L147.7,232.5 L147.9,231.9 L148.0,231.7 L148.1,231.4 L148.4,230.9 L148.5,230.7 L148.7,230.4 L148.9,230.2 L149.1,229.9 L149.4,229.6 L149.6,229.3 L149.9,229.0 L150.1,228.8 L150.4,228.6 L150.7,228.4 L150.9,228.2 L151.2,227.9 L151.6,227.7 L151.9,227.4 L152.2,227.3 L152.4,227.1 L152.8,226.9 L153.2,226.7 L153.4,226.6 L153.7,226.4 L154.2,226.2 L154.4,226.1 L154.8,225.9 L155.2,225.8 L155.5,225.7 L155.9,225.5 L156.2,225.4 L156.7,225.3 L157.0,225.2 L157.4,225.0 L157.9,224.9 L158.2,224.8 L158.7,224.7 L159.0,224.7 L159.4,224.6 L159.9,224.5 L160.4,224.4 L160.7,224.4 L161.2,224.3 L161.7,224.2 L162.2,224.2 L162.5,224.1 L163.0,224.1 L163.5,224.1 L164.0,224.0 L164.5,224.0 L165.0,224.0 L165.5,224.0 L166.0,223.9 L166.5,223.9 L167.0,223.9 L167.5,223.9 L168.0,223.9 L168.5,223.9 L169.0,223.9 L169.5,223.9 L170.0,223.9 L170.5,223.9 L171.0,223.9 L171.5,223.9 L172.0,223.9 L172.5,223.9 L173.0,223.9 L173.5,223.9 L174.0,223.9 L174.5,223.9 L175.0,223.9 L175.5,223.9 L176.0,224.0 L176.5,224.0 L177.0,224.0 L177.5,224.0 L178.0,224.0 L178.5,224.1 L179.0,224.1 L179.5,224.1 L179.9,224.2 L180.3,224.2 L180.8,224.2 L181.3,224.3 L181.8,224.4 L182.0,224.4 L182.5,224.5 L183.0,224.6 L183.4,224.7 L183.8,224.7 L184.3,224.9 L184.6,224.9 L185.1,225.1 L185.4,225.2 L185.8,225.3 L186.2,225.4 L186.6,225.5 L186.9,225.7 L187.3,225.8 L187.6,225.9 L188.0,226.2 L188.3,226.3 L188.6,226.4 L189.0,226.7 L189.3,226.9 L189.6,227.1 L189.8,227.2 L190.1,227.4 L190.4,227.7 L190.6,227.9 L190.9,228.2 L191.1,228.4 L191.3,228.7 L191.6,229.1 L191.8,229.4 L191.9,229.7 L192.0,230.2 L192.1,230.4 L192.2,230.9 L192.1,231.4 L192.1,231.8 L192.0,232.2 L191.8,232.6 L191.7,233.0 L191.5,233.2 L191.3,233.5 L191.1,233.9 L190.8,234.2 L190.6,234.4 L190.3,234.7 L190.1,234.9 L189.8,235.2 L189.6,235.4 L189.3,235.6 L189.1,235.8 L188.8,236.0 L188.5,236.2 L188.3,236.5 L188.3,237.0 L188.5,237.2 L188.8,237.5 L189.1,237.7 L189.3,237.8 L189.6,238.0 L189.9,238.2 L190.3,238.5 L190.6,238.6 L190.8,238.8 L191.1,239.0 L191.5,239.2 L191.8,239.4 L192.1,239.6 L192.3,239.8 L192.6,240.0 L192.9,240.2 L193.3,240.5 L193.6,240.7 L193.8,241.0 L194.1,241.2 L194.4,241.4 L194.6,241.7 L194.9,241.9 L195.1,242.2 L195.4,242.5 L195.6,242.7 L195.8,243.0 L196.0,243.3 L196.2,243.5 L196.4,243.8 L196.6,244.1 L196.9,244.4 L197.1,244.8 L197.2,245.0 L197.4,245.3 L197.6,245.8 L197.7,246.0 L197.9,246.4 L198.0,246.8 L198.1,247.2 L198.2,247.5 L198.3,248.0 L198.4,248.3 L198.5,248.8 L198.5,249.3 L198.5,249.8 L198.5,250.3 L198.5,250.8 L198.4,251.3 L198.4,251.7 L198.3,252.1 L198.1,252.6 L198.1,252.8 L197.9,253.3 L197.8,253.6 L197.6,253.8 L197.4,254.3 L197.2,254.6 L197.0,254.8 L196.9,255.1 L196.6,255.4 L196.4,255.7 L196.1,256.0 L195.9,256.2 L195.6,256.5 L195.4,256.7 L195.1,256.9 L194.9,257.1 L194.6,257.3 L194.2,257.6 L193.8,257.8 L193.6,258.0 L193.3,258.1 L192.9,258.3 L192.6,258.5 L192.3,258.6 L191.8,258.8 L191.6,258.9 L191.1,259.1 L190.8,259.2 L190.3,259.3 L190.1,259.4 L189.6,259.5 L189.2,259.6 L188.8,259.7 L188.3,259.8 L187.8,259.8 L187.6,259.9 L187.1,259.9 L186.6,259.9 L186.1,260.0 L185.6,260.0 L185.1,260.0 L184.6,260.0 L184.1,259.9 L183.6,259.9 L183.0,259.9 L182.8,259.8 L182.3,259.8 L181.8,259.7 L181.3,259.6 L181.0,259.6 L180.5,259.5 L180.0,259.5 L179.5,259.4 L179.3,259.3 L178.8,259.3 L178.3,259.2 L177.8,259.2 L177.3,259.3 L177.0,259.3 L176.5,259.5 L176.3,259.6 L175.8,259.8 L175.5,259.9 L175.1,260.1 L174.8,260.2 L174.4,260.3 L174.0,260.5 L173.5,260.6 L173.3,260.6 L172.8,260.7 L172.2,260.8 L172.0,260.9Z M187.8,259.4 L187.3,259.4 L186.8,259.5 L186.3,259.5 L185.8,259.5 L185.3,259.5 L184.8,259.5 L184.3,259.5 L183.8,259.5 L183.3,259.4 L182.8,259.4 L182.5,259.3 L182.0,259.3 L181.5,259.2 L181.0,259.1 L180.8,259.1 L180.3,259.0 L179.8,258.8 L179.5,258.8 L179.0,258.7 L178.7,258.6 L178.3,258.5 L177.8,258.4 L177.5,258.3 L177.0,258.2 L176.5,258.2 L176.0,258.1 L175.5,258.2 L175.0,258.2 L174.6,258.3 L174.3,258.5 L173.9,258.6 L173.5,258.7 L173.1,258.8 L172.8,258.9 L172.2,259.0 L171.7,259.1 L171.5,259.1 L171.0,259.1 L170.5,259.1 L170.0,259.1 L169.6,259.1 L169.2,259.0 L168.7,258.9 L168.3,258.8 L168.0,258.8 L167.5,258.6 L167.2,258.5 L166.8,258.3 L166.5,258.2 L166.2,258.0 L165.9,257.8 L165.5,257.6 L165.2,257.4 L165.0,257.2 L164.7,257.1 L164.4,256.8 L164.1,256.6 L163.9,256.3 L163.6,256.1 L163.4,255.8 L163.2,255.6 L162.9,255.3 L162.7,255.0 L162.5,254.7 L162.2,254.3 L162.0,254.1 L161.8,253.8 L161.7,253.6 L161.5,253.2 L161.2,252.8 L161.1,252.6 L160.9,252.3 L160.7,252.0 L160.4,251.6 L160.2,251.3 L160.0,251.0 L159.8,250.8 L159.6,250.5 L159.3,250.3 L159.0,250.0 L158.7,249.8 L158.4,249.6 L158.2,249.5 L157.7,249.3 L157.4,249.2 L157.0,249.0 L156.7,248.9 L156.2,248.8 L155.9,248.8 L155.4,248.7 L154.9,248.7 L154.4,248.6 L153.9,248.6 L153.4,248.6 L152.9,248.7 L152.4,248.7 L151.9,248.7 L151.4,248.8 L150.9,248.8 L150.7,248.8 L150.4,248.8 L149.9,248.8 L149.4,248.7 L148.9,248.6 L148.4,248.5 L148.1,248.5 L147.7,248.3 L147.4,248.1 L147.1,248.0 L146.9,247.8 L146.6,247.5 L146.4,247.2 L146.2,246.8 L146.1,246.5 L146.1,246.0 L146.2,245.8 L146.4,245.4 L146.6,245.0 L146.8,244.8 L147.1,244.5 L147.4,244.3 L147.6,244.1 L147.9,244.0 L148.3,243.8 L148.6,243.6 L148.9,243.4 L149.2,243.3 L149.6,243.0 L149.9,242.9 L150.1,242.8 L150.5,242.5 L150.8,242.3 L151.0,242.0 L151.2,241.7 L151.4,241.2 L151.4,241.0 L151.4,240.5 L151.4,240.2 L151.3,239.7 L151.2,239.4 L151.0,239.0 L150.9,238.7 L150.7,238.2 L150.6,238.0 L150.4,237.6 L150.2,237.2 L150.1,236.9 L150.0,236.5 L149.9,236.1 L149.8,235.7 L149.7,235.2 L149.7,234.7 L149.7,234.2 L149.8,233.7 L149.8,233.2 L149.9,233.0 L150.1,232.5 L150.2,232.2 L150.4,231.7 L150.5,231.4 L150.7,231.2 L150.9,230.9 L151.2,230.5 L151.4,230.2 L151.7,230.0 L151.9,229.7 L152.2,229.5 L152.4,229.2 L152.7,229.0 L152.9,228.8 L153.2,228.7 L153.5,228.4 L153.9,228.2 L154.2,228.0 L154.4,227.9 L154.8,227.7 L155.2,227.5 L155.4,227.4 L155.8,227.2 L156.2,227.0 L156.4,226.9 L156.9,226.7 L157.2,226.6 L157.7,226.5 L157.9,226.4 L158.4,226.3 L158.8,226.2 L159.2,226.1 L159.7,226.0 L159.9,225.9 L160.4,225.8 L160.9,225.7 L161.2,225.7 L161.7,225.6 L162.2,225.5 L162.7,225.5 L163.2,225.4 L163.5,225.4 L164.0,225.4 L164.5,225.3 L165.0,225.3 L165.5,225.3 L166.0,225.3 L166.5,225.3 L167.0,225.2 L167.5,225.2 L168.0,225.2 L168.5,225.2 L169.0,225.2 L169.5,225.2 L170.0,225.2 L170.5,225.3 L171.0,225.3 L171.5,225.3 L172.0,225.3 L172.5,225.3 L173.0,225.3 L173.5,225.3 L174.0,225.3 L174.5,225.3 L175.0,225.3 L175.5,225.3 L176.0,225.3 L176.5,225.3 L177.0,225.4 L177.5,225.4 L177.9,225.4 L178.3,225.4 L178.8,225.5 L179.3,225.5 L179.8,225.6 L180.3,225.6 L180.5,225.7 L181.0,225.7 L181.5,225.8 L182.0,225.9 L182.3,226.0 L182.8,226.1 L183.1,226.2 L183.6,226.3 L184.0,226.4 L184.3,226.5 L184.8,226.7 L185.1,226.8 L185.4,226.9 L185.8,227.1 L186.1,227.2 L186.4,227.4 L186.8,227.6 L187.1,227.8 L187.3,228.0 L187.6,228.2 L187.9,228.4 L188.1,228.7 L188.4,228.9 L188.6,229.2 L188.8,229.6 L189.0,229.9 L189.1,230.2 L189.2,230.7 L189.3,231.2 L189.2,231.7 L189.1,232.1 L189.0,232.5 L188.8,232.7 L188.6,233.1 L188.3,233.4 L188.1,233.7 L187.8,234.0 L187.6,234.2 L187.3,234.4 L187.1,234.6 L186.8,234.8 L186.6,235.0 L186.2,235.2 L185.8,235.5 L185.6,235.7 L185.4,236.0 L185.5,236.5 L185.8,236.7 L186.1,236.9 L186.3,237.0 L186.7,237.2 L187.1,237.4 L187.3,237.5 L187.7,237.7 L188.1,237.9 L188.3,238.0 L188.8,238.2 L189.1,238.4 L189.3,238.5 L189.7,238.7 L190.1,238.9 L190.3,239.1 L190.6,239.2 L191.0,239.5 L191.3,239.7 L191.6,239.8 L191.8,240.0 L192.2,240.2 L192.5,240.5 L192.8,240.7 L193.1,240.9 L193.3,241.1 L193.6,241.4 L193.8,241.6 L194.1,241.8 L194.4,242.1 L194.6,242.3 L194.9,242.6 L195.1,242.9 L195.4,243.2 L195.6,243.5 L195.8,243.8 L196.0,244.0 L196.2,244.3 L196.4,244.6 L196.6,245.0 L196.8,245.3 L196.9,245.5 L197.1,246.0 L197.3,246.3 L197.4,246.6 L197.5,247.0 L197.6,247.3 L197.8,247.8 L197.9,248.3 L197.9,248.5 L198.0,249.0 L198.0,249.5 L198.0,250.0 L198.0,250.5 L197.9,251.0 L197.9,251.4 L197.8,251.8 L197.6,252.3 L197.6,252.6 L197.4,253.1 L197.3,253.3 L197.1,253.6 L196.9,254.1 L196.7,254.3 L196.6,254.6 L196.4,254.8 L196.1,255.2 L195.9,255.5 L195.6,255.7 L195.4,256.0 L195.1,256.2 L194.9,256.5 L194.6,256.7 L194.4,256.9 L194.0,257.1 L193.7,257.3 L193.3,257.5 L193.1,257.7 L192.8,257.8 L192.3,258.1 L192.1,258.2 L191.7,258.3 L191.3,258.5 L191.1,258.6 L190.6,258.8 L190.3,258.8 L189.8,259.0 L189.4,259.1 L189.1,259.2 L188.6,259.3 L188.1,259.3 L187.8,259.4Z M187.6,259.1 L187.1,259.2 L186.6,259.2 L186.1,259.2 L185.6,259.2 L185.1,259.2 L184.6,259.2 L184.1,259.2 L183.6,259.1 L183.0,259.1 L182.8,259.1 L182.3,259.0 L181.8,258.9 L181.4,258.8 L181.0,258.8 L180.5,258.7 L180.2,258.6 L179.8,258.5 L179.3,258.4 L179.0,258.3 L178.5,258.2 L178.2,258.1 L177.8,258.0 L177.3,257.8 L177.0,257.8 L176.5,257.6 L176.3,257.6 L175.8,257.4 L175.3,257.4 L175.0,257.3 L174.5,257.3 L174.0,257.3 L173.8,257.3 L173.3,257.5 L172.8,257.6 L172.5,257.6 L172.0,257.7 L171.5,257.8 L171.1,257.8 L170.7,257.8 L170.2,257.8 L170.0,257.8 L169.5,257.8 L169.0,257.7 L168.6,257.6 L168.2,257.5 L167.8,257.3 L167.5,257.2 L167.2,257.1 L166.7,256.8 L166.5,256.7 L166.2,256.5 L165.9,256.3 L165.6,256.1 L165.3,255.8 L165.0,255.6 L164.8,255.3 L164.5,255.1 L164.3,254.8 L164.1,254.6 L163.9,254.3 L163.7,254.0 L163.5,253.6 L163.3,253.3 L163.1,253.1 L163.0,252.8 L162.7,252.3 L162.6,252.1 L162.5,251.8 L162.2,251.3 L162.1,251.0 L162.0,250.7 L161.8,250.3 L161.7,250.0 L161.5,249.6 L161.2,249.3 L161.1,249.0 L160.9,248.8 L160.7,248.5 L160.4,248.2 L160.2,247.9 L159.9,247.7 L159.7,247.5 L159.3,247.3 L158.9,247.1 L158.7,247.0 L158.3,246.8 L157.9,246.6 L157.6,246.5 L157.2,246.4 L156.8,246.3 L156.4,246.2 L156.0,246.0 L155.7,245.9 L155.2,245.8 L154.9,245.7 L154.5,245.5 L154.2,245.3 L154.0,245.0 L154.0,244.5 L154.2,244.2 L154.3,243.8 L154.4,243.4 L154.5,243.0 L154.5,242.5 L154.5,242.0 L154.4,241.7 L154.2,241.2 L154.1,241.0 L153.9,240.5 L153.8,240.2 L153.6,240.0 L153.4,239.6 L153.2,239.2 L153.0,239.0 L152.9,238.7 L152.7,238.4 L152.4,238.0 L152.3,237.7 L152.2,237.5 L151.9,237.0 L151.8,236.7 L151.7,236.2 L151.6,236.0 L151.5,235.5 L151.4,235.2 L151.4,234.7 L151.4,234.2 L151.4,233.7 L151.4,233.5 L151.6,233.0 L151.7,232.7 L151.9,232.2 L152.0,231.9 L152.2,231.6 L152.4,231.2 L152.6,230.9 L152.8,230.7 L153.1,230.4 L153.3,230.2 L153.6,229.9 L153.9,229.7 L154.2,229.5 L154.4,229.3 L154.7,229.1 L154.9,228.9 L155.3,228.7 L155.7,228.5 L155.9,228.3 L156.3,228.2 L156.7,228.0 L156.9,227.9 L157.4,227.7 L157.7,227.6 L158.1,227.4 L158.4,227.3 L158.9,227.2 L159.2,227.1 L159.7,227.0 L159.9,226.9 L160.4,226.8 L160.9,226.7 L161.2,226.7 L161.7,226.6 L162.2,226.5 L162.7,226.4 L163.0,226.4 L163.5,226.4 L164.0,226.3 L164.5,226.3 L165.0,226.2 L165.5,226.2 L166.0,226.2 L166.5,226.2 L167.0,226.2 L167.5,226.2 L168.0,226.2 L168.5,226.2 L169.0,226.2 L169.5,226.2 L170.0,226.2 L170.5,226.2 L171.0,226.2 L171.5,226.2 L172.0,226.2 L172.5,226.3 L173.0,226.3 L173.5,226.3 L174.0,226.3 L174.5,226.3 L175.0,226.3 L175.5,226.3 L176.0,226.4 L176.5,226.4 L177.0,226.4 L177.3,226.4 L177.8,226.5 L178.3,226.5 L178.8,226.5 L179.3,226.6 L179.8,226.7 L180.0,226.7 L180.5,226.8 L181.0,226.9 L181.3,226.9 L181.8,227.1 L182.2,227.2 L182.5,227.3 L183.0,227.4 L183.3,227.5 L183.7,227.7 L184.1,227.8 L184.3,227.9 L184.8,228.2 L185.1,228.3 L185.3,228.5 L185.6,228.7 L185.9,228.9 L186.1,229.2 L186.4,229.4 L186.6,229.7 L186.8,230.2 L186.9,230.4 L187.0,230.9 L187.0,231.4 L186.9,231.9 L186.8,232.2 L186.6,232.6 L186.3,233.0 L186.1,233.2 L185.9,233.5 L185.6,233.7 L185.3,233.9 L185.1,234.1 L184.8,234.3 L184.6,234.5 L184.2,234.7 L183.8,235.0 L183.6,235.1 L183.3,235.3 L183.0,235.5 L182.8,235.9 L182.8,236.0 L183.0,236.3 L183.3,236.5 L183.8,236.7 L184.1,236.8 L184.6,237.0 L184.8,237.0 L185.3,237.2 L185.6,237.3 L186.0,237.5 L186.3,237.6 L186.7,237.7 L187.1,237.9 L187.3,238.0 L187.8,238.2 L188.1,238.3 L188.5,238.5 L188.8,238.6 L189.1,238.8 L189.5,239.0 L189.8,239.2 L190.1,239.3 L190.4,239.5 L190.8,239.7 L191.1,239.9 L191.3,240.1 L191.6,240.2 L192.0,240.5 L192.3,240.7 L192.6,240.9 L192.8,241.1 L193.1,241.3 L193.3,241.6 L193.6,241.8 L193.8,242.0 L194.1,242.3 L194.4,242.5 L194.6,242.8 L194.9,243.1 L195.1,243.4 L195.4,243.7 L195.6,244.0 L195.8,244.3 L195.9,244.5 L196.1,244.8 L196.4,245.2 L196.5,245.5 L196.6,245.8 L196.9,246.3 L197.0,246.5 L197.1,246.9 L197.2,247.3 L197.4,247.8 L197.4,248.0 L197.5,248.5 L197.6,249.0 L197.6,249.5 L197.6,249.8 L197.6,250.1 L197.6,250.5 L197.5,251.0 L197.4,251.5 L197.4,251.9 L197.2,252.3 L197.1,252.7 L197.0,253.1 L196.8,253.3 L196.6,253.8 L196.4,254.1 L196.3,254.3 L196.1,254.6 L195.9,254.9 L195.6,255.2 L195.4,255.5 L195.1,255.7 L194.9,256.0 L194.6,256.2 L194.4,256.4 L194.1,256.6 L193.8,256.8 L193.4,257.1 L193.1,257.3 L192.8,257.4 L192.6,257.6 L192.1,257.8 L191.8,257.9 L191.5,258.1 L191.1,258.2 L190.8,258.3 L190.3,258.5 L190.1,258.6 L189.6,258.7 L189.1,258.8 L188.8,258.9 L188.3,259.0 L187.8,259.1 L187.6,259.1Z M187.6,258.8 L187.1,258.9 L186.6,258.9 L186.1,259.0 L185.6,259.0 L185.1,259.0 L184.6,259.0 L184.1,258.9 L183.6,258.9 L183.0,258.8 L182.8,258.8 L182.3,258.8 L181.8,258.7 L181.4,258.6 L181.0,258.5 L180.5,258.4 L180.2,258.3 L179.8,258.2 L179.3,258.1 L179.0,258.0 L178.5,257.9 L178.3,257.8 L177.8,257.6 L177.5,257.6 L177.0,257.4 L176.8,257.3 L176.3,257.2 L176.0,257.1 L175.5,256.9 L175.1,256.8 L174.8,256.7 L174.3,256.6 L174.0,256.6 L173.5,256.5 L173.0,256.5 L172.5,256.6 L172.2,256.6 L171.7,256.7 L171.2,256.7 L170.7,256.7 L170.2,256.7 L169.7,256.7 L169.2,256.6 L169.0,256.5 L168.5,256.4 L168.2,256.3 L167.7,256.1 L167.5,256.0 L167.2,255.8 L166.8,255.6 L166.5,255.3 L166.2,255.1 L166.0,254.9 L165.7,254.7 L165.5,254.4 L165.2,254.1 L165.0,253.8 L164.8,253.6 L164.7,253.3 L164.5,253.0 L164.2,252.6 L164.1,252.3 L164.0,252.0 L163.8,251.5 L163.7,251.3 L163.5,250.8 L163.4,250.5 L163.3,250.0 L163.2,249.7 L163.1,249.3 L163.0,248.8 L163.0,248.5 L162.9,248.0 L162.8,247.5 L162.7,247.2 L162.6,246.8 L162.5,246.3 L162.5,246.0 L162.3,245.5 L162.2,245.3 L162.0,244.9 L161.7,244.6 L161.5,244.3 L161.2,244.2 L160.9,244.0 L160.5,243.8 L160.2,243.6 L159.9,243.4 L159.6,243.3 L159.2,243.0 L158.9,242.9 L158.7,242.7 L158.4,242.5 L158.1,242.3 L157.7,242.0 L157.4,241.7 L157.2,241.5 L156.9,241.3 L156.7,241.0 L156.4,240.8 L156.2,240.5 L155.9,240.3 L155.7,240.0 L155.4,239.7 L155.2,239.5 L155.0,239.2 L154.8,239.0 L154.6,238.7 L154.4,238.5 L154.2,238.2 L153.9,237.9 L153.7,237.5 L153.5,237.2 L153.4,237.0 L153.2,236.5 L153.0,236.2 L152.9,235.8 L152.8,235.5 L152.7,235.0 L152.7,234.5 L152.7,234.0 L152.8,233.5 L152.9,233.0 L153.0,232.7 L153.2,232.3 L153.4,231.9 L153.5,231.7 L153.7,231.4 L153.9,231.2 L154.2,230.9 L154.4,230.6 L154.7,230.4 L154.9,230.2 L155.2,229.9 L155.5,229.7 L155.9,229.4 L156.2,229.3 L156.4,229.1 L156.8,228.9 L157.2,228.7 L157.4,228.6 L157.9,228.4 L158.2,228.3 L158.5,228.2 L158.9,228.0 L159.3,227.9 L159.7,227.8 L160.2,227.7 L160.4,227.6 L160.9,227.5 L161.4,227.4 L161.7,227.4 L162.2,227.3 L162.7,227.2 L163.0,227.2 L163.5,227.1 L164.0,227.1 L164.5,227.0 L165.0,227.0 L165.5,227.0 L166.0,227.0 L166.5,227.0 L167.0,227.0 L167.5,227.0 L168.0,227.0 L168.5,227.0 L169.0,227.0 L169.5,227.0 L170.0,227.0 L170.5,227.0 L171.0,227.0 L171.5,227.1 L172.0,227.1 L172.5,227.1 L173.0,227.1 L173.5,227.1 L174.0,227.1 L174.5,227.2 L174.8,227.2 L175.3,227.2 L175.8,227.2 L176.3,227.3 L176.8,227.3 L177.3,227.3 L177.8,227.4 L178.2,227.4 L178.5,227.5 L179.0,227.5 L179.5,227.6 L179.8,227.7 L180.3,227.8 L180.8,227.9 L181.0,228.0 L181.5,228.1 L181.8,228.2 L182.3,228.4 L182.5,228.5 L183.0,228.7 L183.3,228.9 L183.6,229.0 L183.8,229.2 L184.1,229.4 L184.4,229.7 L184.6,229.9 L184.8,230.4 L184.9,230.7 L185.0,231.2 L184.9,231.7 L184.8,232.0 L184.6,232.5 L184.4,232.7 L184.2,233.0 L183.9,233.2 L183.6,233.5 L183.3,233.7 L183.0,233.9 L182.8,234.1 L182.5,234.2 L182.1,234.5 L181.8,234.7 L181.5,234.8 L181.3,235.0 L180.9,235.2 L180.5,235.5 L180.3,235.7 L180.2,236.0 L180.4,236.2 L180.8,236.4 L181.0,236.5 L181.5,236.6 L181.9,236.7 L182.3,236.8 L182.8,236.9 L183.0,237.0 L183.6,237.1 L184.0,237.2 L184.3,237.3 L184.8,237.4 L185.1,237.5 L185.6,237.7 L185.8,237.8 L186.3,237.9 L186.6,238.0 L187.1,238.2 L187.3,238.3 L187.8,238.5 L188.1,238.6 L188.4,238.7 L188.8,238.9 L189.1,239.1 L189.4,239.2 L189.8,239.4 L190.1,239.6 L190.3,239.7 L190.8,240.0 L191.1,240.2 L191.3,240.3 L191.6,240.5 L191.9,240.7 L192.2,241.0 L192.6,241.2 L192.8,241.5 L193.1,241.7 L193.3,241.9 L193.6,242.1 L193.8,242.4 L194.1,242.6 L194.4,242.9 L194.6,243.2 L194.9,243.5 L195.1,243.8 L195.3,244.0 L195.4,244.3 L195.6,244.5 L195.9,244.9 L196.1,245.3 L196.2,245.5 L196.4,245.8 L196.6,246.3 L196.7,246.5 L196.8,247.0 L196.9,247.3 L197.1,247.8 L197.1,248.0 L197.2,248.5 L197.3,249.0 L197.3,249.5 L197.3,250.0 L197.3,250.5 L197.2,251.0 L197.1,251.5 L197.1,251.8 L196.9,252.3 L196.8,252.6 L196.6,253.1 L196.5,253.3 L196.4,253.6 L196.1,254.0 L195.9,254.3 L195.7,254.6 L195.5,254.8 L195.3,255.1 L195.1,255.3 L194.8,255.6 L194.6,255.8 L194.3,256.1 L194.0,256.3 L193.7,256.6 L193.3,256.8 L193.1,257.0 L192.8,257.1 L192.5,257.3 L192.1,257.5 L191.8,257.6 L191.4,257.8 L191.1,258.0 L190.8,258.1 L190.3,258.2 L190.0,258.3 L189.6,258.5 L189.1,258.6 L188.8,258.6 L188.3,258.7 L187.8,258.8 L187.6,258.8Z M187.8,258.6 L187.3,258.7 L186.8,258.7 L186.3,258.8 L185.8,258.8 L185.3,258.8 L184.8,258.8 L184.3,258.8 L183.8,258.7 L183.3,258.7 L182.8,258.6 L182.5,258.6 L182.0,258.5 L181.5,258.4 L181.2,258.3 L180.8,258.3 L180.3,258.1 L180.0,258.1 L179.5,257.9 L179.2,257.8 L178.8,257.7 L178.4,257.6 L178.0,257.5 L177.6,257.3 L177.3,257.2 L176.9,257.1 L176.5,257.0 L176.2,256.8 L175.8,256.7 L175.5,256.6 L175.0,256.4 L174.7,256.3 L174.3,256.2 L174.0,256.1 L173.5,256.0 L173.0,255.8 L172.8,255.8 L172.2,255.7 L171.7,255.7 L171.2,255.7 L170.7,255.7 L170.2,255.7 L169.7,255.6 L169.4,255.6 L169.0,255.5 L168.5,255.3 L168.2,255.2 L168.0,255.1 L167.6,254.8 L167.2,254.6 L167.0,254.4 L166.7,254.2 L166.5,253.9 L166.2,253.6 L166.0,253.3 L165.8,253.1 L165.6,252.8 L165.5,252.6 L165.2,252.1 L165.1,251.8 L165.0,251.4 L164.8,251.0 L164.7,250.5 L164.7,250.3 L164.6,249.8 L164.5,249.3 L164.5,248.8 L164.6,248.3 L164.6,247.8 L164.7,247.3 L164.8,247.0 L164.9,246.5 L165.0,246.3 L165.2,245.8 L165.4,245.5 L165.5,245.3 L165.7,244.9 L165.9,244.5 L166.0,244.3 L166.2,243.8 L166.3,243.5 L166.2,243.3 L166.0,243.0 L165.6,242.8 L165.2,242.6 L164.9,242.5 L164.5,242.4 L164.0,242.3 L163.7,242.2 L163.2,242.1 L162.8,242.0 L162.5,241.9 L162.0,241.8 L161.7,241.7 L161.2,241.6 L160.8,241.5 L160.4,241.4 L160.1,241.2 L159.7,241.1 L159.4,241.0 L159.0,240.7 L158.7,240.6 L158.4,240.5 L158.1,240.2 L157.7,240.0 L157.4,239.8 L157.2,239.6 L156.9,239.4 L156.7,239.2 L156.4,239.0 L156.1,238.7 L155.9,238.5 L155.6,238.2 L155.4,238.0 L155.2,237.7 L154.9,237.3 L154.7,237.0 L154.5,236.7 L154.4,236.5 L154.2,236.0 L154.1,235.7 L153.9,235.2 L153.9,235.0 L153.9,234.5 L153.9,234.0 L153.9,233.6 L154.0,233.2 L154.2,232.8 L154.3,232.5 L154.4,232.2 L154.7,231.8 L154.9,231.5 L155.2,231.2 L155.4,230.9 L155.7,230.7 L155.9,230.5 L156.2,230.3 L156.4,230.1 L156.7,229.9 L157.1,229.7 L157.4,229.5 L157.7,229.4 L158.1,229.2 L158.4,229.0 L158.7,228.9 L159.2,228.7 L159.4,228.6 L159.9,228.5 L160.2,228.4 L160.7,228.3 L161.1,228.2 L161.5,228.1 L162.0,228.0 L162.5,227.9 L162.7,227.9 L163.2,227.8 L163.7,227.8 L164.2,227.7 L164.7,227.7 L165.1,227.7 L165.5,227.7 L166.0,227.6 L166.5,227.6 L167.0,227.6 L167.5,227.6 L168.0,227.6 L168.5,227.7 L169.0,227.7 L169.2,227.7 L169.7,227.7 L170.2,227.7 L170.7,227.7 L171.2,227.8 L171.7,227.8 L172.2,227.8 L172.8,227.9 L173.3,227.9 L173.8,227.9 L174.0,227.9 L174.5,228.0 L175.0,228.0 L175.5,228.0 L176.0,228.1 L176.5,228.1 L177.0,228.2 L177.3,228.2 L177.8,228.3 L178.3,228.4 L178.6,228.4 L179.0,228.5 L179.5,228.6 L179.8,228.7 L180.3,228.8 L180.5,228.9 L181.0,229.1 L181.3,229.3 L181.6,229.4 L182.0,229.7 L182.3,229.9 L182.5,230.2 L182.7,230.4 L182.9,230.7 L183.0,231.2 L182.9,231.7 L182.8,232.0 L182.5,232.4 L182.3,232.7 L182.1,233.0 L181.8,233.2 L181.5,233.4 L181.3,233.6 L181.0,233.7 L180.7,234.0 L180.3,234.2 L180.0,234.3 L179.8,234.5 L179.4,234.7 L179.0,234.9 L178.8,235.1 L178.5,235.2 L178.2,235.5 L177.9,235.7 L177.6,236.0 L177.4,236.2 L177.5,236.5 L178.0,236.7 L178.3,236.8 L178.8,236.8 L179.3,236.9 L179.8,236.9 L180.3,237.0 L180.5,237.0 L181.0,237.0 L181.5,237.1 L182.0,237.2 L182.4,237.2 L182.8,237.3 L183.3,237.4 L183.7,237.5 L184.1,237.5 L184.6,237.7 L184.8,237.7 L185.3,237.9 L185.7,238.0 L186.1,238.1 L186.5,238.2 L186.8,238.3 L187.2,238.5 L187.6,238.6 L187.8,238.7 L188.3,239.0 L188.6,239.1 L188.9,239.2 L189.3,239.4 L189.6,239.6 L189.9,239.7 L190.3,240.0 L190.6,240.1 L190.8,240.3 L191.2,240.5 L191.5,240.7 L191.8,241.0 L192.1,241.1 L192.3,241.3 L192.6,241.5 L192.8,241.8 L193.1,242.0 L193.4,242.3 L193.7,242.5 L193.9,242.8 L194.1,243.0 L194.4,243.3 L194.6,243.5 L194.9,243.9 L195.1,244.2 L195.3,244.5 L195.5,244.8 L195.6,245.0 L195.9,245.4 L196.1,245.8 L196.2,246.0 L196.4,246.4 L196.5,246.8 L196.6,247.1 L196.7,247.5 L196.9,248.0 L196.9,248.3 L197.0,248.8 L197.0,249.3 L197.0,249.8 L197.0,250.3 L197.0,250.8 L196.9,251.3 L196.8,251.5 L196.7,252.1 L196.6,252.3 L196.4,252.8 L196.3,253.1 L196.1,253.5 L195.9,253.8 L195.8,254.1 L195.6,254.3 L195.4,254.6 L195.1,254.9 L194.9,255.2 L194.6,255.5 L194.4,255.7 L194.1,255.9 L193.8,256.1 L193.6,256.3 L193.2,256.6 L192.8,256.8 L192.6,257.0 L192.3,257.1 L191.9,257.3 L191.6,257.5 L191.3,257.6 L190.8,257.8 L190.6,257.9 L190.1,258.1 L189.8,258.2 L189.3,258.3 L189.1,258.4 L188.6,258.5 L188.1,258.6 L187.8,258.6Z M185.6,258.6 L185.1,258.6 L184.8,258.6 L184.3,258.6 L183.8,258.5 L183.3,258.5 L182.8,258.4 L182.3,258.3 L182.0,258.3 L181.5,258.2 L181.0,258.1 L180.8,258.1 L180.3,257.9 L179.9,257.8 L179.5,257.7 L179.0,257.6 L178.8,257.5 L178.3,257.3 L178.0,257.3 L177.5,257.1 L177.3,257.0 L176.8,256.8 L176.5,256.7 L176.2,256.6 L175.8,256.4 L175.5,256.3 L175.0,256.1 L174.8,256.0 L174.3,255.8 L174.0,255.7 L173.6,255.6 L173.3,255.4 L172.9,255.3 L172.5,255.2 L172.1,255.1 L171.7,255.0 L171.2,254.9 L170.9,254.8 L170.5,254.8 L170.0,254.7 L169.5,254.6 L169.2,254.5 L168.8,254.3 L168.5,254.2 L168.2,254.0 L167.9,253.8 L167.6,253.6 L167.3,253.3 L167.1,253.1 L166.9,252.8 L166.7,252.6 L166.5,252.1 L166.3,251.8 L166.2,251.5 L166.0,251.0 L166.0,250.8 L165.9,250.3 L165.8,249.8 L165.8,249.3 L165.9,248.8 L166.0,248.4 L166.1,248.0 L166.2,247.6 L166.4,247.3 L166.5,247.0 L166.7,246.6 L166.9,246.3 L167.1,246.0 L167.3,245.8 L167.5,245.4 L167.7,245.0 L167.8,244.8 L168.0,244.5 L168.2,244.0 L168.4,243.8 L168.5,243.5 L168.7,243.1 L168.9,242.8 L169.0,242.5 L169.2,242.1 L169.4,241.7 L169.6,241.5 L169.7,241.1 L169.8,240.7 L169.7,240.5 L169.2,240.4 L168.7,240.5 L168.5,240.5 L168.0,240.6 L167.5,240.7 L167.2,240.8 L166.7,240.8 L166.2,240.9 L165.7,240.9 L165.2,240.9 L164.7,240.9 L164.2,240.9 L163.7,240.8 L163.2,240.7 L163.0,240.7 L162.5,240.6 L162.0,240.5 L161.7,240.5 L161.2,240.4 L160.8,240.2 L160.4,240.1 L160.1,240.0 L159.7,239.8 L159.4,239.7 L158.9,239.5 L158.7,239.4 L158.4,239.2 L158.1,239.0 L157.7,238.7 L157.4,238.5 L157.2,238.3 L156.9,238.1 L156.7,237.9 L156.4,237.6 L156.2,237.3 L155.9,237.0 L155.7,236.7 L155.6,236.5 L155.4,236.2 L155.2,235.7 L155.1,235.5 L155.0,235.0 L154.9,234.5 L154.9,234.2 L154.9,234.0 L155.0,233.5 L155.2,233.0 L155.3,232.7 L155.4,232.4 L155.7,232.0 L155.9,231.7 L156.1,231.4 L156.4,231.2 L156.7,230.9 L156.9,230.7 L157.2,230.5 L157.4,230.4 L157.7,230.2 L158.2,229.9 L158.4,229.8 L158.7,229.7 L159.2,229.5 L159.4,229.4 L159.9,229.2 L160.2,229.1 L160.7,229.0 L160.9,228.9 L161.5,228.8 L161.8,228.7 L162.2,228.6 L162.7,228.5 L163.2,228.5 L163.5,228.4 L164.0,228.4 L164.5,228.3 L165.0,228.3 L165.5,228.3 L166.0,228.3 L166.5,228.3 L167.0,228.3 L167.5,228.3 L168.0,228.3 L168.5,228.3 L169.0,228.3 L169.5,228.4 L170.0,228.4 L170.5,228.4 L170.7,228.4 L171.2,228.5 L171.7,228.5 L172.2,228.6 L172.8,228.6 L173.3,228.6 L173.7,228.7 L174.0,228.7 L174.5,228.8 L175.0,228.8 L175.5,228.9 L175.9,228.9 L176.3,229.0 L176.8,229.1 L177.3,229.2 L177.5,229.2 L178.0,229.3 L178.4,229.4 L178.8,229.6 L179.1,229.7 L179.5,229.9 L179.8,230.0 L180.0,230.2 L180.3,230.4 L180.5,230.7 L180.8,231.2 L180.8,231.7 L180.5,232.2 L180.3,232.5 L180.1,232.7 L179.9,233.0 L179.6,233.2 L179.3,233.4 L179.0,233.6 L178.8,233.8 L178.5,234.0 L178.1,234.2 L177.8,234.4 L177.5,234.6 L177.3,234.8 L177.0,235.0 L176.6,235.2 L176.3,235.4 L176.0,235.6 L175.8,235.8 L175.5,236.0 L175.3,236.2 L175.0,236.5 L174.7,236.7 L174.5,237.0 L174.4,237.5 L174.8,237.6 L175.3,237.6 L175.8,237.5 L176.3,237.5 L176.5,237.5 L177.0,237.4 L177.5,237.4 L178.0,237.3 L178.5,237.3 L179.0,237.3 L179.5,237.3 L180.0,237.3 L180.5,237.3 L181.0,237.4 L181.5,237.4 L182.0,237.4 L182.3,237.5 L182.8,237.5 L183.3,237.6 L183.8,237.7 L184.1,237.8 L184.6,237.9 L184.9,238.0 L185.3,238.1 L185.8,238.2 L186.1,238.3 L186.6,238.5 L186.8,238.6 L187.3,238.7 L187.6,238.8 L187.9,239.0 L188.3,239.2 L188.6,239.3 L189.0,239.5 L189.3,239.6 L189.6,239.8 L190.0,240.0 L190.3,240.2 L190.6,240.3 L190.8,240.5 L191.2,240.7 L191.6,241.0 L191.8,241.2 L192.1,241.4 L192.3,241.6 L192.6,241.8 L192.8,242.0 L193.1,242.3 L193.4,242.5 L193.6,242.8 L193.9,243.0 L194.1,243.3 L194.4,243.6 L194.6,243.9 L194.9,244.2 L195.1,244.5 L195.2,244.8 L195.4,245.0 L195.6,245.4 L195.8,245.8 L195.9,246.0 L196.1,246.4 L196.3,246.8 L196.4,247.1 L196.5,247.5 L196.6,248.0 L196.7,248.3 L196.7,248.8 L196.8,249.3 L196.8,249.8 L196.8,250.3 L196.7,250.8 L196.6,251.3 L196.6,251.5 L196.5,252.1 L196.4,252.3 L196.2,252.8 L196.1,253.1 L195.9,253.4 L195.6,253.8 L195.5,254.1 L195.3,254.3 L195.1,254.6 L194.9,254.9 L194.6,255.1 L194.4,255.4 L194.1,255.6 L193.8,255.8 L193.5,256.1 L193.2,256.3 L192.8,256.6 L192.6,256.7 L192.3,256.9 L192.0,257.1 L191.6,257.3 L191.3,257.4 L190.9,257.6 L190.6,257.7 L190.2,257.8 L189.8,257.9 L189.3,258.1 L189.1,258.2 L188.6,258.3 L188.2,258.3 L187.8,258.4 L187.3,258.5 L186.8,258.5 L186.3,258.6 L185.8,258.6 L185.6,258.6Z M166.7,239.7 L166.2,239.8 L165.7,239.9 L165.2,239.9 L164.7,239.9 L164.2,239.9 L163.7,239.8 L163.2,239.8 L162.8,239.7 L162.5,239.7 L162.0,239.6 L161.5,239.5 L161.2,239.4 L160.7,239.3 L160.4,239.2 L160.0,239.0 L159.7,238.9 L159.4,238.7 L159.0,238.5 L158.7,238.3 L158.4,238.2 L158.2,238.0 L157.9,237.7 L157.6,237.5 L157.3,237.2 L157.1,237.0 L156.9,236.7 L156.7,236.5 L156.4,236.1 L156.2,235.7 L156.1,235.5 L156.0,235.0 L155.9,234.5 L155.9,234.2 L155.9,234.0 L156.0,233.5 L156.2,233.0 L156.3,232.7 L156.5,232.5 L156.7,232.1 L156.9,231.8 L157.2,231.6 L157.4,231.3 L157.7,231.1 L157.9,230.9 L158.3,230.7 L158.7,230.4 L158.9,230.3 L159.2,230.2 L159.7,230.0 L159.9,229.9 L160.4,229.7 L160.7,229.6 L161.2,229.5 L161.5,229.4 L162.0,229.3 L162.4,229.2 L162.7,229.1 L163.2,229.0 L163.7,229.0 L164.2,228.9 L164.5,228.9 L165.0,228.9 L165.5,228.9 L166.0,228.8 L166.5,228.8 L167.0,228.9 L167.5,228.9 L168.0,228.9 L168.5,228.9 L168.7,228.9 L169.2,229.0 L169.7,229.0 L170.2,229.1 L170.7,229.1 L171.2,229.2 L171.5,229.2 L172.0,229.3 L172.5,229.3 L173.0,229.4 L173.3,229.4 L173.8,229.5 L174.3,229.6 L174.7,229.7 L175.0,229.7 L175.5,229.9 L175.8,229.9 L176.3,230.1 L176.7,230.2 L177.0,230.3 L177.3,230.5 L177.7,230.7 L178.0,230.9 L178.2,231.2 L178.3,231.4 L178.3,231.9 L178.2,232.2 L178.0,232.5 L177.8,232.8 L177.5,233.1 L177.3,233.3 L177.0,233.5 L176.8,233.7 L176.5,234.0 L176.2,234.2 L175.9,234.5 L175.5,234.7 L175.3,234.9 L175.0,235.1 L174.8,235.3 L174.5,235.5 L174.3,235.7 L174.0,236.0 L173.6,236.2 L173.3,236.5 L173.0,236.7 L172.8,236.9 L172.5,237.1 L172.2,237.3 L172.0,237.5 L171.7,237.7 L171.3,238.0 L171.0,238.2 L170.7,238.3 L170.4,238.5 L170.0,238.7 L169.7,238.8 L169.3,239.0 L169.0,239.1 L168.7,239.2 L168.2,239.4 L167.9,239.5 L167.5,239.6 L167.0,239.7 L166.7,239.7Z M186.8,258.3 L186.3,258.4 L185.8,258.4 L185.3,258.4 L184.8,258.4 L184.3,258.4 L183.8,258.4 L183.5,258.3 L183.0,258.3 L182.5,258.2 L182.0,258.1 L181.8,258.1 L181.3,258.0 L180.8,257.9 L180.5,257.8 L180.0,257.7 L179.6,257.6 L179.3,257.5 L178.8,257.3 L178.5,257.2 L178.1,257.1 L177.8,257.0 L177.4,256.8 L177.0,256.7 L176.7,256.6 L176.3,256.4 L176.0,256.3 L175.5,256.1 L175.3,256.0 L174.9,255.8 L174.5,255.6 L174.3,255.5 L173.8,255.3 L173.5,255.2 L173.3,255.1 L172.8,254.8 L172.5,254.7 L172.1,254.6 L171.7,254.4 L171.5,254.3 L171.0,254.1 L170.7,254.0 L170.3,253.8 L170.0,253.7 L169.7,253.6 L169.2,253.3 L169.0,253.2 L168.7,253.0 L168.4,252.8 L168.2,252.6 L167.9,252.3 L167.7,252.0 L167.5,251.6 L167.4,251.3 L167.2,250.9 L167.1,250.5 L167.1,250.0 L167.1,249.5 L167.1,249.0 L167.2,248.6 L167.3,248.3 L167.4,247.8 L167.5,247.5 L167.7,247.0 L167.8,246.8 L168.0,246.3 L168.1,246.0 L168.2,245.6 L168.4,245.3 L168.5,245.0 L168.7,244.5 L168.8,244.3 L169.0,244.0 L169.2,243.5 L169.3,243.3 L169.5,243.0 L169.7,242.6 L169.9,242.3 L170.1,242.0 L170.3,241.7 L170.5,241.4 L170.7,241.1 L171.0,240.8 L171.2,240.5 L171.5,240.3 L171.7,240.0 L172.0,239.8 L172.2,239.6 L172.5,239.5 L172.8,239.2 L173.3,239.0 L173.5,238.9 L173.8,238.7 L174.3,238.6 L174.5,238.5 L175.0,238.3 L175.3,238.2 L175.8,238.1 L176.2,238.0 L176.5,237.9 L177.0,237.8 L177.5,237.7 L177.8,237.7 L178.3,237.7 L178.8,237.6 L179.3,237.6 L179.8,237.6 L180.3,237.6 L180.8,237.6 L181.3,237.6 L181.8,237.7 L182.3,237.7 L182.5,237.7 L183.0,237.8 L183.6,237.9 L184.0,238.0 L184.3,238.0 L184.8,238.2 L185.1,238.2 L185.6,238.4 L186.0,238.5 L186.3,238.6 L186.8,238.7 L187.1,238.8 L187.4,239.0 L187.8,239.1 L188.1,239.2 L188.6,239.5 L188.8,239.6 L189.1,239.7 L189.6,240.0 L189.8,240.1 L190.1,240.3 L190.5,240.5 L190.8,240.7 L191.1,240.9 L191.3,241.1 L191.6,241.2 L191.9,241.5 L192.3,241.7 L192.6,242.0 L192.8,242.3 L193.1,242.5 L193.3,242.7 L193.6,243.0 L193.8,243.3 L194.1,243.5 L194.3,243.8 L194.5,244.0 L194.7,244.3 L194.9,244.5 L195.1,244.9 L195.3,245.3 L195.5,245.5 L195.6,245.8 L195.8,246.3 L195.9,246.5 L196.1,247.0 L196.2,247.3 L196.3,247.8 L196.4,248.0 L196.5,248.5 L196.6,249.0 L196.6,249.5 L196.6,250.0 L196.5,250.5 L196.5,251.0 L196.4,251.5 L196.3,251.8 L196.1,252.3 L196.0,252.6 L195.9,252.9 L195.7,253.3 L195.5,253.6 L195.4,253.8 L195.1,254.2 L194.9,254.5 L194.6,254.8 L194.4,255.1 L194.1,255.3 L193.8,255.6 L193.6,255.8 L193.3,256.0 L193.1,256.2 L192.8,256.3 L192.5,256.6 L192.1,256.8 L191.8,256.9 L191.5,257.1 L191.1,257.3 L190.8,257.4 L190.3,257.6 L190.1,257.7 L189.6,257.8 L189.3,257.9 L188.8,258.0 L188.6,258.1 L188.1,258.2 L187.6,258.3 L187.1,258.3 L186.8,258.3Z M166.0,239.0 L165.5,239.0 L165.0,239.1 L164.5,239.1 L164.0,239.1 L163.5,239.0 L163.1,239.0 L162.7,238.9 L162.2,238.8 L161.8,238.7 L161.5,238.7 L160.9,238.5 L160.7,238.4 L160.3,238.2 L159.9,238.1 L159.7,238.0 L159.3,237.7 L158.9,237.5 L158.7,237.3 L158.4,237.1 L158.2,236.9 L157.9,236.6 L157.7,236.3 L157.4,236.0 L157.3,235.7 L157.2,235.5 L157.0,235.0 L156.9,234.6 L156.9,234.2 L156.9,233.9 L157.0,233.5 L157.2,233.0 L157.3,232.7 L157.5,232.5 L157.7,232.2 L157.9,231.9 L158.2,231.7 L158.5,231.4 L158.8,231.2 L159.2,231.0 L159.4,230.8 L159.7,230.7 L160.2,230.5 L160.4,230.3 L160.9,230.2 L161.2,230.1 L161.7,229.9 L162.0,229.9 L162.5,229.8 L162.9,229.7 L163.2,229.6 L163.7,229.6 L164.2,229.5 L164.7,229.5 L165.2,229.4 L165.5,229.4 L166.0,229.4 L166.5,229.4 L166.9,229.4 L167.2,229.4 L167.7,229.5 L168.2,229.5 L168.7,229.6 L169.2,229.6 L169.7,229.7 L170.0,229.7 L170.5,229.8 L171.0,229.9 L171.5,229.9 L171.7,230.0 L172.2,230.1 L172.6,230.2 L173.0,230.3 L173.5,230.4 L173.8,230.5 L174.3,230.7 L174.5,230.8 L174.8,230.9 L175.2,231.2 L175.5,231.4 L175.7,231.7 L175.8,231.9 L175.8,232.3 L175.7,232.7 L175.5,233.0 L175.3,233.3 L175.0,233.6 L174.8,233.9 L174.5,234.2 L174.3,234.4 L174.0,234.7 L173.8,234.9 L173.5,235.1 L173.3,235.4 L173.0,235.6 L172.8,235.8 L172.5,236.0 L172.2,236.2 L171.9,236.5 L171.5,236.7 L171.2,236.9 L171.0,237.1 L170.7,237.3 L170.4,237.5 L170.0,237.7 L169.7,237.8 L169.5,238.0 L169.0,238.2 L168.7,238.3 L168.2,238.5 L168.0,238.6 L167.5,238.7 L167.2,238.8 L166.7,238.9 L166.2,239.0 L166.0,239.0Z M187.6,258.1 L187.1,258.2 L186.6,258.2 L186.1,258.2 L185.6,258.3 L185.1,258.3 L184.6,258.2 L184.1,258.2 L183.6,258.2 L183.0,258.1 L182.8,258.1 L182.3,258.0 L181.8,257.9 L181.3,257.8 L181.0,257.8 L180.5,257.7 L180.3,257.6 L179.8,257.5 L179.4,257.3 L179.0,257.2 L178.6,257.1 L178.3,257.0 L177.9,256.8 L177.5,256.7 L177.2,256.6 L176.8,256.4 L176.5,256.3 L176.0,256.1 L175.8,256.0 L175.5,255.8 L175.0,255.6 L174.8,255.5 L174.4,255.3 L174.0,255.1 L173.8,255.0 L173.4,254.8 L173.0,254.6 L172.8,254.5 L172.5,254.3 L172.0,254.1 L171.7,253.9 L171.5,253.8 L171.1,253.6 L170.7,253.3 L170.5,253.2 L170.2,253.0 L170.0,252.8 L169.7,252.6 L169.4,252.3 L169.1,252.1 L168.9,251.8 L168.7,251.5 L168.5,251.0 L168.4,250.8 L168.2,250.3 L168.2,250.0 L168.1,249.5 L168.1,249.0 L168.1,248.5 L168.2,248.0 L168.2,247.7 L168.3,247.3 L168.4,246.8 L168.5,246.5 L168.6,246.0 L168.7,245.7 L168.9,245.3 L169.0,245.0 L169.2,244.5 L169.3,244.3 L169.5,243.9 L169.7,243.5 L169.8,243.3 L170.0,243.0 L170.2,242.5 L170.4,242.3 L170.6,242.0 L170.8,241.7 L171.0,241.5 L171.2,241.2 L171.5,240.9 L171.7,240.7 L172.0,240.5 L172.3,240.2 L172.6,240.0 L172.9,239.7 L173.3,239.5 L173.5,239.4 L173.8,239.2 L174.3,239.0 L174.5,238.9 L174.9,238.7 L175.3,238.6 L175.6,238.5 L176.0,238.4 L176.5,238.2 L176.8,238.2 L177.3,238.1 L177.8,238.0 L178.0,238.0 L178.5,237.9 L179.0,237.8 L179.5,237.8 L180.0,237.8 L180.5,237.8 L181.0,237.8 L181.5,237.8 L182.0,237.9 L182.5,237.9 L182.9,238.0 L183.3,238.0 L183.8,238.1 L184.3,238.2 L184.6,238.3 L185.1,238.4 L185.4,238.5 L185.8,238.6 L186.2,238.7 L186.6,238.8 L187.0,239.0 L187.3,239.1 L187.6,239.2 L188.1,239.4 L188.3,239.5 L188.8,239.7 L189.1,239.9 L189.3,240.0 L189.7,240.2 L190.1,240.4 L190.3,240.6 L190.6,240.7 L191.0,241.0 L191.3,241.2 L191.6,241.4 L191.8,241.6 L192.1,241.8 L192.3,242.0 L192.6,242.3 L192.9,242.5 L193.1,242.8 L193.4,243.0 L193.6,243.3 L193.8,243.5 L194.1,243.8 L194.4,244.1 L194.6,244.5 L194.8,244.8 L195.0,245.0 L195.1,245.3 L195.4,245.7 L195.5,246.0 L195.6,246.3 L195.8,246.8 L195.9,247.0 L196.1,247.5 L196.1,247.8 L196.2,248.3 L196.3,248.8 L196.4,249.2 L196.4,249.5 L196.4,250.0 L196.4,250.3 L196.3,250.8 L196.2,251.3 L196.1,251.7 L196.0,252.1 L195.9,252.4 L195.7,252.8 L195.6,253.1 L195.4,253.4 L195.1,253.8 L194.9,254.1 L194.8,254.3 L194.6,254.6 L194.3,254.8 L194.1,255.1 L193.8,255.3 L193.5,255.6 L193.2,255.8 L192.9,256.1 L192.6,256.3 L192.3,256.4 L192.1,256.6 L191.6,256.8 L191.3,257.0 L191.1,257.1 L190.6,257.3 L190.3,257.4 L189.8,257.6 L189.6,257.6 L189.1,257.8 L188.8,257.8 L188.3,258.0 L187.8,258.1 L187.6,258.1Z M166.0,238.2 L165.5,238.3 L165.0,238.3 L164.5,238.3 L164.0,238.3 L163.5,238.3 L163.0,238.2 L162.7,238.2 L162.2,238.1 L161.8,238.0 L161.5,237.9 L161.1,237.7 L160.7,237.6 L160.4,237.5 L160.0,237.2 L159.7,237.0 L159.4,236.9 L159.2,236.7 L158.9,236.4 L158.7,236.2 L158.4,235.8 L158.2,235.5 L158.1,235.2 L157.9,234.7 L157.9,234.5 L157.9,234.0 L157.9,233.7 L158.1,233.2 L158.2,233.0 L158.4,232.6 L158.7,232.3 L158.9,232.1 L159.2,231.8 L159.4,231.7 L159.7,231.4 L160.2,231.2 L160.4,231.1 L160.7,230.9 L161.2,230.7 L161.5,230.7 L162.0,230.5 L162.2,230.4 L162.7,230.3 L163.2,230.2 L163.5,230.2 L164.0,230.1 L164.5,230.1 L165.0,230.0 L165.5,230.0 L166.0,230.0 L166.5,230.0 L167.0,230.0 L167.5,230.1 L168.0,230.1 L168.5,230.2 L168.7,230.2 L169.2,230.3 L169.7,230.4 L170.0,230.4 L170.5,230.5 L171.0,230.7 L171.2,230.7 L171.7,230.9 L172.0,231.0 L172.4,231.2 L172.8,231.4 L173.0,231.5 L173.3,231.8 L173.5,232.1 L173.6,232.5 L173.6,233.0 L173.5,233.3 L173.3,233.7 L173.1,234.0 L172.9,234.2 L172.7,234.5 L172.5,234.7 L172.2,235.0 L172.0,235.2 L171.7,235.5 L171.5,235.7 L171.1,236.0 L170.8,236.2 L170.5,236.5 L170.2,236.6 L170.0,236.8 L169.7,237.0 L169.2,237.2 L169.0,237.3 L168.7,237.5 L168.2,237.7 L168.0,237.8 L167.5,237.9 L167.2,238.0 L166.7,238.1 L166.2,238.2 L166.0,238.2Z M185.8,258.1 L185.3,258.1 L184.8,258.1 L184.4,258.1 L184.1,258.1 L183.6,258.0 L183.0,258.0 L182.5,257.9 L182.1,257.8 L181.8,257.8 L181.3,257.7 L180.9,257.6 L180.5,257.5 L180.0,257.4 L179.8,257.3 L179.3,257.1 L179.0,257.1 L178.5,256.9 L178.3,256.8 L177.8,256.6 L177.5,256.5 L177.0,256.3 L176.8,256.2 L176.4,256.1 L176.0,255.9 L175.8,255.8 L175.4,255.6 L175.0,255.4 L174.8,255.3 L174.4,255.1 L174.0,254.9 L173.8,254.7 L173.4,254.6 L173.0,254.3 L172.8,254.2 L172.5,254.0 L172.2,253.8 L171.8,253.6 L171.5,253.3 L171.2,253.1 L171.0,253.0 L170.7,252.7 L170.5,252.5 L170.2,252.3 L170.0,252.0 L169.7,251.7 L169.5,251.3 L169.3,251.0 L169.2,250.8 L169.0,250.3 L168.9,250.0 L168.8,249.5 L168.7,249.1 L168.7,248.8 L168.7,248.3 L168.7,247.8 L168.7,247.5 L168.8,247.0 L168.9,246.5 L169.0,246.2 L169.1,245.8 L169.2,245.4 L169.4,245.0 L169.5,244.7 L169.7,244.3 L169.8,244.0 L170.0,243.6 L170.2,243.3 L170.3,243.0 L170.5,242.7 L170.7,242.4 L171.0,242.0 L171.2,241.7 L171.4,241.5 L171.7,241.2 L171.9,241.0 L172.2,240.7 L172.5,240.5 L172.8,240.3 L173.0,240.1 L173.3,239.9 L173.5,239.7 L174.0,239.5 L174.3,239.3 L174.5,239.2 L175.0,239.0 L175.3,238.9 L175.7,238.7 L176.0,238.6 L176.5,238.5 L176.8,238.4 L177.3,238.3 L177.7,238.2 L178.0,238.2 L178.5,238.1 L179.0,238.1 L179.5,238.0 L180.0,238.0 L180.5,238.0 L181.0,238.0 L181.5,238.0 L182.0,238.1 L182.5,238.1 L183.0,238.2 L183.4,238.2 L183.8,238.3 L184.3,238.4 L184.7,238.5 L185.1,238.6 L185.6,238.7 L185.8,238.8 L186.3,238.9 L186.6,239.0 L187.1,239.2 L187.3,239.3 L187.8,239.5 L188.1,239.6 L188.4,239.7 L188.8,239.9 L189.1,240.1 L189.4,240.2 L189.8,240.5 L190.1,240.6 L190.3,240.8 L190.7,241.0 L191.1,241.2 L191.3,241.4 L191.6,241.6 L191.8,241.8 L192.1,242.0 L192.3,242.3 L192.6,242.5 L192.9,242.8 L193.1,243.0 L193.4,243.3 L193.6,243.5 L193.8,243.8 L194.1,244.1 L194.4,244.4 L194.6,244.8 L194.7,245.0 L194.9,245.3 L195.1,245.6 L195.3,246.0 L195.4,246.3 L195.6,246.7 L195.7,247.0 L195.9,247.5 L195.9,247.8 L196.0,248.3 L196.1,248.7 L196.1,249.0 L196.2,249.5 L196.2,250.0 L196.1,250.5 L196.1,250.8 L196.0,251.3 L195.9,251.8 L195.8,252.1 L195.6,252.5 L195.5,252.8 L195.3,253.1 L195.1,253.5 L194.9,253.8 L194.7,254.1 L194.5,254.3 L194.3,254.6 L194.1,254.8 L193.8,255.1 L193.5,255.3 L193.2,255.6 L192.9,255.8 L192.6,256.1 L192.3,256.2 L192.1,256.4 L191.7,256.6 L191.3,256.8 L191.1,256.9 L190.7,257.1 L190.3,257.2 L190.0,257.3 L189.6,257.5 L189.2,257.6 L188.8,257.7 L188.3,257.8 L188.1,257.8 L187.6,257.9 L187.1,258.0 L186.6,258.0 L186.1,258.1 L185.8,258.1Z M166.0,237.5 L165.5,237.6 L165.0,237.6 L164.5,237.6 L164.0,237.6 L163.5,237.6 L163.0,237.5 L162.7,237.4 L162.2,237.3 L161.9,237.2 L161.5,237.1 L161.2,237.0 L160.7,236.7 L160.4,236.5 L160.2,236.4 L159.9,236.2 L159.7,235.9 L159.4,235.6 L159.2,235.2 L159.1,235.0 L158.9,234.5 L158.9,234.2 L158.9,234.0 L159.1,233.5 L159.2,233.2 L159.4,232.8 L159.7,232.5 L159.9,232.3 L160.2,232.1 L160.4,231.9 L160.8,231.7 L161.2,231.5 L161.5,231.4 L161.9,231.2 L162.2,231.1 L162.7,231.0 L163.0,230.9 L163.5,230.8 L164.0,230.7 L164.2,230.7 L164.7,230.6 L165.2,230.6 L165.7,230.6 L166.2,230.6 L166.7,230.7 L167.2,230.7 L167.5,230.7 L168.0,230.8 L168.5,230.9 L168.8,230.9 L169.2,231.1 L169.7,231.2 L170.0,231.3 L170.4,231.4 L170.7,231.6 L171.0,231.8 L171.2,231.9 L171.5,232.2 L171.7,232.6 L171.9,233.0 L171.8,233.5 L171.7,233.7 L171.5,234.2 L171.3,234.5 L171.1,234.7 L170.9,235.0 L170.6,235.2 L170.4,235.5 L170.1,235.7 L169.7,236.0 L169.5,236.1 L169.2,236.3 L168.9,236.5 L168.5,236.7 L168.2,236.8 L167.9,237.0 L167.5,237.1 L167.2,237.2 L166.7,237.3 L166.2,237.5 L166.0,237.5Z M187.1,257.8 L186.6,257.9 L186.1,257.9 L185.6,258.0 L185.1,258.0 L184.6,257.9 L184.1,257.9 L183.6,257.9 L183.1,257.8 L182.8,257.8 L182.3,257.7 L181.8,257.6 L181.5,257.6 L181.0,257.5 L180.5,257.3 L180.3,257.3 L179.8,257.1 L179.5,257.1 L179.0,256.9 L178.8,256.8 L178.3,256.6 L178.0,256.6 L177.5,256.4 L177.3,256.3 L176.8,256.1 L176.5,255.9 L176.3,255.8 L175.8,255.6 L175.5,255.5 L175.2,255.3 L174.8,255.1 L174.5,254.9 L174.3,254.8 L173.9,254.6 L173.5,254.4 L173.3,254.2 L173.0,254.0 L172.7,253.8 L172.3,253.6 L172.0,253.3 L171.7,253.1 L171.5,252.9 L171.2,252.7 L171.0,252.5 L170.7,252.2 L170.5,251.9 L170.2,251.6 L170.0,251.3 L169.8,251.0 L169.7,250.8 L169.5,250.3 L169.4,250.0 L169.3,249.5 L169.2,249.3 L169.1,248.8 L169.1,248.3 L169.1,247.8 L169.1,247.3 L169.2,246.8 L169.3,246.5 L169.4,246.0 L169.5,245.6 L169.6,245.3 L169.7,244.8 L169.9,244.5 L170.0,244.2 L170.2,243.8 L170.4,243.5 L170.5,243.3 L170.7,242.9 L171.0,242.5 L171.2,242.3 L171.4,242.0 L171.6,241.7 L171.8,241.5 L172.1,241.2 L172.3,241.0 L172.6,240.7 L172.9,240.5 L173.3,240.2 L173.5,240.1 L173.8,239.9 L174.0,239.7 L174.5,239.5 L174.8,239.4 L175.1,239.2 L175.5,239.1 L175.8,239.0 L176.3,238.8 L176.5,238.7 L177.0,238.6 L177.5,238.5 L177.8,238.4 L178.3,238.3 L178.8,238.3 L179.3,238.2 L179.5,238.2 L180.0,238.2 L180.5,238.2 L181.0,238.2 L181.5,238.2 L182.0,238.2 L182.3,238.3 L182.8,238.3 L183.3,238.4 L183.8,238.5 L184.1,238.5 L184.6,238.6 L185.1,238.7 L185.3,238.8 L185.8,238.9 L186.1,239.0 L186.6,239.2 L186.8,239.3 L187.3,239.4 L187.6,239.5 L188.0,239.7 L188.3,239.9 L188.6,240.0 L189.1,240.2 L189.3,240.4 L189.6,240.5 L190.0,240.7 L190.3,240.9 L190.6,241.1 L190.8,241.3 L191.1,241.5 L191.5,241.7 L191.8,242.0 L192.1,242.2 L192.3,242.5 L192.6,242.7 L192.8,242.9 L193.1,243.2 L193.3,243.5 L193.6,243.7 L193.8,244.0 L194.0,244.3 L194.2,244.5 L194.4,244.8 L194.6,245.1 L194.8,245.5 L195.0,245.8 L195.1,246.0 L195.3,246.5 L195.4,246.8 L195.6,247.3 L195.7,247.5 L195.8,248.0 L195.9,248.3 L195.9,248.8 L196.0,249.3 L196.0,249.8 L196.0,250.3 L195.9,250.8 L195.8,251.0 L195.7,251.5 L195.6,252.0 L195.5,252.3 L195.4,252.6 L195.1,253.1 L195.0,253.3 L194.8,253.6 L194.6,253.9 L194.4,254.2 L194.1,254.5 L193.8,254.8 L193.6,255.0 L193.3,255.2 L193.1,255.5 L192.8,255.7 L192.6,255.8 L192.2,256.1 L191.8,256.3 L191.6,256.5 L191.3,256.6 L190.8,256.8 L190.6,256.9 L190.2,257.1 L189.8,257.2 L189.5,257.3 L189.1,257.5 L188.6,257.6 L188.3,257.6 L187.8,257.7 L187.3,257.8 L187.1,257.8Z M166.0,236.7 L165.5,236.8 L165.0,236.8 L164.5,236.9 L164.0,236.8 L163.5,236.8 L163.1,236.7 L162.7,236.6 L162.2,236.5 L162.0,236.4 L161.6,236.2 L161.2,236.0 L160.9,235.8 L160.7,235.5 L160.4,235.2 L160.3,235.0 L160.2,234.7 L160.1,234.2 L160.1,233.7 L160.2,233.5 L160.4,233.1 L160.7,232.8 L160.9,232.6 L161.2,232.4 L161.5,232.2 L162.0,232.0 L162.2,231.9 L162.6,231.7 L163.0,231.6 L163.5,231.5 L163.7,231.4 L164.2,231.4 L164.7,231.3 L165.2,231.3 L165.7,231.3 L166.2,231.3 L166.7,231.4 L167.2,231.4 L167.5,231.5 L168.0,231.6 L168.3,231.7 L168.7,231.8 L169.0,232.0 L169.4,232.2 L169.7,232.4 L170.0,232.7 L170.1,233.0 L170.2,233.5 L170.1,234.0 L170.0,234.2 L169.7,234.6 L169.5,234.9 L169.2,235.1 L169.0,235.4 L168.7,235.6 L168.5,235.7 L168.1,236.0 L167.7,236.1 L167.5,236.3 L167.0,236.5 L166.7,236.5 L166.2,236.7 L166.0,236.7Z M187.6,257.6 L187.1,257.7 L186.6,257.7 L186.1,257.8 L185.6,257.8 L185.1,257.8 L184.6,257.8 L184.1,257.8 L183.6,257.7 L183.0,257.7 L182.5,257.6 L182.3,257.6 L181.8,257.5 L181.3,257.4 L181.0,257.3 L180.5,257.2 L180.1,257.1 L179.8,257.0 L179.3,256.8 L179.0,256.8 L178.5,256.6 L178.3,256.5 L177.8,256.3 L177.5,256.2 L177.2,256.1 L176.8,255.9 L176.5,255.8 L176.1,255.6 L175.8,255.4 L175.5,255.3 L175.1,255.1 L174.8,254.9 L174.5,254.7 L174.2,254.6 L173.8,254.3 L173.5,254.1 L173.3,254.0 L173.0,253.8 L172.7,253.6 L172.3,253.3 L172.0,253.1 L171.7,252.8 L171.5,252.6 L171.2,252.3 L171.0,252.1 L170.8,251.8 L170.6,251.5 L170.4,251.3 L170.2,251.0 L170.0,250.5 L169.9,250.3 L169.7,249.9 L169.6,249.5 L169.5,249.0 L169.5,248.8 L169.4,248.3 L169.4,247.8 L169.4,247.3 L169.5,246.9 L169.5,246.5 L169.6,246.0 L169.7,245.7 L169.9,245.3 L170.0,244.9 L170.1,244.5 L170.3,244.3 L170.5,243.8 L170.6,243.5 L170.8,243.3 L171.0,242.9 L171.2,242.6 L171.5,242.3 L171.7,242.0 L171.9,241.7 L172.1,241.5 L172.4,241.2 L172.7,241.0 L173.0,240.7 L173.3,240.5 L173.5,240.4 L173.8,240.2 L174.1,240.0 L174.5,239.7 L174.8,239.6 L175.0,239.5 L175.5,239.3 L175.8,239.2 L176.3,239.0 L176.5,238.9 L177.0,238.8 L177.3,238.7 L177.8,238.6 L178.3,238.5 L178.7,238.5 L179.0,238.4 L179.5,238.4 L180.0,238.4 L180.5,238.3 L181.0,238.3 L181.5,238.4 L182.0,238.4 L182.5,238.4 L182.9,238.5 L183.3,238.5 L183.8,238.6 L184.3,238.7 L184.6,238.8 L185.1,238.9 L185.5,239.0 L185.8,239.1 L186.3,239.2 L186.6,239.3 L187.0,239.5 L187.3,239.6 L187.7,239.7 L188.1,239.9 L188.3,240.0 L188.8,240.2 L189.1,240.4 L189.3,240.5 L189.7,240.7 L190.1,241.0 L190.3,241.1 L190.6,241.3 L190.9,241.5 L191.2,241.7 L191.6,242.0 L191.8,242.2 L192.1,242.4 L192.3,242.7 L192.6,242.9 L192.8,243.1 L193.1,243.4 L193.3,243.7 L193.6,244.0 L193.8,244.3 L194.0,244.5 L194.2,244.8 L194.4,245.0 L194.6,245.4 L194.8,245.8 L194.9,246.0 L195.1,246.4 L195.2,246.8 L195.4,247.1 L195.5,247.5 L195.6,248.0 L195.7,248.3 L195.7,248.8 L195.8,249.3 L195.8,249.8 L195.8,250.3 L195.7,250.8 L195.6,251.3 L195.5,251.5 L195.4,252.1 L195.3,252.3 L195.1,252.7 L194.9,253.1 L194.8,253.3 L194.6,253.6 L194.4,253.9 L194.1,254.2 L193.8,254.5 L193.6,254.8 L193.3,255.0 L193.1,255.2 L192.8,255.4 L192.6,255.6 L192.3,255.8 L191.9,256.1 L191.6,256.3 L191.3,256.4 L191.0,256.6 L190.6,256.8 L190.3,256.9 L189.8,257.1 L189.6,257.1 L189.1,257.3 L188.8,257.4 L188.3,257.5 L187.8,257.6 L187.6,257.6Z M186.8,257.1 L186.3,257.1 L185.8,257.2 L185.3,257.2 L184.8,257.2 L184.3,257.2 L183.8,257.1 L183.3,257.1 L183.0,257.1 L182.5,257.0 L182.0,256.9 L181.6,256.8 L181.3,256.8 L180.8,256.6 L180.5,256.6 L180.0,256.4 L179.7,256.3 L179.3,256.2 L178.9,256.1 L178.5,255.9 L178.2,255.8 L177.8,255.6 L177.5,255.5 L177.1,255.3 L176.8,255.2 L176.5,255.1 L176.0,254.8 L175.8,254.7 L175.5,254.5 L175.1,254.3 L174.8,254.1 L174.5,253.9 L174.3,253.7 L174.0,253.6 L173.7,253.3 L173.3,253.1 L173.0,252.8 L172.8,252.6 L172.5,252.3 L172.3,252.1 L172.1,251.8 L171.8,251.5 L171.7,251.3 L171.5,251.0 L171.2,250.6 L171.1,250.3 L171.0,250.0 L170.8,249.5 L170.7,249.3 L170.6,248.8 L170.5,248.3 L170.5,248.0 L170.5,247.5 L170.5,247.0 L170.5,246.8 L170.6,246.3 L170.7,245.8 L170.8,245.5 L170.9,245.0 L171.0,244.8 L171.2,244.3 L171.4,244.0 L171.5,243.8 L171.7,243.4 L172.0,243.1 L172.2,242.8 L172.4,242.5 L172.7,242.3 L172.9,242.0 L173.2,241.7 L173.5,241.5 L173.8,241.3 L174.0,241.1 L174.3,240.9 L174.5,240.7 L174.9,240.5 L175.3,240.3 L175.5,240.2 L175.9,240.0 L176.3,239.9 L176.6,239.7 L177.0,239.6 L177.4,239.5 L177.8,239.4 L178.3,239.3 L178.5,239.2 L179.0,239.2 L179.5,239.1 L180.0,239.1 L180.5,239.0 L181.0,239.0 L181.5,239.0 L182.0,239.1 L182.5,239.1 L183.0,239.1 L183.6,239.2 L183.8,239.3 L184.3,239.4 L184.8,239.5 L185.1,239.5 L185.6,239.7 L185.8,239.7 L186.3,239.9 L186.6,240.0 L187.1,240.2 L187.3,240.3 L187.8,240.5 L188.1,240.6 L188.4,240.7 L188.8,241.0 L189.1,241.1 L189.3,241.2 L189.7,241.5 L190.1,241.7 L190.3,241.9 L190.6,242.1 L190.8,242.3 L191.2,242.5 L191.5,242.8 L191.7,243.0 L192.0,243.3 L192.3,243.5 L192.5,243.8 L192.7,244.0 L192.9,244.3 L193.1,244.5 L193.3,244.8 L193.6,245.2 L193.8,245.5 L194.0,245.8 L194.1,246.0 L194.3,246.5 L194.4,246.8 L194.6,247.2 L194.7,247.5 L194.8,248.0 L194.9,248.3 L194.9,248.8 L195.0,249.3 L195.0,249.8 L194.9,250.3 L194.9,250.8 L194.8,251.0 L194.7,251.5 L194.6,251.8 L194.4,252.3 L194.3,252.6 L194.1,252.8 L193.8,253.2 L193.6,253.6 L193.4,253.8 L193.2,254.1 L193.0,254.3 L192.7,254.6 L192.4,254.8 L192.1,255.1 L191.8,255.3 L191.6,255.4 L191.3,255.6 L190.9,255.8 L190.6,256.0 L190.3,256.1 L189.8,256.3 L189.6,256.4 L189.1,256.6 L188.8,256.7 L188.3,256.8 L188.1,256.9 L187.6,257.0 L187.1,257.0 L186.8,257.1Z M186.6,256.8 L186.1,256.9 L185.6,256.9 L185.1,256.9 L184.6,256.9 L184.1,256.9 L183.6,256.9 L183.1,256.8 L182.8,256.8 L182.3,256.7 L181.8,256.6 L181.5,256.6 L181.0,256.5 L180.5,256.3 L180.3,256.3 L179.8,256.1 L179.5,256.0 L179.0,255.9 L178.8,255.8 L178.3,255.6 L178.0,255.5 L177.7,255.3 L177.3,255.1 L177.0,255.0 L176.6,254.8 L176.3,254.7 L176.0,254.5 L175.6,254.3 L175.3,254.1 L175.0,253.9 L174.8,253.8 L174.5,253.6 L174.1,253.3 L173.8,253.1 L173.5,252.8 L173.3,252.6 L173.0,252.4 L172.8,252.1 L172.5,251.9 L172.2,251.6 L172.1,251.3 L171.9,251.0 L171.7,250.8 L171.5,250.4 L171.3,250.0 L171.2,249.8 L171.0,249.3 L171.0,249.0 L170.9,248.5 L170.8,248.0 L170.8,247.5 L170.8,247.0 L170.9,246.5 L171.0,246.0 L171.1,245.8 L171.2,245.3 L171.3,245.0 L171.5,244.6 L171.6,244.3 L171.8,244.0 L172.0,243.7 L172.2,243.3 L172.5,243.0 L172.7,242.8 L172.9,242.5 L173.1,242.3 L173.4,242.0 L173.7,241.7 L174.0,241.5 L174.3,241.3 L174.5,241.1 L174.8,240.9 L175.1,240.7 L175.5,240.5 L175.8,240.4 L176.1,240.2 L176.5,240.1 L176.8,240.0 L177.3,239.8 L177.6,239.7 L178.0,239.6 L178.5,239.5 L178.8,239.5 L179.3,239.4 L179.8,239.3 L180.3,239.3 L180.8,239.3 L181.3,239.3 L181.8,239.3 L182.3,239.3 L182.8,239.4 L183.3,239.4 L183.6,239.5 L184.1,239.6 L184.6,239.7 L184.9,239.7 L185.3,239.8 L185.8,240.0 L186.1,240.1 L186.6,240.2 L186.8,240.3 L187.2,240.5 L187.6,240.6 L187.8,240.7 L188.3,241.0 L188.6,241.1 L188.8,241.3 L189.3,241.5 L189.6,241.7 L189.8,241.9 L190.1,242.0 L190.4,242.3 L190.7,242.5 L191.1,242.8 L191.3,243.0 L191.6,243.2 L191.8,243.5 L192.1,243.7 L192.3,244.0 L192.6,244.3 L192.8,244.5 L193.0,244.8 L193.1,245.0 L193.3,245.3 L193.6,245.7 L193.8,246.0 L193.9,246.3 L194.1,246.8 L194.2,247.0 L194.4,247.5 L194.4,247.8 L194.5,248.3 L194.6,248.6 L194.6,249.0 L194.7,249.5 L194.6,250.0 L194.6,250.4 L194.5,250.8 L194.4,251.3 L194.3,251.5 L194.1,252.1 L194.0,252.3 L193.8,252.6 L193.6,253.0 L193.4,253.3 L193.2,253.6 L193.0,253.8 L192.8,254.1 L192.5,254.3 L192.2,254.6 L191.9,254.8 L191.6,255.1 L191.3,255.2 L191.1,255.4 L190.8,255.6 L190.3,255.8 L190.1,255.9 L189.7,256.1 L189.3,256.2 L189.0,256.3 L188.6,256.5 L188.1,256.6 L187.8,256.6 L187.3,256.7 L186.8,256.8 L186.6,256.8Z M186.6,256.6 L186.1,256.6 L185.6,256.7 L185.1,256.7 L184.6,256.7 L184.1,256.7 L183.6,256.6 L183.1,256.6 L182.8,256.5 L182.3,256.5 L181.8,256.4 L181.5,256.3 L181.0,256.2 L180.5,256.1 L180.3,256.0 L179.8,255.9 L179.5,255.8 L179.0,255.6 L178.8,255.5 L178.3,255.3 L178.0,255.2 L177.7,255.1 L177.3,254.9 L177.0,254.8 L176.6,254.6 L176.3,254.4 L176.0,254.2 L175.7,254.1 L175.3,253.8 L175.0,253.6 L174.8,253.5 L174.5,253.3 L174.2,253.1 L173.9,252.8 L173.6,252.6 L173.3,252.3 L173.1,252.1 L172.8,251.8 L172.6,251.5 L172.4,251.3 L172.2,251.0 L172.0,250.7 L171.8,250.3 L171.7,250.0 L171.5,249.6 L171.4,249.3 L171.3,248.8 L171.2,248.5 L171.2,248.0 L171.1,247.5 L171.2,247.0 L171.2,246.5 L171.3,246.3 L171.4,245.8 L171.5,245.4 L171.7,245.0 L171.8,244.8 L172.0,244.3 L172.2,244.0 L172.3,243.8 L172.5,243.5 L172.8,243.1 L173.0,242.8 L173.3,242.6 L173.5,242.3 L173.8,242.1 L174.0,241.9 L174.3,241.7 L174.5,241.5 L174.9,241.2 L175.3,241.0 L175.5,240.9 L175.8,240.7 L176.3,240.5 L176.5,240.4 L176.9,240.2 L177.3,240.1 L177.7,240.0 L178.0,239.9 L178.5,239.8 L178.9,239.7 L179.3,239.7 L179.8,239.6 L180.3,239.6 L180.8,239.6 L181.3,239.6 L181.8,239.6 L182.3,239.6 L182.8,239.6 L183.3,239.7 L183.6,239.7 L184.1,239.8 L184.6,239.9 L184.8,240.0 L185.3,240.1 L185.8,240.2 L186.1,240.3 L186.5,240.5 L186.8,240.6 L187.2,240.7 L187.6,240.9 L187.8,241.0 L188.3,241.2 L188.6,241.4 L188.8,241.6 L189.2,241.7 L189.6,242.0 L189.8,242.2 L190.1,242.4 L190.3,242.5 L190.6,242.8 L190.9,243.0 L191.2,243.3 L191.5,243.5 L191.7,243.8 L192.0,244.0 L192.2,244.3 L192.4,244.5 L192.6,244.8 L192.8,245.1 L193.1,245.5 L193.3,245.8 L193.4,246.0 L193.6,246.4 L193.8,246.8 L193.9,247.0 L194.0,247.5 L194.1,247.8 L194.2,248.3 L194.3,248.8 L194.3,249.3 L194.3,249.8 L194.3,250.3 L194.2,250.8 L194.1,251.1 L194.0,251.5 L193.8,251.8 L193.6,252.3 L193.5,252.6 L193.3,252.8 L193.1,253.2 L192.8,253.5 L192.6,253.8 L192.3,254.0 L192.1,254.3 L191.8,254.5 L191.6,254.7 L191.3,254.9 L191.0,255.1 L190.6,255.3 L190.3,255.5 L190.1,255.6 L189.6,255.8 L189.3,255.9 L188.9,256.1 L188.6,256.2 L188.1,256.3 L187.8,256.4 L187.3,256.5 L186.8,256.5 L186.6,256.6Z M186.1,256.3 L185.6,256.4 L185.1,256.4 L184.6,256.4 L184.1,256.4 L183.6,256.3 L183.3,256.3 L182.8,256.3 L182.3,256.2 L181.8,256.1 L181.5,256.0 L181.0,255.9 L180.6,255.8 L180.3,255.7 L179.8,255.6 L179.5,255.5 L179.0,255.3 L178.8,255.2 L178.3,255.1 L178.0,254.9 L177.8,254.8 L177.3,254.6 L177.0,254.5 L176.7,254.3 L176.3,254.1 L176.0,253.9 L175.8,253.8 L175.4,253.6 L175.0,253.3 L174.8,253.1 L174.5,252.9 L174.3,252.8 L174.0,252.5 L173.7,252.3 L173.5,252.1 L173.2,251.8 L173.0,251.5 L172.8,251.2 L172.5,250.9 L172.3,250.5 L172.1,250.3 L172.0,250.0 L171.8,249.5 L171.7,249.3 L171.6,248.8 L171.5,248.3 L171.5,248.0 L171.5,247.5 L171.5,247.0 L171.5,246.8 L171.6,246.3 L171.7,245.8 L171.8,245.5 L172.0,245.0 L172.1,244.8 L172.3,244.5 L172.5,244.1 L172.7,243.8 L172.9,243.5 L173.1,243.3 L173.3,243.0 L173.5,242.8 L173.8,242.5 L174.1,242.3 L174.4,242.0 L174.7,241.7 L175.0,241.5 L175.3,241.4 L175.5,241.2 L175.9,241.0 L176.3,240.8 L176.5,240.7 L177.0,240.5 L177.3,240.4 L177.8,240.3 L178.0,240.2 L178.5,240.1 L179.0,240.0 L179.3,240.0 L179.8,239.9 L180.3,239.9 L180.8,239.8 L181.3,239.8 L181.8,239.8 L182.3,239.9 L182.8,239.9 L183.3,240.0 L183.6,240.0 L184.1,240.1 L184.6,240.2 L184.8,240.3 L185.3,240.4 L185.6,240.5 L186.1,240.6 L186.4,240.7 L186.8,240.9 L187.1,241.0 L187.6,241.2 L187.8,241.3 L188.1,241.5 L188.6,241.7 L188.8,241.9 L189.1,242.0 L189.4,242.3 L189.8,242.5 L190.1,242.7 L190.3,242.9 L190.6,243.1 L190.8,243.3 L191.1,243.5 L191.3,243.8 L191.6,244.0 L191.8,244.3 L192.1,244.6 L192.3,244.9 L192.6,245.3 L192.7,245.5 L192.9,245.8 L193.1,246.1 L193.3,246.5 L193.4,246.8 L193.6,247.3 L193.7,247.5 L193.8,248.0 L193.8,248.3 L193.9,248.8 L193.9,249.3 L193.9,249.8 L193.9,250.3 L193.8,250.5 L193.7,251.0 L193.6,251.4 L193.5,251.8 L193.3,252.1 L193.1,252.5 L192.9,252.8 L192.7,253.1 L192.5,253.3 L192.3,253.6 L192.1,253.8 L191.8,254.1 L191.5,254.3 L191.2,254.6 L190.8,254.8 L190.6,254.9 L190.3,255.1 L189.9,255.3 L189.6,255.5 L189.3,255.6 L188.8,255.8 L188.6,255.8 L188.1,256.0 L187.7,256.1 L187.3,256.2 L186.8,256.2 L186.3,256.3 L186.1,256.3Z M185.3,256.1 L184.8,256.1 L184.3,256.1 L183.9,256.1 L183.6,256.0 L183.0,256.0 L182.5,255.9 L182.0,255.8 L181.8,255.8 L181.3,255.7 L180.8,255.6 L180.5,255.5 L180.0,255.4 L179.8,255.3 L179.3,255.1 L179.0,255.0 L178.5,254.8 L178.3,254.7 L177.9,254.6 L177.5,254.4 L177.3,254.3 L176.8,254.1 L176.5,253.9 L176.3,253.8 L175.9,253.6 L175.5,253.3 L175.3,253.2 L175.0,253.0 L174.8,252.8 L174.5,252.6 L174.2,252.3 L173.9,252.1 L173.6,251.8 L173.4,251.5 L173.2,251.3 L173.0,251.0 L172.8,250.7 L172.5,250.3 L172.4,250.0 L172.2,249.8 L172.1,249.3 L172.0,249.0 L171.9,248.5 L171.8,248.0 L171.8,247.5 L171.8,247.0 L171.9,246.5 L172.0,246.1 L172.1,245.8 L172.2,245.3 L172.4,245.0 L172.5,244.8 L172.8,244.3 L172.9,244.0 L173.1,243.8 L173.3,243.5 L173.5,243.3 L173.8,243.0 L174.0,242.8 L174.3,242.5 L174.6,242.3 L174.9,242.0 L175.3,241.8 L175.5,241.6 L175.8,241.5 L176.2,241.2 L176.5,241.1 L176.8,241.0 L177.3,240.8 L177.5,240.7 L178.0,240.6 L178.3,240.5 L178.8,240.4 L179.3,240.3 L179.6,240.2 L180.0,240.2 L180.5,240.2 L181.0,240.1 L181.5,240.1 L182.0,240.2 L182.5,240.2 L183.0,240.2 L183.3,240.3 L183.8,240.4 L184.3,240.5 L184.6,240.5 L185.1,240.6 L185.4,240.7 L185.8,240.9 L186.2,241.0 L186.6,241.1 L186.9,241.2 L187.3,241.4 L187.6,241.6 L188.0,241.7 L188.3,241.9 L188.6,242.1 L188.8,242.3 L189.2,242.5 L189.6,242.7 L189.8,242.9 L190.1,243.1 L190.3,243.3 L190.6,243.5 L190.8,243.8 L191.1,244.0 L191.3,244.3 L191.6,244.6 L191.8,244.9 L192.1,245.2 L192.3,245.5 L192.5,245.8 L192.6,246.0 L192.8,246.5 L193.0,246.8 L193.1,247.0 L193.3,247.5 L193.3,247.8 L193.4,248.3 L193.5,248.8 L193.5,249.3 L193.5,249.8 L193.5,250.3 L193.4,250.8 L193.3,251.0 L193.1,251.5 L193.0,251.8 L192.8,252.1 L192.6,252.6 L192.4,252.8 L192.2,253.1 L192.0,253.3 L191.8,253.6 L191.5,253.8 L191.2,254.1 L190.9,254.3 L190.6,254.5 L190.3,254.7 L190.1,254.8 L189.6,255.1 L189.3,255.2 L189.0,255.3 L188.6,255.5 L188.3,255.6 L187.8,255.7 L187.4,255.8 L187.1,255.9 L186.6,256.0 L186.1,256.0 L185.6,256.1 L185.3,256.1Z M186.6,255.6 L186.1,255.7 L185.6,255.7 L185.1,255.7 L184.6,255.7 L184.1,255.7 L183.6,255.7 L183.0,255.7 L182.5,255.6 L182.3,255.6 L181.8,255.5 L181.3,255.4 L181.0,255.3 L180.5,255.2 L180.1,255.1 L179.8,255.0 L179.3,254.8 L179.0,254.7 L178.6,254.6 L178.3,254.4 L178.0,254.3 L177.5,254.1 L177.3,254.0 L176.9,253.8 L176.5,253.6 L176.3,253.4 L176.0,253.3 L175.6,253.1 L175.3,252.8 L175.0,252.6 L174.8,252.4 L174.5,252.2 L174.3,252.0 L174.0,251.8 L173.8,251.5 L173.5,251.2 L173.3,250.9 L173.0,250.5 L172.9,250.3 L172.7,250.0 L172.5,249.5 L172.4,249.3 L172.3,248.8 L172.2,248.5 L172.2,248.0 L172.1,247.5 L172.2,247.0 L172.2,246.6 L172.3,246.3 L172.5,245.8 L172.6,245.5 L172.8,245.1 L172.9,244.8 L173.1,244.5 L173.3,244.2 L173.5,243.9 L173.8,243.5 L174.0,243.3 L174.3,243.0 L174.5,242.8 L174.8,242.6 L175.0,242.4 L175.3,242.2 L175.6,242.0 L176.0,241.7 L176.3,241.6 L176.5,241.5 L177.0,241.3 L177.3,241.2 L177.8,241.0 L178.0,240.9 L178.5,240.8 L178.8,240.7 L179.3,240.6 L179.8,240.6 L180.3,240.5 L180.6,240.5 L181.0,240.5 L181.5,240.5 L182.0,240.5 L182.3,240.5 L182.8,240.6 L183.3,240.6 L183.8,240.7 L184.1,240.7 L184.6,240.9 L185.1,241.0 L185.3,241.1 L185.8,241.2 L186.1,241.3 L186.6,241.5 L186.8,241.6 L187.2,241.7 L187.6,241.9 L187.8,242.1 L188.2,242.3 L188.6,242.5 L188.8,242.7 L189.1,242.8 L189.3,243.0 L189.7,243.3 L190.0,243.5 L190.3,243.8 L190.5,244.0 L190.8,244.3 L191.0,244.5 L191.3,244.8 L191.5,245.0 L191.7,245.3 L191.8,245.5 L192.1,245.9 L192.3,246.3 L192.4,246.5 L192.6,246.9 L192.7,247.3 L192.8,247.7 L192.9,248.0 L193.0,248.5 L193.1,249.0 L193.1,249.5 L193.0,250.0 L192.9,250.5 L192.8,250.9 L192.7,251.3 L192.6,251.6 L192.4,252.1 L192.2,252.3 L192.0,252.6 L191.8,252.8 L191.6,253.1 L191.3,253.4 L191.1,253.6 L190.8,253.8 L190.5,254.1 L190.1,254.3 L189.8,254.5 L189.6,254.6 L189.2,254.8 L188.8,255.0 L188.6,255.1 L188.1,255.2 L187.8,255.3 L187.3,255.4 L186.8,255.6 L186.6,255.6Z M185.1,255.3 L184.6,255.3 L184.1,255.3 L183.7,255.3 L183.3,255.3 L182.8,255.2 L182.3,255.2 L181.8,255.1 L181.5,255.0 L181.0,254.9 L180.6,254.8 L180.3,254.7 L179.8,254.6 L179.5,254.5 L179.0,254.3 L178.8,254.2 L178.3,254.1 L178.0,253.9 L177.7,253.8 L177.3,253.6 L177.0,253.5 L176.7,253.3 L176.3,253.1 L176.0,252.9 L175.8,252.8 L175.5,252.6 L175.1,252.3 L174.8,252.1 L174.5,251.8 L174.3,251.5 L174.0,251.3 L173.8,251.0 L173.6,250.8 L173.4,250.5 L173.3,250.3 L173.0,249.8 L172.9,249.5 L172.8,249.2 L172.7,248.8 L172.6,248.3 L172.5,247.8 L172.5,247.3 L172.6,246.8 L172.7,246.3 L172.8,246.0 L173.0,245.5 L173.1,245.3 L173.3,244.9 L173.5,244.5 L173.7,244.3 L173.9,244.0 L174.1,243.8 L174.3,243.5 L174.6,243.3 L174.9,243.0 L175.2,242.8 L175.5,242.5 L175.8,242.4 L176.0,242.2 L176.4,242.0 L176.8,241.8 L177.0,241.7 L177.5,241.5 L177.8,241.4 L178.3,241.3 L178.5,241.2 L179.0,241.1 L179.5,241.0 L179.8,241.0 L180.3,240.9 L180.8,240.9 L181.3,240.9 L181.8,240.9 L182.3,240.9 L182.8,241.0 L183.2,241.0 L183.6,241.1 L184.1,241.2 L184.5,241.2 L184.8,241.3 L185.3,241.5 L185.6,241.6 L186.1,241.7 L186.3,241.8 L186.7,242.0 L187.1,242.2 L187.3,242.3 L187.7,242.5 L188.1,242.7 L188.3,242.8 L188.6,243.0 L188.9,243.3 L189.3,243.5 L189.6,243.7 L189.8,244.0 L190.1,244.2 L190.3,244.4 L190.6,244.7 L190.8,245.0 L191.1,245.3 L191.2,245.5 L191.4,245.8 L191.6,246.1 L191.8,246.5 L192.0,246.8 L192.1,247.1 L192.3,247.5 L192.3,247.8 L192.4,248.3 L192.5,248.8 L192.5,249.3 L192.5,249.8 L192.4,250.3 L192.3,250.6 L192.2,251.0 L192.1,251.3 L191.9,251.8 L191.7,252.1 L191.5,252.3 L191.3,252.6 L191.1,252.9 L190.8,253.1 L190.6,253.3 L190.3,253.6 L190.0,253.8 L189.6,254.1 L189.3,254.2 L189.1,254.3 L188.6,254.6 L188.3,254.7 L187.9,254.8 L187.6,254.9 L187.1,255.1 L186.8,255.1 L186.3,255.2 L185.8,255.3 L185.3,255.3 L185.1,255.3Z M186.6,254.6 L186.1,254.7 L185.6,254.7 L185.1,254.8 L184.6,254.8 L184.1,254.8 L183.6,254.8 L183.0,254.8 L182.5,254.7 L182.0,254.6 L181.6,254.6 L181.3,254.5 L180.8,254.4 L180.4,254.3 L180.0,254.2 L179.5,254.1 L179.3,254.0 L178.8,253.8 L178.5,253.7 L178.1,253.6 L177.8,253.4 L177.5,253.3 L177.0,253.1 L176.8,252.9 L176.5,252.8 L176.1,252.6 L175.8,252.3 L175.5,252.1 L175.3,252.0 L175.0,251.8 L174.8,251.5 L174.5,251.3 L174.3,251.0 L174.0,250.7 L173.8,250.4 L173.6,250.0 L173.4,249.8 L173.3,249.4 L173.1,249.0 L173.0,248.5 L173.0,248.3 L172.9,247.8 L172.9,247.3 L173.0,246.9 L173.1,246.5 L173.2,246.0 L173.3,245.8 L173.5,245.4 L173.7,245.0 L173.9,244.8 L174.1,244.5 L174.3,244.3 L174.5,244.0 L174.8,243.7 L175.0,243.5 L175.3,243.3 L175.6,243.0 L176.0,242.8 L176.3,242.6 L176.5,242.5 L177.0,242.3 L177.3,242.1 L177.6,242.0 L178.0,241.8 L178.3,241.7 L178.8,241.6 L179.3,241.5 L179.5,241.5 L180.0,241.4 L180.5,241.4 L181.0,241.4 L181.5,241.4 L182.0,241.4 L182.5,241.4 L183.0,241.5 L183.3,241.5 L183.8,241.6 L184.3,241.7 L184.6,241.8 L185.1,241.9 L185.3,242.0 L185.8,242.2 L186.1,242.3 L186.5,242.5 L186.8,242.6 L187.1,242.8 L187.5,243.0 L187.8,243.2 L188.1,243.3 L188.3,243.5 L188.7,243.8 L189.0,244.0 L189.3,244.3 L189.6,244.5 L189.8,244.8 L190.0,245.0 L190.3,245.3 L190.5,245.5 L190.6,245.8 L190.8,246.1 L191.1,246.5 L191.2,246.8 L191.3,247.0 L191.5,247.5 L191.6,247.8 L191.7,248.3 L191.8,248.8 L191.8,249.3 L191.7,249.8 L191.6,250.3 L191.6,250.5 L191.4,251.0 L191.3,251.3 L191.1,251.7 L190.8,252.0 L190.6,252.3 L190.4,252.6 L190.1,252.8 L189.9,253.1 L189.6,253.3 L189.3,253.4 L189.1,253.6 L188.7,253.8 L188.3,254.0 L188.1,254.1 L187.6,254.3 L187.3,254.4 L186.8,254.5 L186.6,254.6Z M185.8,253.8 L185.3,253.9 L184.8,254.0 L184.3,254.0 L183.8,254.0 L183.3,254.0 L182.8,254.0 L182.3,254.0 L181.8,253.9 L181.3,253.9 L181.0,253.8 L180.5,253.7 L180.0,253.6 L179.8,253.6 L179.3,253.4 L178.9,253.3 L178.5,253.2 L178.2,253.1 L177.8,252.9 L177.5,252.8 L177.0,252.6 L176.8,252.4 L176.5,252.3 L176.1,252.1 L175.8,251.8 L175.5,251.6 L175.3,251.4 L175.0,251.2 L174.8,250.9 L174.5,250.6 L174.3,250.3 L174.1,250.0 L173.9,249.8 L173.8,249.4 L173.6,249.0 L173.5,248.7 L173.4,248.3 L173.4,247.8 L173.4,247.3 L173.5,246.9 L173.6,246.5 L173.8,246.1 L173.9,245.8 L174.0,245.5 L174.3,245.2 L174.5,244.8 L174.8,244.5 L175.0,244.3 L175.3,244.0 L175.5,243.8 L175.8,243.6 L176.0,243.5 L176.3,243.3 L176.8,243.0 L177.0,242.9 L177.3,242.8 L177.8,242.6 L178.0,242.5 L178.5,242.4 L179.0,242.3 L179.3,242.2 L179.8,242.1 L180.3,242.1 L180.8,242.1 L181.3,242.1 L181.8,242.1 L182.3,242.1 L182.8,242.2 L183.2,242.3 L183.6,242.3 L184.1,242.4 L184.3,242.5 L184.8,242.7 L185.1,242.8 L185.6,243.0 L185.8,243.1 L186.2,243.3 L186.6,243.4 L186.8,243.6 L187.1,243.8 L187.5,244.0 L187.8,244.2 L188.1,244.4 L188.3,244.6 L188.6,244.9 L188.8,245.1 L189.1,245.4 L189.3,245.7 L189.6,246.0 L189.7,246.3 L189.9,246.5 L190.1,246.9 L190.2,247.3 L190.3,247.5 L190.5,248.0 L190.6,248.5 L190.6,249.0 L190.5,249.5 L190.4,250.0 L190.3,250.4 L190.2,250.8 L190.0,251.0 L189.8,251.4 L189.6,251.7 L189.3,252.0 L189.1,252.3 L188.8,252.5 L188.6,252.7 L188.3,252.8 L187.9,253.1 L187.6,253.2 L187.3,253.4 L186.8,253.5 L186.6,253.6 L186.1,253.8 L185.8,253.8Z M181.8,252.6 L181.3,252.6 L180.8,252.7 L180.3,252.7 L179.8,252.6 L179.3,252.6 L179.0,252.5 L178.5,252.4 L178.2,252.3 L177.8,252.2 L177.4,252.1 L177.0,251.9 L176.8,251.7 L176.4,251.5 L176.0,251.3 L175.8,251.1 L175.5,250.9 L175.3,250.7 L175.0,250.4 L174.8,250.1 L174.6,249.8 L174.4,249.5 L174.3,249.2 L174.1,248.8 L174.0,248.3 L174.0,247.8 L174.1,247.3 L174.2,246.8 L174.3,246.5 L174.5,246.0 L174.7,245.8 L174.9,245.5 L175.1,245.3 L175.3,245.0 L175.6,244.8 L175.9,244.5 L176.3,244.3 L176.5,244.1 L176.8,244.0 L177.3,243.8 L177.5,243.7 L178.0,243.5 L178.3,243.5 L178.8,243.4 L179.3,243.3 L179.8,243.3 L180.3,243.3 L180.8,243.4 L181.3,243.5 L181.5,243.5 L182.0,243.7 L182.3,243.8 L182.8,244.0 L183.0,244.1 L183.3,244.3 L183.6,244.5 L183.9,244.8 L184.1,245.0 L184.3,245.3 L184.6,245.6 L184.8,246.0 L184.8,246.3 L185.0,246.8 L185.1,247.2 L185.1,247.5 L185.1,248.0 L185.1,248.5 L185.1,249.0 L185.0,249.3 L184.9,249.8 L184.8,250.1 L184.7,250.5 L184.5,250.8 L184.3,251.2 L184.1,251.5 L183.8,251.7 L183.6,251.9 L183.3,252.1 L182.8,252.3 L182.5,252.4 L182.0,252.5 L181.8,252.6Z" fill="none" stroke="#000" stroke-width="0.5" clip-path="url(#cC2)"/>
<g fill="#444" opacity="0.5" clip-path="url(#cC2)"><circle cx="195.6" cy="258.5" r="0.35"/><circle cx="126.9" cy="243.3" r="0.35"/><circle cx="183.4" cy="253.7" r="0.35"/><circle cx="171.0" cy="239.8" r="0.35"/><circle cx="188.5" cy="245.7" r="0.35"/><circle cx="175.4" cy="255.9" r="0.35"/><circle cx="195.6" cy="228.6" r="0.35"/><circle cx="170.4" cy="238.5" r="0.35"/><circle cx="162.8" cy="240.4" r="0.35"/><circle cx="178.1" cy="244.8" r="0.35"/><circle cx="176.0" cy="257.5" r="0.35"/><circle cx="165.0" cy="248.9" r="0.35"/><circle cx="166.5" cy="227.0" r="0.35"/><circle cx="180.1" cy="239.3" r="0.35"/><circle cx="179.9" cy="233.1" r="0.35"/><circle cx="163.1" cy="232.8" r="0.35"/><circle cx="164.9" cy="262.2" r="0.35"/><circle cx="144.7" cy="231.4" r="0.35"/><circle cx="193.5" cy="244.4" r="0.35"/><circle cx="166.9" cy="234.8" r="0.35"/><circle cx="188.7" cy="250.6" r="0.35"/><circle cx="175.8" cy="245.5" r="0.35"/><circle cx="197.2" cy="243.3" r="0.35"/><circle cx="191.5" cy="241.2" r="0.35"/><circle cx="174.5" cy="253.4" r="0.35"/><circle cx="190.7" cy="232.7" r="0.35"/><circle cx="156.7" cy="234.7" r="0.35"/><circle cx="187.6" cy="230.8" r="0.35"/><circle cx="149.3" cy="255.3" r="0.35"/><circle cx="174.8" cy="239.1" r="0.35"/><circle cx="184.9" cy="231.6" r="0.35"/><circle cx="173.1" cy="237.8" r="0.35"/><circle cx="164.9" cy="267.0" r="0.35"/><circle cx="158.7" cy="240.9" r="0.35"/><circle cx="165.2" cy="250.5" r="0.35"/><circle cx="184.7" cy="246.7" r="0.35"/><circle cx="182.5" cy="241.9" r="0.35"/><circle cx="166.3" cy="235.1" r="0.35"/><circle cx="152.6" cy="238.7" r="0.35"/><circle cx="179.4" cy="238.5" r="0.35"/><circle cx="149.7" cy="219.9" r="0.35"/><circle cx="162.6" cy="267.9" r="0.35"/><circle cx="159.7" cy="251.2" r="0.35"/><circle cx="180.4" cy="243.2" r="0.35"/><circle cx="173.3" cy="240.0" r="0.35"/><circle cx="176.5" cy="234.1" r="0.35"/><circle cx="173.8" cy="251.5" r="0.35"/><circle cx="160.5" cy="240.1" r="0.35"/><circle cx="177.5" cy="246.8" r="0.35"/><circle cx="189.8" cy="228.1" r="0.35"/><circle cx="169.5" cy="245.8" r="0.35"/><circle cx="178.9" cy="262.0" r="0.35"/><circle cx="168.2" cy="239.1" r="0.35"/><circle cx="184.4" cy="250.0" r="0.35"/><circle cx="179.3" cy="242.4" r="0.35"/><circle cx="182.3" cy="253.1" r="0.35"/><circle cx="174.9" cy="252.7" r="0.35"/><circle cx="193.0" cy="242.6" r="0.35"/><circle cx="164.9" cy="236.4" r="0.35"/><circle cx="165.3" cy="244.9" r="0.35"/><circle cx="161.7" cy="242.4" r="0.35"/><circle cx="178.6" cy="235.8" r="0.35"/><circle cx="161.3" cy="246.6" r="0.35"/><circle cx="161.0" cy="246.3" r="0.35"/><circle cx="180.2" cy="233.1" r="0.35"/><circle cx="186.3" cy="240.9" r="0.35"/><circle cx="178.0" cy="271.2" r="0.35"/><circle cx="132.4" cy="250.2" r="0.35"/><circle cx="156.6" cy="243.0" r="0.35"/><circle cx="155.0" cy="267.1" r="0.35"/><circle cx="153.1" cy="237.4" r="0.35"/><circle cx="164.3" cy="217.2" r="0.35"/><circle cx="195.4" cy="222.9" r="0.35"/><circle cx="165.7" cy="226.8" r="0.35"/><circle cx="159.7" cy="244.6" r="0.35"/><circle cx="179.8" cy="251.8" r="0.35"/><circle cx="171.0" cy="220.3" r="0.35"/><circle cx="171.7" cy="253.2" r="0.35"/><circle cx="160.4" cy="229.7" r="0.35"/><circle cx="170.0" cy="244.6" r="0.35"/><circle cx="176.1" cy="246.6" r="0.35"/><circle cx="143.2" cy="246.3" r="0.35"/><circle cx="147.5" cy="242.1" r="0.35"/><circle cx="185.2" cy="243.7" r="0.35"/><circle cx="181.8" cy="230.6" r="0.35"/><circle cx="162.9" cy="244.8" r="0.35"/><circle cx="155.7" cy="251.8" r="0.35"/><circle cx="167.4" cy="251.3" r="0.35"/><circle cx="153.3" cy="268.1" r="0.35"/><circle cx="165.2" cy="252.8" r="0.35"/></g>
<rect x="128.3" y="193.4" width="87.9" height="87.3" fill="none" stroke="#111" stroke-width="1.3"/>
<line x1="172.8" y1="193.4" x2="172.8" y2="280.7" stroke="#111" stroke-width="1.1"/>
<line x1="128.3" y1="237.8" x2="216.2" y2="237.8" stroke="#111" stroke-width="1.1"/>
<line x1="128.30" y1="280.7" x2="128.30" y2="283.5" stroke="#111" stroke-width="0.85"/>
<line x1="133.59" y1="280.7" x2="133.59" y2="282.4" stroke="#111" stroke-width="0.85"/>
<line x1="136.69" y1="280.7" x2="136.69" y2="282.4" stroke="#111" stroke-width="0.85"/>
<line x1="138.88" y1="280.7" x2="138.88" y2="282.4" stroke="#111" stroke-width="0.85"/>
<line x1="140.59" y1="280.7" x2="140.59" y2="282.4" stroke="#111" stroke-width="0.85"/>
<line x1="141.98" y1="280.7" x2="141.98" y2="282.4" stroke="#111" stroke-width="0.85"/>
<line x1="143.16" y1="280.7" x2="143.16" y2="282.4" stroke="#111" stroke-width="0.85"/>
<line x1="144.18" y1="280.7" x2="144.18" y2="282.4" stroke="#111" stroke-width="0.85"/>
<line x1="145.08" y1="280.7" x2="145.08" y2="282.4" stroke="#111" stroke-width="0.85"/>
<line x1="145.88" y1="280.7" x2="145.88" y2="283.5" stroke="#111" stroke-width="0.85"/>
<line x1="151.17" y1="280.7" x2="151.17" y2="282.4" stroke="#111" stroke-width="0.85"/>
<line x1="154.27" y1="280.7" x2="154.27" y2="282.4" stroke="#111" stroke-width="0.85"/>
<line x1="156.46" y1="280.7" x2="156.46" y2="282.4" stroke="#111" stroke-width="0.85"/>
<line x1="158.17" y1="280.7" x2="158.17" y2="282.4" stroke="#111" stroke-width="0.85"/>
<line x1="159.56" y1="280.7" x2="159.56" y2="282.4" stroke="#111" stroke-width="0.85"/>
<line x1="160.74" y1="280.7" x2="160.74" y2="282.4" stroke="#111" stroke-width="0.85"/>
<line x1="161.76" y1="280.7" x2="161.76" y2="282.4" stroke="#111" stroke-width="0.85"/>
<line x1="162.66" y1="280.7" x2="162.66" y2="282.4" stroke="#111" stroke-width="0.85"/>
<line x1="163.46" y1="280.7" x2="163.46" y2="283.5" stroke="#111" stroke-width="0.85"/>
<line x1="168.75" y1="280.7" x2="168.75" y2="282.4" stroke="#111" stroke-width="0.85"/>
<line x1="171.85" y1="280.7" x2="171.85" y2="282.4" stroke="#111" stroke-width="0.85"/>
<line x1="174.04" y1="280.7" x2="174.04" y2="282.4" stroke="#111" stroke-width="0.85"/>
<line x1="175.75" y1="280.7" x2="175.75" y2="282.4" stroke="#111" stroke-width="0.85"/>
<line x1="177.14" y1="280.7" x2="177.14" y2="282.4" stroke="#111" stroke-width="0.85"/>
<line x1="178.32" y1="280.7" x2="178.32" y2="282.4" stroke="#111" stroke-width="0.85"/>
<line x1="179.34" y1="280.7" x2="179.34" y2="282.4" stroke="#111" stroke-width="0.85"/>
<line x1="180.24" y1="280.7" x2="180.24" y2="282.4" stroke="#111" stroke-width="0.85"/>
<line x1="181.04" y1="280.7" x2="181.04" y2="283.5" stroke="#111" stroke-width="0.85"/>
<line x1="186.33" y1="280.7" x2="186.33" y2="282.4" stroke="#111" stroke-width="0.85"/>
<line x1="189.43" y1="280.7" x2="189.43" y2="282.4" stroke="#111" stroke-width="0.85"/>
<line x1="191.62" y1="280.7" x2="191.62" y2="282.4" stroke="#111" stroke-width="0.85"/>
<line x1="193.33" y1="280.7" x2="193.33" y2="282.4" stroke="#111" stroke-width="0.85"/>
<line x1="194.72" y1="280.7" x2="194.72" y2="282.4" stroke="#111" stroke-width="0.85"/>
<line x1="195.90" y1="280.7" x2="195.90" y2="282.4" stroke="#111" stroke-width="0.85"/>
<line x1="196.92" y1="280.7" x2="196.92" y2="282.4" stroke="#111" stroke-width="0.85"/>
<line x1="197.82" y1="280.7" x2="197.82" y2="282.4" stroke="#111" stroke-width="0.85"/>
<line x1="198.62" y1="280.7" x2="198.62" y2="283.5" stroke="#111" stroke-width="0.85"/>
<line x1="203.91" y1="280.7" x2="203.91" y2="282.4" stroke="#111" stroke-width="0.85"/>
<line x1="207.01" y1="280.7" x2="207.01" y2="282.4" stroke="#111" stroke-width="0.85"/>
<line x1="209.20" y1="280.7" x2="209.20" y2="282.4" stroke="#111" stroke-width="0.85"/>
<line x1="210.91" y1="280.7" x2="210.91" y2="282.4" stroke="#111" stroke-width="0.85"/>
<line x1="212.30" y1="280.7" x2="212.30" y2="282.4" stroke="#111" stroke-width="0.85"/>
<line x1="213.48" y1="280.7" x2="213.48" y2="282.4" stroke="#111" stroke-width="0.85"/>
<line x1="214.50" y1="280.7" x2="214.50" y2="282.4" stroke="#111" stroke-width="0.85"/>
<line x1="215.40" y1="280.7" x2="215.40" y2="282.4" stroke="#111" stroke-width="0.85"/>
<line x1="125.50000000000001" y1="280.70" x2="128.3" y2="280.70" stroke="#111" stroke-width="0.85"/>
<line x1="126.60000000000001" y1="275.44" x2="128.3" y2="275.44" stroke="#111" stroke-width="0.85"/>
<line x1="126.60000000000001" y1="272.37" x2="128.3" y2="272.37" stroke="#111" stroke-width="0.85"/>
<line x1="126.60000000000001" y1="270.19" x2="128.3" y2="270.19" stroke="#111" stroke-width="0.85"/>
<line x1="126.60000000000001" y1="268.50" x2="128.3" y2="268.50" stroke="#111" stroke-width="0.85"/>
<line x1="126.60000000000001" y1="267.11" x2="128.3" y2="267.11" stroke="#111" stroke-width="0.85"/>
<line x1="126.60000000000001" y1="265.94" x2="128.3" y2="265.94" stroke="#111" stroke-width="0.85"/>
<line x1="126.60000000000001" y1="264.93" x2="128.3" y2="264.93" stroke="#111" stroke-width="0.85"/>
<line x1="126.60000000000001" y1="264.04" x2="128.3" y2="264.04" stroke="#111" stroke-width="0.85"/>
<line x1="125.50000000000001" y1="263.24" x2="128.3" y2="263.24" stroke="#111" stroke-width="0.85"/>
<line x1="126.60000000000001" y1="257.98" x2="128.3" y2="257.98" stroke="#111" stroke-width="0.85"/>
<line x1="126.60000000000001" y1="254.91" x2="128.3" y2="254.91" stroke="#111" stroke-width="0.85"/>
<line x1="126.60000000000001" y1="252.73" x2="128.3" y2="252.73" stroke="#111" stroke-width="0.85"/>
<line x1="126.60000000000001" y1="251.04" x2="128.3" y2="251.04" stroke="#111" stroke-width="0.85"/>
<line x1="126.60000000000001" y1="249.65" x2="128.3" y2="249.65" stroke="#111" stroke-width="0.85"/>
<line x1="126.60000000000001" y1="248.48" x2="128.3" y2="248.48" stroke="#111" stroke-width="0.85"/>
<line x1="126.60000000000001" y1="247.47" x2="128.3" y2="247.47" stroke="#111" stroke-width="0.85"/>
<line x1="126.60000000000001" y1="246.58" x2="128.3" y2="246.58" stroke="#111" stroke-width="0.85"/>
<line x1="125.50000000000001" y1="245.78" x2="128.3" y2="245.78" stroke="#111" stroke-width="0.85"/>
<line x1="126.60000000000001" y1="240.52" x2="128.3" y2="240.52" stroke="#111" stroke-width="0.85"/>
<line x1="126.60000000000001" y1="237.45" x2="128.3" y2="237.45" stroke="#111" stroke-width="0.85"/>
<line x1="126.60000000000001" y1="235.27" x2="128.3" y2="235.27" stroke="#111" stroke-width="0.85"/>
<line x1="126.60000000000001" y1="233.58" x2="128.3" y2="233.58" stroke="#111" stroke-width="0.85"/>
<line x1="126.60000000000001" y1="232.19" x2="128.3" y2="232.19" stroke="#111" stroke-width="0.85"/>
<line x1="126.60000000000001" y1="231.02" x2="128.3" y2="231.02" stroke="#111" stroke-width="0.85"/>
<line x1="126.60000000000001" y1="230.01" x2="128.3" y2="230.01" stroke="#111" stroke-width="0.85"/>
<line x1="126.60000000000001" y1="229.12" x2="128.3" y2="229.12" stroke="#111" stroke-width="0.85"/>
<line x1="125.50000000000001" y1="228.32" x2="128.3" y2="228.32" stroke="#111" stroke-width="0.85"/>
<line x1="126.60000000000001" y1="223.06" x2="128.3" y2="223.06" stroke="#111" stroke-width="0.85"/>
<line x1="126.60000000000001" y1="219.99" x2="128.3" y2="219.99" stroke="#111" stroke-width="0.85"/>
<line x1="126.60000000000001" y1="217.81" x2="128.3" y2="217.81" stroke="#111" stroke-width="0.85"/>
<line x1="126.60000000000001" y1="216.12" x2="128.3" y2="216.12" stroke="#111" stroke-width="0.85"/>
<line x1="126.60000000000001" y1="214.73" x2="128.3" y2="214.73" stroke="#111" stroke-width="0.85"/>
<line x1="126.60000000000001" y1="213.56" x2="128.3" y2="213.56" stroke="#111" stroke-width="0.85"/>
<line x1="126.60000000000001" y1="212.55" x2="128.3" y2="212.55" stroke="#111" stroke-width="0.85"/>
<line x1="126.60000000000001" y1="211.66" x2="128.3" y2="211.66" stroke="#111" stroke-width="0.85"/>
<line x1="125.50000000000001" y1="210.86" x2="128.3" y2="210.86" stroke="#111" stroke-width="0.85"/>
<line x1="126.60000000000001" y1="205.60" x2="128.3" y2="205.60" stroke="#111" stroke-width="0.85"/>
<line x1="126.60000000000001" y1="202.53" x2="128.3" y2="202.53" stroke="#111" stroke-width="0.85"/>
<line x1="126.60000000000001" y1="200.35" x2="128.3" y2="200.35" stroke="#111" stroke-width="0.85"/>
<line x1="126.60000000000001" y1="198.66" x2="128.3" y2="198.66" stroke="#111" stroke-width="0.85"/>
<line x1="126.60000000000001" y1="197.27" x2="128.3" y2="197.27" stroke="#111" stroke-width="0.85"/>
<line x1="126.60000000000001" y1="196.10" x2="128.3" y2="196.10" stroke="#111" stroke-width="0.85"/>
<line x1="126.60000000000001" y1="195.09" x2="128.3" y2="195.09" stroke="#111" stroke-width="0.85"/>
<line x1="126.60000000000001" y1="194.20" x2="128.3" y2="194.20" stroke="#111" stroke-width="0.85"/>
<text x="130.6" y="202.7" font-size="8.7" fill="#1a1a1a" stroke="#1a1a1a" stroke-width="0.1" text-anchor="start" textLength="12.3" lengthAdjust="spacingAndGlyphs">17.1</text>
<text x="192.9" y="202.7" font-size="8.7" fill="#1a1a1a" stroke="#1a1a1a" stroke-width="0.1" text-anchor="start" textLength="13.8" lengthAdjust="spacingAndGlyphs">6.48</text>
<text x="188.3" y="212.1" font-size="8.7" fill="#bd1f48" stroke="#bd1f48" stroke-width="0.1" text-anchor="start" textLength="23.3" lengthAdjust="spacingAndGlyphs">ST-HSC</text>
<text x="188.5" y="266.4" font-size="8.7" fill="#1a1a1a" stroke="#1a1a1a" stroke-width="0.1" text-anchor="start" textLength="21.7" lengthAdjust="spacingAndGlyphs">LT-HSC</text>
<text x="193.2" y="275.7" font-size="8.7" fill="#1a1a1a" stroke="#1a1a1a" stroke-width="0.1" text-anchor="start" textLength="12.6" lengthAdjust="spacingAndGlyphs">51.4</text>
<text x="131.4" y="276.4" font-size="8.7" fill="#1a1a1a" stroke="#1a1a1a" stroke-width="0.1" text-anchor="start" textLength="13.6" lengthAdjust="spacingAndGlyphs">25.0</text>
<line x1="19.2" y1="289.3" x2="19.2" y2="202" stroke="#111" stroke-width="1.1"/>
<line x1="19.2" y1="289.3" x2="206" y2="289.3" stroke="#111" stroke-width="1.1"/>
<polygon points="16.9,202.9 19.2,197.4 21.5,202.9" fill="#111"/>
<polygon points="204.5,287.0 210.0,289.3 204.5,291.6" fill="#111"/>
<line x1="254.6" y1="172.8" x2="254.6" y2="281.8" stroke="#111" stroke-width="1.2"/>
<line x1="254.0" y1="281.2" x2="335.2" y2="281.2" stroke="#111" stroke-width="1.2"/>
<line x1="251.0" y1="281.2" x2="254.6" y2="281.2" stroke="#111" stroke-width="1.1"/>
<line x1="251.0" y1="246.4" x2="254.6" y2="246.4" stroke="#111" stroke-width="1.1"/>
<line x1="251.0" y1="211.6" x2="254.6" y2="211.6" stroke="#111" stroke-width="1.1"/>
<line x1="251.0" y1="176.8" x2="254.6" y2="176.8" stroke="#111" stroke-width="1.1"/>
<text x="247.9" y="283.9" font-size="8.4" fill="#1a1a1a" stroke="#1a1a1a" stroke-width="0.1" text-anchor="end">0</text>
<text x="247.9" y="249.1" font-size="8.4" fill="#1a1a1a" stroke="#1a1a1a" stroke-width="0.1" text-anchor="end">20</text>
<text x="247.9" y="214.3" font-size="8.4" fill="#1a1a1a" stroke="#1a1a1a" stroke-width="0.1" text-anchor="end">40</text>
<text x="247.9" y="179.5" font-size="8.4" fill="#1a1a1a" stroke="#1a1a1a" stroke-width="0.1" text-anchor="end">60</text>
<line x1="274.0" y1="281.2" x2="274.0" y2="284.2" stroke="#111" stroke-width="1.1"/>
<line x1="314.5" y1="281.2" x2="314.5" y2="284.2" stroke="#111" stroke-width="1.1"/>
<text x="274.4" y="294.9" font-size="8.4" fill="#1a1a1a" stroke="#1a1a1a" stroke-width="0.1" text-anchor="middle" textLength="24.9" lengthAdjust="spacingAndGlyphs">ST-HSC</text>
<text x="314.2" y="294.9" font-size="8.4" fill="#1a1a1a" stroke="#1a1a1a" stroke-width="0.1" text-anchor="middle" textLength="24.2" lengthAdjust="spacingAndGlyphs">LT-HSC</text>
<text x="232.0" y="251.0" font-size="9.9" fill="#1a1a1a" stroke="#1a1a1a" stroke-width="0.1" text-anchor="start" textLength="47.6" lengthAdjust="spacingAndGlyphs" transform="rotate(-90 232.0 251.0)">Percentage</text>
<rect x="261.40" y="256.30" width="11.00" height="24.70" fill="#2e4a7e" stroke="#223d6c" stroke-width="0.6"/>
<line x1="266.9" y1="256.0" x2="266.9" y2="245.6" stroke="#222" stroke-width="1.0"/>
<line x1="263.9" y1="245.6" x2="269.9" y2="245.6" stroke="#222" stroke-width="1.0"/>
<rect x="276.40" y="236.40" width="11.10" height="44.60" fill="#a6002f" stroke="#8e0029" stroke-width="0.6"/>
<line x1="281.95" y1="236.1" x2="281.95" y2="230.3" stroke="#222" stroke-width="1.0"/>
<line x1="278.95" y1="230.3" x2="284.95" y2="230.3" stroke="#222" stroke-width="1.0"/>
<rect x="301.40" y="212.10" width="11.10" height="68.90" fill="#2e4a7e" stroke="#223d6c" stroke-width="0.6"/>
<line x1="306.95" y1="211.8" x2="306.95" y2="194.4" stroke="#222" stroke-width="1.0"/>
<line x1="303.95" y1="194.4" x2="309.95" y2="194.4" stroke="#222" stroke-width="1.0"/>
<rect x="316.50" y="247.70" width="11.20" height="33.30" fill="#a6002f" stroke="#8e0029" stroke-width="0.6"/>
<line x1="322.1" y1="247.4" x2="322.1" y2="242.2" stroke="#222" stroke-width="1.0"/>
<line x1="319.1" y1="242.2" x2="325.1" y2="242.2" stroke="#222" stroke-width="1.0"/>
<text x="281.5" y="230.0" font-size="6.5" fill="#1a1a1a" stroke="#1a1a1a" stroke-width="0.1" text-anchor="middle">**</text>
<text x="322.1" y="241.2" font-size="6.5" fill="#1a1a1a" stroke="#1a1a1a" stroke-width="0.1" text-anchor="middle">*</text>
<rect x="260.40" y="180.00" width="8.60" height="5.00" fill="#2e4a7e"/>
<rect x="260.40" y="191.40" width="8.60" height="5.00" fill="#a6002f"/>
<text x="272.4" y="185.2" font-size="8.4" fill="#1a1a1a" stroke="#1a1a1a" stroke-width="0.1" text-anchor="start" textLength="25.5" lengthAdjust="spacingAndGlyphs">E84-low</text>
<text x="272.4" y="196.4" font-size="8.4" fill="#1a1a1a" stroke="#1a1a1a" stroke-width="0.1" text-anchor="start" textLength="21.2" lengthAdjust="spacingAndGlyphs">E84-Hi</text>
<line x1="377.15" y1="180.0" x2="377.15" y2="281.9" stroke="#111" stroke-width="1.3"/>
<line x1="373.9" y1="281.35" x2="512.7" y2="281.35" stroke="#111" stroke-width="1.2"/>
<line x1="373.9" y1="281.3" x2="377.15" y2="281.3" stroke="#111" stroke-width="1.1"/>
<text x="370.6" y="284.0" font-size="8.4" fill="#1a1a1a" stroke="#1a1a1a" stroke-width="0.1" text-anchor="end">0</text>
<line x1="373.9" y1="261.7" x2="377.15" y2="261.7" stroke="#111" stroke-width="1.1"/>
<text x="370.6" y="264.4" font-size="8.4" fill="#1a1a1a" stroke="#1a1a1a" stroke-width="0.1" text-anchor="end">1</text>
<line x1="373.9" y1="242.1" x2="377.15" y2="242.1" stroke="#111" stroke-width="1.1"/>
<text x="370.6" y="244.8" font-size="8.4" fill="#1a1a1a" stroke="#1a1a1a" stroke-width="0.1" text-anchor="end">2</text>
<line x1="373.9" y1="222.5" x2="377.15" y2="222.5" stroke="#111" stroke-width="1.1"/>
<text x="370.6" y="225.2" font-size="8.4" fill="#1a1a1a" stroke="#1a1a1a" stroke-width="0.1" text-anchor="end">3</text>
<line x1="373.9" y1="202.9" x2="377.15" y2="202.9" stroke="#111" stroke-width="1.1"/>
<text x="370.6" y="205.6" font-size="8.4" fill="#1a1a1a" stroke="#1a1a1a" stroke-width="0.1" text-anchor="end">4</text>
<line x1="373.9" y1="183.3" x2="377.15" y2="183.3" stroke="#111" stroke-width="1.1"/>
<text x="370.6" y="186.0" font-size="8.4" fill="#1a1a1a" stroke="#1a1a1a" stroke-width="0.1" text-anchor="end">5</text>
<line x1="386.7" y1="281.3" x2="386.7" y2="284.3" stroke="#111" stroke-width="1.1"/>
<text x="386.7" y="295.1" font-size="8.4" fill="#1a1a1a" stroke="#1a1a1a" stroke-width="0.1" text-anchor="middle">0</text>
<line x1="406.03" y1="281.3" x2="406.03" y2="284.3" stroke="#111" stroke-width="1.1"/>
<text x="406.03" y="295.1" font-size="8.4" fill="#1a1a1a" stroke="#1a1a1a" stroke-width="0.1" text-anchor="middle">1</text>
<line x1="425.36" y1="281.3" x2="425.36" y2="284.3" stroke="#111" stroke-width="1.1"/>
<text x="425.36" y="295.1" font-size="8.4" fill="#1a1a1a" stroke="#1a1a1a" stroke-width="0.1" text-anchor="middle">2</text>
<line x1="444.69" y1="281.3" x2="444.69" y2="284.3" stroke="#111" stroke-width="1.1"/>
<text x="444.69" y="295.1" font-size="8.4" fill="#1a1a1a" stroke="#1a1a1a" stroke-width="0.1" text-anchor="middle">3</text>
<line x1="464.02" y1="281.3" x2="464.02" y2="284.3" stroke="#111" stroke-width="1.1"/>
<text x="464.02" y="295.1" font-size="8.4" fill="#1a1a1a" stroke="#1a1a1a" stroke-width="0.1" text-anchor="middle">4</text>
<line x1="483.35" y1="281.3" x2="483.35" y2="284.3" stroke="#111" stroke-width="1.1"/>
<text x="483.35" y="295.1" font-size="8.4" fill="#1a1a1a" stroke="#1a1a1a" stroke-width="0.1" text-anchor="middle">5</text>
<line x1="502.68" y1="281.3" x2="502.68" y2="284.3" stroke="#111" stroke-width="1.1"/>
<text x="502.68" y="295.1" font-size="8.4" fill="#1a1a1a" stroke="#1a1a1a" stroke-width="0.1" text-anchor="middle">6</text>
<text x="444.6" y="308.7" font-size="9.9" fill="#1a1a1a" stroke="#1a1a1a" stroke-width="0.1" text-anchor="middle" textLength="22.0" lengthAdjust="spacingAndGlyphs">(Day)</text>
<text x="360.0" y="282.0" font-size="9.9" fill="#1a1a1a" stroke="#1a1a1a" stroke-width="0.1" text-anchor="start" textLength="103.2" lengthAdjust="spacingAndGlyphs" transform="rotate(-90 360.0 282.0)">Fold change cell viability</text>
<path d="M386.70,260.72V262.68M383.70,260.72h6M383.70,262.68h6" stroke="#6cae45" stroke-width="1.2" fill="none"/>
<path d="M406.03,260.13V261.31M403.03,260.13h6M403.03,261.31h6" stroke="#6cae45" stroke-width="1.2" fill="none"/>
<path d="M425.36,256.60V258.96M422.36,256.60h6M422.36,258.96h6" stroke="#6cae45" stroke-width="1.2" fill="none"/>
<path d="M444.69,233.87V242.49M441.69,233.87h6M441.69,242.49h6" stroke="#6cae45" stroke-width="1.2" fill="none"/>
<path d="M464.02,224.46V234.26M461.02,224.46h6M461.02,234.26h6" stroke="#6cae45" stroke-width="1.2" fill="none"/>
<path d="M483.35,210.74V222.50M480.35,210.74h6M480.35,222.50h6" stroke="#6cae45" stroke-width="1.2" fill="none"/>
<path d="M502.68,199.96V227.40M499.68,199.96h6M499.68,227.40h6" stroke="#6cae45" stroke-width="1.2" fill="none"/>
<polyline points="386.70,261.70 406.03,260.72 425.36,257.78 444.69,238.18 464.02,229.36 483.35,216.62 502.68,213.68" fill="none" stroke="#6cae45" stroke-width="1.6" stroke-linejoin="round"/>
<polygon points="384.20,263.50 386.70,259.30 389.20,263.50" fill="#6cae45"/>
<polygon points="403.53,262.52 406.03,258.32 408.53,262.52" fill="#6cae45"/>
<polygon points="422.86,259.58 425.36,255.38 427.86,259.58" fill="#6cae45"/>
<polygon points="442.19,239.98 444.69,235.78 447.19,239.98" fill="#6cae45"/>
<polygon points="461.52,231.16 464.02,226.96 466.52,231.16" fill="#6cae45"/>
<polygon points="480.85,218.42 483.35,214.22 485.85,218.42" fill="#6cae45"/>
<polygon points="500.18,215.48 502.68,211.28 505.18,215.48" fill="#6cae45"/>
<path d="M386.70,259.54V263.86M383.70,259.54h6M383.70,263.86h6" stroke="#b0153c" stroke-width="1.2" fill="none"/>
<path d="M406.03,260.13V262.09M403.03,260.13h6M403.03,262.09h6" stroke="#b0153c" stroke-width="1.2" fill="none"/>
<path d="M425.36,257.98V260.33M422.36,257.98h6M422.36,260.33h6" stroke="#b0153c" stroke-width="1.2" fill="none"/>
<path d="M444.69,237.20V245.82M441.69,237.20h6M441.69,245.82h6" stroke="#b0153c" stroke-width="1.2" fill="none"/>
<path d="M464.02,224.46V236.22M461.02,224.46h6M461.02,236.22h6" stroke="#b0153c" stroke-width="1.2" fill="none"/>
<path d="M483.35,212.90V223.48M480.35,212.90h6M480.35,223.48h6" stroke="#b0153c" stroke-width="1.2" fill="none"/>
<path d="M502.68,217.80V222.50M499.68,217.80h6M499.68,222.50h6" stroke="#b0153c" stroke-width="1.2" fill="none"/>
<polyline points="386.70,261.70 406.03,261.11 425.36,259.15 444.69,241.51 464.02,230.34 483.35,218.19 502.68,220.15" fill="none" stroke="#b0153c" stroke-width="1.6" stroke-linejoin="round"/>
<rect x="384.50" y="259.50" width="4.4" height="4.4" fill="#b0153c"/>
<rect x="403.83" y="258.91" width="4.4" height="4.4" fill="#b0153c"/>
<rect x="423.16" y="256.95" width="4.4" height="4.4" fill="#b0153c"/>
<rect x="442.49" y="239.31" width="4.4" height="4.4" fill="#b0153c"/>
<rect x="461.82" y="228.14" width="4.4" height="4.4" fill="#b0153c"/>
<rect x="481.15" y="215.99" width="4.4" height="4.4" fill="#b0153c"/>
<rect x="500.48" y="217.95" width="4.4" height="4.4" fill="#b0153c"/>
<path d="M386.70,260.52V262.88M383.70,260.52h6M383.70,262.88h6" stroke="#2f5597" stroke-width="1.2" fill="none"/>
<path d="M406.03,260.33V261.90M403.03,260.33h6M403.03,261.90h6" stroke="#2f5597" stroke-width="1.2" fill="none"/>
<path d="M425.36,257.19V259.94M422.36,257.19h6M422.36,259.94h6" stroke="#2f5597" stroke-width="1.2" fill="none"/>
<path d="M444.69,238.57V242.49M441.69,238.57h6M441.69,242.49h6" stroke="#2f5597" stroke-width="1.2" fill="none"/>
<path d="M464.02,227.40V234.06M461.02,227.40h6M461.02,234.06h6" stroke="#2f5597" stroke-width="1.2" fill="none"/>
<path d="M483.35,218.78V223.87M480.35,218.78h6M480.35,223.87h6" stroke="#2f5597" stroke-width="1.2" fill="none"/>
<path d="M502.68,210.35V217.01M499.68,210.35h6M499.68,217.01h6" stroke="#2f5597" stroke-width="1.2" fill="none"/>
<polyline points="386.70,261.70 406.03,261.11 425.36,258.56 444.69,240.53 464.02,230.73 483.35,221.32 502.68,213.68" fill="none" stroke="#2f5597" stroke-width="1.6" stroke-linejoin="round"/>
<circle cx="386.70" cy="261.70" r="2.2" fill="none" stroke="#2f5597" stroke-width="1.3"/>
<circle cx="406.03" cy="261.11" r="2.2" fill="none" stroke="#2f5597" stroke-width="1.3"/>
<circle cx="425.36" cy="258.56" r="2.2" fill="none" stroke="#2f5597" stroke-width="1.3"/>
<circle cx="444.69" cy="240.53" r="2.2" fill="none" stroke="#2f5597" stroke-width="1.3"/>
<circle cx="464.02" cy="230.73" r="2.2" fill="none" stroke="#2f5597" stroke-width="1.3"/>
<circle cx="483.35" cy="221.32" r="2.2" fill="none" stroke="#2f5597" stroke-width="1.3"/>
<circle cx="502.68" cy="213.68" r="2.2" fill="none" stroke="#2f5597" stroke-width="1.3"/>
<text x="496.6" y="238.8" font-size="7.8" fill="#1a1a1a" stroke="#1a1a1a" stroke-width="0.1" text-anchor="start" textLength="10.4" lengthAdjust="spacingAndGlyphs">n.s.</text>
<line x1="391.7" y1="199.4" x2="399.9" y2="199.4" stroke="#2f5597" stroke-width="1.3"/>
<circle cx="395.80" cy="199.40" r="2.2" fill="none" stroke="#2f5597" stroke-width="1.3"/>
<line x1="391.7" y1="210.2" x2="399.9" y2="210.2" stroke="#b0153c" stroke-width="1.3"/>
<rect x="393.60" y="208.00" width="4.4" height="4.4" fill="#b0153c"/>
<line x1="391.7" y1="221.9" x2="399.9" y2="221.9" stroke="#6cae45" stroke-width="1.3"/>
<polygon points="393.30,223.70 395.80,219.50 398.30,223.70" fill="#6cae45"/>
<text x="403.2" y="201.9" font-size="8.4" fill="#1a1a1a" stroke="#1a1a1a" stroke-width="0.1" text-anchor="start" textLength="27.3" lengthAdjust="spacingAndGlyphs">E84-Low</text>
<text x="403.2" y="212.9" font-size="8.4" fill="#1a1a1a" stroke="#1a1a1a" stroke-width="0.1" text-anchor="start" textLength="29.6" lengthAdjust="spacingAndGlyphs">E84-High</text>
<text x="403.2" y="223.7" font-size="8.4" fill="#1a1a1a" stroke="#1a1a1a" stroke-width="0.1" text-anchor="start" textLength="43.7" lengthAdjust="spacingAndGlyphs">LSK Unsorted</text>
<text x="9.8" y="337.5" font-size="10.4" fill="#1a1a1a" stroke="#1a1a1a" stroke-width="0.1" text-anchor="start">E</text>
<line x1="38.3" y1="345.5" x2="38.3" y2="456.9" stroke="#111" stroke-width="1.3"/>
<line x1="38.3" y1="456.3" x2="147.6" y2="456.3" stroke="#111" stroke-width="1.2"/>
<line x1="35.3" y1="456.4" x2="38.3" y2="456.4" stroke="#111" stroke-width="1.0"/>
<text x="30.8" y="459.1" font-size="8.4" fill="#1a1a1a" stroke="#1a1a1a" stroke-width="0.1" text-anchor="end">0</text>
<line x1="35.3" y1="420.53" x2="38.3" y2="420.53" stroke="#111" stroke-width="1.0"/>
<text x="30.8" y="423.23" font-size="8.4" fill="#1a1a1a" stroke="#1a1a1a" stroke-width="0.1" text-anchor="end">10</text>
<line x1="35.3" y1="384.66" x2="38.3" y2="384.66" stroke="#111" stroke-width="1.0"/>
<text x="30.8" y="387.36" font-size="8.4" fill="#1a1a1a" stroke="#1a1a1a" stroke-width="0.1" text-anchor="end">20</text>
<line x1="35.3" y1="348.79" x2="38.3" y2="348.79" stroke="#111" stroke-width="1.0"/>
<text x="30.8" y="351.49" font-size="8.4" fill="#1a1a1a" stroke="#1a1a1a" stroke-width="0.1" text-anchor="end">30</text>
<line x1="65.7" y1="456.4" x2="65.7" y2="459.4" stroke="#111" stroke-width="1.0"/>
<line x1="120.4" y1="456.4" x2="120.4" y2="459.4" stroke="#111" stroke-width="1.0"/>
<text x="15.8" y="441.0" font-size="9.9" fill="#1a1a1a" stroke="#1a1a1a" stroke-width="0.1" text-anchor="start" textLength="101.6" lengthAdjust="spacingAndGlyphs" transform="rotate(-90 15.8 441.0)">Percentage of annexin V</text>
<text x="16.2" y="337.0" font-size="6.0" fill="#1a1a1a" stroke="#1a1a1a" stroke-width="0.1" text-anchor="start" transform="rotate(-90 16.2 337.0)">+</text>
<rect x="45.60" y="374.56" width="9.80" height="81.84" fill="#a6002f" stroke="#8e0029" stroke-width="0.6"/>
<line x1="50.5" y1="374.2577" x2="50.5" y2="368.15979999999996" stroke="#222" stroke-width="1.0"/>
<line x1="47.5" y1="368.15979999999996" x2="53.5" y2="368.15979999999996" stroke="#222" stroke-width="1.0"/>
<rect x="60.60" y="390.70" width="9.80" height="65.70" fill="#2e4a7e" stroke="#223d6c" stroke-width="0.6"/>
<line x1="65.5" y1="390.39919999999995" x2="65.5" y2="373.899" stroke="#222" stroke-width="1.0"/>
<line x1="62.5" y1="373.899" x2="68.5" y2="373.899" stroke="#222" stroke-width="1.0"/>
<rect x="75.60" y="383.53" width="9.80" height="72.87" fill="#6aa842" stroke="#5a9836" stroke-width="0.6"/>
<line x1="80.5" y1="383.2252" x2="80.5" y2="378.5621" stroke="#222" stroke-width="1.0"/>
<line x1="77.5" y1="378.5621" x2="83.5" y2="378.5621" stroke="#222" stroke-width="1.0"/>
<rect x="100.00" y="414.01" width="9.70" height="42.39" fill="#a6002f" stroke="#8e0029" stroke-width="0.6"/>
<line x1="104.85" y1="413.7147" x2="104.85" y2="412.6386" stroke="#222" stroke-width="1.0"/>
<line x1="101.85" y1="412.6386" x2="107.85" y2="412.6386" stroke="#222" stroke-width="1.0"/>
<rect x="115.00" y="422.98" width="9.70" height="33.42" fill="#2e4a7e" stroke="#223d6c" stroke-width="0.6"/>
<line x1="119.85" y1="422.68219999999997" x2="119.85" y2="416.5843" stroke="#222" stroke-width="1.0"/>
<line x1="116.85" y1="416.5843" x2="122.85" y2="416.5843" stroke="#222" stroke-width="1.0"/>
<rect x="130.30" y="406.84" width="9.80" height="49.56" fill="#6aa842" stroke="#5a9836" stroke-width="0.6"/>
<line x1="135.2" y1="406.54069999999996" x2="135.2" y2="405.10589999999996" stroke="#222" stroke-width="1.0"/>
<line x1="132.2" y1="405.10589999999996" x2="138.2" y2="405.10589999999996" stroke="#222" stroke-width="1.0"/>
<line x1="49.3" y1="364.0" x2="79.3" y2="364.0" stroke="#555" stroke-width="1.2"/>
<line x1="106.1" y1="401.0" x2="135.7" y2="401.0" stroke="#555" stroke-width="1.2"/>
<text x="58.3" y="361.7" font-size="7.8" fill="#1a1a1a" stroke="#1a1a1a" stroke-width="0.1" text-anchor="start" textLength="11.0" lengthAdjust="spacingAndGlyphs">n.s.</text>
<text x="114.7" y="398.7" font-size="7.8" fill="#1a1a1a" stroke="#1a1a1a" stroke-width="0.1" text-anchor="start" textLength="10.6" lengthAdjust="spacingAndGlyphs">n.s.</text>
<rect x="101.90" y="353.60" width="7.70" height="4.30" fill="#a6002f"/>
<rect x="101.90" y="365.40" width="7.70" height="4.00" fill="#2e4a7e"/>
<rect x="101.90" y="377.10" width="7.70" height="4.00" fill="#6aa842"/>
<text x="112.9" y="358.3" font-size="8.4" fill="#1a1a1a" stroke="#1a1a1a" stroke-width="0.1" text-anchor="start" textLength="29.0" lengthAdjust="spacingAndGlyphs">E84 High</text>
<text x="112.9" y="369.7" font-size="8.4" fill="#1a1a1a" stroke="#1a1a1a" stroke-width="0.1" text-anchor="start" textLength="27.5" lengthAdjust="spacingAndGlyphs">E84 Low</text>
<text x="112.9" y="381.4" font-size="8.4" fill="#1a1a1a" stroke="#1a1a1a" stroke-width="0.1" text-anchor="start" textLength="30.0" lengthAdjust="spacingAndGlyphs">Unsorted</text>
<text x="65.4" y="470.8" font-size="8.4" fill="#1a1a1a" stroke="#1a1a1a" stroke-width="0.1" text-anchor="middle" textLength="31.4" lengthAdjust="spacingAndGlyphs">24 Hours</text>
<text x="65.4" y="480.6" font-size="8.4" fill="#1a1a1a" stroke="#1a1a1a" stroke-width="0.1" text-anchor="middle" textLength="31.4" lengthAdjust="spacingAndGlyphs">Post Sort</text>
<text x="120.2" y="470.8" font-size="8.4" fill="#1a1a1a" stroke="#1a1a1a" stroke-width="0.1" text-anchor="middle" textLength="31.1" lengthAdjust="spacingAndGlyphs">96 Hours</text>
<text x="120.2" y="480.6" font-size="8.4" fill="#1a1a1a" stroke="#1a1a1a" stroke-width="0.1" text-anchor="middle" textLength="31.4" lengthAdjust="spacingAndGlyphs">Post Sort</text>
<text x="204.5" y="349.4" font-size="9.9" fill="#1a1a1a" stroke="#1a1a1a" stroke-width="0.1" text-anchor="start" textLength="17.6" lengthAdjust="spacingAndGlyphs">CFU</text>
<line x1="194.4" y1="355.3" x2="194.4" y2="456.9" stroke="#111" stroke-width="1.3"/>
<line x1="194.4" y1="456.4" x2="232.1" y2="456.4" stroke="#111" stroke-width="1.2"/>
<line x1="191.3" y1="456.4" x2="194.3" y2="456.4" stroke="#111" stroke-width="1.0"/>
<text x="186.7" y="459.1" font-size="8.4" fill="#1a1a1a" stroke="#1a1a1a" stroke-width="0.1" text-anchor="end">0</text>
<line x1="191.3" y1="436.8" x2="194.3" y2="436.8" stroke="#111" stroke-width="1.0"/>
<text x="186.7" y="439.5" font-size="8.4" fill="#1a1a1a" stroke="#1a1a1a" stroke-width="0.1" text-anchor="end">5</text>
<line x1="191.3" y1="417.2" x2="194.3" y2="417.2" stroke="#111" stroke-width="1.0"/>
<text x="186.7" y="419.9" font-size="8.4" fill="#1a1a1a" stroke="#1a1a1a" stroke-width="0.1" text-anchor="end">10</text>
<line x1="191.3" y1="397.6" x2="194.3" y2="397.6" stroke="#111" stroke-width="1.0"/>
<text x="186.7" y="400.3" font-size="8.4" fill="#1a1a1a" stroke="#1a1a1a" stroke-width="0.1" text-anchor="end">15</text>
<line x1="191.3" y1="378.0" x2="194.3" y2="378.0" stroke="#111" stroke-width="1.0"/>
<text x="186.7" y="380.7" font-size="8.4" fill="#1a1a1a" stroke="#1a1a1a" stroke-width="0.1" text-anchor="end">20</text>
<line x1="191.3" y1="358.4" x2="194.3" y2="358.4" stroke="#111" stroke-width="1.0"/>
<text x="186.7" y="361.1" font-size="8.4" fill="#1a1a1a" stroke="#1a1a1a" stroke-width="0.1" text-anchor="end">25</text>
<line x1="203.6" y1="456.4" x2="203.6" y2="459.4" stroke="#111" stroke-width="1.0"/>
<line x1="223.3" y1="456.4" x2="223.3" y2="459.4" stroke="#111" stroke-width="1.0"/>
<text x="172.4" y="434.2" font-size="9.9" fill="#1a1a1a" stroke="#1a1a1a" stroke-width="0.1" text-anchor="start" textLength="56.2" lengthAdjust="spacingAndGlyphs" transform="rotate(-90 172.4 434.2)">Colony count</text>
<rect x="197.40" y="385.75" width="13.00" height="70.65" fill="#2e4a7e" stroke="#223d6c" stroke-width="0.6"/>
<line x1="203.9" y1="385.448" x2="203.9" y2="363.104" stroke="#222" stroke-width="1.0"/>
<line x1="200.9" y1="363.104" x2="206.9" y2="363.104" stroke="#222" stroke-width="1.0"/>
<rect x="216.50" y="438.67" width="13.20" height="17.73" fill="#a6002f" stroke="#8e0029" stroke-width="0.6"/>
<line x1="223.1" y1="438.368" x2="223.1" y2="430.52799999999996" stroke="#222" stroke-width="1.0"/>
<line x1="220.1" y1="430.52799999999996" x2="226.1" y2="430.52799999999996" stroke="#222" stroke-width="1.0"/>
<text x="223.1" y="429.4" font-size="6.5" fill="#1a1a1a" stroke="#1a1a1a" stroke-width="0.1" text-anchor="middle">*</text>
<text x="203.3" y="470.7" font-size="8.4" fill="#1a1a1a" stroke="#1a1a1a" stroke-width="0.1" text-anchor="middle" textLength="11.9" lengthAdjust="spacingAndGlyphs">E84</text>
<text x="204.0" y="480.0" font-size="8.4" fill="#1a1a1a" stroke="#1a1a1a" stroke-width="0.1" text-anchor="middle" textLength="14.2" lengthAdjust="spacingAndGlyphs">Low</text>
<text x="222.9" y="470.7" font-size="8.4" fill="#1a1a1a" stroke="#1a1a1a" stroke-width="0.1" text-anchor="middle" textLength="12.0" lengthAdjust="spacingAndGlyphs">E84</text>
<text x="223.3" y="480.0" font-size="8.4" fill="#1a1a1a" stroke="#1a1a1a" stroke-width="0.1" text-anchor="middle" textLength="16.6" lengthAdjust="spacingAndGlyphs">High</text>
<rect x="0.65" y="0.65" width="518.6" height="488.6" fill="none" stroke="#000" stroke-width="1.5"/>
</svg></body></html>
